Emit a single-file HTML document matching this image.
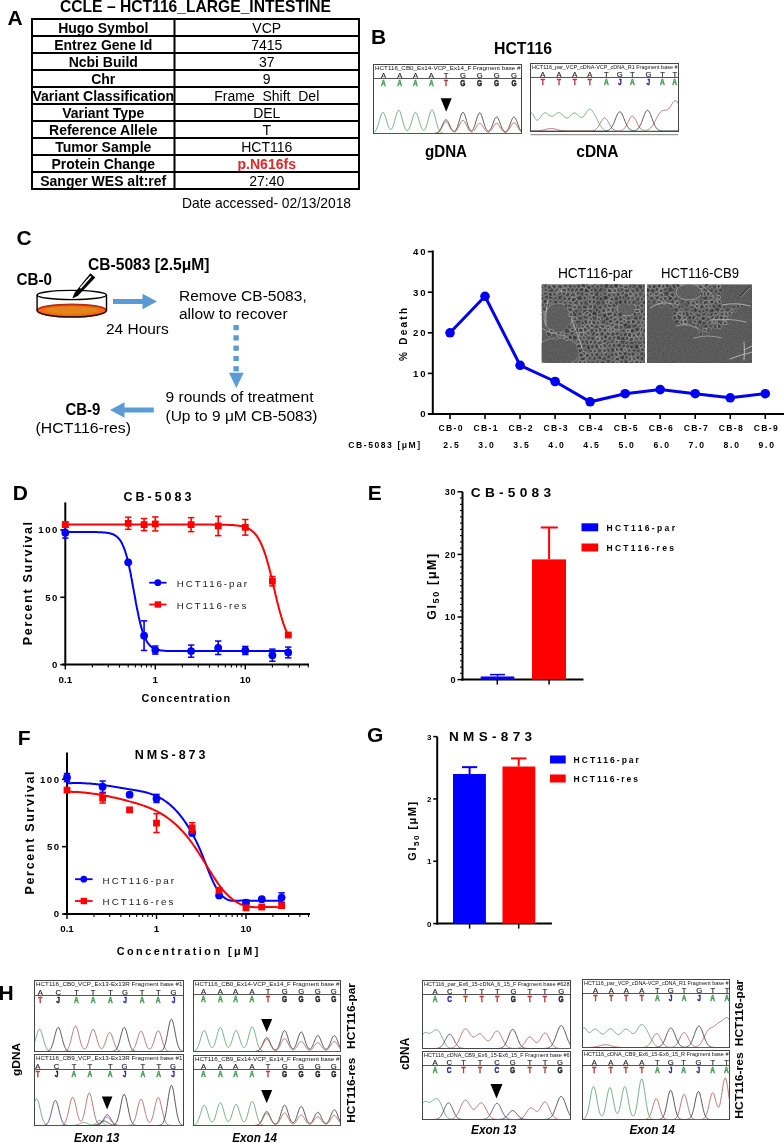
<!DOCTYPE html>
<html><head><meta charset="utf-8"><style>
html,body{margin:0;padding:0;background:#fff;width:784px;height:1143px;overflow:hidden}
svg{display:block;will-change:transform}
text{font-family:"Liberation Sans", sans-serif}
</style></head><body>
<svg width="784" height="1143" viewBox="0 0 784 1143" font-family='"Liberation Sans", sans-serif'>
<rect width="784" height="1143" fill="#fff"/>
<text x="7.50" y="25.30" font-size="21" font-weight="bold" >A</text>
<text x="60.00" y="11.60" font-size="16.5" font-weight="bold" textLength="271.00" lengthAdjust="spacingAndGlyphs" >CCLE – HCT116_LARGE_INTESTINE</text>
<text x="103.25" y="33.00" font-size="14" font-weight="bold" text-anchor="middle" >Hugo Symbol</text>
<text x="266.75" y="33.00" font-size="14" text-anchor="middle" >VCP</text>
<text x="103.25" y="50.00" font-size="14" font-weight="bold" text-anchor="middle" >Entrez Gene Id</text>
<text x="266.75" y="50.00" font-size="14" text-anchor="middle" >7415</text>
<text x="103.25" y="67.00" font-size="14" font-weight="bold" text-anchor="middle" >Ncbi Build</text>
<text x="266.75" y="67.00" font-size="14" text-anchor="middle" >37</text>
<text x="103.25" y="84.00" font-size="14" font-weight="bold" text-anchor="middle" >Chr</text>
<text x="266.75" y="84.00" font-size="14" text-anchor="middle" >9</text>
<text x="103.25" y="101.00" font-size="14" font-weight="bold" text-anchor="middle" >Variant Classification</text>
<text x="266.75" y="101.00" font-size="14" text-anchor="middle" >Frame_Shift_Del</text>
<text x="103.25" y="118.00" font-size="14" font-weight="bold" text-anchor="middle" >Variant Type</text>
<text x="266.75" y="118.00" font-size="14" text-anchor="middle" >DEL</text>
<text x="103.25" y="135.00" font-size="14" font-weight="bold" text-anchor="middle" >Reference Allele</text>
<text x="266.75" y="135.00" font-size="14" text-anchor="middle" >T</text>
<text x="103.25" y="152.00" font-size="14" font-weight="bold" text-anchor="middle" >Tumor Sample</text>
<text x="266.75" y="152.00" font-size="14" text-anchor="middle" >HCT116</text>
<text x="103.25" y="169.00" font-size="14" font-weight="bold" text-anchor="middle" >Protein Change</text>
<text x="266.75" y="169.00" font-size="14" font-weight="bold" fill="#e3262a" text-anchor="middle" >p.N616fs</text>
<text x="103.25" y="186.00" font-size="14" font-weight="bold" text-anchor="middle" >Sanger WES alt:ref</text>
<text x="266.75" y="186.00" font-size="14" text-anchor="middle" >27:40</text>
<line x1="32.00" y1="36.00" x2="359.00" y2="36.00" stroke="#000" stroke-width="2" />
<line x1="32.00" y1="53.00" x2="359.00" y2="53.00" stroke="#000" stroke-width="2" />
<line x1="32.00" y1="70.00" x2="359.00" y2="70.00" stroke="#000" stroke-width="2" />
<line x1="32.00" y1="87.00" x2="359.00" y2="87.00" stroke="#000" stroke-width="2" />
<line x1="32.00" y1="104.00" x2="359.00" y2="104.00" stroke="#000" stroke-width="2" />
<line x1="32.00" y1="121.00" x2="359.00" y2="121.00" stroke="#000" stroke-width="2" />
<line x1="32.00" y1="138.00" x2="359.00" y2="138.00" stroke="#000" stroke-width="2" />
<line x1="32.00" y1="155.00" x2="359.00" y2="155.00" stroke="#000" stroke-width="2" />
<line x1="32.00" y1="172.00" x2="359.00" y2="172.00" stroke="#000" stroke-width="2" />
<rect x="32.00" y="19.00" width="327.00" height="170.00" fill="none" stroke="#000" stroke-width="2" />
<line x1="174.50" y1="19.00" x2="174.50" y2="189.00" stroke="#000" stroke-width="2" />
<text x="182.00" y="207.80" font-size="14.3" textLength="169.00" lengthAdjust="spacingAndGlyphs" >Date accessed- 02/13/2018</text>
<text x="371.10" y="43.80" font-size="21" font-weight="bold" >B</text>
<text x="494.00" y="54.00" font-size="16" font-weight="bold" textLength="58.00" lengthAdjust="spacingAndGlyphs" >HCT116</text>
<g>
<rect x="373.50" y="64.50" width="148.00" height="69.00" fill="#fff" stroke="#444" stroke-width="1" />
<clipPath id="c38"><rect x="373.5" y="64.5" width="148.0" height="69.0"/></clipPath>
<g clip-path="url(#c38)">
<text x="375.00" y="70.30" font-size="5.8" fill="#111" textLength="145.50" lengthAdjust="spacingAndGlyphs" >HCT116_CB0_Ex14-VCP_Ex14_F Fragment base #</text>
<text x="383.50" y="77.50" font-size="7.6" fill="#222" text-anchor="middle" stroke="#222" stroke-width="0.15">A</text>
<text x="399.70" y="77.50" font-size="7.6" fill="#222" text-anchor="middle" stroke="#222" stroke-width="0.15">A</text>
<text x="415.50" y="77.50" font-size="7.6" fill="#222" text-anchor="middle" stroke="#222" stroke-width="0.15">A</text>
<text x="431.30" y="77.50" font-size="7.6" fill="#222" text-anchor="middle" stroke="#222" stroke-width="0.15">A</text>
<text x="446.00" y="77.50" font-size="7.6" fill="#222" text-anchor="middle" stroke="#222" stroke-width="0.15">T</text>
<text x="462.90" y="77.50" font-size="7.6" fill="#222" text-anchor="middle" stroke="#222" stroke-width="0.15">G</text>
<text x="479.70" y="77.50" font-size="7.6" fill="#222" text-anchor="middle" stroke="#222" stroke-width="0.15">G</text>
<text x="496.60" y="77.50" font-size="7.6" fill="#222" text-anchor="middle" stroke="#222" stroke-width="0.15">G</text>
<text x="514.00" y="77.50" font-size="7.6" fill="#222" text-anchor="middle" stroke="#222" stroke-width="0.15">G</text>
<line x1="373.50" y1="78.50" x2="521.50" y2="78.50" stroke="#555" stroke-width="1" />
<text x="383.50" y="85.80" font-size="9.2" font-weight="bold" fill="#3f9a4f" text-anchor="middle" font-family="Liberation Mono, monospace" stroke="#3f9a4f" stroke-width="0.45" transform="translate(383.50 85.80) scale(0.72 1) translate(-383.50 -85.80)">A</text>
<text x="399.70" y="85.80" font-size="9.2" font-weight="bold" fill="#3f9a4f" text-anchor="middle" font-family="Liberation Mono, monospace" stroke="#3f9a4f" stroke-width="0.45" transform="translate(399.70 85.80) scale(0.72 1) translate(-399.70 -85.80)">A</text>
<text x="415.50" y="85.80" font-size="9.2" font-weight="bold" fill="#3f9a4f" text-anchor="middle" font-family="Liberation Mono, monospace" stroke="#3f9a4f" stroke-width="0.45" transform="translate(415.50 85.80) scale(0.72 1) translate(-415.50 -85.80)">A</text>
<text x="431.30" y="85.80" font-size="9.2" font-weight="bold" fill="#3f9a4f" text-anchor="middle" font-family="Liberation Mono, monospace" stroke="#3f9a4f" stroke-width="0.45" transform="translate(431.30 85.80) scale(0.72 1) translate(-431.30 -85.80)">A</text>
<text x="446.00" y="85.80" font-size="9.2" font-weight="bold" fill="#b83a3a" text-anchor="middle" font-family="Liberation Mono, monospace" stroke="#b83a3a" stroke-width="0.45" transform="translate(446.00 85.80) scale(0.72 1) translate(-446.00 -85.80)">T</text>
<text x="462.90" y="85.80" font-size="9.2" font-weight="bold" fill="#222222" text-anchor="middle" font-family="Liberation Mono, monospace" stroke="#222222" stroke-width="0.45" transform="translate(462.90 85.80) scale(0.72 1) translate(-462.90 -85.80)">G</text>
<text x="479.70" y="85.80" font-size="9.2" font-weight="bold" fill="#222222" text-anchor="middle" font-family="Liberation Mono, monospace" stroke="#222222" stroke-width="0.45" transform="translate(479.70 85.80) scale(0.72 1) translate(-479.70 -85.80)">G</text>
<text x="496.60" y="85.80" font-size="9.2" font-weight="bold" fill="#222222" text-anchor="middle" font-family="Liberation Mono, monospace" stroke="#222222" stroke-width="0.45" transform="translate(496.60 85.80) scale(0.72 1) translate(-496.60 -85.80)">G</text>
<text x="514.00" y="85.80" font-size="9.2" font-weight="bold" fill="#222222" text-anchor="middle" font-family="Liberation Mono, monospace" stroke="#222222" stroke-width="0.45" transform="translate(514.00 85.80) scale(0.72 1) translate(-514.00 -85.80)">G</text>
<polyline points="373.5,132.8 374.0,132.5 374.5,132.1 375.0,131.6 375.5,130.9 376.0,130.1 376.5,129.1 377.0,128.0 377.5,126.6 378.0,125.1 378.5,123.5 379.0,121.7 379.5,119.9 380.0,118.2 380.5,116.5 381.0,115.1 381.5,113.8 382.0,113.0 382.5,112.4 383.0,112.3 383.5,112.6 384.0,113.3 384.5,114.3 385.0,115.6 385.5,117.1 386.0,118.8 386.5,120.6 387.0,122.3 387.5,123.9 388.0,125.4 388.5,126.8 389.0,127.8 389.5,128.7 390.0,129.2 390.5,129.5 391.0,129.4 391.5,129.1 392.0,128.5 392.5,127.6 393.0,126.4 393.5,125.0 394.0,123.4 394.5,121.6 395.0,119.7 395.5,117.8 396.0,115.9 396.5,114.2 397.0,112.6 397.5,111.5 398.0,110.6 398.5,110.2 399.0,110.3 399.5,110.8 400.0,111.7 400.5,112.9 401.0,114.5 401.5,116.3 402.0,118.2 402.5,120.1 403.0,122.0 403.5,123.8 404.0,125.5 404.5,126.9 405.0,128.2 405.5,129.1 406.0,129.9 406.5,130.3 407.0,130.6 407.5,130.5 408.0,130.3 408.5,129.7 409.0,129.0 409.5,128.0 410.0,126.7 410.5,125.3 411.0,123.7 411.5,122.0 412.0,120.3 412.5,118.5 413.0,116.8 413.5,115.3 414.0,114.1 414.5,113.1 415.0,112.5 415.5,112.3 416.0,112.5 416.5,113.1 417.0,114.1 417.5,115.3 418.0,116.8 418.5,118.5 419.0,120.2 419.5,122.0 420.0,123.7 420.5,125.3 421.0,126.7 421.5,127.9 422.0,128.8 422.5,129.6 423.0,130.0 423.5,130.2 424.0,130.2 424.5,129.9 425.0,129.3 425.5,128.4 426.0,127.3 426.5,125.9 427.0,124.3 427.5,122.5 428.0,120.6 428.5,118.6 429.0,116.7 429.5,114.8 430.0,113.1 430.5,111.7 431.0,110.6 431.5,109.9 432.0,109.7 432.5,109.9 433.0,110.6 433.5,111.7 434.0,113.1 434.5,114.8 435.0,116.7 435.5,118.7 436.0,120.7 436.5,122.6 437.0,124.4 437.5,126.1 438.0,127.6 438.5,128.8 439.0,129.9 439.5,130.8 440.0,131.5 440.5,132.0 441.0,132.5 441.5,132.8 442.0,133.0 442.5,133.2 443.0,133.3 443.5,133.4 444.0,133.4 444.5,133.4 445.0,133.5 445.5,133.5 446.0,133.5 446.5,133.5 447.0,133.5 447.5,133.5 448.0,133.5 448.5,133.5 449.0,133.5 449.5,133.5 450.0,133.5 450.5,133.5 451.0,133.5 451.5,133.5 452.0,133.5 452.5,133.5 453.0,133.5 453.5,133.5 454.0,133.5 454.5,133.5 455.0,133.5 455.5,133.5 456.0,133.5 456.5,133.5 457.0,133.5 457.5,133.5 458.0,133.5 458.5,133.5 459.0,133.5 459.5,133.5 460.0,133.5 460.5,133.5 461.0,133.5 461.5,133.5 462.0,133.5 462.5,133.5 463.0,133.5 463.5,133.5 464.0,133.5 464.5,133.5 465.0,133.5 465.5,133.5 466.0,133.5 466.5,133.5 467.0,133.5 467.5,133.5 468.0,133.5 468.5,133.5 469.0,133.5 469.5,133.5 470.0,133.5 470.5,133.5 471.0,133.5 471.5,133.5 472.0,133.5 472.5,133.5 473.0,133.5 473.5,133.5 474.0,133.5 474.5,133.5 475.0,133.5 475.5,133.5 476.0,133.5 476.5,133.5 477.0,133.5 477.5,133.5 478.0,133.5 478.5,133.5 479.0,133.5 479.5,133.5 480.0,133.5 480.5,133.5 481.0,133.5 481.5,133.5 482.0,133.5 482.5,133.5 483.0,133.5 483.5,133.5 484.0,133.5 484.5,133.5 485.0,133.5 485.5,133.5 486.0,133.5 486.5,133.5 487.0,133.5 487.5,133.5 488.0,133.5 488.5,133.5 489.0,133.5 489.5,133.5 490.0,133.5 490.5,133.5 491.0,133.5 491.5,133.5 492.0,133.5 492.5,133.5 493.0,133.5 493.5,133.5 494.0,133.5 494.5,133.5 495.0,133.5 495.5,133.5 496.0,133.5 496.5,133.5 497.0,133.5 497.5,133.5 498.0,133.5 498.5,133.5 499.0,133.5 499.5,133.5 500.0,133.5 500.5,133.5 501.0,133.5 501.5,133.5 502.0,133.5 502.5,133.5 503.0,133.5 503.5,133.5 504.0,133.5 504.5,133.5 505.0,133.5 505.5,133.5 506.0,133.5 506.5,133.5 507.0,133.5 507.5,133.5 508.0,133.5 508.5,133.5 509.0,133.5 509.5,133.5 510.0,133.5 510.5,133.5 511.0,133.5 511.5,133.5 512.0,133.5 512.5,133.5 513.0,133.5 513.5,133.5 514.0,133.5 514.5,133.5 515.0,133.5 515.5,133.5 516.0,133.5 516.5,133.5 517.0,133.5 517.5,133.5 518.0,133.5 518.5,133.5 519.0,133.5 519.5,133.5 520.0,133.5 520.5,133.5 521.0,133.5 521.5,133.5" fill="none" stroke="#62a070" stroke-width="0.85"/>
<polyline points="373.5,133.5 374.0,133.5 374.5,133.5 375.0,133.5 375.5,133.5 376.0,133.5 376.5,133.5 377.0,133.5 377.5,133.5 378.0,133.5 378.5,133.5 379.0,133.5 379.5,133.5 380.0,133.5 380.5,133.5 381.0,133.5 381.5,133.5 382.0,133.5 382.5,133.5 383.0,133.5 383.5,133.5 384.0,133.5 384.5,133.5 385.0,133.5 385.5,133.5 386.0,133.5 386.5,133.5 387.0,133.5 387.5,133.5 388.0,133.5 388.5,133.5 389.0,133.5 389.5,133.5 390.0,133.5 390.5,133.5 391.0,133.5 391.5,133.5 392.0,133.5 392.5,133.5 393.0,133.5 393.5,133.5 394.0,133.5 394.5,133.5 395.0,133.5 395.5,133.5 396.0,133.5 396.5,133.5 397.0,133.5 397.5,133.5 398.0,133.5 398.5,133.5 399.0,133.5 399.5,133.5 400.0,133.5 400.5,133.5 401.0,133.5 401.5,133.5 402.0,133.5 402.5,133.5 403.0,133.5 403.5,133.5 404.0,133.5 404.5,133.5 405.0,133.5 405.5,133.5 406.0,133.5 406.5,133.5 407.0,133.5 407.5,133.5 408.0,133.5 408.5,133.5 409.0,133.5 409.5,133.5 410.0,133.5 410.5,133.5 411.0,133.5 411.5,133.5 412.0,133.5 412.5,133.5 413.0,133.5 413.5,133.5 414.0,133.5 414.5,133.5 415.0,133.5 415.5,133.5 416.0,133.5 416.5,133.5 417.0,133.5 417.5,133.5 418.0,133.5 418.5,133.5 419.0,133.5 419.5,133.5 420.0,133.5 420.5,133.5 421.0,133.5 421.5,133.5 422.0,133.5 422.5,133.5 423.0,133.5 423.5,133.5 424.0,133.5 424.5,133.5 425.0,133.5 425.5,133.5 426.0,133.5 426.5,133.5 427.0,133.5 427.5,133.5 428.0,133.5 428.5,133.5 429.0,133.5 429.5,133.5 430.0,133.5 430.5,133.5 431.0,133.5 431.5,133.5 432.0,133.5 432.5,133.5 433.0,133.5 433.5,133.5 434.0,133.4 434.5,133.4 435.0,133.4 435.5,133.3 436.0,133.2 436.5,133.1 437.0,132.9 437.5,132.7 438.0,132.3 438.5,131.9 439.0,131.4 439.5,130.8 440.0,130.1 440.5,129.2 441.0,128.3 441.5,127.2 442.0,126.1 442.5,125.0 443.0,123.8 443.5,122.7 444.0,121.8 444.5,120.9 445.0,120.3 445.5,119.9 446.0,119.8 446.5,119.9 447.0,120.3 447.5,120.9 448.0,121.8 448.5,122.7 449.0,123.8 449.5,124.9 450.0,126.1 450.5,127.2 451.0,128.2 451.5,129.1 452.0,129.9 452.5,130.5 453.0,130.9 453.5,131.2 454.0,131.3 454.5,131.3 455.0,131.0 455.5,130.5 456.0,129.8 456.5,128.9 457.0,127.8 457.5,126.5 458.0,125.1 458.5,123.4 459.0,121.7 459.5,119.9 460.0,118.2 460.5,116.5 461.0,115.1 461.5,113.8 462.0,113.0 462.5,112.4 463.0,112.3 463.5,112.6 464.0,113.3 464.5,114.3 465.0,115.6 465.5,117.2 466.0,118.9 466.5,120.6 467.0,122.4 467.5,124.1 468.0,125.6 468.5,127.0 469.0,128.2 469.5,129.2 470.0,129.9 470.5,130.4 471.0,130.7 471.5,130.7 472.0,130.5 472.5,130.1 473.0,129.4 473.5,128.5 474.0,127.4 474.5,126.1 475.0,124.6 475.5,123.0 476.0,121.3 476.5,119.6 477.0,117.9 477.5,116.4 478.0,115.1 478.5,114.0 479.0,113.3 479.5,112.9 480.0,113.0 480.5,113.4 481.0,114.2 481.5,115.3 482.0,116.7 482.5,118.3 483.0,120.0 483.5,121.7 484.0,123.4 484.5,125.0 485.0,126.4 485.5,127.7 486.0,128.8 486.5,129.7 487.0,130.4 487.5,130.9 488.0,131.1 488.5,131.1 489.0,131.0 489.5,130.6 490.0,130.1 490.5,129.3 491.0,128.4 491.5,127.4 492.0,126.1 492.5,124.8 493.0,123.5 493.5,122.1 494.0,120.8 494.5,119.6 495.0,118.5 495.5,117.8 496.0,117.2 496.5,117.0 497.0,117.1 497.5,117.5 498.0,118.2 498.5,119.1 499.0,120.3 499.5,121.6 500.0,122.9 500.5,124.3 501.0,125.7 501.5,126.9 502.0,128.1 502.5,129.1 503.0,129.9 503.5,130.6 504.0,131.2 504.5,131.5 505.0,131.7 505.5,131.7 506.0,131.6 506.5,131.2 507.0,130.8 507.5,130.1 508.0,129.3 508.5,128.3 509.0,127.2 509.5,125.9 510.0,124.6 510.5,123.2 511.0,121.8 511.5,120.5 512.0,119.4 512.5,118.4 513.0,117.6 513.5,117.2 514.0,117.0 514.5,117.2 515.0,117.6 515.5,118.4 516.0,119.4 516.5,120.5 517.0,121.8 517.5,123.2 518.0,124.6 518.5,125.9 519.0,127.2 519.5,128.4 520.0,129.4 520.5,130.3 521.0,131.0 521.5,131.6" fill="none" stroke="#3a3a3a" stroke-width="0.85"/>
<polyline points="373.5,133.5 374.0,133.5 374.5,133.5 375.0,133.5 375.5,133.5 376.0,133.5 376.5,133.5 377.0,133.5 377.5,133.5 378.0,133.5 378.5,133.5 379.0,133.5 379.5,133.5 380.0,133.5 380.5,133.5 381.0,133.5 381.5,133.5 382.0,133.5 382.5,133.5 383.0,133.5 383.5,133.5 384.0,133.5 384.5,133.5 385.0,133.5 385.5,133.5 386.0,133.5 386.5,133.5 387.0,133.5 387.5,133.5 388.0,133.5 388.5,133.5 389.0,133.5 389.5,133.5 390.0,133.5 390.5,133.5 391.0,133.5 391.5,133.5 392.0,133.5 392.5,133.5 393.0,133.5 393.5,133.5 394.0,133.5 394.5,133.5 395.0,133.5 395.5,133.5 396.0,133.5 396.5,133.5 397.0,133.5 397.5,133.5 398.0,133.5 398.5,133.5 399.0,133.5 399.5,133.5 400.0,133.5 400.5,133.5 401.0,133.5 401.5,133.5 402.0,133.5 402.5,133.5 403.0,133.5 403.5,133.5 404.0,133.5 404.5,133.5 405.0,133.5 405.5,133.5 406.0,133.5 406.5,133.5 407.0,133.5 407.5,133.5 408.0,133.5 408.5,133.5 409.0,133.5 409.5,133.5 410.0,133.5 410.5,133.5 411.0,133.5 411.5,133.5 412.0,133.5 412.5,133.5 413.0,133.5 413.5,133.5 414.0,133.5 414.5,133.5 415.0,133.5 415.5,133.5 416.0,133.5 416.5,133.5 417.0,133.5 417.5,133.5 418.0,133.5 418.5,133.5 419.0,133.5 419.5,133.5 420.0,133.5 420.5,133.5 421.0,133.5 421.5,133.5 422.0,133.5 422.5,133.5 423.0,133.5 423.5,133.5 424.0,133.5 424.5,133.5 425.0,133.5 425.5,133.5 426.0,133.5 426.5,133.5 427.0,133.5 427.5,133.5 428.0,133.5 428.5,133.5 429.0,133.5 429.5,133.5 430.0,133.5 430.5,133.5 431.0,133.5 431.5,133.5 432.0,133.5 432.5,133.5 433.0,133.5 433.5,133.5 434.0,133.5 434.5,133.4 435.0,133.4 435.5,133.3 436.0,133.3 436.5,133.1 437.0,133.0 437.5,132.8 438.0,132.5 438.5,132.2 439.0,131.8 439.5,131.2 440.0,130.6 440.5,129.9 441.0,129.1 441.5,128.2 442.0,127.3 442.5,126.3 443.0,125.4 443.5,124.5 444.0,123.6 444.5,123.0 445.0,122.4 445.5,122.1 446.0,122.0 446.5,122.1 447.0,122.4 447.5,123.0 448.0,123.6 448.5,124.5 449.0,125.4 449.5,126.3 450.0,127.3 450.5,128.2 451.0,129.1 451.5,129.8 452.0,130.5 452.5,131.0 453.0,131.5 453.5,131.8 454.0,131.9 454.5,131.9 455.0,131.8 455.5,131.6 456.0,131.2 456.5,130.6 457.0,129.9 457.5,129.1 458.0,128.2 458.5,127.2 459.0,126.1 459.5,125.0 460.0,124.0 460.5,122.9 461.0,122.0 461.5,121.3 462.0,120.7 462.5,120.4 463.0,120.3 463.5,120.5 464.0,120.9 464.5,121.5 465.0,122.4 465.5,123.3 466.0,124.4 466.5,125.5 467.0,126.6 467.5,127.6 468.0,128.6 468.5,129.5 469.0,130.2 469.5,130.9 470.0,131.3 470.5,131.7 471.0,131.9 471.5,132.0 472.0,131.9 472.5,131.8 473.0,131.5 473.5,131.0 474.0,130.5 474.5,129.9 475.0,129.1 475.5,128.4 476.0,127.5 476.5,126.7 477.0,125.9 477.5,125.1 478.0,124.5 478.5,123.9 479.0,123.6 479.5,123.4 480.0,123.4 480.5,123.6 481.0,124.0 481.5,124.6 482.0,125.3 482.5,126.0 483.0,126.9 483.5,127.7 484.0,128.5 484.5,129.3 485.0,130.0 485.5,130.7 486.0,131.2 486.5,131.6 487.0,131.9 487.5,132.1 488.0,132.2 488.5,132.2 489.0,132.1 489.5,131.8 490.0,131.5 490.5,131.0 491.0,130.4 491.5,129.8 492.0,129.0 492.5,128.2 493.0,127.4 493.5,126.5 494.0,125.7 494.5,125.0 495.0,124.3 495.5,123.9 496.0,123.5 496.5,123.4 497.0,123.5 497.5,123.7 498.0,124.1 498.5,124.7 499.0,125.4 499.5,126.2 500.0,127.0 500.5,127.9 501.0,128.7 501.5,129.5 502.0,130.2 502.5,130.8 503.0,131.3 503.5,131.7 504.0,132.1 504.5,132.3 505.0,132.4 505.5,132.4 506.0,132.3 506.5,132.0 507.0,131.7 507.5,131.3 508.0,130.8 508.5,130.1 509.0,129.4 509.5,128.6 510.0,127.7 510.5,126.8 511.0,125.9 511.5,125.1 512.0,124.3 512.5,123.7 513.0,123.2 513.5,122.9 514.0,122.8 514.5,122.9 515.0,123.2 515.5,123.7 516.0,124.3 516.5,125.1 517.0,125.9 517.5,126.8 518.0,127.7 518.5,128.6 519.0,129.4 519.5,130.2 520.0,130.8 520.5,131.4 521.0,131.9 521.5,132.3" fill="none" stroke="#b06060" stroke-width="0.85"/>
<polygon points="440.7,98.2 451.7,98.2 446.2,111.8" fill="#000"/>
</g></g>
<g>
<rect x="530.50" y="63.50" width="148.00" height="68.00" fill="#fff" stroke="#444" stroke-width="1" />
<clipPath id="c67"><rect x="530.5" y="63.5" width="148.0" height="68.0"/></clipPath>
<g clip-path="url(#c67)">
<text x="532.00" y="69.30" font-size="5.8" fill="#111" textLength="145.50" lengthAdjust="spacingAndGlyphs" >HCT116_par_VCP_cDNA-VCP_cDNA_R1 Fragment base #</text>
<text x="542.80" y="76.50" font-size="7.6" fill="#222" text-anchor="middle" stroke="#222" stroke-width="0.15">A</text>
<text x="559.00" y="76.50" font-size="7.6" fill="#222" text-anchor="middle" stroke="#222" stroke-width="0.15">A</text>
<text x="574.70" y="76.50" font-size="7.6" fill="#222" text-anchor="middle" stroke="#222" stroke-width="0.15">A</text>
<text x="589.80" y="76.50" font-size="7.6" fill="#222" text-anchor="middle" stroke="#222" stroke-width="0.15">A</text>
<text x="606.30" y="76.50" font-size="7.6" fill="#222" text-anchor="middle" stroke="#222" stroke-width="0.15">T</text>
<text x="619.80" y="76.50" font-size="7.6" fill="#222" text-anchor="middle" stroke="#222" stroke-width="0.15">G</text>
<text x="632.40" y="76.50" font-size="7.6" fill="#222" text-anchor="middle" stroke="#222" stroke-width="0.15">T</text>
<text x="648.40" y="76.50" font-size="7.6" fill="#222" text-anchor="middle" stroke="#222" stroke-width="0.15">G</text>
<text x="662.50" y="76.50" font-size="7.6" fill="#222" text-anchor="middle" stroke="#222" stroke-width="0.15">T</text>
<text x="674.70" y="76.50" font-size="7.6" fill="#222" text-anchor="middle" stroke="#222" stroke-width="0.15">T</text>
<line x1="530.50" y1="77.50" x2="678.50" y2="77.50" stroke="#555" stroke-width="1" />
<text x="542.80" y="84.80" font-size="9.2" font-weight="bold" fill="#b83a3a" text-anchor="middle" font-family="Liberation Mono, monospace" stroke="#b83a3a" stroke-width="0.45" transform="translate(542.80 84.80) scale(0.72 1) translate(-542.80 -84.80)">T</text>
<text x="559.00" y="84.80" font-size="9.2" font-weight="bold" fill="#b83a3a" text-anchor="middle" font-family="Liberation Mono, monospace" stroke="#b83a3a" stroke-width="0.45" transform="translate(559.00 84.80) scale(0.72 1) translate(-559.00 -84.80)">T</text>
<text x="574.70" y="84.80" font-size="9.2" font-weight="bold" fill="#b83a3a" text-anchor="middle" font-family="Liberation Mono, monospace" stroke="#b83a3a" stroke-width="0.45" transform="translate(574.70 84.80) scale(0.72 1) translate(-574.70 -84.80)">T</text>
<text x="589.80" y="84.80" font-size="9.2" font-weight="bold" fill="#b83a3a" text-anchor="middle" font-family="Liberation Mono, monospace" stroke="#b83a3a" stroke-width="0.45" transform="translate(589.80 84.80) scale(0.72 1) translate(-589.80 -84.80)">T</text>
<text x="606.30" y="84.80" font-size="9.2" font-weight="bold" fill="#3f9a4f" text-anchor="middle" font-family="Liberation Mono, monospace" stroke="#3f9a4f" stroke-width="0.45" transform="translate(606.30 84.80) scale(0.72 1) translate(-606.30 -84.80)">A</text>
<text x="619.80" y="84.80" font-size="9.2" font-weight="bold" fill="#2b2ba0" text-anchor="middle" font-family="Liberation Mono, monospace" stroke="#2b2ba0" stroke-width="0.45" transform="translate(619.80 84.80) scale(0.72 1) translate(-619.80 -84.80)">J</text>
<text x="632.40" y="84.80" font-size="9.2" font-weight="bold" fill="#3f9a4f" text-anchor="middle" font-family="Liberation Mono, monospace" stroke="#3f9a4f" stroke-width="0.45" transform="translate(632.40 84.80) scale(0.72 1) translate(-632.40 -84.80)">A</text>
<text x="648.40" y="84.80" font-size="9.2" font-weight="bold" fill="#2b2ba0" text-anchor="middle" font-family="Liberation Mono, monospace" stroke="#2b2ba0" stroke-width="0.45" transform="translate(648.40 84.80) scale(0.72 1) translate(-648.40 -84.80)">J</text>
<text x="662.50" y="84.80" font-size="9.2" font-weight="bold" fill="#3f9a4f" text-anchor="middle" font-family="Liberation Mono, monospace" stroke="#3f9a4f" stroke-width="0.45" transform="translate(662.50 84.80) scale(0.72 1) translate(-662.50 -84.80)">A</text>
<text x="674.70" y="84.80" font-size="9.2" font-weight="bold" fill="#3f9a4f" text-anchor="middle" font-family="Liberation Mono, monospace" stroke="#3f9a4f" stroke-width="0.45" transform="translate(674.70 84.80) scale(0.72 1) translate(-674.70 -84.80)">A</text>
<polyline points="530.5,113.5 531.0,113.1 531.5,113.1 532.0,113.4 532.5,113.9 533.0,114.6 533.5,115.5 534.0,116.4 534.5,117.3 535.0,118.2 535.5,119.0 536.0,119.6 536.5,120.0 537.0,120.2 537.5,120.2 538.0,120.0 538.5,119.6 539.0,119.1 539.5,118.5 540.0,117.8 540.5,117.1 541.0,116.3 541.5,115.6 542.0,114.9 542.5,114.3 543.0,113.8 543.5,113.4 544.0,113.1 544.5,112.9 545.0,112.9 545.5,112.9 546.0,113.1 546.5,113.3 547.0,113.6 547.5,114.0 548.0,114.3 548.5,114.7 549.0,115.1 549.5,115.5 550.0,115.8 550.5,116.0 551.0,116.2 551.5,116.3 552.0,116.3 552.5,116.2 553.0,116.0 553.5,115.8 554.0,115.5 554.5,115.1 555.0,114.7 555.5,114.3 556.0,113.9 556.5,113.5 557.0,113.2 557.5,112.9 558.0,112.7 558.5,112.6 559.0,112.6 559.5,112.7 560.0,112.9 560.5,113.2 561.0,113.6 561.5,114.0 562.0,114.5 562.5,115.0 563.0,115.5 563.5,116.1 564.0,116.6 564.5,117.0 565.0,117.4 565.5,117.7 566.0,117.9 566.5,118.0 567.0,118.0 567.5,117.9 568.0,117.7 568.5,117.4 569.0,117.0 569.5,116.6 570.0,116.1 570.5,115.6 571.0,115.1 571.5,114.6 572.0,114.1 572.5,113.7 573.0,113.4 573.5,113.1 574.0,113.0 574.5,112.9 575.0,113.0 575.5,113.2 576.0,113.5 576.5,113.8 577.0,114.2 577.5,114.7 578.0,115.2 578.5,115.7 579.0,116.2 579.5,116.6 580.0,117.0 580.5,117.3 581.0,117.5 581.5,117.5 582.0,117.4 582.5,117.2 583.0,116.9 583.5,116.4 584.0,115.8 584.5,115.2 585.0,114.4 585.5,113.7 586.0,112.9 586.5,112.1 587.0,111.4 587.5,110.7 588.0,110.1 588.5,109.7 589.0,109.4 589.5,109.2 590.0,109.2 590.5,109.3 591.0,109.6 591.5,110.0 592.0,110.5 592.5,111.1 593.0,111.9 593.5,112.7 594.0,113.5 594.5,114.4 595.0,115.4 595.5,116.3 596.0,117.3 596.5,118.3 597.0,119.3 597.5,120.3 598.0,121.3 598.5,122.3 599.0,123.2 599.5,124.1 600.0,125.0 600.5,125.8 601.0,126.5 601.5,127.2 602.0,127.8 602.5,128.4 603.0,128.8 603.5,129.3 604.0,129.6 604.5,129.9 605.0,130.2 605.5,130.4 606.0,130.5 606.5,130.6 607.0,130.7 607.5,130.8 608.0,130.9 608.5,130.9 609.0,130.9 609.5,131.0 610.0,131.0 610.5,131.0 611.0,131.0 611.5,131.0 612.0,131.0 612.5,131.0 613.0,131.0 613.5,131.0 614.0,131.0 614.5,131.0 615.0,131.0 615.5,131.0 616.0,131.0 616.5,131.0 617.0,131.0 617.5,131.0 618.0,131.0 618.5,131.0 619.0,131.0 619.5,131.0 620.0,131.0 620.5,131.0 621.0,131.0 621.5,131.0 622.0,131.0 622.5,131.0 623.0,131.0 623.5,131.0 624.0,131.0 624.5,131.0 625.0,131.0 625.5,131.0 626.0,131.0 626.5,131.0 627.0,131.0 627.5,131.0 628.0,131.0 628.5,131.0 629.0,131.0 629.5,131.0 630.0,131.0 630.5,131.0 631.0,131.0 631.5,131.0 632.0,131.0 632.5,131.0 633.0,131.0 633.5,131.0 634.0,131.0 634.5,131.0 635.0,131.0 635.5,131.0 636.0,131.0 636.5,131.0 637.0,131.0 637.5,131.0 638.0,131.0 638.5,131.0 639.0,131.0 639.5,131.0 640.0,131.0 640.5,131.0 641.0,131.0 641.5,131.0 642.0,131.0 642.5,131.0 643.0,131.0 643.5,131.0 644.0,131.0 644.5,131.0 645.0,131.0 645.5,131.0 646.0,131.0 646.5,131.0 647.0,131.0 647.5,131.0 648.0,131.0 648.5,131.0 649.0,131.0 649.5,131.0 650.0,131.0 650.5,131.0 651.0,131.0 651.5,131.0 652.0,131.0 652.5,131.0 653.0,131.0 653.5,131.0 654.0,131.0 654.5,131.0 655.0,131.0 655.5,131.0 656.0,131.0 656.5,131.0 657.0,131.0 657.5,131.0 658.0,131.0 658.5,131.0 659.0,131.0 659.5,131.0 660.0,131.0 660.5,131.0 661.0,131.0 661.5,131.0 662.0,131.0 662.5,131.0 663.0,131.0 663.5,131.0 664.0,131.0 664.5,131.0 665.0,131.0 665.5,131.0 666.0,131.0 666.5,131.0 667.0,131.0 667.5,131.0 668.0,131.0 668.5,131.0 669.0,131.0 669.5,131.0 670.0,131.0 670.5,131.0 671.0,131.0 671.5,131.0 672.0,131.0 672.5,131.0 673.0,131.0 673.5,131.0 674.0,131.0 674.5,131.0 675.0,131.0 675.5,131.0 676.0,131.0 676.5,131.0 677.0,131.0 677.5,131.0 678.0,131.0 678.5,131.0" fill="none" stroke="#62a070" stroke-width="0.85"/>
<polyline points="530.5,131.0 531.0,131.0 531.5,131.0 532.0,131.0 532.5,131.0 533.0,131.0 533.5,131.0 534.0,131.0 534.5,130.9 535.0,130.9 535.5,130.9 536.0,130.9 536.5,130.9 537.0,130.8 537.5,130.8 538.0,130.8 538.5,130.7 539.0,130.7 539.5,130.6 540.0,130.5 540.5,130.5 541.0,130.4 541.5,130.3 542.0,130.2 542.5,130.1 543.0,130.0 543.5,129.9 544.0,129.7 544.5,129.6 545.0,129.5 545.5,129.4 546.0,129.2 546.5,129.1 547.0,129.0 547.5,128.9 548.0,128.8 548.5,128.7 549.0,128.6 549.5,128.6 550.0,128.5 550.5,128.5 551.0,128.5 551.5,128.5 552.0,128.5 552.5,128.6 553.0,128.6 553.5,128.7 554.0,128.8 554.5,128.9 555.0,129.0 555.5,129.1 556.0,129.2 556.5,129.4 557.0,129.5 557.5,129.6 558.0,129.7 558.5,129.9 559.0,130.0 559.5,130.1 560.0,130.2 560.5,130.3 561.0,130.4 561.5,130.5 562.0,130.5 562.5,130.6 563.0,130.7 563.5,130.7 564.0,130.8 564.5,130.8 565.0,130.8 565.5,130.9 566.0,130.9 566.5,130.9 567.0,130.9 567.5,130.9 568.0,131.0 568.5,131.0 569.0,131.0 569.5,131.0 570.0,131.0 570.5,131.0 571.0,131.0 571.5,131.0 572.0,131.0 572.5,131.0 573.0,131.0 573.5,131.0 574.0,131.0 574.5,131.0 575.0,131.0 575.5,131.0 576.0,131.0 576.5,131.0 577.0,131.0 577.5,131.0 578.0,131.0 578.5,131.0 579.0,131.0 579.5,131.0 580.0,131.0 580.5,131.0 581.0,131.0 581.5,131.0 582.0,131.0 582.5,131.0 583.0,131.0 583.5,131.0 584.0,131.0 584.5,131.0 585.0,131.0 585.5,131.0 586.0,131.0 586.5,131.0 587.0,131.0 587.5,131.0 588.0,131.0 588.5,131.0 589.0,131.0 589.5,131.0 590.0,131.0 590.5,130.9 591.0,130.9 591.5,130.9 592.0,130.8 592.5,130.8 593.0,130.7 593.5,130.5 594.0,130.4 594.5,130.2 595.0,129.9 595.5,129.6 596.0,129.2 596.5,128.8 597.0,128.3 597.5,127.7 598.0,127.0 598.5,126.2 599.0,125.4 599.5,124.6 600.0,123.7 600.5,122.7 601.0,121.8 601.5,121.0 602.0,120.2 602.5,119.5 603.0,118.9 603.5,118.4 604.0,118.1 604.5,118.0 605.0,118.1 605.5,118.3 606.0,118.7 606.5,119.2 607.0,119.9 607.5,120.6 608.0,121.5 608.5,122.4 609.0,123.3 609.5,124.2 610.0,125.1 610.5,125.9 611.0,126.7 611.5,127.4 612.0,128.0 612.5,128.6 613.0,129.1 613.5,129.5 614.0,129.8 614.5,130.1 615.0,130.3 615.5,130.5 616.0,130.6 616.5,130.7 617.0,130.8 617.5,130.8 618.0,130.8 618.5,130.9 619.0,130.8 619.5,130.8 620.0,130.7 620.5,130.7 621.0,130.6 621.5,130.4 622.0,130.2 622.5,130.0 623.0,129.6 623.5,129.3 624.0,128.8 624.5,128.3 625.0,127.6 625.5,126.9 626.0,126.1 626.5,125.2 627.0,124.3 627.5,123.3 628.0,122.2 628.5,121.2 629.0,120.2 629.5,119.2 630.0,118.3 630.5,117.6 631.0,117.0 631.5,116.5 632.0,116.3 632.5,116.2 633.0,116.3 633.5,116.7 634.0,117.2 634.5,117.9 635.0,118.7 635.5,119.6 636.0,120.6 636.5,121.6 637.0,122.6 637.5,123.7 638.0,124.7 638.5,125.6 639.0,126.4 639.5,127.2 640.0,127.9 640.5,128.5 641.0,129.0 641.5,129.4 642.0,129.7 642.5,130.0 643.0,130.2 643.5,130.3 644.0,130.4 644.5,130.4 645.0,130.5 645.5,130.4 646.0,130.4 646.5,130.3 647.0,130.1 647.5,129.9 648.0,129.7 648.5,129.5 649.0,129.2 649.5,128.8 650.0,128.4 650.5,128.0 651.0,127.5 651.5,126.9 652.0,126.3 652.5,125.6 653.0,124.8 653.5,124.0 654.0,123.2 654.5,122.3 655.0,121.4 655.5,120.4 656.0,119.4 656.5,118.5 657.0,117.5 657.5,116.6 658.0,115.6 658.5,114.8 659.0,114.0 659.5,113.3 660.0,112.6 660.5,112.0 661.0,111.6 661.5,111.2 662.0,110.9 662.5,110.6 663.0,110.5 663.5,110.4 664.0,110.3 664.5,110.3 665.0,110.3 665.5,110.3 666.0,110.2 666.5,110.1 667.0,110.0 667.5,109.7 668.0,109.4 668.5,109.0 669.0,108.5 669.5,107.9 670.0,107.2 670.5,106.4 671.0,105.6 671.5,104.8 672.0,104.0 672.5,103.2 673.0,102.5 673.5,101.8 674.0,101.3 674.5,100.9 675.0,100.7 675.5,100.6 676.0,100.8 676.5,101.1 677.0,101.6 677.5,102.4 678.0,103.3 678.5,104.4" fill="none" stroke="#b06060" stroke-width="0.85"/>
<polyline points="530.5,131.0 531.0,131.0 531.5,131.0 532.0,131.0 532.5,131.0 533.0,131.0 533.5,131.0 534.0,131.0 534.5,131.0 535.0,131.0 535.5,131.0 536.0,131.0 536.5,131.0 537.0,131.0 537.5,131.0 538.0,131.0 538.5,131.0 539.0,131.0 539.5,131.0 540.0,131.0 540.5,131.0 541.0,131.0 541.5,131.0 542.0,131.0 542.5,131.0 543.0,131.0 543.5,131.0 544.0,131.0 544.5,131.0 545.0,131.0 545.5,131.0 546.0,131.0 546.5,131.0 547.0,131.0 547.5,131.0 548.0,131.0 548.5,131.0 549.0,131.0 549.5,131.0 550.0,131.0 550.5,131.0 551.0,131.0 551.5,131.0 552.0,131.0 552.5,131.0 553.0,131.0 553.5,131.0 554.0,131.0 554.5,131.0 555.0,131.0 555.5,131.0 556.0,131.0 556.5,131.0 557.0,131.0 557.5,131.0 558.0,131.0 558.5,131.0 559.0,131.0 559.5,131.0 560.0,131.0 560.5,131.0 561.0,131.0 561.5,131.0 562.0,131.0 562.5,131.0 563.0,131.0 563.5,131.0 564.0,131.0 564.5,131.0 565.0,131.0 565.5,131.0 566.0,131.0 566.5,131.0 567.0,131.0 567.5,131.0 568.0,131.0 568.5,131.0 569.0,131.0 569.5,131.0 570.0,131.0 570.5,131.0 571.0,131.0 571.5,131.0 572.0,131.0 572.5,131.0 573.0,131.0 573.5,131.0 574.0,131.0 574.5,131.0 575.0,131.0 575.5,131.0 576.0,131.0 576.5,131.0 577.0,131.0 577.5,131.0 578.0,131.0 578.5,131.0 579.0,131.0 579.5,131.0 580.0,131.0 580.5,131.0 581.0,131.0 581.5,131.0 582.0,131.0 582.5,131.0 583.0,131.0 583.5,131.0 584.0,131.0 584.5,131.0 585.0,131.0 585.5,131.0 586.0,131.0 586.5,131.0 587.0,131.0 587.5,131.0 588.0,131.0 588.5,131.0 589.0,131.0 589.5,131.0 590.0,131.0 590.5,131.0 591.0,131.0 591.5,131.0 592.0,131.0 592.5,131.0 593.0,131.0 593.5,131.0 594.0,131.0 594.5,131.0 595.0,131.0 595.5,131.0 596.0,131.0 596.5,131.0 597.0,131.0 597.5,131.0 598.0,131.0 598.5,131.0 599.0,131.0 599.5,131.0 600.0,131.0 600.5,131.0 601.0,131.0 601.5,131.0 602.0,131.0 602.5,131.0 603.0,131.0 603.5,131.0 604.0,131.0 604.5,130.9 605.0,130.9 605.5,130.9 606.0,130.8 606.5,130.8 607.0,130.7 607.5,130.5 608.0,130.4 608.5,130.2 609.0,129.9 609.5,129.6 610.0,129.2 610.5,128.7 611.0,128.2 611.5,127.5 612.0,126.7 612.5,125.8 613.0,124.9 613.5,123.8 614.0,122.6 614.5,121.4 615.0,120.1 615.5,118.8 616.0,117.6 616.5,116.3 617.0,115.2 617.5,114.2 618.0,113.3 618.5,112.6 619.0,112.1 619.5,111.8 620.0,111.8 620.5,112.0 621.0,112.5 621.5,113.1 622.0,114.0 622.5,115.0 623.0,116.1 623.5,117.3 624.0,118.6 624.5,119.9 625.0,121.2 625.5,122.4 626.0,123.6 626.5,124.7 627.0,125.7 627.5,126.6 628.0,127.3 628.5,128.0 629.0,128.6 629.5,129.1 630.0,129.5 630.5,129.8 631.0,130.1 631.5,130.3 632.0,130.5 632.5,130.6 633.0,130.6 633.5,130.6 634.0,130.6 634.5,130.6 635.0,130.5 635.5,130.4 636.0,130.2 636.5,129.9 637.0,129.6 637.5,129.2 638.0,128.8 638.5,128.2 639.0,127.5 639.5,126.7 640.0,125.8 640.5,124.8 641.0,123.7 641.5,122.5 642.0,121.2 642.5,119.8 643.0,118.4 643.5,117.1 644.0,115.7 644.5,114.4 645.0,113.3 645.5,112.2 646.0,111.4 646.5,110.8 647.0,110.4 647.5,110.3 648.0,110.4 648.5,110.8 649.0,111.4 649.5,112.2 650.0,113.3 650.5,114.4 651.0,115.7 651.5,117.1 652.0,118.4 652.5,119.8 653.0,121.2 653.5,122.5 654.0,123.7 654.5,124.8 655.0,125.8 655.5,126.7 656.0,127.5 656.5,128.2 657.0,128.8 657.5,129.2 658.0,129.6 658.5,130.0 659.0,130.2 659.5,130.4 660.0,130.6 660.5,130.7 661.0,130.8 661.5,130.8 662.0,130.9 662.5,130.9 663.0,130.9 663.5,131.0 664.0,131.0 664.5,131.0 665.0,131.0 665.5,131.0 666.0,131.0 666.5,131.0 667.0,131.0 667.5,131.0 668.0,131.0 668.5,131.0 669.0,131.0 669.5,131.0 670.0,131.0 670.5,131.0 671.0,131.0 671.5,131.0 672.0,131.0 672.5,131.0 673.0,131.0 673.5,131.0 674.0,131.0 674.5,131.0 675.0,131.0 675.5,131.0 676.0,131.0 676.5,131.0 677.0,131.0 677.5,131.0 678.0,131.0 678.5,131.0" fill="none" stroke="#3a3a3a" stroke-width="0.85"/>
</g></g>
<line x1="530.50" y1="134.60" x2="678.00" y2="134.60" stroke="#999" stroke-width="1.2" />
<text x="425.00" y="157.00" font-size="16" font-weight="bold" textLength="42.00" lengthAdjust="spacingAndGlyphs" >gDNA</text>
<text x="576.30" y="157.00" font-size="16" font-weight="bold" textLength="42.20" lengthAdjust="spacingAndGlyphs" >cDNA</text>
<text x="16.50" y="245.30" font-size="21" font-weight="bold" >C</text>
<text x="16.50" y="285.30" font-size="16" font-weight="bold" textLength="35.50" lengthAdjust="spacingAndGlyphs" >CB-0</text>
<text x="88.00" y="270.00" font-size="16.5" font-weight="bold" textLength="121.50" lengthAdjust="spacingAndGlyphs" >CB-5083 [2.5μM]</text>
<ellipse cx="71.8" cy="310.6" rx="34.6" ry="6.3" fill="#f06a10" stroke="#b82a12" stroke-width="1.8"/>
<ellipse cx="71.8" cy="310.4" rx="27" ry="3.6" fill="#d89a20" opacity="0.55"/>
<path d="M37.1,295 L37.1,310.6 M106.5,295 L106.5,310.6" fill="none" stroke="#000" stroke-width="1.4"/>
<path d="M37.1,310.6 A34.7,6.3 0 0 0 106.5,310.6" fill="none" stroke="#111" stroke-width="1.2"/>
<ellipse cx="71.8" cy="295" rx="34.7" ry="4.6" fill="none" stroke="#000" stroke-width="1.4"/>
<g transform="translate(72.3,298.6) rotate(-48.6)"><path d="M0,0 L6,-2.2 L31,-3.3 L31,3.3 L6,2.4 Z" fill="#000"/><rect x="13" y="-1.6" width="16" height="1.6" fill="#fff"/></g>
<path d="M113,299.0 L142.5,299.0 L142.5,293.75 L157,301.5 L142.5,309.25 L142.5,304.0 L113,304.0 Z" fill="#5b9bd5"/>
<path d="M153.8,407.5 L124.5,407.5 L124.5,402.25 L110,410 L124.5,417.75 L124.5,412.5 L153.8,412.5 Z" fill="#5b9bd5"/>
<text x="106.00" y="334.00" font-size="15.5" textLength="62.70" lengthAdjust="spacingAndGlyphs" >24 Hours</text>
<text x="179.00" y="300.70" font-size="15.5" textLength="127.70" lengthAdjust="spacingAndGlyphs" >Remove CB-5083,</text>
<text x="179.00" y="319.00" font-size="15.5" >allow to recover</text>
<rect x="233.40" y="325.00" width="5.40" height="5.20" fill="#5b9bd5" />
<rect x="233.40" y="335.30" width="5.40" height="5.20" fill="#5b9bd5" />
<rect x="233.40" y="345.60" width="5.40" height="5.20" fill="#5b9bd5" />
<rect x="233.40" y="355.90" width="5.40" height="5.20" fill="#5b9bd5" />
<rect x="233.40" y="366.20" width="5.40" height="5.20" fill="#5b9bd5" />
<path d="M229,372.7 L243.7,372.7 L236.3,388 Z" fill="#5b9bd5"/>
<text x="165.50" y="402.00" font-size="15.5" textLength="148.00" lengthAdjust="spacingAndGlyphs" >9 rounds of treatment</text>
<text x="165.50" y="420.70" font-size="15.5" >(Up to 9 μM CB-5083)</text>
<text x="65.40" y="414.60" font-size="16" font-weight="bold" textLength="35.00" lengthAdjust="spacingAndGlyphs" >CB-9</text>
<text x="35.60" y="433.00" font-size="15.5" textLength="95.30" lengthAdjust="spacingAndGlyphs" >(HCT116-res)</text>
<line x1="432.80" y1="250.50" x2="432.80" y2="415.00" stroke="#000" stroke-width="2" />
<line x1="428.00" y1="414.00" x2="784.00" y2="414.00" stroke="#000" stroke-width="2" />
<line x1="427.80" y1="414.00" x2="432.80" y2="414.00" stroke="#000" stroke-width="1.6" />
<text x="425.50" y="417.40" font-size="9.6" font-weight="bold" text-anchor="end" >0</text>
<line x1="427.80" y1="373.40" x2="432.80" y2="373.40" stroke="#000" stroke-width="1.6" />
<text x="425.50" y="376.80" font-size="9.6" font-weight="bold" text-anchor="end" textLength="12.50" lengthAdjust="spacing" >10</text>
<line x1="427.80" y1="332.80" x2="432.80" y2="332.80" stroke="#000" stroke-width="1.6" />
<text x="425.50" y="336.20" font-size="9.6" font-weight="bold" text-anchor="end" textLength="12.50" lengthAdjust="spacing" >20</text>
<line x1="427.80" y1="292.20" x2="432.80" y2="292.20" stroke="#000" stroke-width="1.6" />
<text x="425.50" y="295.60" font-size="9.6" font-weight="bold" text-anchor="end" textLength="12.50" lengthAdjust="spacing" >30</text>
<line x1="427.80" y1="251.60" x2="432.80" y2="251.60" stroke="#000" stroke-width="1.6" />
<text x="425.50" y="255.00" font-size="9.6" font-weight="bold" text-anchor="end" textLength="12.50" lengthAdjust="spacing" >40</text>
<text x="406.50" y="334.50" font-size="10" font-weight="bold" text-anchor="middle" textLength="53.00" lengthAdjust="spacing" transform="rotate(-90 406.50 334.50)" >% Death</text>
<line x1="450.00" y1="414.00" x2="450.00" y2="419.00" stroke="#000" stroke-width="1.6" />
<text x="450.50" y="430.70" font-size="8.6" font-weight="bold" text-anchor="middle" textLength="24.00" lengthAdjust="spacing" >CB-0</text>
<text x="451.00" y="448.30" font-size="8.6" font-weight="bold" text-anchor="middle" textLength="15.50" lengthAdjust="spacing" >2.5</text>
<line x1="485.03" y1="414.00" x2="485.03" y2="419.00" stroke="#000" stroke-width="1.6" />
<text x="485.53" y="430.70" font-size="8.6" font-weight="bold" text-anchor="middle" textLength="24.00" lengthAdjust="spacing" >CB-1</text>
<text x="486.03" y="448.30" font-size="8.6" font-weight="bold" text-anchor="middle" textLength="15.50" lengthAdjust="spacing" >3.0</text>
<line x1="520.06" y1="414.00" x2="520.06" y2="419.00" stroke="#000" stroke-width="1.6" />
<text x="520.56" y="430.70" font-size="8.6" font-weight="bold" text-anchor="middle" textLength="24.00" lengthAdjust="spacing" >CB-2</text>
<text x="521.06" y="448.30" font-size="8.6" font-weight="bold" text-anchor="middle" textLength="15.50" lengthAdjust="spacing" >3.5</text>
<line x1="555.09" y1="414.00" x2="555.09" y2="419.00" stroke="#000" stroke-width="1.6" />
<text x="555.59" y="430.70" font-size="8.6" font-weight="bold" text-anchor="middle" textLength="24.00" lengthAdjust="spacing" >CB-3</text>
<text x="556.09" y="448.30" font-size="8.6" font-weight="bold" text-anchor="middle" textLength="15.50" lengthAdjust="spacing" >4.0</text>
<line x1="590.12" y1="414.00" x2="590.12" y2="419.00" stroke="#000" stroke-width="1.6" />
<text x="590.62" y="430.70" font-size="8.6" font-weight="bold" text-anchor="middle" textLength="24.00" lengthAdjust="spacing" >CB-4</text>
<text x="591.12" y="448.30" font-size="8.6" font-weight="bold" text-anchor="middle" textLength="15.50" lengthAdjust="spacing" >4.5</text>
<line x1="625.15" y1="414.00" x2="625.15" y2="419.00" stroke="#000" stroke-width="1.6" />
<text x="625.65" y="430.70" font-size="8.6" font-weight="bold" text-anchor="middle" textLength="24.00" lengthAdjust="spacing" >CB-5</text>
<text x="626.15" y="448.30" font-size="8.6" font-weight="bold" text-anchor="middle" textLength="15.50" lengthAdjust="spacing" >5.0</text>
<line x1="660.18" y1="414.00" x2="660.18" y2="419.00" stroke="#000" stroke-width="1.6" />
<text x="660.68" y="430.70" font-size="8.6" font-weight="bold" text-anchor="middle" textLength="24.00" lengthAdjust="spacing" >CB-6</text>
<text x="661.18" y="448.30" font-size="8.6" font-weight="bold" text-anchor="middle" textLength="15.50" lengthAdjust="spacing" >6.0</text>
<line x1="695.21" y1="414.00" x2="695.21" y2="419.00" stroke="#000" stroke-width="1.6" />
<text x="695.71" y="430.70" font-size="8.6" font-weight="bold" text-anchor="middle" textLength="24.00" lengthAdjust="spacing" >CB-7</text>
<text x="696.21" y="448.30" font-size="8.6" font-weight="bold" text-anchor="middle" textLength="15.50" lengthAdjust="spacing" >7.0</text>
<line x1="730.24" y1="414.00" x2="730.24" y2="419.00" stroke="#000" stroke-width="1.6" />
<text x="730.74" y="430.70" font-size="8.6" font-weight="bold" text-anchor="middle" textLength="24.00" lengthAdjust="spacing" >CB-8</text>
<text x="731.24" y="448.30" font-size="8.6" font-weight="bold" text-anchor="middle" textLength="15.50" lengthAdjust="spacing" >8.0</text>
<line x1="765.27" y1="414.00" x2="765.27" y2="419.00" stroke="#000" stroke-width="1.6" />
<text x="765.77" y="430.70" font-size="8.6" font-weight="bold" text-anchor="middle" textLength="24.00" lengthAdjust="spacing" >CB-9</text>
<text x="766.27" y="448.30" font-size="8.6" font-weight="bold" text-anchor="middle" textLength="15.50" lengthAdjust="spacing" >9.0</text>
<text x="348.20" y="448.30" font-size="8.6" font-weight="bold" textLength="72.00" lengthAdjust="spacing" >CB-5083 [μM]</text>
<polyline points="450.0,332.8 485.0,296.3 520.1,365.3 555.1,381.5 590.1,401.8 625.1,393.7 660.2,389.6 695.2,393.7 730.2,397.8 765.3,393.7" fill="none" stroke="#0000f0" stroke-width="3"/>
<circle cx="450.0" cy="332.8" r="4.8" fill="#0000f0"/>
<circle cx="485.0" cy="296.3" r="4.8" fill="#0000f0"/>
<circle cx="520.1" cy="365.3" r="4.8" fill="#0000f0"/>
<circle cx="555.1" cy="381.5" r="4.8" fill="#0000f0"/>
<circle cx="590.1" cy="401.8" r="4.8" fill="#0000f0"/>
<circle cx="625.1" cy="393.7" r="4.8" fill="#0000f0"/>
<circle cx="660.2" cy="389.6" r="4.8" fill="#0000f0"/>
<circle cx="695.2" cy="393.7" r="4.8" fill="#0000f0"/>
<circle cx="730.2" cy="397.8" r="4.8" fill="#0000f0"/>
<circle cx="765.3" cy="393.7" r="4.8" fill="#0000f0"/>
<text x="557.90" y="277.90" font-size="15" textLength="74.80" lengthAdjust="spacingAndGlyphs" >HCT116-par</text>
<text x="661.00" y="277.90" font-size="15" textLength="78.00" lengthAdjust="spacingAndGlyphs" >HCT116-CB9</text>
<filter id="soft" x="-5%" y="-5%" width="110%" height="110%"><feGaussianBlur stdDeviation="0.6"/></filter>
<filter id="grain" x="0" y="0" width="100%" height="100%"><feTurbulence type="fractalNoise" baseFrequency="0.8" numOctaves="2" seed="3"/><feColorMatrix type="matrix" values="0.45 0 0 0 0.0  0.45 0 0 0 0.0  0.45 0 0 0 0.0  0 0 0 0 0.3"/></filter>
<clipPath id="m11"><rect x="541.7" y="284.3" width="103.29999999999995" height="78.69999999999999"/></clipPath>
<g clip-path="url(#m11)">
<rect x="541.70" y="284.30" width="103.30" height="78.70" fill="#4e4e4e" />
<g filter="url(#soft)">
<ellipse cx="558" cy="318" rx="14" ry="15" fill="#505050" stroke="#b0b0b0" stroke-width="1" stroke-opacity="0.8"/>
<ellipse cx="558" cy="352" rx="22" ry="14" fill="#4c4c4c" stroke="#9a9a9a" stroke-width="1" stroke-opacity="0.8"/>
<ellipse cx="627" cy="309" rx="10" ry="7" fill="#525252" stroke="#b8b8b8" stroke-width="1" stroke-opacity="0.8"/>
<ellipse cx="575" cy="297" rx="2.8" ry="2.8" fill="#444" stroke="#e8e8e8" stroke-width="1" stroke-opacity="0.8"/>
<ellipse cx="564" cy="291" rx="2.5" ry="2.5" fill="#444" stroke="#e0e0e0" stroke-width="1" stroke-opacity="0.8"/>
<ellipse cx="586" cy="290" rx="2.2" ry="2.2" fill="#444" stroke="#dcdcdc" stroke-width="1" stroke-opacity="0.8"/>
<path d="M551.6,280.9 L551.1,279.9 L555.9,275.2 L555.5,279.2Z" fill="rgb(58,58,58)" stroke="rgb(169,169,169)" stroke-width="0.42"/><path d="M594.7,280.2 L591.8,273.6 L590.0,279.8 L591.8,281.7Z" fill="rgb(42,42,42)" stroke="rgb(177,177,177)" stroke-width="0.57"/><path d="M623.8,280.9 L621.3,280.9 L620.7,279.9 L622.0,276.6 L624.1,280.6Z" fill="rgb(49,49,49)" stroke="rgb(156,156,156)" stroke-width="0.55"/><path d="M540.4,283.4 L538.2,285.0 L534.2,281.6 L538.3,279.6 L540.4,282.1Z" fill="rgb(45,45,45)" stroke="rgb(157,157,157)" stroke-width="0.58"/><path d="M545.2,283.4 L545.4,280.8 L543.0,280.6 L541.5,282.1 L541.5,283.2 L542.7,283.8Z" fill="rgb(43,43,43)" stroke="rgb(121,121,121)" stroke-width="0.49"/><path d="M550.8,283.3 L550.6,281.6 L550.2,280.7 L548.6,279.5 L547.0,280.8 L546.8,283.4 L548.2,284.2 L550.5,283.7Z" fill="rgb(44,44,44)" stroke="rgb(169,169,169)" stroke-width="0.50"/><path d="M552.1,283.3 L551.9,281.5 L555.6,279.9 L556.1,281.1 L555.8,283.8Z" fill="rgb(34,34,34)" stroke="rgb(189,189,189)" stroke-width="0.58"/><path d="M560.8,280.8 L557.0,281.2 L556.7,284.0 L557.1,284.4 L560.7,283.6Z" fill="rgb(41,41,41)" stroke="rgb(131,131,131)" stroke-width="0.63"/><path d="M562.5,283.8 L561.8,283.3 L561.9,280.8 L562.3,279.6 L565.1,281.1 L564.6,283.2Z" fill="rgb(29,29,29)" stroke="rgb(212,212,212)" stroke-width="0.56"/><path d="M565.6,283.5 L566.2,281.0 L567.1,280.7 L569.6,281.1 L569.8,283.7 L568.2,284.8Z" fill="rgb(29,29,29)" stroke="rgb(205,205,205)" stroke-width="0.57"/><path d="M575.0,283.7 L572.4,284.4 L570.7,283.6 L570.4,281.1 L570.8,280.5 L573.9,280.0 L575.2,281.2Z" fill="rgb(51,51,51)" stroke="rgb(141,141,141)" stroke-width="0.51"/><path d="M580.2,283.7 L580.5,283.2 L580.1,281.1 L579.1,280.1 L576.4,281.3 L576.3,283.7 L576.3,283.8Z" fill="rgb(31,31,31)" stroke="rgb(148,148,148)" stroke-width="0.69"/><path d="M585.6,280.7 L584.6,279.5 L580.8,280.8 L581.3,283.3 L584.6,283.0Z" fill="rgb(53,53,53)" stroke="rgb(175,175,175)" stroke-width="0.64"/><path d="M587.5,281.1 L588.0,284.9 L586.4,285.9 L585.0,283.2 L585.9,281.1Z" fill="rgb(35,35,35)" stroke="rgb(127,127,127)" stroke-width="0.37"/><path d="M588.2,281.1 L589.6,280.6 L591.4,282.6 L591.2,284.0 L590.5,284.6 L588.6,284.8Z" fill="rgb(53,53,53)" stroke="rgb(203,203,203)" stroke-width="0.68"/><path d="M595.0,285.6 L592.2,284.0 L592.3,282.6 L595.3,281.1 L596.9,281.7 L597.3,283.6Z" fill="rgb(41,41,41)" stroke="rgb(183,183,183)" stroke-width="0.48"/><path d="M598.4,283.3 L598.0,281.6 L599.1,280.5 L601.3,279.9 L602.4,281.3 L601.0,283.2 L599.3,283.9Z" fill="rgb(53,53,53)" stroke="rgb(132,132,132)" stroke-width="0.61"/><path d="M604.1,284.6 L602.1,283.5 L603.4,281.7 L605.4,282.5Z" fill="rgb(38,38,38)" stroke="rgb(203,203,203)" stroke-width="0.59"/><path d="M606.6,282.3 L608.2,279.2 L611.2,281.5 L611.4,281.8 L611.4,283.4 L609.1,284.3Z" fill="rgb(44,44,44)" stroke="rgb(204,204,204)" stroke-width="0.63"/><path d="M612.0,281.7 L612.0,283.3 L613.1,284.0 L616.2,282.4 L615.7,279.1 L615.6,279.0Z" fill="rgb(35,35,35)" stroke="rgb(175,175,175)" stroke-width="0.51"/><path d="M620.3,281.3 L619.7,280.4 L616.7,279.6 L617.1,282.3 L618.7,283.4 L619.2,283.0Z" fill="rgb(51,51,51)" stroke="rgb(123,123,123)" stroke-width="0.39"/><path d="M623.8,281.6 L621.3,281.6 L620.1,283.5 L623.7,284.8 L623.7,284.7Z" fill="rgb(62,62,62)" stroke="rgb(134,134,134)" stroke-width="0.62"/><path d="M624.7,281.6 L624.5,284.5 L627.5,284.4 L627.8,283.8 L626.3,281.0 L624.9,281.4Z" fill="rgb(60,60,60)" stroke="rgb(192,192,192)" stroke-width="0.39"/><path d="M626.9,280.5 L628.5,278.5 L631.1,280.2 L631.2,282.8 L628.7,283.6Z" fill="rgb(36,36,36)" stroke="rgb(204,204,204)" stroke-width="0.38"/><path d="M632.5,283.1 L636.4,283.7 L636.3,280.4 L636.0,279.8 L633.5,279.6 L632.0,280.2 L632.1,282.9Z" fill="rgb(46,46,46)" stroke="rgb(165,165,165)" stroke-width="0.62"/><path d="M637.6,280.8 L641.3,280.4 L642.1,281.9 L641.6,283.1 L640.9,283.8 L637.9,284.2 L637.7,283.8Z" fill="rgb(54,54,54)" stroke="rgb(179,179,179)" stroke-width="0.37"/><path d="M645.9,285.0 L642.9,283.3 L643.5,282.1 L646.4,281.4 L647.1,284.2Z" fill="rgb(56,56,56)" stroke="rgb(141,141,141)" stroke-width="0.55"/><path d="M538.8,287.9 L542.8,288.8 L543.3,287.9 L542.1,284.9 L540.7,284.2 L538.7,285.8 L538.1,287.4Z" fill="rgb(34,34,34)" stroke="rgb(184,184,184)" stroke-width="0.40"/><path d="M546.0,284.0 L542.7,284.5 L544.1,288.0 L546.7,287.9 L547.7,285.1Z" fill="rgb(61,61,61)" stroke="rgb(142,142,142)" stroke-width="0.49"/><path d="M550.7,284.7 L548.1,285.3 L547.2,287.9 L548.5,289.9 L551.1,287.4Z" fill="rgb(35,35,35)" stroke="rgb(172,172,172)" stroke-width="0.64"/><path d="M552.1,284.3 L555.7,284.8 L556.0,285.1 L556.1,287.1 L554.4,289.2 L552.1,287.1 L551.8,284.7Z" fill="rgb(35,35,35)" stroke="rgb(214,214,214)" stroke-width="0.61"/><path d="M562.3,287.6 L561.8,285.1 L561.1,284.4 L557.5,285.2 L557.5,287.3 L560.4,288.8 L561.2,289.0Z" fill="rgb(46,46,46)" stroke="rgb(187,187,187)" stroke-width="0.57"/><path d="M566.3,287.9 L563.4,287.5 L562.9,284.9 L565.3,284.2 L567.7,285.4 L567.3,286.6Z" fill="rgb(59,59,59)" stroke="rgb(158,158,158)" stroke-width="0.67"/><path d="M570.6,288.3 L572.0,286.8 L572.0,285.2 L570.2,284.4 L568.6,285.4 L568.3,286.7Z" fill="rgb(30,30,30)" stroke="rgb(169,169,169)" stroke-width="0.50"/><path d="M574.3,288.6 L573.0,286.7 L573.0,285.3 L575.3,284.7 L575.4,284.7 L576.0,286.8Z" fill="rgb(44,44,44)" stroke="rgb(188,188,188)" stroke-width="0.39"/><path d="M579.2,288.4 L581.0,287.1 L580.5,284.3 L576.0,284.4 L576.8,287.0Z" fill="rgb(49,49,49)" stroke="rgb(182,182,182)" stroke-width="0.42"/><path d="M580.9,284.2 L581.3,283.6 L584.6,283.4 L586.1,286.3 L585.6,287.5 L584.4,288.1 L581.4,287.1Z" fill="rgb(36,36,36)" stroke="rgb(192,192,192)" stroke-width="0.69"/><path d="M589.2,290.0 L590.8,287.9 L590.5,285.2 L588.3,285.4 L586.5,286.4 L586.1,287.6Z" fill="rgb(34,34,34)" stroke="rgb(170,170,170)" stroke-width="0.57"/><path d="M594.5,286.4 L593.2,287.9 L591.5,287.6 L591.2,285.3 L591.8,284.7 L594.5,286.2Z" fill="rgb(44,44,44)" stroke="rgb(148,148,148)" stroke-width="0.48"/><path d="M595.5,286.4 L597.9,289.8 L599.6,286.8 L598.8,285.0 L597.8,284.3 L595.5,286.2Z" fill="rgb(58,58,58)" stroke="rgb(169,169,169)" stroke-width="0.48"/><path d="M603.4,287.2 L600.5,286.6 L599.6,284.8 L601.5,284.0 L603.7,285.3Z" fill="rgb(56,56,56)" stroke="rgb(134,134,134)" stroke-width="0.37"/><path d="M606.9,288.5 L604.1,287.5 L604.1,287.5 L604.4,285.3 L606.0,282.7 L606.1,282.7 L608.6,284.7 L608.0,287.8Z" fill="rgb(31,31,31)" stroke="rgb(140,140,140)" stroke-width="0.53"/><path d="M608.8,287.8 L609.4,284.9 L611.6,284.1 L612.7,284.7 L613.8,287.7 L612.2,288.9Z" fill="rgb(53,53,53)" stroke="rgb(148,148,148)" stroke-width="0.59"/><path d="M616.5,288.0 L618.0,287.2 L618.3,284.3 L616.5,283.0 L613.4,284.6 L614.6,287.7Z" fill="rgb(30,30,30)" stroke="rgb(160,160,160)" stroke-width="0.48"/><path d="M619.9,287.9 L623.0,287.9 L623.7,285.2 L619.6,283.8 L618.8,284.3 L618.6,287.3Z" fill="rgb(61,61,61)" stroke="rgb(215,215,215)" stroke-width="0.53"/><path d="M624.2,285.4 L624.2,285.4 L623.5,287.9 L624.1,288.6 L628.3,288.1 L627.7,285.3Z" fill="rgb(51,51,51)" stroke="rgb(172,172,172)" stroke-width="0.56"/><path d="M628.6,285.4 L629.1,287.7 L630.1,288.5 L631.2,288.1 L631.6,284.3 L631.2,284.0 L629.0,284.7Z" fill="rgb(50,50,50)" stroke="rgb(151,151,151)" stroke-width="0.48"/><path d="M632.6,284.0 L636.6,284.5 L636.9,284.9 L636.8,285.6 L634.4,288.4 L632.1,288.3Z" fill="rgb(51,51,51)" stroke="rgb(158,158,158)" stroke-width="0.42"/><path d="M639.9,289.6 L642.6,288.0 L641.0,284.5 L637.6,284.9 L637.5,285.6Z" fill="rgb(31,31,31)" stroke="rgb(160,160,160)" stroke-width="0.41"/><path d="M645.5,285.8 L644.7,288.0 L644.5,288.0 L643.3,287.7 L641.9,284.8 L642.6,284.2Z" fill="rgb(50,50,50)" stroke="rgb(126,126,126)" stroke-width="0.65"/><path d="M646.8,286.1 L645.9,288.3 L648.6,289.5 L653.5,287.4 L648.0,285.3Z" fill="rgb(45,45,45)" stroke="rgb(174,174,174)" stroke-width="0.58"/><path d="M538.3,288.7 L540.3,292.4 L538.9,293.0 L534.1,290.5 L537.6,288.2Z" fill="rgb(33,33,33)" stroke="rgb(156,156,156)" stroke-width="0.55"/><path d="M539.3,289.0 L542.8,289.8 L542.9,291.5 L542.2,292.5 L541.2,292.4Z" fill="rgb(53,53,53)" stroke="rgb(148,148,148)" stroke-width="0.64"/><path d="M547.8,291.1 L543.9,291.3 L543.8,289.4 L544.4,288.6 L546.6,288.5 L547.7,290.4Z" fill="rgb(48,48,48)" stroke="rgb(139,139,139)" stroke-width="0.64"/><path d="M551.5,287.9 L548.7,290.5 L548.8,291.4 L549.2,292.1 L552.2,292.3 L554.1,291.4 L554.1,290.4Z" fill="rgb(46,46,46)" stroke="rgb(127,127,127)" stroke-width="0.70"/><path d="M556.7,288.0 L559.7,289.5 L555.8,292.1 L554.9,291.3 L554.9,290.3Z" fill="rgb(53,53,53)" stroke="rgb(199,199,199)" stroke-width="0.38"/><path d="M561.0,291.1 L560.9,290.1 L560.1,289.9 L556.6,292.2 L557.4,293.2Z" fill="rgb(49,49,49)" stroke="rgb(201,201,201)" stroke-width="0.60"/><path d="M567.0,291.5 L566.3,292.0 L562.4,291.3 L562.1,290.9 L561.9,289.7 L563.0,288.2 L566.1,288.7Z" fill="rgb(41,41,41)" stroke="rgb(194,194,194)" stroke-width="0.54"/><path d="M570.2,292.4 L567.8,291.6 L566.8,288.6 L567.9,287.2 L570.4,288.9 L570.4,292.3Z" fill="rgb(58,58,58)" stroke="rgb(173,173,173)" stroke-width="0.47"/><path d="M570.9,292.1 L573.8,291.7 L574.0,289.7 L572.4,287.4 L570.9,289.0Z" fill="rgb(32,32,32)" stroke="rgb(142,142,142)" stroke-width="0.62"/><path d="M575.2,292.0 L578.4,290.4 L578.7,289.0 L576.6,287.7 L574.7,289.7 L574.5,291.6Z" fill="rgb(36,36,36)" stroke="rgb(168,168,168)" stroke-width="0.61"/><path d="M579.6,288.8 L581.3,287.6 L584.0,288.6 L583.4,291.8 L580.3,291.5 L579.3,290.4Z" fill="rgb(35,35,35)" stroke="rgb(176,176,176)" stroke-width="0.46"/><path d="M588.6,292.4 L584.4,292.5 L584.1,292.0 L584.8,288.7 L585.9,288.1 L588.9,290.3 L589.2,291.3Z" fill="rgb(32,32,32)" stroke="rgb(134,134,134)" stroke-width="0.68"/><path d="M590.0,291.1 L589.7,290.2 L591.1,288.4 L592.9,288.8 L593.4,291.4Z" fill="rgb(35,35,35)" stroke="rgb(209,209,209)" stroke-width="0.39"/><path d="M595.0,292.0 L597.4,291.3 L597.4,290.6 L595.1,287.3 L593.9,288.8 L594.3,291.5Z" fill="rgb(35,35,35)" stroke="rgb(147,147,147)" stroke-width="0.38"/><path d="M601.4,291.9 L603.1,288.2 L603.1,288.2 L600.3,287.5 L598.6,290.5 L598.5,291.2 L599.4,291.8Z" fill="rgb(36,36,36)" stroke="rgb(135,135,135)" stroke-width="0.40"/><path d="M606.3,291.5 L602.3,292.2 L602.2,292.1 L604.0,288.4 L606.4,289.3Z" fill="rgb(54,54,54)" stroke="rgb(124,124,124)" stroke-width="0.66"/><path d="M607.5,292.3 L611.5,293.0 L611.8,292.4 L612.1,289.6 L608.3,288.4 L607.3,289.1 L607.2,291.7Z" fill="rgb(40,40,40)" stroke="rgb(206,206,206)" stroke-width="0.60"/><path d="M612.8,289.7 L614.4,288.5 L616.2,288.8 L616.6,292.0 L616.0,292.6 L612.6,292.2Z" fill="rgb(55,55,55)" stroke="rgb(208,208,208)" stroke-width="0.63"/><path d="M619.8,292.5 L617.3,292.0 L616.9,288.8 L618.4,288.0 L619.7,288.5 L620.1,292.1Z" fill="rgb(58,58,58)" stroke="rgb(133,133,133)" stroke-width="0.54"/><path d="M623.8,290.8 L623.7,289.0 L623.1,288.2 L620.1,288.3 L620.6,292.2Z" fill="rgb(48,48,48)" stroke="rgb(145,145,145)" stroke-width="0.36"/><path d="M624.3,290.9 L624.3,289.1 L628.5,288.6 L629.7,289.6 L629.5,291.1 L628.1,292.8 L625.5,292.7Z" fill="rgb(50,50,50)" stroke="rgb(168,168,168)" stroke-width="0.56"/><path d="M630.5,289.7 L630.3,291.1 L633.4,293.3 L635.4,292.0 L634.0,289.2 L631.7,289.2Z" fill="rgb(52,52,52)" stroke="rgb(177,177,177)" stroke-width="0.55"/><path d="M637.8,292.4 L639.5,291.0 L639.7,290.1 L637.2,286.0 L634.7,289.0 L636.2,292.0Z" fill="rgb(50,50,50)" stroke="rgb(194,194,194)" stroke-width="0.40"/><path d="M640.1,291.0 L643.5,292.8 L644.5,288.9 L643.0,288.5 L640.3,290.1Z" fill="rgb(53,53,53)" stroke="rgb(161,161,161)" stroke-width="0.38"/><path d="M648.0,290.4 L647.0,293.1 L644.1,292.9 L644.1,292.9 L645.0,289.1 L645.1,289.1Z" fill="rgb(44,44,44)" stroke="rgb(164,164,164)" stroke-width="0.61"/><path d="M541.0,293.2 L542.1,293.4 L543.1,295.7 L539.6,297.3 L538.6,296.4 L539.4,293.9Z" fill="rgb(44,44,44)" stroke="rgb(128,128,128)" stroke-width="0.63"/><path d="M547.7,292.0 L543.9,292.2 L543.2,293.2 L544.0,295.3 L544.2,295.4 L547.4,294.4 L548.0,292.6Z" fill="rgb(43,43,43)" stroke="rgb(211,211,211)" stroke-width="0.42"/><path d="M552.1,292.7 L549.0,292.5 L548.2,294.6 L548.7,295.5 L551.9,296.6Z" fill="rgb(32,32,32)" stroke="rgb(191,191,191)" stroke-width="0.41"/><path d="M556.5,294.9 L553.0,296.9 L552.6,296.3 L552.7,292.9 L554.5,292.1 L555.4,292.9 L556.2,294.0Z" fill="rgb(61,61,61)" stroke="rgb(178,178,178)" stroke-width="0.49"/><path d="M557.9,294.9 L561.4,294.9 L561.3,292.1 L561.1,291.7 L557.4,293.8 L557.7,294.7Z" fill="rgb(39,39,39)" stroke="rgb(199,199,199)" stroke-width="0.39"/><path d="M562.4,292.1 L566.0,292.8 L564.5,295.6 L563.0,295.6 L562.5,295.1Z" fill="rgb(37,37,37)" stroke="rgb(124,124,124)" stroke-width="0.70"/><path d="M569.8,293.0 L569.6,295.4 L567.2,297.0 L565.4,295.6 L566.9,292.8 L567.7,292.3Z" fill="rgb(38,38,38)" stroke="rgb(190,190,190)" stroke-width="0.52"/><path d="M570.9,293.0 L570.7,295.5 L571.8,296.7 L575.8,296.8 L576.0,296.1 L574.6,292.9 L573.9,292.5 L571.1,292.9Z" fill="rgb(56,56,56)" stroke="rgb(165,165,165)" stroke-width="0.63"/><path d="M575.8,292.7 L577.1,295.6 L579.0,294.9 L579.6,292.2 L578.7,291.3Z" fill="rgb(37,37,37)" stroke="rgb(147,147,147)" stroke-width="0.70"/><path d="M583.8,292.9 L583.6,294.7 L582.3,295.9 L579.7,295.3 L580.4,292.0 L583.6,292.4Z" fill="rgb(50,50,50)" stroke="rgb(135,135,135)" stroke-width="0.41"/><path d="M588.3,293.2 L584.7,293.2 L584.5,294.7 L587.1,296.3 L588.5,294.7Z" fill="rgb(38,38,38)" stroke="rgb(167,167,167)" stroke-width="0.59"/><path d="M589.5,292.9 L589.7,294.5 L591.9,295.5 L593.6,294.6 L594.2,292.7 L593.5,292.2 L590.1,291.8Z" fill="rgb(46,46,46)" stroke="rgb(197,197,197)" stroke-width="0.65"/><path d="M595.1,292.7 L597.8,292.0 L598.7,292.7 L598.6,295.9 L595.9,296.9 L594.5,294.8Z" fill="rgb(44,44,44)" stroke="rgb(134,134,134)" stroke-width="0.44"/><path d="M599.5,295.8 L599.6,293.1 L601.4,293.2 L601.5,293.3 L602.7,295.4 L602.3,296.4 L599.7,296.1Z" fill="rgb(62,62,62)" stroke="rgb(152,152,152)" stroke-width="0.58"/><path d="M606.8,292.7 L606.3,294.8 L603.9,295.2 L602.5,292.9 L606.5,292.2Z" fill="rgb(36,36,36)" stroke="rgb(153,153,153)" stroke-width="0.52"/><path d="M607.8,293.1 L607.3,295.2 L609.2,297.8 L611.2,296.2 L611.1,293.7Z" fill="rgb(46,46,46)" stroke="rgb(155,155,155)" stroke-width="0.68"/><path d="M612.5,293.2 L615.6,293.6 L615.5,295.9 L613.8,296.4 L612.3,296.1 L612.2,293.6Z" fill="rgb(52,52,52)" stroke="rgb(140,140,140)" stroke-width="0.64"/><path d="M620.2,294.8 L618.0,296.8 L616.6,296.0 L616.6,293.4 L617.2,292.7 L619.7,293.3Z" fill="rgb(36,36,36)" stroke="rgb(198,198,198)" stroke-width="0.38"/><path d="M623.7,291.3 L620.6,292.7 L620.4,293.1 L620.9,294.7 L621.5,295.0 L623.7,294.8 L624.9,293.1Z" fill="rgb(38,38,38)" stroke="rgb(188,188,188)" stroke-width="0.61"/><path d="M625.4,293.4 L627.9,293.5 L628.6,295.8 L625.7,298.3 L625.7,298.3 L624.3,295.1Z" fill="rgb(44,44,44)" stroke="rgb(159,159,159)" stroke-width="0.37"/><path d="M629.7,296.0 L632.9,295.4 L633.3,294.0 L629.9,291.5 L628.4,293.2 L629.1,295.7Z" fill="rgb(51,51,51)" stroke="rgb(203,203,203)" stroke-width="0.63"/><path d="M637.4,293.3 L638.0,295.9 L635.5,298.2 L633.8,295.4 L634.1,294.2 L636.0,292.9Z" fill="rgb(56,56,56)" stroke="rgb(207,207,207)" stroke-width="0.48"/><path d="M638.3,293.0 L639.1,296.0 L640.3,296.3 L642.3,296.5 L643.4,293.5 L643.4,293.4 L639.9,291.5Z" fill="rgb(60,60,60)" stroke="rgb(154,154,154)" stroke-width="0.55"/><path d="M646.9,294.0 L644.1,293.8 L643.1,296.6 L644.0,297.8 L647.6,295.3Z" fill="rgb(42,42,42)" stroke="rgb(129,129,129)" stroke-width="0.68"/><path d="M538.7,298.0 L538.7,299.4 L536.9,300.9 L531.6,297.0 L537.8,297.2Z" fill="rgb(32,32,32)" stroke="rgb(158,158,158)" stroke-width="0.67"/><path d="M540.2,297.9 L540.3,299.3 L542.6,300.5 L544.0,298.7 L543.4,296.6 L543.2,296.5Z" fill="rgb(35,35,35)" stroke="rgb(144,144,144)" stroke-width="0.70"/><path d="M548.1,296.1 L547.7,295.3 L544.5,296.3 L545.1,298.5 L547.5,299.2 L548.0,298.8Z" fill="rgb(37,37,37)" stroke="rgb(127,127,127)" stroke-width="0.68"/><path d="M551.9,297.0 L548.9,296.0 L548.7,299.0 L552.2,299.0 L552.3,297.6Z" fill="rgb(37,37,37)" stroke="rgb(123,123,123)" stroke-width="0.49"/><path d="M556.7,296.1 L557.1,299.5 L553.9,300.1 L553.2,298.9 L553.3,297.7 L556.5,295.9Z" fill="rgb(61,61,61)" stroke="rgb(189,189,189)" stroke-width="0.38"/><path d="M557.8,295.8 L558.3,299.6 L558.5,299.7 L561.4,299.1 L562.2,296.4 L561.7,295.8Z" fill="rgb(39,39,39)" stroke="rgb(131,131,131)" stroke-width="0.53"/><path d="M564.7,296.6 L563.1,296.6 L562.3,299.2 L563.9,300.8 L566.5,300.3 L566.4,297.9Z" fill="rgb(59,59,59)" stroke="rgb(145,145,145)" stroke-width="0.66"/><path d="M567.6,298.1 L567.6,300.2 L567.9,300.5 L570.5,300.4 L570.8,297.7 L569.8,296.6Z" fill="rgb(36,36,36)" stroke="rgb(182,182,182)" stroke-width="0.42"/><path d="M571.5,300.8 L571.8,297.6 L576.1,297.7 L576.3,299.4 L573.1,302.0Z" fill="rgb(29,29,29)" stroke="rgb(191,191,191)" stroke-width="0.68"/><path d="M577.0,299.2 L578.9,300.6 L582.2,300.0 L582.0,296.3 L579.4,295.7 L576.9,296.7 L576.7,297.4Z" fill="rgb(33,33,33)" stroke="rgb(137,137,137)" stroke-width="0.66"/><path d="M586.8,299.0 L586.7,297.3 L584.0,295.7 L583.0,296.6 L583.2,299.8 L583.7,300.1 L586.4,299.5Z" fill="rgb(42,42,42)" stroke="rgb(209,209,209)" stroke-width="0.45"/><path d="M588.0,298.7 L587.9,297.1 L589.2,295.5 L591.3,296.4 L591.1,298.7Z" fill="rgb(62,62,62)" stroke="rgb(139,139,139)" stroke-width="0.65"/><path d="M591.8,299.0 L592.1,296.2 L594.0,295.2 L595.6,297.4 L595.4,299.2 L591.9,299.1Z" fill="rgb(29,29,29)" stroke="rgb(197,197,197)" stroke-width="0.52"/><path d="M598.6,296.6 L596.1,297.5 L595.9,299.2 L596.6,300.2 L599.0,299.9 L598.9,297.0Z" fill="rgb(48,48,48)" stroke="rgb(141,141,141)" stroke-width="0.38"/><path d="M599.6,297.1 L602.6,297.4 L602.8,299.6 L601.0,300.7 L599.6,300.0Z" fill="rgb(30,30,30)" stroke="rgb(133,133,133)" stroke-width="0.39"/><path d="M608.7,298.9 L608.8,298.6 L606.5,295.5 L603.7,295.9 L603.2,297.1 L603.5,299.5 L605.1,300.1Z" fill="rgb(29,29,29)" stroke="rgb(173,173,173)" stroke-width="0.36"/><path d="M609.4,299.1 L609.5,298.8 L611.8,296.9 L613.6,297.3 L614.5,301.1 L613.6,302.1 L613.1,302.1 L609.9,300.3Z" fill="rgb(61,61,61)" stroke="rgb(194,194,194)" stroke-width="0.62"/><path d="M618.4,299.6 L617.7,300.3 L615.1,300.9 L614.3,297.3 L616.3,296.7 L617.8,297.6Z" fill="rgb(33,33,33)" stroke="rgb(120,120,120)" stroke-width="0.48"/><path d="M620.7,295.2 L618.2,297.4 L618.9,299.5 L622.3,300.2 L621.3,295.4Z" fill="rgb(41,41,41)" stroke="rgb(170,170,170)" stroke-width="0.64"/><path d="M621.8,295.8 L622.7,299.9 L622.7,299.9 L625.1,298.6 L623.8,295.6Z" fill="rgb(49,49,49)" stroke="rgb(148,148,148)" stroke-width="0.47"/><path d="M626.4,298.6 L628.8,296.5 L629.3,296.8 L630.2,299.5 L627.7,299.8Z" fill="rgb(43,43,43)" stroke="rgb(153,153,153)" stroke-width="0.37"/><path d="M634.7,299.5 L634.8,299.1 L633.1,296.2 L630.3,296.7 L631.4,299.7 L632.2,300.1Z" fill="rgb(49,49,49)" stroke="rgb(186,186,186)" stroke-width="0.59"/><path d="M636.4,300.6 L635.8,299.6 L635.8,299.3 L638.5,296.8 L639.7,297.1 L639.3,301.2Z" fill="rgb(43,43,43)" stroke="rgb(173,173,173)" stroke-width="0.41"/><path d="M641.9,301.6 L640.4,301.0 L640.7,297.3 L642.3,297.5 L643.3,298.7 L643.4,299.3Z" fill="rgb(44,44,44)" stroke="rgb(177,177,177)" stroke-width="0.52"/><path d="M646.2,300.0 L644.3,299.2 L644.1,298.5 L648.2,295.6 L648.9,296.1 L648.6,299.9Z" fill="rgb(49,49,49)" stroke="rgb(143,143,143)" stroke-width="0.43"/><path d="M542.3,301.6 L539.5,300.1 L537.4,301.9 L537.6,303.9 L538.8,304.7 L542.4,302.5Z" fill="rgb(44,44,44)" stroke="rgb(196,196,196)" stroke-width="0.53"/><path d="M544.5,303.4 L543.4,302.3 L543.3,301.5 L544.7,299.5 L547.0,300.2 L547.3,302.4Z" fill="rgb(29,29,29)" stroke="rgb(143,143,143)" stroke-width="0.46"/><path d="M550.0,303.2 L548.7,302.3 L548.4,300.2 L548.9,299.8 L551.9,299.8 L552.6,301.0 L552.1,302.5Z" fill="rgb(60,60,60)" stroke="rgb(162,162,162)" stroke-width="0.61"/><path d="M557.6,300.7 L558.1,303.7 L554.3,303.8 L553.5,302.8 L554.0,301.2 L557.4,300.5Z" fill="rgb(30,30,30)" stroke="rgb(151,151,151)" stroke-width="0.54"/><path d="M558.9,300.8 L559.4,303.6 L559.6,303.8 L562.3,303.1 L562.9,301.6 L561.4,300.2Z" fill="rgb(60,60,60)" stroke="rgb(151,151,151)" stroke-width="0.50"/><path d="M566.6,301.3 L564.2,301.7 L563.6,303.2 L564.3,304.4 L566.9,303.1 L566.8,301.5Z" fill="rgb(36,36,36)" stroke="rgb(167,167,167)" stroke-width="0.58"/><path d="M572.4,304.2 L572.3,302.6 L570.9,301.6 L568.3,301.6 L568.3,303.3 L568.5,303.8 L572.1,304.5Z" fill="rgb(32,32,32)" stroke="rgb(169,169,169)" stroke-width="0.70"/><path d="M573.8,304.3 L573.7,302.6 L576.7,300.1 L578.4,301.3 L578.3,304.5 L577.3,305.1Z" fill="rgb(42,42,42)" stroke="rgb(163,163,163)" stroke-width="0.70"/><path d="M579.5,304.4 L582.0,305.4 L583.1,304.4 L582.9,301.3 L582.3,301.0 L579.6,301.4Z" fill="rgb(46,46,46)" stroke="rgb(191,191,191)" stroke-width="0.56"/><path d="M586.8,300.4 L583.7,301.0 L584.0,304.7 L587.7,305.4 L588.6,304.3Z" fill="rgb(58,58,58)" stroke="rgb(121,121,121)" stroke-width="0.37"/><path d="M588.1,299.8 L591.1,299.7 L591.2,299.8 L591.3,303.3 L589.2,303.5 L587.8,300.3Z" fill="rgb(32,32,32)" stroke="rgb(174,174,174)" stroke-width="0.67"/><path d="M592.3,300.0 L595.1,300.0 L595.8,301.0 L594.9,303.5 L593.1,303.9 L592.5,303.6Z" fill="rgb(41,41,41)" stroke="rgb(140,140,140)" stroke-width="0.66"/><path d="M597.5,305.4 L595.5,303.9 L596.6,300.8 L599.2,300.4 L600.8,301.2 L600.7,304.5Z" fill="rgb(48,48,48)" stroke="rgb(163,163,163)" stroke-width="0.40"/><path d="M602.5,304.8 L604.7,303.1 L604.5,300.9 L603.2,300.5 L601.5,301.4 L601.5,304.1Z" fill="rgb(48,48,48)" stroke="rgb(125,125,125)" stroke-width="0.42"/><path d="M608.6,299.8 L605.7,300.8 L605.9,303.0 L607.6,303.9 L608.3,303.3 L609.1,300.8Z" fill="rgb(43,43,43)" stroke="rgb(212,212,212)" stroke-width="0.66"/><path d="M609.9,300.8 L612.9,302.5 L611.7,305.0 L608.9,303.6Z" fill="rgb(51,51,51)" stroke="rgb(167,167,167)" stroke-width="0.60"/><path d="M617.8,300.8 L615.0,301.5 L614.0,302.4 L616.3,305.3 L618.2,304.0Z" fill="rgb(37,37,37)" stroke="rgb(129,129,129)" stroke-width="0.69"/><path d="M619.0,300.0 L618.3,300.8 L618.7,303.8 L620.6,304.4 L622.5,302.9 L622.3,300.7 L622.3,300.6Z" fill="rgb(31,31,31)" stroke="rgb(135,135,135)" stroke-width="0.46"/><path d="M623.3,300.8 L625.5,299.5 L625.5,299.5 L626.9,300.7 L626.9,303.8 L625.6,304.3 L623.5,302.7Z" fill="rgb(35,35,35)" stroke="rgb(155,155,155)" stroke-width="0.53"/><path d="M627.8,300.8 L630.7,300.5 L631.6,301.0 L630.3,304.6 L630.1,304.9 L627.9,304.2Z" fill="rgb(56,56,56)" stroke="rgb(187,187,187)" stroke-width="0.44"/><path d="M635.5,301.3 L634.9,300.4 L632.6,301.0 L631.4,304.2 L635.5,303.5Z" fill="rgb(42,42,42)" stroke="rgb(122,122,122)" stroke-width="0.38"/><path d="M636.9,304.5 L636.7,303.8 L636.7,301.5 L639.5,302.0 L641.1,302.6 L641.1,302.7 L639.1,305.0Z" fill="rgb(60,60,60)" stroke="rgb(143,143,143)" stroke-width="0.41"/><path d="M642.3,302.5 L642.3,302.5 L644.0,300.0 L645.6,300.7 L645.8,304.0 L644.1,304.8Z" fill="rgb(34,34,34)" stroke="rgb(157,157,157)" stroke-width="0.52"/><path d="M646.6,304.3 L646.4,300.5 L648.9,300.4 L655.1,305.4Z" fill="rgb(57,57,57)" stroke="rgb(164,164,164)" stroke-width="0.56"/><path d="M544.0,304.2 L542.8,302.9 L539.0,305.2 L540.2,308.0 L540.6,308.0 L544.2,306.3Z" fill="rgb(57,57,57)" stroke="rgb(124,124,124)" stroke-width="0.42"/><path d="M548.7,307.4 L546.8,308.1 L544.7,306.3 L544.6,304.1 L547.9,302.9 L549.5,304.1Z" fill="rgb(29,29,29)" stroke="rgb(176,176,176)" stroke-width="0.62"/><path d="M567.3,303.9 L567.5,304.5 L567.1,307.2 L566.7,307.6 L564.8,307.5 L564.4,305.4Z" fill="rgb(31,31,31)" stroke="rgb(156,156,156)" stroke-width="0.41"/><path d="M572.1,305.3 L568.4,304.5 L568.1,307.1 L571.6,306.7Z" fill="rgb(41,41,41)" stroke="rgb(122,122,122)" stroke-width="0.36"/><path d="M573.4,305.1 L576.9,305.9 L576.8,308.4 L573.5,309.5 L572.7,307.0 L573.2,305.5Z" fill="rgb(59,59,59)" stroke="rgb(198,198,198)" stroke-width="0.58"/><path d="M577.9,306.0 L578.9,305.3 L581.6,306.4 L581.7,307.7 L578.3,308.9 L577.8,308.5Z" fill="rgb(39,39,39)" stroke="rgb(163,163,163)" stroke-width="0.36"/><path d="M582.8,307.7 L582.8,306.5 L583.9,305.5 L587.2,306.1 L587.1,308.5 L587.1,308.6 L583.3,308.8Z" fill="rgb(30,30,30)" stroke="rgb(163,163,163)" stroke-width="0.44"/><path d="M589.2,304.8 L588.3,305.8 L588.2,308.4 L592.5,308.7 L592.4,304.8 L591.7,304.5Z" fill="rgb(51,51,51)" stroke="rgb(208,208,208)" stroke-width="0.52"/><path d="M597.0,307.7 L597.0,305.9 L595.2,304.6 L593.1,305.0 L593.2,308.9 L593.9,310.0 L594.5,310.0Z" fill="rgb(48,48,48)" stroke="rgb(141,141,141)" stroke-width="0.47"/><path d="M602.7,307.3 L602.1,305.9 L600.9,304.9 L597.7,305.8 L597.7,307.6 L599.3,309.2 L600.7,309.5Z" fill="rgb(54,54,54)" stroke="rgb(174,174,174)" stroke-width="0.54"/><path d="M605.9,308.2 L607.1,307.2 L607.2,305.0 L605.3,303.9 L602.9,305.8 L603.5,307.1Z" fill="rgb(49,49,49)" stroke="rgb(182,182,182)" stroke-width="0.43"/><path d="M607.7,307.3 L607.9,304.8 L608.7,304.0 L611.6,305.4 L611.7,306.9 L610.8,307.6Z" fill="rgb(38,38,38)" stroke="rgb(179,179,179)" stroke-width="0.53"/><path d="M612.1,306.9 L615.1,307.7 L615.8,307.1 L616.1,305.5 L613.8,302.7 L613.3,302.7 L612.0,305.4Z" fill="rgb(46,46,46)" stroke="rgb(141,141,141)" stroke-width="0.68"/><path d="M635.6,309.0 L639.5,308.9 L640.1,308.3 L639.0,306.0 L636.8,305.5Z" fill="rgb(53,53,53)" stroke="rgb(140,140,140)" stroke-width="0.60"/><path d="M639.9,305.7 L641.9,303.4 L643.7,305.6 L643.4,307.4 L643.0,307.7 L641.0,308.1Z" fill="rgb(34,34,34)" stroke="rgb(201,201,201)" stroke-width="0.59"/><path d="M540.8,312.4 L539.3,310.9 L540.1,309.0 L540.2,308.8 L540.6,308.8 L543.5,311.5 L543.3,311.8Z" fill="rgb(35,35,35)" stroke="rgb(183,183,183)" stroke-width="0.61"/><path d="M544.5,306.8 L541.0,308.4 L544.2,311.5 L546.0,310.4 L546.5,308.4Z" fill="rgb(52,52,52)" stroke="rgb(207,207,207)" stroke-width="0.35"/><path d="M571.8,307.6 L567.9,308.0 L567.5,308.5 L568.9,312.1 L569.0,312.2 L572.0,311.2 L572.5,310.7 L572.7,310.2Z" fill="rgb(45,45,45)" stroke="rgb(183,183,183)" stroke-width="0.55"/><path d="M573.7,310.3 L573.6,310.9 L576.5,313.2 L578.3,311.1 L577.7,309.5 L577.2,309.1Z" fill="rgb(57,57,57)" stroke="rgb(127,127,127)" stroke-width="0.38"/><path d="M578.5,309.4 L582.0,308.2 L582.5,309.4 L582.0,311.7 L579.2,310.9Z" fill="rgb(58,58,58)" stroke="rgb(127,127,127)" stroke-width="0.57"/><path d="M582.4,312.0 L583.1,313.8 L587.6,310.7 L587.5,309.1 L583.0,309.4Z" fill="rgb(45,45,45)" stroke="rgb(188,188,188)" stroke-width="0.50"/><path d="M588.4,309.3 L588.4,309.4 L588.5,310.6 L589.5,312.0 L591.1,312.4 L592.7,310.5 L592.1,309.6Z" fill="rgb(31,31,31)" stroke="rgb(150,150,150)" stroke-width="0.55"/><path d="M598.8,309.6 L596.9,312.1 L595.0,310.4 L597.3,308.2Z" fill="rgb(30,30,30)" stroke="rgb(152,152,152)" stroke-width="0.42"/><path d="M601.1,312.5 L597.8,313.6 L597.3,312.5 L599.2,309.8 L600.5,310.1Z" fill="rgb(34,34,34)" stroke="rgb(174,174,174)" stroke-width="0.47"/><path d="M605.7,311.8 L605.4,309.4 L603.2,308.3 L601.7,310.1 L602.1,312.2 L603.0,312.6 L605.6,312.0Z" fill="rgb(32,32,32)" stroke="rgb(182,182,182)" stroke-width="0.65"/><path d="M607.0,311.5 L610.5,311.4 L610.2,308.2 L607.8,308.0 L606.7,309.0Z" fill="rgb(48,48,48)" stroke="rgb(205,205,205)" stroke-width="0.53"/><path d="M611.3,308.2 L612.1,307.7 L614.6,308.4 L614.5,311.6 L612.9,312.3 L611.6,311.6Z" fill="rgb(40,40,40)" stroke="rgb(202,202,202)" stroke-width="0.43"/><path d="M635.0,309.6 L635.0,309.6 L634.8,311.4 L636.1,312.6 L639.8,312.0 L639.6,309.4Z" fill="rgb(47,47,47)" stroke="rgb(205,205,205)" stroke-width="0.67"/><path d="M640.8,309.0 L643.1,308.6 L644.0,311.7 L642.0,314.1 L641.6,313.9 L640.5,312.0 L640.2,309.6Z" fill="rgb(45,45,45)" stroke="rgb(158,158,158)" stroke-width="0.63"/><path d="M539.9,315.7 L539.5,315.7 L536.0,313.6 L538.8,311.8 L540.2,313.2Z" fill="rgb(58,58,58)" stroke="rgb(158,158,158)" stroke-width="0.60"/><path d="M540.8,315.8 L541.1,313.4 L543.4,312.9 L543.6,314.6 L541.3,316.2Z" fill="rgb(29,29,29)" stroke="rgb(185,185,185)" stroke-width="0.58"/><path d="M569.2,313.1 L569.0,316.1 L572.4,316.8 L572.8,316.6 L572.2,312.1Z" fill="rgb(53,53,53)" stroke="rgb(202,202,202)" stroke-width="0.65"/><path d="M573.2,311.2 L576.4,313.8 L577.0,316.0 L576.7,316.5 L573.3,316.8 L572.6,311.7Z" fill="rgb(38,38,38)" stroke="rgb(134,134,134)" stroke-width="0.44"/><path d="M579.2,311.8 L577.5,313.8 L578.0,315.7 L582.1,315.0 L582.4,314.5 L582.4,314.0 L581.8,312.5Z" fill="rgb(52,52,52)" stroke="rgb(159,159,159)" stroke-width="0.44"/><path d="M587.5,311.1 L583.5,313.9 L583.5,314.5 L586.8,315.1 L588.7,312.7Z" fill="rgb(44,44,44)" stroke="rgb(210,210,210)" stroke-width="0.57"/><path d="M591.2,313.7 L589.5,313.3 L587.8,315.4 L589.1,317.1 L591.5,315.9 L591.7,315.7Z" fill="rgb(31,31,31)" stroke="rgb(175,175,175)" stroke-width="0.65"/><path d="M596.6,312.7 L597.2,313.9 L596.7,315.7 L592.6,315.5 L592.0,313.2 L593.8,310.8 L594.5,310.9Z" fill="rgb(28,28,28)" stroke="rgb(192,192,192)" stroke-width="0.44"/><path d="M601.1,313.1 L597.9,314.2 L597.5,315.9 L597.7,316.2 L599.5,316.5 L601.7,316.2 L602.1,313.6Z" fill="rgb(59,59,59)" stroke="rgb(148,148,148)" stroke-width="0.48"/><path d="M605.9,313.2 L606.6,316.0 L604.4,318.4 L604.3,318.4 L602.7,316.3 L603.0,313.9Z" fill="rgb(29,29,29)" stroke="rgb(140,140,140)" stroke-width="0.52"/><path d="M606.7,312.4 L611.1,312.2 L612.6,313.1 L612.2,315.1 L608.3,316.2 L607.3,315.8 L606.6,312.5Z" fill="rgb(42,42,42)" stroke="rgb(203,203,203)" stroke-width="0.57"/><path d="M616.7,313.5 L614.9,312.8 L613.4,313.5 L613.1,315.1 L613.7,316.6 L617.2,316.8Z" fill="rgb(37,37,37)" stroke="rgb(186,186,186)" stroke-width="0.50"/><path d="M618.0,313.4 L620.9,311.9 L622.4,313.2 L622.2,315.5 L621.6,316.6 L618.6,317.1 L618.5,317.1Z" fill="rgb(39,39,39)" stroke="rgb(123,123,123)" stroke-width="0.58"/><path d="M635.8,313.0 L636.9,315.0 L633.1,317.1 L633.5,312.9 L634.6,311.9Z" fill="rgb(34,34,34)" stroke="rgb(162,162,162)" stroke-width="0.46"/><path d="M636.8,313.2 L637.7,314.9 L638.2,315.2 L640.8,314.3 L639.8,312.7Z" fill="rgb(29,29,29)" stroke="rgb(157,157,157)" stroke-width="0.54"/><path d="M646.0,312.5 L645.6,316.7 L643.3,316.0 L642.4,314.5 L644.4,312.3Z" fill="rgb(47,47,47)" stroke="rgb(179,179,179)" stroke-width="0.62"/><path d="M653.3,311.0 L654.3,311.0 L647.1,316.5 L646.7,316.3 L647.1,312.4Z" fill="rgb(45,45,45)" stroke="rgb(147,147,147)" stroke-width="0.53"/><path d="M536.0,320.1 L539.7,316.7 L540.2,316.7 L540.8,317.1 L541.3,318.7 L539.9,320.9Z" fill="rgb(30,30,30)" stroke="rgb(132,132,132)" stroke-width="0.65"/><path d="M573.4,317.3 L576.5,317.1 L576.8,319.3 L575.3,321.2 L572.9,320.4 L573.1,317.6Z" fill="rgb(58,58,58)" stroke="rgb(215,215,215)" stroke-width="0.53"/><path d="M582.0,316.0 L582.5,319.3 L582.4,319.5 L580.6,320.6 L578.0,319.1 L577.6,317.1 L577.9,316.7Z" fill="rgb(51,51,51)" stroke="rgb(150,150,150)" stroke-width="0.50"/><path d="M583.6,315.3 L586.7,315.9 L588.1,317.7 L587.7,318.9 L587.5,319.2 L583.8,319.1 L583.3,315.8Z" fill="rgb(49,49,49)" stroke="rgb(126,126,126)" stroke-width="0.69"/><path d="M592.6,320.1 L591.8,316.9 L589.2,318.1 L588.9,319.3 L591.9,320.7Z" fill="rgb(62,62,62)" stroke="rgb(173,173,173)" stroke-width="0.43"/><path d="M596.8,316.2 L597.0,316.7 L596.8,319.7 L595.6,320.5 L593.3,320.2 L592.3,316.4 L592.6,316.1Z" fill="rgb(58,58,58)" stroke="rgb(130,130,130)" stroke-width="0.39"/><path d="M597.4,319.7 L600.3,321.5 L601.2,320.6 L599.5,317.3 L597.6,317.1Z" fill="rgb(54,54,54)" stroke="rgb(200,200,200)" stroke-width="0.54"/><path d="M599.9,317.1 L601.7,320.5 L603.9,318.9 L602.1,316.7Z" fill="rgb(60,60,60)" stroke="rgb(152,152,152)" stroke-width="0.56"/><path d="M607.9,320.7 L609.2,319.1 L608.0,316.9 L607.2,316.6 L604.9,319.0 L606.3,320.4Z" fill="rgb(28,28,28)" stroke="rgb(187,187,187)" stroke-width="0.38"/><path d="M612.1,315.8 L609.0,316.7 L610.1,318.8 L612.1,318.9 L612.7,317.4Z" fill="rgb(31,31,31)" stroke="rgb(198,198,198)" stroke-width="0.40"/><path d="M617.6,317.9 L617.6,317.9 L617.6,318.7 L614.1,321.9 L613.8,321.7 L612.9,319.4 L613.6,317.7Z" fill="rgb(45,45,45)" stroke="rgb(212,212,212)" stroke-width="0.55"/><path d="M621.8,317.2 L623.0,319.1 L622.0,320.7 L619.6,321.5 L618.3,318.6 L618.4,317.8Z" fill="rgb(45,45,45)" stroke="rgb(202,202,202)" stroke-width="0.36"/><path d="M622.6,317.2 L623.5,318.7 L625.3,319.1 L626.4,317.1 L623.1,316.3Z" fill="rgb(31,31,31)" stroke="rgb(175,175,175)" stroke-width="0.69"/><path d="M626.2,320.1 L625.9,319.6 L627.4,317.0 L628.4,316.3 L631.8,318.6 L631.1,320.0Z" fill="rgb(40,40,40)" stroke="rgb(152,152,152)" stroke-width="0.66"/><path d="M633.6,317.7 L633.3,318.4 L636.6,319.9 L637.3,319.5 L637.4,316.4 L636.9,316.0Z" fill="rgb(32,32,32)" stroke="rgb(120,120,120)" stroke-width="0.44"/><path d="M641.5,314.8 L638.4,315.9 L638.3,319.7 L640.3,319.8 L640.8,319.5 L642.7,316.5 L641.8,315.0Z" fill="rgb(56,56,56)" stroke="rgb(136,136,136)" stroke-width="0.70"/><path d="M644.8,321.0 L641.6,319.6 L643.4,316.8 L645.6,317.5 L646.0,317.7 L646.5,319.4Z" fill="rgb(43,43,43)" stroke="rgb(171,171,171)" stroke-width="0.64"/><path d="M572.3,324.3 L572.7,324.6 L575.1,323.0 L574.9,322.0 L572.7,321.2 L572.5,321.4Z" fill="rgb(54,54,54)" stroke="rgb(125,125,125)" stroke-width="0.38"/><path d="M579.9,322.9 L580.2,321.5 L577.4,319.9 L575.8,321.8 L576.0,323.0 L577.3,324.2Z" fill="rgb(43,43,43)" stroke="rgb(127,127,127)" stroke-width="0.55"/><path d="M581.8,324.3 L584.6,324.9 L585.0,324.5 L583.0,320.5 L581.1,321.7 L580.9,323.0Z" fill="rgb(52,52,52)" stroke="rgb(129,129,129)" stroke-width="0.61"/><path d="M583.6,319.9 L583.4,320.1 L585.6,324.5 L587.6,323.9 L587.6,320.0Z" fill="rgb(34,34,34)" stroke="rgb(146,146,146)" stroke-width="0.68"/><path d="M591.9,321.3 L591.4,323.0 L589.1,324.5 L588.1,324.0 L588.1,320.0 L588.4,319.7Z" fill="rgb(59,59,59)" stroke="rgb(195,195,195)" stroke-width="0.66"/><path d="M593.2,320.7 L595.5,320.9 L595.3,324.8 L594.9,325.0 L591.9,323.1 L592.3,321.4Z" fill="rgb(35,35,35)" stroke="rgb(162,162,162)" stroke-width="0.46"/><path d="M597.3,320.6 L600.0,322.3 L600.1,323.4 L599.1,324.9 L596.1,324.4 L596.3,321.3Z" fill="rgb(60,60,60)" stroke="rgb(193,193,193)" stroke-width="0.49"/><path d="M604.6,324.3 L601.3,323.2 L601.2,322.0 L602.0,321.1 L604.0,319.6 L604.1,319.6 L605.4,321.0Z" fill="rgb(40,40,40)" stroke="rgb(152,152,152)" stroke-width="0.36"/><path d="M608.7,324.7 L606.1,325.2 L605.6,324.6 L606.4,321.6 L607.8,321.9 L609.1,323.8Z" fill="rgb(45,45,45)" stroke="rgb(177,177,177)" stroke-width="0.42"/><path d="M609.9,323.5 L613.0,322.0 L612.1,319.7 L609.9,319.5 L608.4,321.2Z" fill="rgb(41,41,41)" stroke="rgb(177,177,177)" stroke-width="0.50"/><path d="M617.9,319.6 L614.8,322.5 L615.9,323.9 L618.4,324.2 L618.5,324.2 L619.0,322.0Z" fill="rgb(29,29,29)" stroke="rgb(172,172,172)" stroke-width="0.66"/><path d="M622.5,324.7 L619.2,324.4 L619.8,322.0 L622.0,321.3 L623.4,323.5Z" fill="rgb(33,33,33)" stroke="rgb(178,178,178)" stroke-width="0.61"/><path d="M625.8,322.4 L623.9,323.1 L622.5,320.9 L623.4,319.4 L625.5,319.9 L625.7,320.4Z" fill="rgb(57,57,57)" stroke="rgb(204,204,204)" stroke-width="0.48"/><path d="M626.3,322.6 L628.6,324.2 L630.1,324.3 L631.0,320.3 L626.2,320.5Z" fill="rgb(53,53,53)" stroke="rgb(205,205,205)" stroke-width="0.38"/><path d="M631.0,323.8 L631.5,324.3 L635.7,322.9 L636.0,320.9 L632.5,319.3 L632.4,319.3 L631.7,320.5Z" fill="rgb(42,42,42)" stroke="rgb(212,212,212)" stroke-width="0.56"/><path d="M637.6,324.5 L641.2,324.0 L639.9,320.6 L638.0,320.5 L637.2,321.0 L636.9,323.1Z" fill="rgb(57,57,57)" stroke="rgb(175,175,175)" stroke-width="0.42"/><path d="M642.4,324.1 L641.9,323.9 L640.7,320.7 L641.2,320.4 L644.2,321.7 L644.0,322.8Z" fill="rgb(33,33,33)" stroke="rgb(189,189,189)" stroke-width="0.56"/><path d="M650.3,322.0 L646.9,320.0 L645.1,321.6 L644.8,322.8 L646.6,324.2Z" fill="rgb(53,53,53)" stroke="rgb(122,122,122)" stroke-width="0.64"/><path d="M569.5,328.9 L567.4,327.5 L567.9,324.5 L567.9,324.5 L571.4,325.1 L571.9,325.4 L572.2,327.1Z" fill="rgb(55,55,55)" stroke="rgb(153,153,153)" stroke-width="0.38"/><path d="M576.8,327.6 L576.8,325.0 L575.5,323.8 L573.1,325.4 L573.4,327.1 L575.5,328.0Z" fill="rgb(53,53,53)" stroke="rgb(158,158,158)" stroke-width="0.70"/><path d="M578.3,327.9 L579.9,327.4 L580.9,325.0 L580.1,323.8 L577.7,325.0 L577.7,327.6Z" fill="rgb(55,55,55)" stroke="rgb(127,127,127)" stroke-width="0.52"/><path d="M581.9,325.2 L584.5,325.8 L584.4,326.5 L583.1,328.2 L581.0,327.5Z" fill="rgb(41,41,41)" stroke="rgb(203,203,203)" stroke-width="0.49"/><path d="M588.9,329.8 L590.2,328.0 L588.8,325.2 L587.8,324.7 L586.0,325.2 L585.6,325.7 L585.4,326.5 L588.3,329.9Z" fill="rgb(49,49,49)" stroke="rgb(215,215,215)" stroke-width="0.48"/><path d="M593.3,327.6 L594.4,325.4 L591.7,323.7 L589.7,325.0 L591.0,327.8Z" fill="rgb(44,44,44)" stroke="rgb(210,210,210)" stroke-width="0.59"/><path d="M594.2,327.8 L595.3,325.6 L595.7,325.4 L598.8,325.8 L598.9,326.2 L597.6,328.2 L594.7,328.4Z" fill="rgb(38,38,38)" stroke="rgb(123,123,123)" stroke-width="0.40"/><path d="M605.2,325.9 L604.9,327.2 L602.4,329.0 L599.9,326.1 L599.9,325.7 L601.0,324.0 L604.7,325.2Z" fill="rgb(48,48,48)" stroke="rgb(213,213,213)" stroke-width="0.53"/><path d="M609.0,325.7 L610.1,327.6 L610.0,327.7 L607.7,329.1 L606.2,327.3 L606.4,326.3Z" fill="rgb(49,49,49)" stroke="rgb(187,187,187)" stroke-width="0.68"/><path d="M610.0,325.0 L611.2,327.1 L613.3,326.9 L614.7,324.4 L613.5,323.0 L613.2,322.8 L610.3,324.1Z" fill="rgb(59,59,59)" stroke="rgb(204,204,204)" stroke-width="0.52"/><path d="M613.9,327.5 L615.4,324.6 L618.5,324.9 L618.7,329.5 L615.0,329.1Z" fill="rgb(54,54,54)" stroke="rgb(206,206,206)" stroke-width="0.40"/><path d="M623.9,328.1 L619.7,330.0 L619.2,329.3 L619.1,325.1 L619.1,325.1 L622.4,325.4Z" fill="rgb(57,57,57)" stroke="rgb(179,179,179)" stroke-width="0.54"/><path d="M626.0,322.8 L623.9,323.7 L622.9,325.1 L624.6,328.1 L624.7,328.1 L628.3,324.5Z" fill="rgb(29,29,29)" stroke="rgb(157,157,157)" stroke-width="0.47"/><path d="M628.6,324.7 L625.3,328.2 L625.7,328.7 L631.1,328.0 L631.3,327.7 L630.7,325.4 L630.2,324.8Z" fill="rgb(32,32,32)" stroke="rgb(121,121,121)" stroke-width="0.46"/><path d="M634.1,328.4 L632.1,327.5 L631.5,325.3 L636.3,323.7 L637.1,325.1 L637.0,326.5Z" fill="rgb(51,51,51)" stroke="rgb(147,147,147)" stroke-width="0.48"/><path d="M642.1,326.2 L641.8,325.0 L641.4,324.7 L638.1,325.2 L638.1,326.4 L639.8,328.0Z" fill="rgb(50,50,50)" stroke="rgb(194,194,194)" stroke-width="0.54"/><path d="M644.2,326.8 L643.2,326.1 L643.0,325.0 L644.5,323.7 L645.9,324.8 L645.7,327.0Z" fill="rgb(51,51,51)" stroke="rgb(170,170,170)" stroke-width="0.58"/><path d="M552.7,329.2 L553.3,331.8 L551.9,333.4 L549.2,331.1 L550.2,329.8 L552.4,329.1Z" fill="rgb(47,47,47)" stroke="rgb(200,200,200)" stroke-width="0.66"/><path d="M569.6,331.4 L569.2,329.8 L566.8,328.1 L564.9,328.9 L564.3,333.0 L569.3,332.9Z" fill="rgb(43,43,43)" stroke="rgb(146,146,146)" stroke-width="0.41"/><path d="M570.5,331.0 L570.2,329.7 L572.8,328.0 L574.7,328.8 L573.8,331.1Z" fill="rgb(33,33,33)" stroke="rgb(201,201,201)" stroke-width="0.63"/><path d="M575.0,332.2 L579.0,332.7 L579.0,332.7 L577.9,328.8 L577.2,328.4 L575.7,328.8 L574.7,331.5Z" fill="rgb(44,44,44)" stroke="rgb(122,122,122)" stroke-width="0.52"/><path d="M578.4,328.7 L580.3,328.2 L582.8,329.1 L583.4,331.7 L579.6,332.5Z" fill="rgb(29,29,29)" stroke="rgb(205,205,205)" stroke-width="0.64"/><path d="M588.0,330.5 L584.9,326.9 L583.3,329.1 L584.0,331.9 L584.3,332.0 L584.8,332.1Z" fill="rgb(41,41,41)" stroke="rgb(199,199,199)" stroke-width="0.60"/><path d="M594.5,331.0 L593.9,329.0 L593.4,328.4 L590.9,328.5 L589.6,330.4 L591.2,333.2Z" fill="rgb(49,49,49)" stroke="rgb(147,147,147)" stroke-width="0.65"/><path d="M596.3,332.0 L598.3,332.1 L597.7,328.8 L594.5,329.1 L595.1,331.1Z" fill="rgb(29,29,29)" stroke="rgb(176,176,176)" stroke-width="0.67"/><path d="M598.8,332.1 L598.2,328.7 L599.6,326.6 L602.1,329.5 L601.9,331.2 L599.5,332.4Z" fill="rgb(46,46,46)" stroke="rgb(197,197,197)" stroke-width="0.53"/><path d="M605.2,328.0 L602.9,329.7 L602.7,331.1 L605.0,332.6 L606.9,331.1 L606.9,330.0Z" fill="rgb(42,42,42)" stroke="rgb(197,197,197)" stroke-width="0.57"/><path d="M610.5,328.6 L608.1,330.2 L608.0,331.2 L610.7,332.5 L611.0,332.2Z" fill="rgb(49,49,49)" stroke="rgb(176,176,176)" stroke-width="0.66"/><path d="M611.3,328.3 L611.7,331.9 L613.3,331.6 L614.2,329.4 L613.4,328.1 L611.3,328.2Z" fill="rgb(39,39,39)" stroke="rgb(195,195,195)" stroke-width="0.59"/><path d="M614.4,332.0 L615.3,332.6 L618.9,330.8 L618.9,330.7 L618.4,330.1 L615.4,329.7Z" fill="rgb(50,50,50)" stroke="rgb(197,197,197)" stroke-width="0.60"/><path d="M625.4,331.5 L623.2,332.6 L620.6,331.2 L620.4,330.6 L620.4,330.5 L624.1,328.9 L624.2,328.9 L624.6,329.4Z" fill="rgb(48,48,48)" stroke="rgb(148,148,148)" stroke-width="0.52"/><path d="M626.8,331.6 L627.8,332.2 L629.1,331.8 L630.4,328.9 L626.0,329.5Z" fill="rgb(59,59,59)" stroke="rgb(211,211,211)" stroke-width="0.58"/><path d="M635.3,332.0 L635.2,332.2 L631.9,333.4 L629.9,332.0 L631.5,328.4 L631.8,328.1 L633.9,329.0Z" fill="rgb(32,32,32)" stroke="rgb(207,207,207)" stroke-width="0.54"/><path d="M639.2,328.8 L637.4,327.1 L634.6,328.9 L635.9,331.7 L639.4,331.1Z" fill="rgb(34,34,34)" stroke="rgb(161,161,161)" stroke-width="0.37"/><path d="M643.6,327.9 L642.4,327.1 L640.0,328.9 L640.2,331.1 L641.4,332.1 L641.8,332.0Z" fill="rgb(59,59,59)" stroke="rgb(196,196,196)" stroke-width="0.54"/><path d="M644.4,327.9 L642.5,332.1 L644.5,332.2 L646.4,331.5 L647.0,329.1 L646.0,328.2Z" fill="rgb(34,34,34)" stroke="rgb(173,173,173)" stroke-width="0.36"/><path d="M551.0,335.9 L551.5,334.3 L548.4,331.7 L546.1,332.6 L547.3,335.8 L549.5,336.6Z" fill="rgb(39,39,39)" stroke="rgb(190,190,190)" stroke-width="0.45"/><path d="M554.2,337.6 L556.5,335.2 L555.6,333.1 L554.0,332.6 L552.3,334.4 L551.8,336.0Z" fill="rgb(48,48,48)" stroke="rgb(126,126,126)" stroke-width="0.51"/><path d="M558.7,335.7 L560.2,333.3 L559.0,331.8 L556.5,333.1 L557.2,335.0 L558.7,335.7Z" fill="rgb(29,29,29)" stroke="rgb(165,165,165)" stroke-width="0.44"/><path d="M563.2,337.2 L563.0,337.3 L559.9,336.1 L561.2,333.9 L563.2,334.4 L563.5,336.7Z" fill="rgb(46,46,46)" stroke="rgb(158,158,158)" stroke-width="0.44"/><path d="M568.6,333.6 L564.7,333.7 L564.4,334.0 L564.7,336.3 L567.2,336.2 L568.8,334.4Z" fill="rgb(47,47,47)" stroke="rgb(173,173,173)" stroke-width="0.56"/><path d="M573.6,334.5 L574.0,332.7 L573.8,332.0 L570.4,331.9 L570.1,333.2 L570.3,334.1 L572.1,335.2Z" fill="rgb(35,35,35)" stroke="rgb(140,140,140)" stroke-width="0.65"/><path d="M574.7,334.8 L575.1,332.8 L578.8,333.3 L578.4,335.4 L577.6,336.1Z" fill="rgb(60,60,60)" stroke="rgb(144,144,144)" stroke-width="0.46"/><path d="M579.5,333.1 L579.1,335.5 L581.6,336.7 L583.3,335.4 L583.9,332.4 L583.6,332.2 L579.6,333.1Z" fill="rgb(56,56,56)" stroke="rgb(208,208,208)" stroke-width="0.60"/><path d="M585.9,337.1 L584.0,335.4 L584.4,332.9 L584.9,332.9 L587.1,335.6Z" fill="rgb(52,52,52)" stroke="rgb(166,166,166)" stroke-width="0.53"/><path d="M590.5,335.0 L587.9,335.4 L585.5,332.4 L588.5,331.0 L589.1,331.0 L590.5,333.6Z" fill="rgb(61,61,61)" stroke="rgb(193,193,193)" stroke-width="0.54"/><path d="M595.9,332.5 L593.9,336.3 L591.4,335.5 L591.3,335.3 L591.2,333.8 L594.7,331.6Z" fill="rgb(42,42,42)" stroke="rgb(156,156,156)" stroke-width="0.36"/><path d="M596.5,332.8 L598.3,332.9 L598.9,333.2 L598.9,335.6 L595.5,336.9 L594.8,336.1Z" fill="rgb(30,30,30)" stroke="rgb(202,202,202)" stroke-width="0.63"/><path d="M599.8,333.0 L602.1,331.8 L604.5,333.4 L604.6,334.0 L603.1,335.8 L600.2,336.0 L599.8,335.6Z" fill="rgb(46,46,46)" stroke="rgb(186,186,186)" stroke-width="0.42"/><path d="M605.4,334.0 L605.3,333.3 L607.4,331.5 L610.7,333.1 L610.2,335.3 L607.7,336.2Z" fill="rgb(57,57,57)" stroke="rgb(208,208,208)" stroke-width="0.48"/><path d="M613.5,332.5 L614.5,333.2 L615.6,335.3 L611.8,336.3 L610.7,335.3 L611.2,333.1 L611.6,332.8Z" fill="rgb(33,33,33)" stroke="rgb(170,170,170)" stroke-width="0.53"/><path d="M619.1,331.4 L619.2,332.0 L618.5,334.6 L616.5,335.2 L616.3,335.0 L615.4,333.2Z" fill="rgb(40,40,40)" stroke="rgb(129,129,129)" stroke-width="0.39"/><path d="M622.8,336.3 L623.0,333.6 L620.0,332.0 L619.3,335.0 L621.1,337.0Z" fill="rgb(49,49,49)" stroke="rgb(189,189,189)" stroke-width="0.50"/><path d="M626.1,332.3 L623.7,333.6 L623.6,336.2 L624.7,336.6 L627.0,335.4 L627.3,333.1Z" fill="rgb(30,30,30)" stroke="rgb(157,157,157)" stroke-width="0.53"/><path d="M631.7,336.8 L629.5,337.6 L627.5,335.5 L627.8,332.9 L629.6,332.4 L631.6,333.8Z" fill="rgb(32,32,32)" stroke="rgb(188,188,188)" stroke-width="0.70"/><path d="M635.4,336.1 L635.0,333.3 L632.4,334.3 L632.5,336.5 L633.7,337.1Z" fill="rgb(37,37,37)" stroke="rgb(169,169,169)" stroke-width="0.60"/><path d="M639.6,331.8 L636.0,332.4 L635.9,332.6 L636.4,336.1 L638.1,336.7 L640.5,335.0 L641.0,332.9Z" fill="rgb(56,56,56)" stroke="rgb(191,191,191)" stroke-width="0.70"/><path d="M641.9,332.8 L641.5,332.9 L641.1,335.1 L642.9,337.5 L645.1,336.0 L644.2,333.0Z" fill="rgb(62,62,62)" stroke="rgb(195,195,195)" stroke-width="0.37"/><path d="M646.9,332.3 L648.9,334.2 L649.2,337.2 L649.0,337.3 L645.6,336.0 L644.8,333.1Z" fill="rgb(32,32,32)" stroke="rgb(179,179,179)" stroke-width="0.61"/><path d="M554.7,338.1 L556.8,336.0 L558.2,336.7 L557.5,339.2 L555.6,339.9 L555.5,339.8Z" fill="rgb(59,59,59)" stroke="rgb(147,147,147)" stroke-width="0.68"/><path d="M568.3,339.0 L566.8,341.0 L563.9,337.8 L564.3,337.2 L567.4,337.1Z" fill="rgb(49,49,49)" stroke="rgb(193,193,193)" stroke-width="0.67"/><path d="M571.9,336.1 L569.9,334.9 L568.1,337.0 L569.0,338.9 L572.2,339.6 L572.2,339.6Z" fill="rgb(28,28,28)" stroke="rgb(148,148,148)" stroke-width="0.60"/><path d="M574.2,335.1 L577.5,336.6 L576.7,339.4 L575.7,340.2 L572.8,339.7 L572.4,336.0Z" fill="rgb(32,32,32)" stroke="rgb(151,151,151)" stroke-width="0.62"/><path d="M577.6,339.3 L580.8,340.2 L581.9,339.3 L581.2,337.3 L579.0,336.2 L578.2,336.9Z" fill="rgb(61,61,61)" stroke="rgb(132,132,132)" stroke-width="0.69"/><path d="M585.5,337.9 L583.7,336.3 L582.3,337.3 L582.9,339.2 L584.6,339.4 L585.4,338.9Z" fill="rgb(40,40,40)" stroke="rgb(212,212,212)" stroke-width="0.43"/><path d="M590.4,336.1 L587.9,336.4 L586.7,337.8 L586.6,338.8 L588.8,340.0 L589.7,339.2 L590.5,336.2Z" fill="rgb(50,50,50)" stroke="rgb(124,124,124)" stroke-width="0.60"/><path d="M591.4,336.0 L590.5,339.5 L593.3,340.4 L594.9,339.2 L594.7,337.7 L593.9,336.9Z" fill="rgb(40,40,40)" stroke="rgb(201,201,201)" stroke-width="0.36"/><path d="M597.5,340.7 L600.0,340.0 L599.3,336.9 L599.0,336.6 L595.8,337.8 L595.9,339.1Z" fill="rgb(58,58,58)" stroke="rgb(202,202,202)" stroke-width="0.69"/><path d="M601.0,340.2 L600.3,336.9 L603.0,336.7 L603.6,339.3 L602.1,340.7Z" fill="rgb(44,44,44)" stroke="rgb(214,214,214)" stroke-width="0.41"/><path d="M603.6,336.3 L605.2,334.5 L607.4,336.6 L606.8,338.6 L604.3,339.1Z" fill="rgb(28,28,28)" stroke="rgb(207,207,207)" stroke-width="0.37"/><path d="M609.7,340.7 L611.9,338.6 L611.3,336.8 L610.4,335.9 L608.0,336.8 L607.5,338.8 L608.3,339.9Z" fill="rgb(52,52,52)" stroke="rgb(204,204,204)" stroke-width="0.44"/><path d="M612.6,338.5 L612.1,336.7 L615.7,335.8 L616.0,336.0 L615.6,339.1 L614.9,339.4Z" fill="rgb(39,39,39)" stroke="rgb(173,173,173)" stroke-width="0.52"/><path d="M620.1,340.0 L620.8,337.5 L618.9,335.3 L616.4,335.9 L616.0,339.3 L619.8,340.5Z" fill="rgb(43,43,43)" stroke="rgb(195,195,195)" stroke-width="0.45"/><path d="M620.5,340.0 L621.2,337.6 L623.2,336.8 L624.4,337.1 L625.6,340.5Z" fill="rgb(33,33,33)" stroke="rgb(128,128,128)" stroke-width="0.44"/><path d="M626.1,340.4 L624.9,337.3 L627.3,336.1 L629.1,338.0 L628.2,340.8 L626.1,340.5Z" fill="rgb(52,52,52)" stroke="rgb(157,157,157)" stroke-width="0.68"/><path d="M633.3,338.1 L631.8,337.4 L629.7,338.1 L628.8,340.9 L629.3,341.5 L632.9,340.8 L633.5,339.8Z" fill="rgb(35,35,35)" stroke="rgb(201,201,201)" stroke-width="0.58"/><path d="M637.7,340.9 L634.3,339.7 L634.1,338.0 L636.1,336.8 L637.8,337.4 L638.4,340.3Z" fill="rgb(52,52,52)" stroke="rgb(211,211,211)" stroke-width="0.46"/><path d="M642.4,338.1 L642.6,340.0 L642.3,340.5 L639.5,340.0 L639.0,337.6 L641.0,336.2Z" fill="rgb(54,54,54)" stroke="rgb(182,182,182)" stroke-width="0.56"/><path d="M645.4,336.8 L648.2,337.9 L646.5,339.4 L643.9,339.9 L643.6,338.0Z" fill="rgb(44,44,44)" stroke="rgb(126,126,126)" stroke-width="0.39"/><path d="M576.4,340.8 L577.0,343.8 L580.6,343.3 L580.5,341.0 L577.2,340.1Z" fill="rgb(51,51,51)" stroke="rgb(191,191,191)" stroke-width="0.47"/><path d="M581.6,343.2 L582.1,343.7 L584.3,343.1 L584.2,340.4 L582.5,340.2 L581.5,341.1Z" fill="rgb(39,39,39)" stroke="rgb(146,146,146)" stroke-width="0.53"/><path d="M588.5,341.0 L588.7,343.7 L587.1,344.3 L585.2,343.2 L585.2,340.2 L586.0,339.7Z" fill="rgb(43,43,43)" stroke="rgb(177,177,177)" stroke-width="0.42"/><path d="M590.1,340.1 L592.9,341.0 L592.1,343.7 L589.8,344.1 L589.4,343.9 L589.1,341.0Z" fill="rgb(32,32,32)" stroke="rgb(189,189,189)" stroke-width="0.65"/><path d="M593.1,343.5 L593.7,341.2 L595.1,340.2 L596.7,341.7 L596.3,343.1 L594.5,344.2Z" fill="rgb(40,40,40)" stroke="rgb(169,169,169)" stroke-width="0.51"/><path d="M598.7,345.1 L597.2,343.3 L597.7,341.6 L600.7,340.8 L601.9,341.4 L602.3,342.7 L602.1,343.6Z" fill="rgb(52,52,52)" stroke="rgb(215,215,215)" stroke-width="0.41"/><path d="M605.5,343.0 L603.1,342.4 L602.7,341.2 L604.3,339.9 L606.6,339.4 L607.4,340.4Z" fill="rgb(31,31,31)" stroke="rgb(164,164,164)" stroke-width="0.64"/><path d="M607.5,344.6 L609.8,342.7 L609.4,341.6 L608.1,340.9 L606.3,343.3Z" fill="rgb(38,38,38)" stroke="rgb(198,198,198)" stroke-width="0.36"/><path d="M610.5,341.3 L612.3,339.5 L614.2,340.3 L613.6,342.4 L611.9,342.9 L610.9,342.3Z" fill="rgb(52,52,52)" stroke="rgb(138,138,138)" stroke-width="0.38"/><path d="M619.1,342.0 L619.0,340.9 L616.1,340.0 L615.5,340.3 L615.0,342.4 L616.5,343.7Z" fill="rgb(49,49,49)" stroke="rgb(197,197,197)" stroke-width="0.70"/><path d="M621.9,344.2 L623.4,343.9 L625.6,340.9 L625.5,340.8 L620.5,340.4 L620.2,340.8 L620.3,342.1Z" fill="rgb(35,35,35)" stroke="rgb(149,149,149)" stroke-width="0.45"/><path d="M628.5,343.3 L626.0,344.6 L624.4,343.8 L626.2,341.3 L628.0,341.5 L628.4,342.1Z" fill="rgb(35,35,35)" stroke="rgb(175,175,175)" stroke-width="0.42"/><path d="M634.1,344.5 L634.0,344.7 L629.8,344.0 L629.5,343.5 L629.4,342.1 L632.9,341.4Z" fill="rgb(38,38,38)" stroke="rgb(129,129,129)" stroke-width="0.41"/><path d="M637.5,341.4 L636.7,343.5 L634.7,344.2 L633.6,341.2 L634.2,340.2Z" fill="rgb(52,52,52)" stroke="rgb(172,172,172)" stroke-width="0.40"/><path d="M638.2,341.5 L637.5,343.6 L638.8,344.8 L642.5,343.1 L642.2,341.4 L638.9,340.9Z" fill="rgb(60,60,60)" stroke="rgb(132,132,132)" stroke-width="0.49"/><path d="M644.0,344.0 L646.3,344.8 L647.6,343.9 L646.5,340.3 L643.6,340.9 L643.2,341.5 L643.4,343.1Z" fill="rgb(30,30,30)" stroke="rgb(198,198,198)" stroke-width="0.36"/><path d="M576.9,344.6 L576.6,345.4 L576.8,347.3 L577.5,348.0 L581.6,347.6 L581.5,344.5 L580.9,344.0Z" fill="rgb(28,28,28)" stroke="rgb(174,174,174)" stroke-width="0.66"/><path d="M584.7,343.9 L586.7,345.1 L585.4,347.6 L583.2,348.3 L582.4,347.6 L582.2,344.6Z" fill="rgb(53,53,53)" stroke="rgb(157,157,157)" stroke-width="0.54"/><path d="M588.7,350.2 L585.9,347.8 L587.3,345.0 L589.1,344.4 L589.6,344.6 L590.6,348.8Z" fill="rgb(36,36,36)" stroke="rgb(140,140,140)" stroke-width="0.48"/><path d="M592.6,348.9 L594.5,348.2 L594.0,345.2 L592.4,344.4 L590.1,344.7 L591.0,348.7Z" fill="rgb(51,51,51)" stroke="rgb(210,210,210)" stroke-width="0.39"/><path d="M598.3,345.6 L596.8,343.9 L594.7,345.2 L595.1,348.1 L596.7,348.9 L598.4,347.9Z" fill="rgb(44,44,44)" stroke="rgb(156,156,156)" stroke-width="0.45"/><path d="M599.2,345.8 L602.0,344.5 L602.4,348.2 L602.2,348.3 L599.3,347.9Z" fill="rgb(34,34,34)" stroke="rgb(209,209,209)" stroke-width="0.61"/><path d="M606.8,345.4 L606.8,347.0 L605.8,347.8 L603.2,348.1 L602.7,344.0 L603.0,343.2 L605.5,343.9Z" fill="rgb(53,53,53)" stroke="rgb(163,163,163)" stroke-width="0.62"/><path d="M607.9,345.5 L607.9,346.9 L609.8,347.5 L611.3,346.7 L611.2,344.1 L610.2,343.5Z" fill="rgb(35,35,35)" stroke="rgb(214,214,214)" stroke-width="0.50"/><path d="M612.1,343.9 L614.2,343.2 L616.0,344.7 L615.9,346.8 L614.8,347.8 L612.2,346.8Z" fill="rgb(45,45,45)" stroke="rgb(149,149,149)" stroke-width="0.64"/><path d="M621.4,344.7 L621.1,346.3 L619.3,347.4 L616.7,346.7 L616.8,344.7 L619.8,342.7Z" fill="rgb(37,37,37)" stroke="rgb(153,153,153)" stroke-width="0.49"/><path d="M622.2,344.8 L623.5,344.5 L625.3,345.4 L625.6,347.2 L623.2,347.9 L621.8,346.4Z" fill="rgb(36,36,36)" stroke="rgb(203,203,203)" stroke-width="0.37"/><path d="M627.7,348.2 L626.3,347.2 L626.0,345.4 L628.9,343.9 L629.2,344.4 L629.2,347.7Z" fill="rgb(45,45,45)" stroke="rgb(146,146,146)" stroke-width="0.46"/><path d="M629.8,347.8 L629.8,344.5 L634.0,345.3 L633.7,347.8 L631.5,348.8Z" fill="rgb(40,40,40)" stroke="rgb(154,154,154)" stroke-width="0.51"/><path d="M634.8,344.9 L634.7,345.1 L634.4,347.9 L636.0,348.9 L639.1,348.4 L639.1,348.3 L638.4,345.5 L637.0,344.2Z" fill="rgb(29,29,29)" stroke="rgb(153,153,153)" stroke-width="0.42"/><path d="M643.3,344.6 L642.2,347.1 L639.8,348.0 L639.2,345.4 L642.7,343.7Z" fill="rgb(40,40,40)" stroke="rgb(189,189,189)" stroke-width="0.65"/><path d="M644.1,345.1 L646.2,345.8 L646.6,348.3 L645.7,349.9 L643.1,347.3Z" fill="rgb(49,49,49)" stroke="rgb(213,213,213)" stroke-width="0.35"/><path d="M581.4,352.1 L579.4,352.7 L578.3,351.7 L578.2,349.0 L581.5,348.7 L582.2,349.3 L582.1,350.9Z" fill="rgb(28,28,28)" stroke="rgb(200,200,200)" stroke-width="0.46"/><path d="M586.8,352.1 L587.8,351.8 L588.1,350.5 L585.7,348.5 L583.7,349.2 L583.6,350.9Z" fill="rgb(60,60,60)" stroke="rgb(201,201,201)" stroke-width="0.36"/><path d="M589.7,353.0 L592.4,352.1 L592.2,349.7 L590.7,349.4 L589.1,350.6 L588.8,352.0Z" fill="rgb(42,42,42)" stroke="rgb(181,181,181)" stroke-width="0.41"/><path d="M593.2,352.1 L594.7,353.3 L596.5,351.4 L596.3,349.6 L594.8,348.9 L593.0,349.6Z" fill="rgb(58,58,58)" stroke="rgb(206,206,206)" stroke-width="0.50"/><path d="M598.9,348.7 L597.3,349.6 L597.5,351.3 L599.4,352.7 L601.7,352.0 L601.9,349.2Z" fill="rgb(53,53,53)" stroke="rgb(150,150,150)" stroke-width="0.46"/><path d="M605.7,348.5 L603.0,348.8 L602.8,349.0 L602.6,352.1 L603.2,352.9 L606.8,352.0Z" fill="rgb(57,57,57)" stroke="rgb(188,188,188)" stroke-width="0.59"/><path d="M609.3,352.8 L609.2,352.8 L607.6,351.9 L606.6,348.9 L607.5,348.2 L609.5,348.9 L610.0,352.3Z" fill="rgb(40,40,40)" stroke="rgb(136,136,136)" stroke-width="0.57"/><path d="M611.1,352.1 L610.6,348.6 L612.1,347.8 L614.3,348.7 L614.3,351.1 L613.4,352.0Z" fill="rgb(30,30,30)" stroke="rgb(173,173,173)" stroke-width="0.49"/><path d="M618.9,350.7 L618.8,348.2 L616.5,347.7 L615.5,348.6 L615.5,351.0 L617.5,351.5Z" fill="rgb(40,40,40)" stroke="rgb(193,193,193)" stroke-width="0.59"/><path d="M622.8,351.7 L623.0,351.5 L622.8,348.6 L621.5,347.2 L619.9,348.2 L620.0,350.8Z" fill="rgb(31,31,31)" stroke="rgb(167,167,167)" stroke-width="0.38"/><path d="M626.1,350.7 L624.0,351.3 L623.7,348.6 L625.8,348.0 L627.0,348.9Z" fill="rgb(57,57,57)" stroke="rgb(206,206,206)" stroke-width="0.64"/><path d="M627.7,351.9 L630.6,352.5 L631.1,351.6 L631.1,349.4 L629.4,348.4 L627.9,348.9 L626.9,351.1Z" fill="rgb(57,57,57)" stroke="rgb(167,167,167)" stroke-width="0.68"/><path d="M632.2,349.5 L634.1,348.7 L635.3,349.5 L635.2,351.8 L635.0,352.0 L632.1,351.4Z" fill="rgb(29,29,29)" stroke="rgb(180,180,180)" stroke-width="0.43"/><path d="M636.4,351.9 L636.6,349.7 L639.0,349.3 L639.7,351.3 L639.3,352.2Z" fill="rgb(38,38,38)" stroke="rgb(128,128,128)" stroke-width="0.41"/><path d="M642.5,348.0 L645.3,350.7 L645.2,351.3 L645.2,351.3 L644.8,351.5 L641.0,351.2 L640.2,349.0 L640.2,348.9Z" fill="rgb(33,33,33)" stroke="rgb(197,197,197)" stroke-width="0.60"/><path d="M584.2,356.0 L584.2,356.3 L579.9,357.4 L579.0,355.1 L579.2,353.8 L581.8,353.0Z" fill="rgb(35,35,35)" stroke="rgb(167,167,167)" stroke-width="0.58"/><path d="M584.5,355.7 L582.1,352.7 L583.0,351.3 L586.6,352.7Z" fill="rgb(55,55,55)" stroke="rgb(190,190,190)" stroke-width="0.57"/><path d="M585.2,355.9 L585.2,356.1 L586.5,357.8 L589.3,355.8 L588.9,353.9 L588.1,352.9 L587.1,353.3Z" fill="rgb(31,31,31)" stroke="rgb(206,206,206)" stroke-width="0.54"/><path d="M594.0,355.8 L594.2,354.1 L592.7,352.9 L590.1,353.8 L590.5,355.7 L592.4,356.5Z" fill="rgb(56,56,56)" stroke="rgb(156,156,156)" stroke-width="0.57"/><path d="M597.0,356.9 L598.4,355.4 L598.9,353.5 L596.9,352.2 L595.1,354.1 L595.0,355.8Z" fill="rgb(28,28,28)" stroke="rgb(176,176,176)" stroke-width="0.52"/><path d="M602.3,356.3 L599.5,355.4 L600.0,353.6 L602.2,352.9 L602.8,353.6 L603.2,355.6Z" fill="rgb(60,60,60)" stroke="rgb(140,140,140)" stroke-width="0.53"/><path d="M604.4,355.5 L603.9,353.6 L606.9,352.9 L608.4,353.8 L606.3,356.4Z" fill="rgb(36,36,36)" stroke="rgb(166,166,166)" stroke-width="0.56"/><path d="M614.6,356.8 L613.5,352.9 L610.8,353.0 L610.0,353.7 L611.2,356.4Z" fill="rgb(46,46,46)" stroke="rgb(129,129,129)" stroke-width="0.51"/><path d="M615.2,356.7 L614.1,353.0 L615.1,352.1 L617.4,352.6 L618.4,356.0 L615.3,356.8Z" fill="rgb(45,45,45)" stroke="rgb(170,170,170)" stroke-width="0.69"/><path d="M622.7,354.6 L619.5,356.1 L619.2,356.0 L618.1,352.4 L619.6,351.5 L622.7,352.5Z" fill="rgb(53,53,53)" stroke="rgb(207,207,207)" stroke-width="0.52"/><path d="M623.5,354.4 L624.7,355.6 L626.7,355.2 L626.9,352.4 L626.1,351.7 L623.8,352.3 L623.6,352.5Z" fill="rgb(35,35,35)" stroke="rgb(125,125,125)" stroke-width="0.60"/><path d="M627.8,352.6 L627.5,355.5 L629.3,356.0 L630.8,355.8 L630.5,353.1Z" fill="rgb(37,37,37)" stroke="rgb(176,176,176)" stroke-width="0.40"/><path d="M631.2,353.2 L631.5,355.7 L631.9,356.0 L634.8,355.4 L634.8,355.4 L634.9,353.0 L631.7,352.3Z" fill="rgb(42,42,42)" stroke="rgb(138,138,138)" stroke-width="0.51"/><path d="M635.8,352.8 L635.7,355.2 L639.1,354.8 L639.2,352.9 L636.0,352.6Z" fill="rgb(51,51,51)" stroke="rgb(169,169,169)" stroke-width="0.66"/><path d="M640.2,353.0 L640.6,352.1 L644.3,352.4 L642.4,355.4 L640.6,355.4 L640.1,354.9Z" fill="rgb(28,28,28)" stroke="rgb(120,120,120)" stroke-width="0.66"/><path d="M644.4,356.9 L647.2,355.5 L645.7,352.2 L645.3,352.4 L643.2,355.6Z" fill="rgb(36,36,36)" stroke="rgb(140,140,140)" stroke-width="0.40"/><path d="M585.9,359.2 L585.9,358.7 L584.4,356.7 L580.1,357.8 L579.8,359.4 L582.6,361.0Z" fill="rgb(32,32,32)" stroke="rgb(192,192,192)" stroke-width="0.59"/><path d="M591.6,357.4 L589.8,356.7 L587.0,358.7 L586.9,359.1 L587.0,359.2 L590.2,360.4 L591.4,359.8Z" fill="rgb(56,56,56)" stroke="rgb(143,143,143)" stroke-width="0.56"/><path d="M596.5,358.1 L594.8,361.1 L592.9,359.7 L593.1,357.4 L594.6,356.7 L596.4,357.7Z" fill="rgb(31,31,31)" stroke="rgb(162,162,162)" stroke-width="0.60"/><path d="M600.8,359.5 L601.9,357.1 L599.0,356.1 L597.6,357.5 L597.7,358.0 L600.2,359.7Z" fill="rgb(32,32,32)" stroke="rgb(133,133,133)" stroke-width="0.54"/><path d="M601.3,359.8 L602.7,357.0 L603.8,356.2 L606.2,357.3 L606.6,358.7 L605.2,361.5Z" fill="rgb(49,49,49)" stroke="rgb(180,180,180)" stroke-width="0.49"/><path d="M607.1,358.5 L609.9,359.1 L610.9,356.7 L609.5,353.8 L609.4,353.8 L606.6,357.1Z" fill="rgb(41,41,41)" stroke="rgb(125,125,125)" stroke-width="0.67"/><path d="M614.5,357.6 L611.6,357.2 L610.8,359.2 L611.7,360.2 L614.2,359.7 L614.6,357.7Z" fill="rgb(59,59,59)" stroke="rgb(158,158,158)" stroke-width="0.46"/><path d="M615.7,357.7 L618.7,356.9 L618.9,357.0 L619.6,359.2 L618.5,361.2 L615.8,360.6 L615.2,359.8Z" fill="rgb(32,32,32)" stroke="rgb(173,173,173)" stroke-width="0.67"/><path d="M623.0,354.9 L624.4,356.3 L624.4,358.9 L623.6,359.8 L620.4,359.2 L619.6,356.6Z" fill="rgb(39,39,39)" stroke="rgb(161,161,161)" stroke-width="0.37"/><path d="M625.0,358.7 L625.0,356.4 L627.0,356.0 L628.8,356.6 L627.1,359.5Z" fill="rgb(30,30,30)" stroke="rgb(184,184,184)" stroke-width="0.43"/><path d="M627.6,359.8 L629.0,361.7 L631.8,360.2 L631.4,356.7 L631.0,356.3 L629.4,356.6Z" fill="rgb(60,60,60)" stroke="rgb(189,189,189)" stroke-width="0.65"/><path d="M636.1,359.5 L634.9,356.4 L632.2,357.0 L632.5,360.0 L634.0,360.9Z" fill="rgb(61,61,61)" stroke="rgb(160,160,160)" stroke-width="0.66"/><path d="M639.4,355.5 L639.9,356.1 L639.2,359.5 L637.0,359.3 L635.7,355.9 L635.7,355.8Z" fill="rgb(44,44,44)" stroke="rgb(151,151,151)" stroke-width="0.47"/><path d="M640.1,359.9 L642.9,360.8 L643.8,360.1 L643.8,357.7 L642.6,356.5 L640.6,356.5 L640.0,359.7Z" fill="rgb(42,42,42)" stroke="rgb(179,179,179)" stroke-width="0.37"/><path d="M644.7,360.1 L647.6,360.3 L648.8,357.0 L647.5,356.2 L644.7,357.6Z" fill="rgb(42,42,42)" stroke="rgb(141,141,141)" stroke-width="0.44"/><path d="M574.3,361.4 L573.6,363.8 L574.2,365.2 L578.0,364.7 L577.2,361.0 L576.0,360.9Z" fill="rgb(59,59,59)" stroke="rgb(166,166,166)" stroke-width="0.42"/><path d="M579.2,364.5 L579.0,364.4 L578.3,361.1 L579.6,360.3 L581.8,361.6 L581.7,362.9Z" fill="rgb(42,42,42)" stroke="rgb(197,197,197)" stroke-width="0.56"/><path d="M583.1,362.8 L583.2,361.5 L585.8,360.0 L585.9,360.1 L586.6,363.7 L584.6,364.5Z" fill="rgb(60,60,60)" stroke="rgb(196,196,196)" stroke-width="0.53"/><path d="M590.0,363.8 L587.7,364.4 L587.4,364.2 L586.5,359.6 L590.4,361.1Z" fill="rgb(55,55,55)" stroke="rgb(172,172,172)" stroke-width="0.43"/><path d="M594.6,362.2 L595.0,363.6 L595.0,363.6 L591.1,364.3 L590.3,363.9 L590.8,361.1 L592.3,360.4Z" fill="rgb(54,54,54)" stroke="rgb(166,166,166)" stroke-width="0.39"/><path d="M599.7,360.6 L597.4,359.0 L595.5,362.1 L595.8,363.2 L598.5,363.5 L598.9,363.1Z" fill="rgb(57,57,57)" stroke="rgb(165,165,165)" stroke-width="0.55"/><path d="M601.5,360.5 L604.6,361.8 L604.8,362.6 L604.2,363.8 L600.1,363.2 L600.9,360.7Z" fill="rgb(37,37,37)" stroke="rgb(156,156,156)" stroke-width="0.49"/><path d="M605.7,361.7 L607.1,359.1 L609.7,359.7 L610.8,360.9 L609.9,363.4 L605.9,362.5Z" fill="rgb(44,44,44)" stroke="rgb(169,169,169)" stroke-width="0.46"/><path d="M614.1,360.8 L614.7,361.4 L614.1,364.3 L611.2,364.1 L611.0,363.5 L611.7,361.3Z" fill="rgb(39,39,39)" stroke="rgb(158,158,158)" stroke-width="0.56"/><path d="M615.0,364.8 L615.7,361.5 L618.4,362.2 L619.2,363.7 L618.1,366.3 L615.3,365.1Z" fill="rgb(37,37,37)" stroke="rgb(201,201,201)" stroke-width="0.54"/><path d="M619.9,363.4 L622.6,363.3 L623.2,362.8 L623.4,360.3 L620.4,359.7 L619.2,361.9Z" fill="rgb(62,62,62)" stroke="rgb(152,152,152)" stroke-width="0.62"/><path d="M624.9,359.5 L624.2,360.2 L624.0,362.7 L627.7,363.6 L628.3,361.9 L627.0,360.3Z" fill="rgb(34,34,34)" stroke="rgb(128,128,128)" stroke-width="0.47"/><path d="M628.7,364.0 L629.3,362.3 L631.8,361.0 L633.5,361.9 L633.8,363.4 L631.7,365.4 L628.7,364.0Z" fill="rgb(40,40,40)" stroke="rgb(157,157,157)" stroke-width="0.68"/><path d="M638.1,364.4 L639.3,360.4 L639.2,360.3 L636.9,360.0 L634.4,361.7 L634.8,363.3 L637.0,364.9Z" fill="rgb(47,47,47)" stroke="rgb(213,213,213)" stroke-width="0.52"/><path d="M638.9,364.3 L640.0,360.9 L642.6,361.8 L642.6,363.1 L641.5,365.0Z" fill="rgb(48,48,48)" stroke="rgb(183,183,183)" stroke-width="0.42"/><path d="M643.9,363.0 L643.8,361.7 L644.7,361.0 L647.3,361.2 L648.8,363.3 L646.5,364.8Z" fill="rgb(32,32,32)" stroke="rgb(130,130,130)" stroke-width="0.63"/><path d="M568.6,363.9 L572.7,364.3 L573.3,365.8 L572.4,370.2 L568.2,364.5Z" fill="rgb(28,28,28)" stroke="rgb(150,150,150)" stroke-width="0.51"/><path d="M579.5,365.6 L582.3,363.7 L584.0,365.6 L582.0,372.0Z" fill="rgb(48,48,48)" stroke="rgb(160,160,160)" stroke-width="0.36"/><path d="M643.6,372.6 L646.1,365.9 L643.3,364.0 L642.0,366.0Z" fill="rgb(50,50,50)" stroke="rgb(153,153,153)" stroke-width="0.69"/>
<path d="M548,300 Q545,315 546,325" fill="none" stroke="#cfcfcf" stroke-width="0.9" stroke-linecap="round"/>
<path d="M572,320 Q578,335 582,348" fill="none" stroke="#c8c8c8" stroke-width="0.9" stroke-linecap="round"/>
<path d="M541,328 Q552,334 566,336" fill="none" stroke="#b8b8b8" stroke-width="0.8" stroke-linecap="round"/>
</g>
<rect x="541.70" y="284.30" width="103.30" height="78.70" fill="#000" filter="url(#grain)"/>
</g>
<clipPath id="m12"><rect x="646.7" y="284.3" width="105.29999999999995" height="78.69999999999999"/></clipPath>
<g clip-path="url(#m12)">
<rect x="646.70" y="284.30" width="105.30" height="78.70" fill="#4a4a4a" />
<g filter="url(#soft)">
<ellipse cx="689" cy="292" rx="13" ry="8" fill="#4f4f4f" stroke="#b8b8b8" stroke-width="1" stroke-opacity="0.8"/>
<path d="M647.4,287.5 L650.8,288.7 L651.9,288.2 L651.9,285.4 L649.9,284.5 L647.6,285.3Z" fill="rgb(55,55,55)" stroke="rgb(194,194,194)" stroke-width="0.50"/><path d="M652.3,285.4 L654.2,284.3 L656.3,286.0 L656.4,286.9 L654.5,288.6 L652.3,288.2Z" fill="rgb(28,28,28)" stroke="rgb(184,184,184)" stroke-width="0.55"/><path d="M657.3,286.7 L659.4,288.0 L660.4,287.6 L661.2,284.9 L659.0,283.9 L657.2,286.0Z" fill="rgb(30,30,30)" stroke="rgb(156,156,156)" stroke-width="0.66"/><path d="M664.1,283.7 L664.1,283.7 L662.2,284.6 L661.2,287.9 L662.3,288.5 L665.3,287.5Z" fill="rgb(53,53,53)" stroke="rgb(193,193,193)" stroke-width="0.68"/><path d="M669.4,285.9 L667.8,284.3 L665.0,284.0 L666.0,287.2 L667.6,288.2Z" fill="rgb(31,31,31)" stroke="rgb(208,208,208)" stroke-width="0.37"/><path d="M673.9,283.4 L671.4,285.7 L674.2,289.2 L676.4,287.5 L674.7,283.6 L674.0,283.4Z" fill="rgb(44,44,44)" stroke="rgb(204,204,204)" stroke-width="0.39"/><path d="M675.3,283.5 L675.5,283.4 L678.7,284.0 L680.0,285.5 L679.9,286.7 L678.4,287.7 L677.0,287.6Z" fill="rgb(34,34,34)" stroke="rgb(204,204,204)" stroke-width="0.39"/><path d="M698.1,287.2 L699.0,288.2 L702.8,288.8 L703.2,287.3 L702.6,285.6 L701.3,284.6 L698.7,285.9Z" fill="rgb(41,41,41)" stroke="rgb(181,181,181)" stroke-width="0.65"/><path d="M707.7,286.9 L704.1,287.0 L703.6,285.4 L706.6,283.4 L708.5,284.5 L708.7,284.9Z" fill="rgb(51,51,51)" stroke="rgb(166,166,166)" stroke-width="0.49"/><path d="M708.6,287.2 L709.4,285.3 L711.8,285.7 L711.8,288.0 L709.2,288.6Z" fill="rgb(59,59,59)" stroke="rgb(183,183,183)" stroke-width="0.40"/><path d="M712.8,285.7 L713.6,285.2 L715.8,286.1 L716.1,288.1 L713.9,289.2 L712.8,288.1Z" fill="rgb(52,52,52)" stroke="rgb(155,155,155)" stroke-width="0.37"/><path d="M718.3,288.4 L717.3,287.9 L717.0,286.1 L718.6,284.6 L720.8,285.6 L720.7,287.2Z" fill="rgb(33,33,33)" stroke="rgb(211,211,211)" stroke-width="0.70"/><path d="M647.3,288.0 L646.3,289.1 L645.8,291.6 L647.9,292.2 L650.3,291.3 L650.3,289.2Z" fill="rgb(33,33,33)" stroke="rgb(145,145,145)" stroke-width="0.41"/><path d="M652.2,288.7 L654.2,289.1 L654.6,291.5 L653.4,293.3 L651.2,291.4 L651.2,289.2Z" fill="rgb(28,28,28)" stroke="rgb(157,157,157)" stroke-width="0.42"/><path d="M655.1,289.0 L655.4,291.2 L658.3,291.2 L659.0,288.8 L656.7,287.5Z" fill="rgb(29,29,29)" stroke="rgb(159,159,159)" stroke-width="0.68"/><path d="M662.9,292.3 L663.2,291.6 L662.1,289.1 L661.0,288.5 L659.7,288.9 L659.0,291.6 L659.7,292.9Z" fill="rgb(45,45,45)" stroke="rgb(208,208,208)" stroke-width="0.64"/><path d="M667.2,290.3 L664.1,291.1 L663.1,289.1 L665.6,288.2 L667.1,289.1Z" fill="rgb(41,41,41)" stroke="rgb(121,121,121)" stroke-width="0.56"/><path d="M670.8,286.4 L670.2,286.5 L668.2,289.0 L668.4,290.5 L669.7,292.3 L673.1,291.6 L673.7,290.0Z" fill="rgb(45,45,45)" stroke="rgb(131,131,131)" stroke-width="0.37"/><path d="M707.7,287.5 L703.8,287.6 L703.4,289.2 L703.5,290.8 L703.6,290.9 L705.9,291.7 L708.1,291.0 L708.5,289.2Z" fill="rgb(49,49,49)" stroke="rgb(133,133,133)" stroke-width="0.36"/><path d="M709.4,289.4 L709.1,291.1 L710.4,292.2 L712.9,291.5 L713.2,290.1 L712.1,288.9Z" fill="rgb(38,38,38)" stroke="rgb(126,126,126)" stroke-width="0.40"/><path d="M717.9,291.4 L716.3,293.7 L715.7,293.6 L714.2,291.7 L714.4,290.3 L716.6,289.3 L717.5,289.8Z" fill="rgb(43,43,43)" stroke="rgb(204,204,204)" stroke-width="0.36"/><path d="M721.8,292.2 L718.8,291.3 L718.4,289.3 L721.4,287.7 L722.5,288.8 L722.6,292.0Z" fill="rgb(38,38,38)" stroke="rgb(161,161,161)" stroke-width="0.48"/><path d="M648.3,296.7 L645.3,295.8 L645.0,295.4 L645.1,293.1 L645.6,292.6 L647.6,293.2 L649.2,296.0Z" fill="rgb(46,46,46)" stroke="rgb(149,149,149)" stroke-width="0.42"/><path d="M650.4,295.8 L648.8,293.1 L650.9,292.3 L652.8,294.0 L652.8,295.4Z" fill="rgb(58,58,58)" stroke="rgb(195,195,195)" stroke-width="0.62"/><path d="M658.3,294.7 L658.6,293.4 L658.0,292.3 L655.3,292.4 L654.2,294.0 L654.2,295.4 L654.5,295.6Z" fill="rgb(40,40,40)" stroke="rgb(184,184,184)" stroke-width="0.69"/><path d="M660.6,296.4 L662.4,296.7 L663.8,295.7 L662.9,293.0 L659.9,293.5 L659.6,295.0Z" fill="rgb(51,51,51)" stroke="rgb(192,192,192)" stroke-width="0.52"/><path d="M667.5,291.5 L664.3,292.3 L664.1,292.8 L664.9,295.2 L667.4,295.5 L668.1,294.7 L668.7,293.1Z" fill="rgb(35,35,35)" stroke="rgb(135,135,135)" stroke-width="0.38"/><path d="M673.4,292.4 L674.1,293.1 L675.1,296.1 L673.5,297.5 L669.4,295.0 L670.1,293.1Z" fill="rgb(38,38,38)" stroke="rgb(201,201,201)" stroke-width="0.67"/><path d="M699.2,293.5 L702.0,296.6 L702.6,295.9 L702.8,291.9 L702.7,291.8 L699.4,293.2Z" fill="rgb(44,44,44)" stroke="rgb(196,196,196)" stroke-width="0.37"/><path d="M705.7,292.3 L706.1,295.5 L703.4,296.3 L703.6,291.6Z" fill="rgb(39,39,39)" stroke="rgb(190,190,190)" stroke-width="0.54"/><path d="M706.3,292.3 L708.4,291.7 L709.8,292.9 L709.6,295.1 L708.4,296.4 L706.8,295.5Z" fill="rgb(41,41,41)" stroke="rgb(196,196,196)" stroke-width="0.56"/><path d="M710.8,293.1 L710.6,295.0 L713.2,295.7 L714.8,294.4 L713.2,292.5Z" fill="rgb(44,44,44)" stroke="rgb(129,129,129)" stroke-width="0.64"/><path d="M721.1,292.8 L719.9,295.0 L717.3,294.7 L716.9,294.4 L718.6,292.0Z" fill="rgb(38,38,38)" stroke="rgb(128,128,128)" stroke-width="0.63"/><path d="M654.1,298.5 L651.6,301.0 L649.0,298.7 L649.1,297.5 L650.3,296.6 L653.3,296.1 L653.6,296.4Z" fill="rgb(48,48,48)" stroke="rgb(177,177,177)" stroke-width="0.62"/><path d="M658.1,299.3 L659.4,297.0 L658.6,295.8 L654.8,296.7 L655.2,298.3 L656.8,299.7Z" fill="rgb(35,35,35)" stroke="rgb(172,172,172)" stroke-width="0.62"/><path d="M658.8,299.8 L661.8,301.4 L663.0,300.6 L662.5,297.3 L660.5,297.0Z" fill="rgb(59,59,59)" stroke="rgb(170,170,170)" stroke-width="0.58"/><path d="M664.6,296.6 L667.0,296.9 L667.2,299.5 L665.5,300.5 L663.8,300.1 L663.4,297.5Z" fill="rgb(48,48,48)" stroke="rgb(212,212,212)" stroke-width="0.47"/><path d="M669.0,295.5 L673.2,298.1 L673.2,298.4 L670.0,300.8 L668.3,299.7 L668.1,296.5Z" fill="rgb(30,30,30)" stroke="rgb(162,162,162)" stroke-width="0.60"/><path d="M675.6,296.9 L677.2,297.3 L678.2,300.0 L675.3,300.9 L674.1,298.4 L674.1,298.2Z" fill="rgb(34,34,34)" stroke="rgb(168,168,168)" stroke-width="0.53"/><path d="M706.1,296.4 L707.6,297.2 L707.9,299.7 L703.8,299.8 L702.8,298.1 L702.9,297.8 L703.6,297.1Z" fill="rgb(35,35,35)" stroke="rgb(153,153,153)" stroke-width="0.35"/><path d="M708.9,297.2 L709.2,299.8 L709.3,299.8 L712.4,299.3 L712.8,296.7 L710.0,296.0Z" fill="rgb(53,53,53)" stroke="rgb(195,195,195)" stroke-width="0.40"/><path d="M716.5,295.6 L717.2,299.1 L716.5,299.8 L714.8,300.0 L713.6,299.2 L713.9,296.6 L715.6,295.1 L716.2,295.2Z" fill="rgb(39,39,39)" stroke="rgb(162,162,162)" stroke-width="0.44"/><path d="M720.0,299.1 L717.9,299.1 L717.2,295.5 L720.0,295.7 L720.6,296.6Z" fill="rgb(60,60,60)" stroke="rgb(188,188,188)" stroke-width="0.66"/><path d="M648.9,299.6 L647.5,301.4 L649.1,303.9 L649.6,304.0 L650.6,303.7 L651.1,301.6Z" fill="rgb(32,32,32)" stroke="rgb(162,162,162)" stroke-width="0.64"/><path d="M656.0,300.9 L655.9,302.7 L654.2,304.6 L651.7,303.6 L652.2,301.5 L654.3,299.4Z" fill="rgb(46,46,46)" stroke="rgb(139,139,139)" stroke-width="0.59"/><path d="M658.6,300.1 L661.6,301.8 L661.4,302.9 L659.9,304.5 L656.7,302.8 L656.8,300.6Z" fill="rgb(62,62,62)" stroke="rgb(203,203,203)" stroke-width="0.53"/><path d="M662.3,302.0 L663.3,301.3 L665.1,301.7 L665.2,304.4 L664.1,304.7 L662.1,302.9Z" fill="rgb(32,32,32)" stroke="rgb(212,212,212)" stroke-width="0.47"/><path d="M666.3,304.5 L666.2,301.8 L668.0,300.7 L669.4,301.7 L670.2,303.5 L668.0,305.7Z" fill="rgb(62,62,62)" stroke="rgb(121,121,121)" stroke-width="0.40"/><path d="M674.6,301.7 L673.4,299.3 L670.6,301.4 L671.4,303.3 L672.8,303.7 L674.0,303.1Z" fill="rgb(45,45,45)" stroke="rgb(177,177,177)" stroke-width="0.36"/><path d="M675.4,301.7 L678.6,300.6 L678.8,300.8 L679.3,304.1 L678.1,304.7 L674.8,303.3Z" fill="rgb(50,50,50)" stroke="rgb(210,210,210)" stroke-width="0.60"/><path d="M684.6,301.1 L684.6,301.8 L683.8,302.9 L680.5,304.2 L679.9,304.0 L679.5,300.7 L683.3,299.7Z" fill="rgb(61,61,61)" stroke="rgb(128,128,128)" stroke-width="0.42"/><path d="M688.3,300.0 L690.6,301.5 L690.0,304.7 L689.2,305.5 L685.5,301.9 L685.5,301.2Z" fill="rgb(49,49,49)" stroke="rgb(184,184,184)" stroke-width="0.44"/><path d="M690.7,304.9 L694.2,305.2 L695.5,303.8 L694.5,301.5 L693.0,300.7 L691.4,301.5Z" fill="rgb(51,51,51)" stroke="rgb(197,197,197)" stroke-width="0.66"/><path d="M698.9,303.7 L698.0,299.8 L697.8,299.8 L695.1,301.3 L696.0,303.5Z" fill="rgb(40,40,40)" stroke="rgb(201,201,201)" stroke-width="0.41"/><path d="M699.7,303.5 L699.0,300.1 L701.8,299.1 L702.7,300.7 L701.9,303.4 L700.3,303.8Z" fill="rgb(53,53,53)" stroke="rgb(129,129,129)" stroke-width="0.69"/><path d="M708.6,303.0 L708.5,300.7 L708.4,300.6 L703.9,300.7 L703.0,303.7 L704.6,304.9 L708.1,303.6Z" fill="rgb(46,46,46)" stroke="rgb(208,208,208)" stroke-width="0.57"/><path d="M712.0,304.0 L709.7,302.9 L709.6,300.7 L712.8,300.2 L714.0,301.0 L713.3,303.5Z" fill="rgb(31,31,31)" stroke="rgb(213,213,213)" stroke-width="0.52"/><path d="M714.3,303.7 L714.9,301.2 L716.6,301.0 L717.5,303.6 L716.2,305.3Z" fill="rgb(54,54,54)" stroke="rgb(160,160,160)" stroke-width="0.41"/><path d="M721.3,300.9 L721.1,303.4 L718.4,303.1 L717.5,300.7 L718.1,300.1 L719.9,300.1Z" fill="rgb(34,34,34)" stroke="rgb(215,215,215)" stroke-width="0.47"/><path d="M661.5,303.3 L663.9,305.4 L661.0,308.6 L660.3,307.8 L660.1,304.9Z" fill="rgb(60,60,60)" stroke="rgb(145,145,145)" stroke-width="0.40"/><path d="M672.6,308.3 L673.0,307.5 L672.2,304.9 L670.9,304.6 L668.8,306.7 L668.8,307.7 L668.8,307.8Z" fill="rgb(50,50,50)" stroke="rgb(167,167,167)" stroke-width="0.36"/><path d="M674.6,303.9 L673.4,304.5 L674.2,307.2 L676.8,306.8 L677.5,305.2Z" fill="rgb(53,53,53)" stroke="rgb(191,191,191)" stroke-width="0.55"/><path d="M681.6,307.9 L680.0,305.1 L679.5,304.9 L678.5,305.4 L677.8,307.1 L678.8,309.0Z" fill="rgb(46,46,46)" stroke="rgb(167,167,167)" stroke-width="0.39"/><path d="M682.8,308.1 L682.4,307.9 L680.8,305.0 L683.7,303.8 L684.1,307.1Z" fill="rgb(57,57,57)" stroke="rgb(128,128,128)" stroke-width="0.45"/><path d="M685.1,302.2 L684.3,303.3 L684.7,307.1 L688.6,307.0 L689.0,305.9Z" fill="rgb(60,60,60)" stroke="rgb(134,134,134)" stroke-width="0.37"/><path d="M690.5,305.5 L693.9,305.8 L694.4,307.4 L692.2,309.0 L689.8,308.6 L689.4,307.2 L689.7,306.2Z" fill="rgb(58,58,58)" stroke="rgb(173,173,173)" stroke-width="0.43"/><path d="M698.7,304.7 L696.2,304.5 L695.2,305.7 L695.6,307.1 L697.7,308.7 L698.5,308.1 L699.3,305.1Z" fill="rgb(48,48,48)" stroke="rgb(210,210,210)" stroke-width="0.68"/><path d="M700.4,305.0 L702.3,304.5 L703.9,305.7 L704.3,307.4 L703.5,309.0 L702.0,309.3 L699.4,308.5Z" fill="rgb(42,42,42)" stroke="rgb(197,197,197)" stroke-width="0.47"/><path d="M708.5,308.2 L705.2,307.2 L704.8,305.7 L708.0,304.5Z" fill="rgb(44,44,44)" stroke="rgb(186,186,186)" stroke-width="0.43"/><path d="M711.5,305.0 L709.2,303.9 L708.9,304.4 L709.3,308.3 L709.5,308.5 L711.6,307.8Z" fill="rgb(58,58,58)" stroke="rgb(177,177,177)" stroke-width="0.58"/><path d="M716.0,306.7 L715.9,306.0 L713.8,304.3 L712.3,304.8 L712.4,308.0 L714.3,308.6Z" fill="rgb(42,42,42)" stroke="rgb(133,133,133)" stroke-width="0.60"/><path d="M720.2,308.1 L721.1,307.5 L721.3,304.9 L721.2,304.7 L718.4,304.3 L717.0,306.0 L717.1,306.6Z" fill="rgb(30,30,30)" stroke="rgb(152,152,152)" stroke-width="0.38"/><path d="M725.6,305.0 L726.2,307.4 L724.5,308.8 L722.2,307.7 L722.5,305.1Z" fill="rgb(49,49,49)" stroke="rgb(172,172,172)" stroke-width="0.45"/><path d="M732.0,307.6 L732.1,306.9 L733.0,305.8 L735.5,305.3 L735.9,308.5 L732.6,308.0Z" fill="rgb(36,36,36)" stroke="rgb(142,142,142)" stroke-width="0.47"/><path d="M736.6,305.1 L737.5,304.3 L739.5,304.6 L739.5,307.8 L737.4,308.7 L737.1,308.5Z" fill="rgb(40,40,40)" stroke="rgb(140,140,140)" stroke-width="0.66"/><path d="M741.2,308.1 L740.4,307.6 L740.5,304.5 L741.4,303.9 L743.7,304.7 L743.5,306.9Z" fill="rgb(52,52,52)" stroke="rgb(120,120,120)" stroke-width="0.39"/><path d="M676.9,312.2 L674.2,310.4 L673.9,309.2 L674.3,308.2 L677.0,307.8 L678.1,309.8 L677.3,311.7Z" fill="rgb(32,32,32)" stroke="rgb(144,144,144)" stroke-width="0.47"/><path d="M682.5,311.5 L683.1,310.9 L682.5,309.0 L682.1,308.8 L679.2,309.9 L678.5,311.8Z" fill="rgb(50,50,50)" stroke="rgb(187,187,187)" stroke-width="0.47"/><path d="M688.1,310.8 L685.7,311.5 L684.3,310.8 L683.7,308.8 L685.0,307.9 L688.4,307.8 L688.8,309.1 L688.4,310.4Z" fill="rgb(61,61,61)" stroke="rgb(125,125,125)" stroke-width="0.45"/><path d="M689.8,310.8 L690.1,309.5 L692.4,309.8 L694.9,312.6 L694.3,313.5Z" fill="rgb(57,57,57)" stroke="rgb(122,122,122)" stroke-width="0.60"/><path d="M697.6,309.7 L696.8,312.0 L695.7,312.7 L692.7,309.5 L695.1,307.7Z" fill="rgb(28,28,28)" stroke="rgb(173,173,173)" stroke-width="0.45"/><path d="M699.1,309.4 L701.4,310.2 L701.3,312.8 L700.8,313.5 L697.7,312.0 L698.3,310.0Z" fill="rgb(39,39,39)" stroke="rgb(167,167,167)" stroke-width="0.45"/><path d="M703.7,309.5 L705.1,311.7 L701.9,313.1 L702.1,309.9Z" fill="rgb(34,34,34)" stroke="rgb(186,186,186)" stroke-width="0.39"/><path d="M708.7,309.4 L708.3,311.2 L706.7,312.0 L705.7,311.4 L704.5,309.5 L705.2,308.1 L708.5,309.2Z" fill="rgb(54,54,54)" stroke="rgb(158,158,158)" stroke-width="0.39"/><path d="M714.3,310.8 L712.6,312.9 L710.3,312.2 L709.4,311.4 L709.8,309.5 L712.0,308.7 L713.8,309.3Z" fill="rgb(31,31,31)" stroke="rgb(180,180,180)" stroke-width="0.39"/><path d="M718.6,312.3 L715.1,310.6 L714.6,309.0 L716.4,307.1 L720.0,308.8Z" fill="rgb(35,35,35)" stroke="rgb(153,153,153)" stroke-width="0.45"/><path d="M719.7,312.2 L719.7,312.2 L724.2,311.7 L724.3,311.3 L723.9,309.7 L721.7,308.7 L720.8,309.2Z" fill="rgb(34,34,34)" stroke="rgb(186,186,186)" stroke-width="0.68"/><path d="M726.9,307.9 L725.0,309.5 L725.4,311.3 L727.7,311.8 L729.8,310.7 L730.5,308.4Z" fill="rgb(49,49,49)" stroke="rgb(131,131,131)" stroke-width="0.40"/><path d="M731.5,308.6 L731.2,308.8 L730.6,310.7 L732.0,313.4 L733.4,311.7 L732.1,308.9Z" fill="rgb(54,54,54)" stroke="rgb(171,171,171)" stroke-width="0.68"/><path d="M733.0,308.8 L734.4,311.8 L736.5,311.6 L736.9,311.0 L736.9,309.6 L736.6,309.4Z" fill="rgb(58,58,58)" stroke="rgb(125,125,125)" stroke-width="0.54"/><path d="M673.1,315.8 L673.0,315.8 L672.8,312.1 L673.9,311.3 L676.5,313.1 L676.6,313.8 L675.9,314.8Z" fill="rgb(46,46,46)" stroke="rgb(152,152,152)" stroke-width="0.51"/><path d="M681.2,315.5 L677.5,313.7 L677.5,312.9 L677.9,312.3 L682.3,312.0Z" fill="rgb(52,52,52)" stroke="rgb(204,204,204)" stroke-width="0.60"/><path d="M682.1,315.8 L681.8,315.4 L682.9,312.2 L683.6,311.6 L685.1,312.4 L684.9,315.0Z" fill="rgb(30,30,30)" stroke="rgb(208,208,208)" stroke-width="0.45"/><path d="M687.6,316.6 L685.4,315.1 L685.7,312.3 L688.4,311.5 L689.2,315.3Z" fill="rgb(38,38,38)" stroke="rgb(148,148,148)" stroke-width="0.44"/><path d="M689.8,315.2 L689.0,311.6 L689.4,311.2 L694.4,314.1 L694.3,314.3 L691.8,315.5Z" fill="rgb(46,46,46)" stroke="rgb(177,177,177)" stroke-width="0.65"/><path d="M699.7,318.3 L701.2,315.7 L700.6,314.4 L697.1,312.5 L696.0,313.2 L695.3,314.3 L695.2,314.5 L695.9,315.8Z" fill="rgb(56,56,56)" stroke="rgb(203,203,203)" stroke-width="0.42"/><path d="M705.1,315.5 L705.8,313.0 L704.9,312.4 L702.3,313.5 L701.8,314.2 L702.3,315.3Z" fill="rgb(40,40,40)" stroke="rgb(138,138,138)" stroke-width="0.40"/><path d="M708.6,312.5 L707.0,313.3 L706.3,315.7 L706.9,316.5 L709.0,316.6 L709.0,316.6 L709.4,313.3Z" fill="rgb(53,53,53)" stroke="rgb(160,160,160)" stroke-width="0.65"/><path d="M713.2,315.0 L709.6,317.0 L710.1,312.8 L712.6,313.5Z" fill="rgb(29,29,29)" stroke="rgb(161,161,161)" stroke-width="0.36"/><path d="M718.1,312.9 L718.1,312.9 L718.1,314.2 L715.0,315.5 L714.1,314.7 L713.6,313.5 L715.2,311.6Z" fill="rgb(49,49,49)" stroke="rgb(193,193,193)" stroke-width="0.55"/><path d="M719.6,313.1 L724.0,312.6 L723.5,315.5 L723.2,315.7 L720.0,314.9 L719.7,314.4Z" fill="rgb(40,40,40)" stroke="rgb(147,147,147)" stroke-width="0.63"/><path d="M727.3,316.2 L724.5,315.7 L725.1,312.3 L725.3,311.9 L727.5,312.4 L728.2,315.8Z" fill="rgb(55,55,55)" stroke="rgb(193,193,193)" stroke-width="0.58"/><path d="M728.7,315.7 L728.1,312.4 L730.1,311.3 L731.8,314.6 L731.8,315.8Z" fill="rgb(57,57,57)" stroke="rgb(172,172,172)" stroke-width="0.46"/><path d="M677.2,319.1 L676.1,315.4 L672.9,316.7 L673.3,319.6 L674.0,320.3Z" fill="rgb(39,39,39)" stroke="rgb(167,167,167)" stroke-width="0.59"/><path d="M677.7,319.0 L676.6,315.2 L677.4,314.1 L681.3,315.9 L681.6,316.4 L681.6,318.8 L679.4,320.2Z" fill="rgb(43,43,43)" stroke="rgb(205,205,205)" stroke-width="0.56"/><path d="M686.6,319.2 L686.7,319.2 L686.9,317.2 L685.1,315.9 L682.6,316.7 L682.6,318.8 L683.1,319.0Z" fill="rgb(56,56,56)" stroke="rgb(158,158,158)" stroke-width="0.65"/><path d="M687.6,319.2 L691.6,319.5 L691.5,316.1 L689.5,315.8 L687.9,317.0Z" fill="rgb(33,33,33)" stroke="rgb(147,147,147)" stroke-width="0.38"/><path d="M692.3,316.3 L694.6,315.2 L695.1,316.4 L694.5,318.8 L692.8,319.7 L692.3,319.2Z" fill="rgb(30,30,30)" stroke="rgb(145,145,145)" stroke-width="0.46"/><path d="M697.6,320.5 L699.4,319.1 L699.4,318.8 L696.2,316.8 L695.6,319.1Z" fill="rgb(49,49,49)" stroke="rgb(180,180,180)" stroke-width="0.57"/><path d="M700.8,319.0 L702.4,320.4 L704.8,320.4 L705.6,317.4 L705.1,316.6 L702.0,316.4 L700.8,318.7Z" fill="rgb(29,29,29)" stroke="rgb(214,214,214)" stroke-width="0.48"/><path d="M710.4,320.1 L710.5,319.7 L709.2,317.7 L706.7,317.5 L705.8,320.7 L707.0,322.2Z" fill="rgb(62,62,62)" stroke="rgb(151,151,151)" stroke-width="0.44"/><path d="M713.2,315.3 L709.6,317.3 L709.6,317.3 L711.0,319.5 L714.2,318.4 L714.4,316.3Z" fill="rgb(50,50,50)" stroke="rgb(200,200,200)" stroke-width="0.51"/><path d="M714.8,316.3 L714.7,318.4 L717.2,321.2 L718.6,319.8 L719.2,315.3 L718.8,314.8Z" fill="rgb(55,55,55)" stroke="rgb(169,169,169)" stroke-width="0.46"/><path d="M723.5,316.4 L723.0,320.0 L719.1,319.8 L719.7,315.4Z" fill="rgb(38,38,38)" stroke="rgb(172,172,172)" stroke-width="0.63"/><path d="M726.4,320.9 L727.2,319.9 L727.1,316.9 L724.3,316.3 L723.9,316.5 L723.5,320.0 L723.5,320.1Z" fill="rgb(46,46,46)" stroke="rgb(196,196,196)" stroke-width="0.58"/><path d="M677.3,319.8 L674.5,320.8 L675.0,323.1 L676.9,324.0 L678.5,322.6 L678.9,320.8Z" fill="rgb(38,38,38)" stroke="rgb(140,140,140)" stroke-width="0.36"/><path d="M682.4,320.0 L681.8,319.7 L680.0,320.8 L679.6,322.6 L682.7,324.4 L683.6,323.8Z" fill="rgb(49,49,49)" stroke="rgb(199,199,199)" stroke-width="0.64"/><path d="M687.0,320.0 L687.2,323.5 L687.1,323.6 L684.4,324.0 L683.1,319.9Z" fill="rgb(31,31,31)" stroke="rgb(213,213,213)" stroke-width="0.69"/><path d="M687.6,319.8 L687.6,319.8 L691.7,320.0 L692.2,320.6 L692.4,322.8 L690.7,324.3 L687.8,323.6Z" fill="rgb(61,61,61)" stroke="rgb(134,134,134)" stroke-width="0.43"/><path d="M695.9,323.1 L693.3,322.6 L693.2,320.8 L694.9,319.8 L696.9,321.3 L696.4,322.8Z" fill="rgb(40,40,40)" stroke="rgb(177,177,177)" stroke-width="0.59"/><path d="M697.1,323.1 L697.8,321.3 L700.1,319.4 L702.0,321.1 L701.0,324.8 L700.6,324.8Z" fill="rgb(37,37,37)" stroke="rgb(147,147,147)" stroke-width="0.44"/><path d="M701.4,324.8 L702.4,321.2 L705.2,321.2 L706.6,322.8 L706.7,324.0 L702.6,326.0Z" fill="rgb(50,50,50)" stroke="rgb(162,162,162)" stroke-width="0.39"/><path d="M707.2,323.9 L707.0,322.8 L710.6,320.5 L712.2,323.4 L707.5,324.3Z" fill="rgb(40,40,40)" stroke="rgb(161,161,161)" stroke-width="0.66"/><path d="M713.1,322.8 L713.8,323.3 L716.2,322.2 L716.2,322.2 L716.3,321.6 L714.3,319.4 L711.9,320.2 L711.8,320.6Z" fill="rgb(55,55,55)" stroke="rgb(215,215,215)" stroke-width="0.64"/><path d="M723.0,320.4 L723.0,320.4 L718.9,320.3 L717.4,321.6 L717.3,322.4 L721.6,325.1 L722.2,324.7Z" fill="rgb(48,48,48)" stroke="rgb(208,208,208)" stroke-width="0.35"/><path d="M727.2,324.4 L726.4,321.7 L723.8,321.0 L723.1,324.5 L727.1,324.5Z" fill="rgb(49,49,49)" stroke="rgb(200,200,200)" stroke-width="0.56"/><path d="M728.1,324.0 L730.2,323.4 L731.5,320.6 L727.9,320.7 L727.3,321.5Z" fill="rgb(56,56,56)" stroke="rgb(130,130,130)" stroke-width="0.39"/><path d="M695.6,324.1 L692.9,323.6 L691.4,324.9 L691.9,326.6 L693.0,327.8 L695.6,327.3Z" fill="rgb(45,45,45)" stroke="rgb(174,174,174)" stroke-width="0.40"/><path d="M696.3,323.8 L696.3,327.5 L697.1,328.0 L700.3,325.1 L696.9,323.4Z" fill="rgb(41,41,41)" stroke="rgb(156,156,156)" stroke-width="0.62"/><path d="M703.1,328.2 L707.3,327.8 L708.0,327.2 L707.1,324.7 L706.8,324.4 L703.0,326.3Z" fill="rgb(41,41,41)" stroke="rgb(126,126,126)" stroke-width="0.51"/><path d="M708.5,324.9 L709.2,326.9 L711.6,327.9 L712.1,327.6 L712.9,324.6 L712.2,324.2Z" fill="rgb(57,57,57)" stroke="rgb(145,145,145)" stroke-width="0.37"/><path d="M713.1,327.9 L716.1,328.5 L716.9,328.2 L716.7,323.3 L714.0,324.6Z" fill="rgb(48,48,48)" stroke="rgb(198,198,198)" stroke-width="0.40"/><path d="M717.4,323.1 L721.3,325.5 L720.9,328.5 L720.9,328.5 L717.6,328.2 L717.4,323.1Z" fill="rgb(31,31,31)" stroke="rgb(174,174,174)" stroke-width="0.61"/><path d="M702.7,329.4 L702.9,328.8 L706.8,328.5 L705.8,331.6 L703.1,331.0 L702.8,330.6Z" fill="rgb(43,43,43)" stroke="rgb(196,196,196)" stroke-width="0.61"/><path d="M706.4,331.8 L707.6,328.2 L708.5,327.5 L711.6,328.8 L711.4,330.0 L707.8,333.4Z" fill="rgb(61,61,61)" stroke="rgb(177,177,177)" stroke-width="0.45"/><path d="M698.8,333.2 L699.2,335.5 L701.9,336.3 L702.1,336.1 L702.4,332.0 L702.2,331.7Z" fill="rgb(37,37,37)" stroke="rgb(147,147,147)" stroke-width="0.58"/>
<path d="M650,308 Q662,300 672,304" fill="none" stroke="#cccccc" stroke-width="0.9" stroke-linecap="round"/>
<path d="M676,326 Q690,322 700,330" fill="none" stroke="#bfbfbf" stroke-width="0.8" stroke-linecap="round"/>
<path d="M722,305 Q736,302 750,306" fill="none" stroke="#c8c8c8" stroke-width="0.9" stroke-linecap="round"/>
<path d="M712,320 Q730,318 746,322" fill="none" stroke="#c0c0c0" stroke-width="0.9" stroke-linecap="round"/>
<path d="M694,338 Q708,334 722,338" fill="none" stroke="#b8b8b8" stroke-width="0.8" stroke-linecap="round"/>
<path d="M740,296 L749,287" fill="none" stroke="#222" stroke-width="1.2" stroke-linecap="round"/>
<path d="M741,297 L750,288" fill="none" stroke="#d0d0d0" stroke-width="0.6" stroke-linecap="round"/>
<path d="M744,342 Q745,350 744,360 M730,359 Q740,355 752,352 M744,350 L752,346" fill="none" stroke="#d8d8d8" stroke-width="0.9" stroke-linecap="round"/>
<path d="M702,286 Q712,292 718,302" fill="none" stroke="#c0c0c0" stroke-width="0.8" stroke-linecap="round"/>
</g>
<rect x="646.70" y="284.30" width="105.30" height="78.70" fill="#000" filter="url(#grain)"/>
</g>
<line x1="645.80" y1="284.30" x2="645.80" y2="363.00" stroke="#fff" stroke-width="1.6" />
<text x="12.80" y="499.60" font-size="21" font-weight="bold" >D</text>
<line x1="65.30" y1="502.40" x2="65.30" y2="665.60" stroke="#000" stroke-width="2" />
<line x1="62.30" y1="664.60" x2="309.00" y2="664.60" stroke="#000" stroke-width="2" />
<line x1="60.30" y1="664.60" x2="65.30" y2="664.60" stroke="#000" stroke-width="1.6" />
<text x="57.30" y="668.00" font-size="9.6" font-weight="bold" text-anchor="end" >0</text>
<line x1="60.30" y1="597.30" x2="65.30" y2="597.30" stroke="#000" stroke-width="1.6" />
<text x="57.30" y="600.70" font-size="9.6" font-weight="bold" text-anchor="end" textLength="12.00" lengthAdjust="spacing" >50</text>
<line x1="60.30" y1="530.00" x2="65.30" y2="530.00" stroke="#000" stroke-width="1.6" />
<text x="57.30" y="533.40" font-size="9.6" font-weight="bold" text-anchor="end" textLength="19.00" lengthAdjust="spacing" >100</text>
<line x1="65.30" y1="664.60" x2="65.30" y2="669.60" stroke="#000" stroke-width="1.4" />
<line x1="92.39" y1="664.60" x2="92.39" y2="667.60" stroke="#000" stroke-width="1.1" />
<line x1="108.24" y1="664.60" x2="108.24" y2="667.60" stroke="#000" stroke-width="1.1" />
<line x1="119.49" y1="664.60" x2="119.49" y2="667.60" stroke="#000" stroke-width="1.1" />
<line x1="128.21" y1="664.60" x2="128.21" y2="667.60" stroke="#000" stroke-width="1.1" />
<line x1="135.33" y1="664.60" x2="135.33" y2="667.60" stroke="#000" stroke-width="1.1" />
<line x1="141.36" y1="664.60" x2="141.36" y2="667.60" stroke="#000" stroke-width="1.1" />
<line x1="146.58" y1="664.60" x2="146.58" y2="667.60" stroke="#000" stroke-width="1.1" />
<line x1="151.18" y1="664.60" x2="151.18" y2="667.60" stroke="#000" stroke-width="1.1" />
<line x1="155.30" y1="664.60" x2="155.30" y2="669.60" stroke="#000" stroke-width="1.4" />
<line x1="182.39" y1="664.60" x2="182.39" y2="667.60" stroke="#000" stroke-width="1.1" />
<line x1="198.24" y1="664.60" x2="198.24" y2="667.60" stroke="#000" stroke-width="1.1" />
<line x1="209.49" y1="664.60" x2="209.49" y2="667.60" stroke="#000" stroke-width="1.1" />
<line x1="218.21" y1="664.60" x2="218.21" y2="667.60" stroke="#000" stroke-width="1.1" />
<line x1="225.33" y1="664.60" x2="225.33" y2="667.60" stroke="#000" stroke-width="1.1" />
<line x1="231.36" y1="664.60" x2="231.36" y2="667.60" stroke="#000" stroke-width="1.1" />
<line x1="236.58" y1="664.60" x2="236.58" y2="667.60" stroke="#000" stroke-width="1.1" />
<line x1="241.18" y1="664.60" x2="241.18" y2="667.60" stroke="#000" stroke-width="1.1" />
<line x1="245.30" y1="664.60" x2="245.30" y2="669.60" stroke="#000" stroke-width="1.4" />
<line x1="272.39" y1="664.60" x2="272.39" y2="667.60" stroke="#000" stroke-width="1.1" />
<line x1="288.24" y1="664.60" x2="288.24" y2="667.60" stroke="#000" stroke-width="1.1" />
<line x1="299.49" y1="664.60" x2="299.49" y2="667.60" stroke="#000" stroke-width="1.1" />
<line x1="308.21" y1="664.60" x2="308.21" y2="667.60" stroke="#000" stroke-width="1.1" />
<text x="65.30" y="682.90" font-size="9.8" font-weight="bold" text-anchor="middle" >0.1</text>
<text x="155.30" y="682.90" font-size="9.8" font-weight="bold" text-anchor="middle" >1</text>
<text x="245.30" y="682.90" font-size="9.8" font-weight="bold" text-anchor="middle" >10</text>
<text x="32.00" y="583.60" font-size="12.5" font-weight="bold" text-anchor="middle" textLength="123.40" lengthAdjust="spacing" transform="rotate(-90 32.00 583.60)" >Percent Survival</text>
<text x="141.40" y="701.80" font-size="10.8" font-weight="bold" textLength="88.60" lengthAdjust="spacing" >Concentration</text>
<text x="123.60" y="500.60" font-size="12.5" font-weight="bold" textLength="67.80" lengthAdjust="spacing" >CB-5083</text>
<polyline points="65.3,532.0 65.8,532.0 66.2,532.0 66.7,532.0 67.1,532.0 67.5,532.0 68.0,532.0 68.5,532.0 68.9,532.0 69.3,532.0 69.8,532.0 70.2,532.0 70.7,532.0 71.2,532.0 71.6,532.0 72.0,532.0 72.5,532.0 73.0,532.0 73.4,532.0 73.8,532.0 74.3,532.0 74.8,532.0 75.2,532.0 75.6,532.0 76.1,532.0 76.5,532.0 77.0,532.0 77.4,532.0 77.9,532.0 78.3,532.0 78.8,532.0 79.2,532.0 79.7,532.0 80.2,532.0 80.6,532.0 81.0,532.0 81.5,532.0 82.0,532.0 82.4,532.0 82.8,532.0 83.3,532.0 83.8,532.0 84.2,532.0 84.7,532.0 85.1,532.0 85.5,532.0 86.0,532.0 86.4,532.0 86.9,532.0 87.4,532.0 87.8,532.0 88.2,532.0 88.7,532.0 89.2,532.0 89.6,532.0 90.0,532.1 90.5,532.1 90.9,532.1 91.4,532.1 91.8,532.1 92.3,532.1 92.8,532.1 93.2,532.1 93.7,532.1 94.1,532.1 94.5,532.1 95.0,532.1 95.5,532.1 95.9,532.1 96.3,532.1 96.8,532.1 97.2,532.1 97.7,532.2 98.1,532.2 98.6,532.2 99.0,532.2 99.5,532.2 99.9,532.2 100.4,532.2 100.8,532.3 101.3,532.3 101.8,532.3 102.2,532.3 102.7,532.4 103.1,532.4 103.5,532.4 104.0,532.4 104.4,532.5 104.9,532.5 105.3,532.6 105.8,532.6 106.2,532.7 106.7,532.7 107.1,532.8 107.6,532.9 108.0,532.9 108.5,533.0 108.9,533.1 109.4,533.2 109.8,533.3 110.3,533.4 110.8,533.5 111.2,533.7 111.7,533.8 112.1,534.0 112.5,534.1 113.0,534.3 113.5,534.5 113.9,534.7 114.3,535.0 114.8,535.2 115.2,535.5 115.7,535.8 116.1,536.1 116.6,536.4 117.0,536.8 117.5,537.2 117.9,537.7 118.4,538.1 118.8,538.6 119.3,539.2 119.8,539.8 120.2,540.4 120.7,541.1 121.1,541.8 121.5,542.6 122.0,543.5 122.4,544.4 122.9,545.3 123.3,546.4 123.8,547.5 124.2,548.6 124.7,549.9 125.2,551.2 125.6,552.6 126.1,554.1 126.5,555.6 127.0,557.3 127.4,559.0 127.8,560.8 128.3,562.7 128.8,564.6 129.2,566.7 129.6,568.8 130.1,571.0 130.6,573.2 131.0,575.5 131.4,577.9 131.9,580.3 132.3,582.7 132.8,585.2 133.2,587.7 133.7,590.2 134.1,592.7 134.6,595.3 135.1,597.8 135.5,600.2 135.9,602.7 136.4,605.1 136.8,607.5 137.3,609.8 137.8,612.0 138.2,614.2 138.6,616.3 139.1,618.4 139.6,620.3 140.0,622.2 140.4,624.0 140.9,625.8 141.3,627.4 141.8,629.0 142.2,630.5 142.7,631.9 143.1,633.2 143.6,634.4 144.1,635.6 144.5,636.7 144.9,637.8 145.4,638.7 145.8,639.6 146.3,640.5 146.8,641.3 147.2,642.0 147.7,642.7 148.1,643.3 148.6,643.9 149.0,644.5 149.4,645.0 149.9,645.5 150.3,645.9 150.8,646.3 151.2,646.7 151.7,647.0 152.1,647.4 152.6,647.7 153.1,647.9 153.5,648.2 153.9,648.4 154.4,648.6 154.8,648.8 155.3,649.0 155.7,649.2 156.2,649.3 156.6,649.5 157.1,649.6 157.5,649.7 158.0,649.9 158.4,650.0 158.9,650.1 159.3,650.1 159.8,650.2 160.2,650.3 160.7,650.4 161.1,650.4 161.6,650.5 162.1,650.5 162.5,650.6 162.9,650.6 163.4,650.7 163.8,650.7 164.3,650.7 164.8,650.8 165.2,650.8 165.6,650.8 166.1,650.9 166.6,650.9 167.0,650.9 167.4,650.9 167.9,650.9 168.3,651.0 168.8,651.0 169.2,651.0 169.7,651.0 170.2,651.0 170.6,651.0 171.1,651.0 171.5,651.0 171.9,651.0 172.4,651.1 172.9,651.1 173.3,651.1 173.8,651.1 174.2,651.1 174.7,651.1 175.1,651.1 175.6,651.1 176.0,651.1 176.4,651.1 176.9,651.1 177.4,651.1 177.8,651.1 178.2,651.1 178.7,651.1 179.1,651.1 179.6,651.1 180.0,651.1 180.5,651.1 180.9,651.1 181.4,651.1 181.8,651.1 182.3,651.1 182.8,651.1 183.2,651.1 183.6,651.1 184.1,651.1 184.6,651.1 185.0,651.1 185.4,651.1 185.9,651.1 186.3,651.1 186.8,651.1 187.2,651.1 187.7,651.1 188.1,651.1 188.6,651.1 189.1,651.1 189.5,651.1 189.9,651.1 190.4,651.1 190.8,651.1 191.3,651.1 191.8,651.1 192.2,651.1 192.7,651.1 193.1,651.1 193.6,651.1 194.0,651.1 194.4,651.1 194.9,651.1 195.4,651.1 195.8,651.1 196.2,651.1 196.7,651.1 197.1,651.1 197.6,651.1 198.1,651.1 198.5,651.1 198.9,651.1 199.4,651.1 199.9,651.1 200.3,651.1 200.8,651.1 201.2,651.1 201.6,651.1 202.1,651.1 202.6,651.1 203.0,651.1 203.4,651.1 203.9,651.1 204.3,651.1 204.8,651.1 205.2,651.1 205.7,651.1 206.1,651.1 206.6,651.1 207.1,651.1 207.5,651.1 207.9,651.1 208.4,651.1 208.9,651.1 209.3,651.1 209.8,651.1 210.2,651.1 210.6,651.1 211.1,651.1 211.6,651.1 212.0,651.1 212.4,651.1 212.9,651.1 213.4,651.1 213.8,651.1 214.2,651.1 214.7,651.1 215.1,651.1 215.6,651.1 216.1,651.1 216.5,651.1 216.9,651.1 217.4,651.1 217.9,651.1 218.3,651.1 218.8,651.1 219.2,651.1 219.6,651.1 220.1,651.1 220.6,651.1 221.0,651.1 221.4,651.1 221.9,651.1 222.4,651.1 222.8,651.1 223.2,651.1 223.7,651.1 224.1,651.1 224.6,651.1 225.1,651.1 225.5,651.1 225.9,651.1 226.4,651.1 226.8,651.1 227.3,651.1 227.8,651.1 228.2,651.1 228.6,651.1 229.1,651.1 229.6,651.1 230.0,651.1 230.4,651.1 230.9,651.1 231.4,651.1 231.8,651.1 232.2,651.1 232.7,651.1 233.1,651.1 233.6,651.1 234.1,651.1 234.5,651.1 234.9,651.1 235.4,651.1 235.9,651.1 236.3,651.1 236.8,651.1 237.2,651.1 237.6,651.1 238.1,651.1 238.6,651.1 239.0,651.1 239.4,651.1 239.9,651.1 240.4,651.1 240.8,651.1 241.2,651.1 241.7,651.1 242.1,651.1 242.6,651.1 243.1,651.1 243.5,651.1 243.9,651.1 244.4,651.1 244.9,651.1 245.3,651.1 245.8,651.1 246.2,651.1 246.7,651.1 247.1,651.1 247.6,651.1 248.0,651.1 248.4,651.1 248.9,651.1 249.3,651.1 249.8,651.1 250.2,651.1 250.7,651.1 251.1,651.1 251.6,651.1 252.1,651.1 252.5,651.1 252.9,651.1 253.4,651.1 253.9,651.1 254.3,651.1 254.8,651.1 255.2,651.1 255.7,651.1 256.1,651.1 256.6,651.1 257.0,651.1 257.4,651.1 257.9,651.1 258.4,651.1 258.8,651.1 259.2,651.1 259.7,651.1 260.1,651.1 260.6,651.1 261.0,651.1 261.5,651.1 261.9,651.1 262.4,651.1 262.8,651.1 263.3,651.1 263.8,651.1 264.2,651.1 264.6,651.1 265.1,651.1 265.6,651.1 266.0,651.1 266.4,651.1 266.9,651.1 267.4,651.1 267.8,651.1 268.2,651.1 268.7,651.1 269.2,651.1 269.6,651.1 270.1,651.1 270.5,651.1 270.9,651.1 271.4,651.1 271.8,651.1 272.3,651.1 272.8,651.1 273.2,651.1 273.6,651.1 274.1,651.1 274.6,651.1 275.0,651.1 275.4,651.1 275.9,651.1 276.4,651.1 276.8,651.1 277.2,651.1 277.7,651.1 278.2,651.1 278.6,651.1 279.1,651.1 279.5,651.1 279.9,651.1 280.4,651.1 280.9,651.1 281.3,651.1 281.8,651.1 282.2,651.1 282.6,651.1 283.1,651.1 283.5,651.1 284.0,651.1 284.4,651.1 284.9,651.1 285.3,651.1 285.8,651.1 286.2,651.1 286.7,651.1 287.1,651.1 287.6,651.1 288.1,651.1" fill="none" stroke="#0000ff" stroke-width="2"/>
<polyline points="65.3,524.6 65.8,524.6 66.2,524.6 66.7,524.6 67.1,524.6 67.5,524.6 68.0,524.6 68.5,524.6 68.9,524.6 69.3,524.6 69.8,524.6 70.2,524.6 70.7,524.6 71.2,524.6 71.6,524.6 72.0,524.6 72.5,524.6 73.0,524.6 73.4,524.6 73.8,524.6 74.3,524.6 74.8,524.6 75.2,524.6 75.6,524.6 76.1,524.6 76.5,524.6 77.0,524.6 77.4,524.6 77.9,524.6 78.3,524.6 78.8,524.6 79.2,524.6 79.7,524.6 80.2,524.6 80.6,524.6 81.0,524.6 81.5,524.6 82.0,524.6 82.4,524.6 82.8,524.6 83.3,524.6 83.8,524.6 84.2,524.6 84.7,524.6 85.1,524.6 85.5,524.6 86.0,524.6 86.4,524.6 86.9,524.6 87.4,524.6 87.8,524.6 88.2,524.6 88.7,524.6 89.2,524.6 89.6,524.6 90.0,524.6 90.5,524.6 90.9,524.6 91.4,524.6 91.8,524.6 92.3,524.6 92.8,524.6 93.2,524.6 93.7,524.6 94.1,524.6 94.5,524.6 95.0,524.6 95.5,524.6 95.9,524.6 96.3,524.6 96.8,524.6 97.2,524.6 97.7,524.6 98.1,524.6 98.6,524.6 99.0,524.6 99.5,524.6 99.9,524.6 100.4,524.6 100.8,524.6 101.3,524.6 101.8,524.6 102.2,524.6 102.7,524.6 103.1,524.6 103.5,524.6 104.0,524.6 104.4,524.6 104.9,524.6 105.3,524.6 105.8,524.6 106.2,524.6 106.7,524.6 107.1,524.6 107.6,524.6 108.0,524.6 108.5,524.6 108.9,524.6 109.4,524.6 109.8,524.6 110.3,524.6 110.8,524.6 111.2,524.6 111.7,524.6 112.1,524.6 112.5,524.6 113.0,524.6 113.5,524.6 113.9,524.6 114.3,524.6 114.8,524.6 115.2,524.6 115.7,524.6 116.1,524.6 116.6,524.6 117.0,524.6 117.5,524.6 117.9,524.6 118.4,524.6 118.8,524.6 119.3,524.6 119.8,524.6 120.2,524.6 120.7,524.6 121.1,524.6 121.5,524.6 122.0,524.6 122.4,524.6 122.9,524.6 123.3,524.6 123.8,524.6 124.2,524.6 124.7,524.6 125.2,524.6 125.6,524.6 126.1,524.6 126.5,524.6 127.0,524.6 127.4,524.6 127.8,524.6 128.3,524.6 128.8,524.6 129.2,524.6 129.6,524.6 130.1,524.6 130.6,524.6 131.0,524.6 131.4,524.6 131.9,524.6 132.3,524.6 132.8,524.6 133.2,524.6 133.7,524.6 134.1,524.6 134.6,524.6 135.1,524.6 135.5,524.6 135.9,524.6 136.4,524.6 136.8,524.6 137.3,524.6 137.8,524.6 138.2,524.6 138.6,524.6 139.1,524.6 139.6,524.6 140.0,524.6 140.4,524.6 140.9,524.6 141.3,524.6 141.8,524.6 142.2,524.6 142.7,524.6 143.1,524.6 143.6,524.6 144.1,524.6 144.5,524.6 144.9,524.6 145.4,524.6 145.8,524.6 146.3,524.6 146.8,524.6 147.2,524.6 147.7,524.6 148.1,524.6 148.6,524.6 149.0,524.6 149.4,524.6 149.9,524.6 150.3,524.6 150.8,524.6 151.2,524.6 151.7,524.6 152.1,524.6 152.6,524.6 153.1,524.6 153.5,524.6 153.9,524.6 154.4,524.6 154.8,524.6 155.3,524.6 155.7,524.6 156.2,524.6 156.6,524.6 157.1,524.6 157.5,524.6 158.0,524.6 158.4,524.6 158.9,524.6 159.3,524.6 159.8,524.6 160.2,524.6 160.7,524.6 161.1,524.6 161.6,524.6 162.1,524.6 162.5,524.6 162.9,524.6 163.4,524.6 163.8,524.6 164.3,524.6 164.8,524.6 165.2,524.6 165.6,524.6 166.1,524.6 166.6,524.6 167.0,524.6 167.4,524.6 167.9,524.6 168.3,524.6 168.8,524.6 169.2,524.6 169.7,524.6 170.2,524.6 170.6,524.6 171.1,524.6 171.5,524.6 171.9,524.6 172.4,524.6 172.9,524.6 173.3,524.6 173.8,524.6 174.2,524.6 174.7,524.6 175.1,524.6 175.6,524.6 176.0,524.6 176.4,524.6 176.9,524.6 177.4,524.6 177.8,524.6 178.2,524.6 178.7,524.6 179.1,524.6 179.6,524.6 180.0,524.6 180.5,524.6 180.9,524.6 181.4,524.6 181.8,524.6 182.3,524.6 182.8,524.6 183.2,524.6 183.6,524.6 184.1,524.6 184.6,524.6 185.0,524.6 185.4,524.6 185.9,524.6 186.3,524.6 186.8,524.6 187.2,524.6 187.7,524.6 188.1,524.6 188.6,524.6 189.1,524.6 189.5,524.6 189.9,524.6 190.4,524.6 190.8,524.6 191.3,524.6 191.8,524.6 192.2,524.6 192.7,524.6 193.1,524.6 193.6,524.6 194.0,524.6 194.4,524.6 194.9,524.6 195.4,524.6 195.8,524.6 196.2,524.6 196.7,524.6 197.1,524.6 197.6,524.6 198.1,524.6 198.5,524.6 198.9,524.6 199.4,524.6 199.9,524.6 200.3,524.6 200.8,524.6 201.2,524.6 201.6,524.6 202.1,524.6 202.6,524.6 203.0,524.6 203.4,524.6 203.9,524.6 204.3,524.6 204.8,524.6 205.2,524.6 205.7,524.6 206.1,524.6 206.6,524.6 207.1,524.6 207.5,524.6 207.9,524.6 208.4,524.6 208.9,524.6 209.3,524.6 209.8,524.6 210.2,524.6 210.6,524.6 211.1,524.6 211.6,524.6 212.0,524.6 212.4,524.6 212.9,524.6 213.4,524.7 213.8,524.7 214.2,524.7 214.7,524.7 215.1,524.7 215.6,524.7 216.1,524.7 216.5,524.7 216.9,524.7 217.4,524.7 217.9,524.7 218.3,524.7 218.8,524.7 219.2,524.7 219.6,524.7 220.1,524.7 220.6,524.7 221.0,524.7 221.4,524.7 221.9,524.7 222.4,524.7 222.8,524.7 223.2,524.8 223.7,524.8 224.1,524.8 224.6,524.8 225.1,524.8 225.5,524.8 225.9,524.8 226.4,524.8 226.8,524.8 227.3,524.8 227.8,524.9 228.2,524.9 228.6,524.9 229.1,524.9 229.6,524.9 230.0,525.0 230.4,525.0 230.9,525.0 231.4,525.0 231.8,525.0 232.2,525.1 232.7,525.1 233.1,525.1 233.6,525.2 234.1,525.2 234.5,525.2 234.9,525.3 235.4,525.3 235.9,525.4 236.3,525.4 236.8,525.4 237.2,525.5 237.6,525.6 238.1,525.6 238.6,525.7 239.0,525.7 239.4,525.8 239.9,525.9 240.4,526.0 240.8,526.0 241.2,526.1 241.7,526.2 242.1,526.3 242.6,526.4 243.1,526.5 243.5,526.7 243.9,526.8 244.4,526.9 244.9,527.1 245.3,527.2 245.8,527.4 246.2,527.5 246.7,527.7 247.1,527.9 247.6,528.1 248.0,528.3 248.4,528.5 248.9,528.8 249.3,529.0 249.8,529.3 250.2,529.6 250.7,529.9 251.1,530.2 251.6,530.5 252.1,530.9 252.5,531.3 252.9,531.6 253.4,532.1 253.9,532.5 254.3,533.0 254.8,533.4 255.2,534.0 255.7,534.5 256.1,535.1 256.6,535.7 257.0,536.3 257.4,536.9 257.9,537.6 258.4,538.4 258.8,539.1 259.2,539.9 259.7,540.7 260.1,541.6 260.6,542.5 261.0,543.5 261.5,544.5 261.9,545.5 262.4,546.6 262.8,547.7 263.3,548.9 263.8,550.1 264.2,551.4 264.6,552.7 265.1,554.0 265.6,555.4 266.0,556.8 266.4,558.3 266.9,559.8 267.4,561.4 267.8,563.0 268.2,564.6 268.7,566.3 269.2,568.0 269.6,569.8 270.1,571.6 270.5,573.4 270.9,575.2 271.4,577.1 271.8,578.9 272.3,580.8 272.8,582.7 273.2,584.6 273.6,586.5 274.1,588.5 274.6,590.4 275.0,592.3 275.4,594.2 275.9,596.1 276.4,598.0 276.8,599.8 277.2,601.7 277.7,603.5 278.2,605.3 278.6,607.0 279.1,608.8 279.5,610.5 279.9,612.1 280.4,613.7 280.9,615.3 281.3,616.8 281.8,618.3 282.2,619.8 282.6,621.2 283.1,622.6 283.5,623.9 284.0,625.2 284.4,626.4 284.9,627.6 285.3,628.7 285.8,629.8 286.2,630.9 286.7,631.9 287.1,632.9 287.6,633.8 288.1,634.7" fill="none" stroke="#ff0000" stroke-width="2"/>
<line x1="65.30" y1="527.31" x2="65.30" y2="538.08" stroke="#0000ff" stroke-width="1.6" />
<line x1="62.10" y1="527.31" x2="68.50" y2="527.31" stroke="#0000ff" stroke-width="1.5" />
<line x1="62.10" y1="538.08" x2="68.50" y2="538.08" stroke="#0000ff" stroke-width="1.5" />
<circle cx="65.3" cy="532.7" r="3.9" fill="#0000ff"/>
<circle cx="128.2" cy="562.3" r="3.9" fill="#0000ff"/>
<line x1="144.06" y1="620.86" x2="144.06" y2="650.47" stroke="#0000ff" stroke-width="1.6" />
<line x1="140.86" y1="620.86" x2="147.26" y2="620.86" stroke="#0000ff" stroke-width="1.5" />
<line x1="140.86" y1="650.47" x2="147.26" y2="650.47" stroke="#0000ff" stroke-width="1.5" />
<circle cx="144.1" cy="635.7" r="3.9" fill="#0000ff"/>
<line x1="155.30" y1="646.03" x2="155.30" y2="654.10" stroke="#0000ff" stroke-width="1.6" />
<line x1="152.10" y1="646.03" x2="158.50" y2="646.03" stroke="#0000ff" stroke-width="1.5" />
<line x1="152.10" y1="654.10" x2="158.50" y2="654.10" stroke="#0000ff" stroke-width="1.5" />
<circle cx="155.3" cy="650.1" r="3.9" fill="#0000ff"/>
<line x1="191.11" y1="645.08" x2="191.11" y2="657.20" stroke="#0000ff" stroke-width="1.6" />
<line x1="187.91" y1="645.08" x2="194.31" y2="645.08" stroke="#0000ff" stroke-width="1.5" />
<line x1="187.91" y1="657.20" x2="194.31" y2="657.20" stroke="#0000ff" stroke-width="1.5" />
<circle cx="191.1" cy="651.1" r="3.9" fill="#0000ff"/>
<line x1="218.21" y1="641.04" x2="218.21" y2="654.50" stroke="#0000ff" stroke-width="1.6" />
<line x1="215.01" y1="641.04" x2="221.41" y2="641.04" stroke="#0000ff" stroke-width="1.5" />
<line x1="215.01" y1="654.50" x2="221.41" y2="654.50" stroke="#0000ff" stroke-width="1.5" />
<circle cx="218.2" cy="647.8" r="3.9" fill="#0000ff"/>
<line x1="245.30" y1="646.43" x2="245.30" y2="654.50" stroke="#0000ff" stroke-width="1.6" />
<line x1="242.10" y1="646.43" x2="248.50" y2="646.43" stroke="#0000ff" stroke-width="1.5" />
<line x1="242.10" y1="654.50" x2="248.50" y2="654.50" stroke="#0000ff" stroke-width="1.5" />
<circle cx="245.3" cy="650.5" r="3.9" fill="#0000ff"/>
<line x1="272.39" y1="649.12" x2="272.39" y2="661.24" stroke="#0000ff" stroke-width="1.6" />
<line x1="269.19" y1="649.12" x2="275.59" y2="649.12" stroke="#0000ff" stroke-width="1.5" />
<line x1="269.19" y1="661.24" x2="275.59" y2="661.24" stroke="#0000ff" stroke-width="1.5" />
<circle cx="272.4" cy="655.2" r="3.9" fill="#0000ff"/>
<line x1="288.24" y1="647.10" x2="288.24" y2="657.87" stroke="#0000ff" stroke-width="1.6" />
<line x1="285.04" y1="647.10" x2="291.44" y2="647.10" stroke="#0000ff" stroke-width="1.5" />
<line x1="285.04" y1="657.87" x2="291.44" y2="657.87" stroke="#0000ff" stroke-width="1.5" />
<circle cx="288.2" cy="652.5" r="3.9" fill="#0000ff"/>
<line x1="65.30" y1="521.92" x2="65.30" y2="527.31" stroke="#ff0000" stroke-width="1.6" />
<line x1="62.10" y1="521.92" x2="68.50" y2="521.92" stroke="#ff0000" stroke-width="1.5" />
<line x1="62.10" y1="527.31" x2="68.50" y2="527.31" stroke="#ff0000" stroke-width="1.5" />
<rect x="61.90" y="521.22" width="6.80" height="6.80" fill="#ff0000" />
<line x1="128.21" y1="517.21" x2="128.21" y2="529.33" stroke="#ff0000" stroke-width="1.6" />
<line x1="125.01" y1="517.21" x2="131.41" y2="517.21" stroke="#ff0000" stroke-width="1.5" />
<line x1="125.01" y1="529.33" x2="131.41" y2="529.33" stroke="#ff0000" stroke-width="1.5" />
<rect x="124.81" y="519.87" width="6.80" height="6.80" fill="#ff0000" />
<line x1="144.06" y1="518.56" x2="144.06" y2="530.67" stroke="#ff0000" stroke-width="1.6" />
<line x1="140.86" y1="518.56" x2="147.26" y2="518.56" stroke="#ff0000" stroke-width="1.5" />
<line x1="140.86" y1="530.67" x2="147.26" y2="530.67" stroke="#ff0000" stroke-width="1.5" />
<rect x="140.66" y="521.22" width="6.80" height="6.80" fill="#ff0000" />
<line x1="155.30" y1="516.94" x2="155.30" y2="530.94" stroke="#ff0000" stroke-width="1.6" />
<line x1="152.10" y1="516.94" x2="158.50" y2="516.94" stroke="#ff0000" stroke-width="1.5" />
<line x1="152.10" y1="530.94" x2="158.50" y2="530.94" stroke="#ff0000" stroke-width="1.5" />
<rect x="151.90" y="520.54" width="6.80" height="6.80" fill="#ff0000" />
<line x1="191.11" y1="517.62" x2="191.11" y2="531.62" stroke="#ff0000" stroke-width="1.6" />
<line x1="187.91" y1="517.62" x2="194.31" y2="517.62" stroke="#ff0000" stroke-width="1.5" />
<line x1="187.91" y1="531.62" x2="194.31" y2="531.62" stroke="#ff0000" stroke-width="1.5" />
<rect x="187.71" y="521.22" width="6.80" height="6.80" fill="#ff0000" />
<line x1="218.21" y1="516.27" x2="218.21" y2="535.65" stroke="#ff0000" stroke-width="1.6" />
<line x1="215.01" y1="516.27" x2="221.41" y2="516.27" stroke="#ff0000" stroke-width="1.5" />
<line x1="215.01" y1="535.65" x2="221.41" y2="535.65" stroke="#ff0000" stroke-width="1.5" />
<rect x="214.81" y="522.56" width="6.80" height="6.80" fill="#ff0000" />
<line x1="245.30" y1="519.50" x2="245.30" y2="535.11" stroke="#ff0000" stroke-width="1.6" />
<line x1="242.10" y1="519.50" x2="248.50" y2="519.50" stroke="#ff0000" stroke-width="1.5" />
<line x1="242.10" y1="535.11" x2="248.50" y2="535.11" stroke="#ff0000" stroke-width="1.5" />
<rect x="241.90" y="523.91" width="6.80" height="6.80" fill="#ff0000" />
<line x1="272.39" y1="576.44" x2="272.39" y2="585.86" stroke="#ff0000" stroke-width="1.6" />
<line x1="269.19" y1="576.44" x2="275.59" y2="576.44" stroke="#ff0000" stroke-width="1.5" />
<line x1="269.19" y1="585.86" x2="275.59" y2="585.86" stroke="#ff0000" stroke-width="1.5" />
<rect x="268.99" y="577.75" width="6.80" height="6.80" fill="#ff0000" />
<line x1="288.24" y1="633.64" x2="288.24" y2="636.33" stroke="#ff0000" stroke-width="1.6" />
<line x1="285.04" y1="633.64" x2="291.44" y2="633.64" stroke="#ff0000" stroke-width="1.5" />
<line x1="285.04" y1="636.33" x2="291.44" y2="636.33" stroke="#ff0000" stroke-width="1.5" />
<rect x="284.84" y="631.59" width="6.80" height="6.80" fill="#ff0000" />
<line x1="149.20" y1="582.70" x2="166.50" y2="582.70" stroke="#0000ff" stroke-width="1.8" />
<circle cx="157.8" cy="582.7" r="3.4" fill="#0000ff"/>
<text x="176.70" y="587.00" font-size="9.8" fill="#222" textLength="70.30" lengthAdjust="spacing" >HCT116-par</text>
<line x1="149.20" y1="604.50" x2="166.50" y2="604.50" stroke="#ff0000" stroke-width="1.8" />
<rect x="154.65" y="601.30" width="6.40" height="6.40" fill="#ff0000" />
<text x="176.70" y="608.80" font-size="9.8" fill="#222" textLength="69.60" lengthAdjust="spacing" >HCT116-res</text>
<text x="17.80" y="744.60" font-size="21" font-weight="bold" >F</text>
<line x1="67.00" y1="752.50" x2="67.00" y2="915.00" stroke="#000" stroke-width="2" />
<line x1="64.00" y1="914.00" x2="310.00" y2="914.00" stroke="#000" stroke-width="2" />
<line x1="62.00" y1="914.00" x2="67.00" y2="914.00" stroke="#000" stroke-width="1.6" />
<text x="59.00" y="917.40" font-size="9.6" font-weight="bold" text-anchor="end" >0</text>
<line x1="62.00" y1="846.65" x2="67.00" y2="846.65" stroke="#000" stroke-width="1.6" />
<text x="59.00" y="850.05" font-size="9.6" font-weight="bold" text-anchor="end" textLength="12.00" lengthAdjust="spacing" >50</text>
<line x1="62.00" y1="779.30" x2="67.00" y2="779.30" stroke="#000" stroke-width="1.6" />
<text x="59.00" y="782.70" font-size="9.6" font-weight="bold" text-anchor="end" textLength="19.00" lengthAdjust="spacing" >100</text>
<line x1="67.00" y1="914.00" x2="67.00" y2="919.00" stroke="#000" stroke-width="1.4" />
<line x1="93.94" y1="914.00" x2="93.94" y2="917.00" stroke="#000" stroke-width="1.1" />
<line x1="109.70" y1="914.00" x2="109.70" y2="917.00" stroke="#000" stroke-width="1.1" />
<line x1="120.88" y1="914.00" x2="120.88" y2="917.00" stroke="#000" stroke-width="1.1" />
<line x1="129.56" y1="914.00" x2="129.56" y2="917.00" stroke="#000" stroke-width="1.1" />
<line x1="136.64" y1="914.00" x2="136.64" y2="917.00" stroke="#000" stroke-width="1.1" />
<line x1="142.64" y1="914.00" x2="142.64" y2="917.00" stroke="#000" stroke-width="1.1" />
<line x1="147.83" y1="914.00" x2="147.83" y2="917.00" stroke="#000" stroke-width="1.1" />
<line x1="152.40" y1="914.00" x2="152.40" y2="917.00" stroke="#000" stroke-width="1.1" />
<line x1="156.50" y1="914.00" x2="156.50" y2="919.00" stroke="#000" stroke-width="1.4" />
<line x1="183.44" y1="914.00" x2="183.44" y2="917.00" stroke="#000" stroke-width="1.1" />
<line x1="199.20" y1="914.00" x2="199.20" y2="917.00" stroke="#000" stroke-width="1.1" />
<line x1="210.38" y1="914.00" x2="210.38" y2="917.00" stroke="#000" stroke-width="1.1" />
<line x1="219.06" y1="914.00" x2="219.06" y2="917.00" stroke="#000" stroke-width="1.1" />
<line x1="226.14" y1="914.00" x2="226.14" y2="917.00" stroke="#000" stroke-width="1.1" />
<line x1="232.14" y1="914.00" x2="232.14" y2="917.00" stroke="#000" stroke-width="1.1" />
<line x1="237.33" y1="914.00" x2="237.33" y2="917.00" stroke="#000" stroke-width="1.1" />
<line x1="241.90" y1="914.00" x2="241.90" y2="917.00" stroke="#000" stroke-width="1.1" />
<line x1="246.00" y1="914.00" x2="246.00" y2="919.00" stroke="#000" stroke-width="1.4" />
<line x1="272.94" y1="914.00" x2="272.94" y2="917.00" stroke="#000" stroke-width="1.1" />
<line x1="288.70" y1="914.00" x2="288.70" y2="917.00" stroke="#000" stroke-width="1.1" />
<line x1="299.88" y1="914.00" x2="299.88" y2="917.00" stroke="#000" stroke-width="1.1" />
<line x1="308.56" y1="914.00" x2="308.56" y2="917.00" stroke="#000" stroke-width="1.1" />
<text x="67.00" y="932.30" font-size="9.8" font-weight="bold" text-anchor="middle" >0.1</text>
<text x="156.50" y="932.30" font-size="9.8" font-weight="bold" text-anchor="middle" >1</text>
<text x="246.00" y="932.30" font-size="9.8" font-weight="bold" text-anchor="middle" >10</text>
<text x="33.80" y="833.00" font-size="12.5" font-weight="bold" text-anchor="middle" textLength="123.00" lengthAdjust="spacing" transform="rotate(-90 33.80 833.00)" >Percent Survival</text>
<text x="116.70" y="955.00" font-size="10.8" font-weight="bold" textLength="141.60" lengthAdjust="spacing" >Concentration [μM]</text>
<text x="134.70" y="759.40" font-size="12.5" font-weight="bold" textLength="70.80" lengthAdjust="spacing" >NMS-873</text>
<polyline points="66.4,783.5 67.4,783.4 68.4,783.3 69.4,783.3 70.4,783.2 71.4,783.2 72.4,783.1 73.4,783.1 74.4,783.1 75.4,783.1 76.4,783.1 77.4,783.1 78.4,783.1 79.4,783.1 80.4,783.1 81.4,783.1 82.4,783.2 83.4,783.2 84.4,783.2 85.4,783.3 86.4,783.4 87.4,783.4 88.4,783.5 89.4,783.6 90.4,783.6 91.4,783.7 92.4,783.8 93.4,783.9 94.4,784.0 95.4,784.1 96.4,784.2 97.4,784.3 98.4,784.5 99.4,784.6 100.4,784.7 101.4,784.8 102.4,785.0 103.4,785.1 104.4,785.2 105.4,785.4 106.4,785.5 107.4,785.7 108.4,785.8 109.4,786.0 110.4,786.1 111.4,786.3 112.4,786.4 113.4,786.6 114.4,786.8 115.4,786.9 116.4,787.1 117.4,787.2 118.4,787.4 119.4,787.6 120.4,787.7 121.4,787.9 122.4,788.1 123.4,788.2 124.4,788.4 125.4,788.6 126.4,788.7 127.4,788.9 128.4,789.1 129.4,789.2 130.4,789.4 131.4,789.6 132.4,789.7 133.4,789.9 134.4,790.1 135.4,790.2 136.4,790.4 137.4,790.6 138.4,790.8 139.4,791.0 140.4,791.2 141.4,791.4 142.4,791.6 143.4,791.8 144.4,792.0 145.4,792.3 146.4,792.5 147.4,792.8 148.4,793.1 149.4,793.4 150.4,793.7 151.4,794.1 152.4,794.4 153.4,794.8 154.4,795.2 155.4,795.6 156.4,796.1 157.4,796.5 158.4,797.0 159.4,797.5 160.4,798.1 161.4,798.6 162.4,799.2 163.4,799.8 164.4,800.5 165.4,801.2 166.4,801.9 167.4,802.6 168.4,803.4 169.4,804.2 170.4,805.1 171.4,806.0 172.4,806.9 173.4,807.8 174.4,808.8 175.4,809.9 176.4,810.9 177.4,812.0 178.4,813.2 179.4,814.4 180.4,815.6 181.4,816.9 182.4,818.2 183.4,819.6 184.4,821.0 185.4,822.4 186.4,823.9 187.4,825.5 188.4,827.1 189.4,828.7 190.4,830.4 191.4,832.1 192.4,833.9 193.4,835.8 194.4,837.7 195.4,839.6 196.4,841.6 197.4,843.7 198.4,845.9 199.4,848.1 200.4,850.4 201.4,852.8 202.4,855.2 203.4,857.8 204.4,860.3 205.4,862.9 206.4,865.5 207.4,868.1 208.4,870.6 209.4,873.1 210.4,875.6 211.4,877.9 212.4,880.2 213.4,882.4 214.4,884.4 215.4,886.3 216.4,888.0 217.4,889.7 218.4,891.2 219.4,892.5 220.4,893.8 221.4,895.0 222.4,896.0 223.4,896.9 224.4,897.7 225.4,898.4 226.4,899.0 227.4,899.6 228.4,900.0 229.4,900.3 230.4,900.6 231.4,900.8 232.4,900.8 233.4,900.8 234.4,900.8 235.4,900.8 236.4,900.8 237.4,900.8 238.4,900.8 239.4,900.7 240.4,900.6 241.4,900.5 242.4,900.4 243.4,900.3 244.4,900.2 245.4,900.2 246.4,900.2 247.4,900.3 248.4,900.4 249.4,900.5 250.4,900.7 251.4,900.8 252.4,900.8 253.4,900.8 254.4,900.8 255.4,900.8 256.4,900.8 257.4,900.8 258.4,900.8 259.4,900.8 260.4,900.8 261.4,900.8 262.4,900.8 263.4,900.8 264.4,900.8 265.4,900.8 266.4,900.8 267.4,900.8 268.4,900.8 269.4,900.8 270.4,900.8 271.4,900.8 272.4,900.8 273.4,900.8 274.4,900.8 275.4,900.8 276.4,900.8 277.4,900.8 278.4,900.8 279.4,900.8 280.4,900.8 281.4,900.8 282.4,900.8" fill="none" stroke="#0000ff" stroke-width="2"/>
<polyline points="66.4,791.8 67.4,791.8 68.4,791.8 69.4,791.8 70.4,791.8 71.4,791.8 72.4,791.9 73.4,791.9 74.4,791.9 75.4,792.0 76.4,792.0 77.4,792.1 78.4,792.1 79.4,792.2 80.4,792.3 81.4,792.3 82.4,792.4 83.4,792.5 84.4,792.6 85.4,792.7 86.4,792.8 87.4,792.9 88.4,793.0 89.4,793.2 90.4,793.3 91.4,793.4 92.4,793.6 93.4,793.7 94.4,793.8 95.4,794.0 96.4,794.1 97.4,794.3 98.4,794.5 99.4,794.6 100.4,794.8 101.4,795.0 102.4,795.2 103.4,795.3 104.4,795.5 105.4,795.7 106.4,795.9 107.4,796.1 108.4,796.3 109.4,796.5 110.4,796.7 111.4,797.0 112.4,797.2 113.4,797.4 114.4,797.6 115.4,797.8 116.4,798.1 117.4,798.3 118.4,798.6 119.4,798.8 120.4,799.0 121.4,799.3 122.4,799.5 123.4,799.8 124.4,800.0 125.4,800.3 126.4,800.6 127.4,800.8 128.4,801.1 129.4,801.4 130.4,801.6 131.4,801.9 132.4,802.2 133.4,802.5 134.4,802.8 135.4,803.0 136.4,803.3 137.4,803.6 138.4,804.0 139.4,804.3 140.4,804.6 141.4,804.9 142.4,805.2 143.4,805.6 144.4,805.9 145.4,806.3 146.4,806.7 147.4,807.1 148.4,807.5 149.4,807.9 150.4,808.3 151.4,808.7 152.4,809.2 153.4,809.6 154.4,810.1 155.4,810.6 156.4,811.1 157.4,811.6 158.4,812.1 159.4,812.7 160.4,813.2 161.4,813.8 162.4,814.4 163.4,815.1 164.4,815.7 165.4,816.4 166.4,817.0 167.4,817.7 168.4,818.5 169.4,819.2 170.4,820.0 171.4,820.8 172.4,821.6 173.4,822.4 174.4,823.3 175.4,824.2 176.4,825.1 177.4,826.0 178.4,827.0 179.4,828.0 180.4,829.0 181.4,830.1 182.4,831.1 183.4,832.2 184.4,833.4 185.4,834.5 186.4,835.7 187.4,836.9 188.4,838.2 189.4,839.5 190.4,840.8 191.4,842.2 192.4,843.5 193.4,845.0 194.4,846.4 195.4,847.9 196.4,849.4 197.4,850.9 198.4,852.5 199.4,854.0 200.4,855.6 201.4,857.2 202.4,858.8 203.4,860.4 204.4,862.0 205.4,863.7 206.4,865.3 207.4,866.9 208.4,868.6 209.4,870.2 210.4,871.8 211.4,873.4 212.4,875.0 213.4,876.5 214.4,878.1 215.4,879.6 216.4,881.1 217.4,882.6 218.4,884.0 219.4,885.4 220.4,886.7 221.4,888.0 222.4,889.3 223.4,890.5 224.4,891.6 225.4,892.8 226.4,893.8 227.4,894.8 228.4,895.8 229.4,896.7 230.4,897.6 231.4,898.5 232.4,899.3 233.4,900.0 234.4,900.7 235.4,901.4 236.4,902.0 237.4,902.6 238.4,903.1 239.4,903.6 240.4,904.1 241.4,904.5 242.4,904.9 243.4,905.3 244.4,905.6 245.4,905.8 246.4,906.1 247.4,906.3 248.4,906.5 249.4,906.7 250.4,906.8 251.4,906.9 252.4,907.0 253.4,907.1 254.4,907.2 255.4,907.2 256.4,907.3 257.4,907.3 258.4,907.3 259.4,907.3 260.4,907.3 261.4,907.3 262.4,907.2 263.4,907.2 264.4,907.2 265.4,907.1 266.4,907.1 267.4,907.1 268.4,907.1 269.4,907.1 270.4,907.1 271.4,907.0 272.4,907.1 273.4,907.1 274.4,907.1 275.4,907.1 276.4,907.2 277.4,907.3 278.4,907.3 279.4,907.4 280.4,907.6 281.4,907.7 282.4,907.8" fill="none" stroke="#ff0000" stroke-width="2"/>
<line x1="67.00" y1="773.51" x2="67.00" y2="781.59" stroke="#0000ff" stroke-width="1.6" />
<line x1="63.80" y1="773.51" x2="70.20" y2="773.51" stroke="#0000ff" stroke-width="1.5" />
<line x1="63.80" y1="781.59" x2="70.20" y2="781.59" stroke="#0000ff" stroke-width="1.5" />
<circle cx="67.0" cy="777.5" r="3.9" fill="#0000ff"/>
<line x1="102.62" y1="781.05" x2="102.62" y2="792.37" stroke="#0000ff" stroke-width="1.6" />
<line x1="99.42" y1="781.05" x2="105.82" y2="781.05" stroke="#0000ff" stroke-width="1.5" />
<line x1="99.42" y1="792.37" x2="105.82" y2="792.37" stroke="#0000ff" stroke-width="1.5" />
<circle cx="102.6" cy="786.7" r="3.9" fill="#0000ff"/>
<circle cx="129.6" cy="794.7" r="3.9" fill="#0000ff"/>
<line x1="156.50" y1="794.39" x2="156.50" y2="802.47" stroke="#0000ff" stroke-width="1.6" />
<line x1="153.30" y1="794.39" x2="159.70" y2="794.39" stroke="#0000ff" stroke-width="1.5" />
<line x1="153.30" y1="802.47" x2="159.70" y2="802.47" stroke="#0000ff" stroke-width="1.5" />
<circle cx="156.5" cy="798.4" r="3.9" fill="#0000ff"/>
<line x1="192.12" y1="830.22" x2="192.12" y2="835.60" stroke="#0000ff" stroke-width="1.6" />
<line x1="188.92" y1="830.22" x2="195.32" y2="830.22" stroke="#0000ff" stroke-width="1.5" />
<line x1="188.92" y1="835.60" x2="195.32" y2="835.60" stroke="#0000ff" stroke-width="1.5" />
<circle cx="192.1" cy="832.9" r="3.9" fill="#0000ff"/>
<circle cx="219.1" cy="895.4" r="3.9" fill="#0000ff"/>
<circle cx="246.0" cy="902.7" r="3.9" fill="#0000ff"/>
<circle cx="261.8" cy="899.2" r="3.9" fill="#0000ff"/>
<line x1="281.62" y1="892.85" x2="281.62" y2="902.28" stroke="#0000ff" stroke-width="1.6" />
<line x1="278.42" y1="892.85" x2="284.82" y2="892.85" stroke="#0000ff" stroke-width="1.5" />
<line x1="278.42" y1="902.28" x2="284.82" y2="902.28" stroke="#0000ff" stroke-width="1.5" />
<circle cx="281.6" cy="897.6" r="3.9" fill="#0000ff"/>
<rect x="63.60" y="786.68" width="6.80" height="6.80" fill="#ff0000" />
<line x1="102.62" y1="793.31" x2="102.62" y2="803.01" stroke="#ff0000" stroke-width="1.6" />
<line x1="99.42" y1="793.31" x2="105.82" y2="793.31" stroke="#ff0000" stroke-width="1.5" />
<line x1="99.42" y1="803.01" x2="105.82" y2="803.01" stroke="#ff0000" stroke-width="1.5" />
<rect x="99.22" y="794.76" width="6.80" height="6.80" fill="#ff0000" />
<rect x="126.16" y="806.48" width="6.80" height="6.80" fill="#ff0000" />
<line x1="156.50" y1="813.65" x2="156.50" y2="832.51" stroke="#ff0000" stroke-width="1.6" />
<line x1="153.30" y1="813.65" x2="159.70" y2="813.65" stroke="#ff0000" stroke-width="1.5" />
<line x1="153.30" y1="832.51" x2="159.70" y2="832.51" stroke="#ff0000" stroke-width="1.5" />
<rect x="153.10" y="819.68" width="6.80" height="6.80" fill="#ff0000" />
<line x1="192.12" y1="822.67" x2="192.12" y2="832.91" stroke="#ff0000" stroke-width="1.6" />
<line x1="188.92" y1="822.67" x2="195.32" y2="822.67" stroke="#ff0000" stroke-width="1.5" />
<line x1="188.92" y1="832.91" x2="195.32" y2="832.91" stroke="#ff0000" stroke-width="1.5" />
<rect x="188.72" y="824.39" width="6.80" height="6.80" fill="#ff0000" />
<rect x="215.66" y="886.89" width="6.80" height="6.80" fill="#ff0000" />
<rect x="242.60" y="904.40" width="6.80" height="6.80" fill="#ff0000" />
<rect x="258.36" y="903.60" width="6.80" height="6.80" fill="#ff0000" />
<rect x="278.22" y="902.25" width="6.80" height="6.80" fill="#ff0000" />
<line x1="75.00" y1="879.20" x2="92.60" y2="879.20" stroke="#0000ff" stroke-width="1.8" />
<circle cx="83.8" cy="879.2" r="3.4" fill="#0000ff"/>
<text x="102.60" y="883.50" font-size="9.8" fill="#222" textLength="71.40" lengthAdjust="spacing" >HCT116-par</text>
<line x1="75.00" y1="901.00" x2="92.60" y2="901.00" stroke="#ff0000" stroke-width="1.8" />
<rect x="80.60" y="897.80" width="6.40" height="6.40" fill="#ff0000" />
<text x="102.60" y="905.30" font-size="9.8" fill="#222" textLength="70.69" lengthAdjust="spacing" >HCT116-res</text>
<text x="367.80" y="499.90" font-size="21" font-weight="bold" >E</text>
<line x1="462.50" y1="491.80" x2="462.50" y2="680.60" stroke="#000" stroke-width="2" />
<line x1="461.50" y1="679.60" x2="583.50" y2="679.60" stroke="#000" stroke-width="2" />
<line x1="457.50" y1="679.60" x2="462.50" y2="679.60" stroke="#000" stroke-width="1.5" />
<text x="456.00" y="682.90" font-size="9" font-weight="bold" text-anchor="end" letter-spacing="0.6">0</text>
<line x1="460.00" y1="673.34" x2="462.50" y2="673.34" stroke="#000" stroke-width="1.1" />
<line x1="460.00" y1="667.08" x2="462.50" y2="667.08" stroke="#000" stroke-width="1.1" />
<line x1="460.00" y1="660.82" x2="462.50" y2="660.82" stroke="#000" stroke-width="1.1" />
<line x1="460.00" y1="654.56" x2="462.50" y2="654.56" stroke="#000" stroke-width="1.1" />
<line x1="460.00" y1="648.30" x2="462.50" y2="648.30" stroke="#000" stroke-width="1.1" />
<line x1="460.00" y1="642.04" x2="462.50" y2="642.04" stroke="#000" stroke-width="1.1" />
<line x1="460.00" y1="635.78" x2="462.50" y2="635.78" stroke="#000" stroke-width="1.1" />
<line x1="460.00" y1="629.52" x2="462.50" y2="629.52" stroke="#000" stroke-width="1.1" />
<line x1="460.00" y1="623.26" x2="462.50" y2="623.26" stroke="#000" stroke-width="1.1" />
<line x1="457.50" y1="617.00" x2="462.50" y2="617.00" stroke="#000" stroke-width="1.5" />
<text x="456.00" y="620.30" font-size="9" font-weight="bold" text-anchor="end" letter-spacing="0.6">10</text>
<line x1="460.00" y1="610.74" x2="462.50" y2="610.74" stroke="#000" stroke-width="1.1" />
<line x1="460.00" y1="604.48" x2="462.50" y2="604.48" stroke="#000" stroke-width="1.1" />
<line x1="460.00" y1="598.22" x2="462.50" y2="598.22" stroke="#000" stroke-width="1.1" />
<line x1="460.00" y1="591.96" x2="462.50" y2="591.96" stroke="#000" stroke-width="1.1" />
<line x1="460.00" y1="585.70" x2="462.50" y2="585.70" stroke="#000" stroke-width="1.1" />
<line x1="460.00" y1="579.44" x2="462.50" y2="579.44" stroke="#000" stroke-width="1.1" />
<line x1="460.00" y1="573.18" x2="462.50" y2="573.18" stroke="#000" stroke-width="1.1" />
<line x1="460.00" y1="566.92" x2="462.50" y2="566.92" stroke="#000" stroke-width="1.1" />
<line x1="460.00" y1="560.66" x2="462.50" y2="560.66" stroke="#000" stroke-width="1.1" />
<line x1="457.50" y1="554.40" x2="462.50" y2="554.40" stroke="#000" stroke-width="1.5" />
<text x="456.00" y="557.70" font-size="9" font-weight="bold" text-anchor="end" letter-spacing="0.6">20</text>
<line x1="460.00" y1="548.14" x2="462.50" y2="548.14" stroke="#000" stroke-width="1.1" />
<line x1="460.00" y1="541.88" x2="462.50" y2="541.88" stroke="#000" stroke-width="1.1" />
<line x1="460.00" y1="535.62" x2="462.50" y2="535.62" stroke="#000" stroke-width="1.1" />
<line x1="460.00" y1="529.36" x2="462.50" y2="529.36" stroke="#000" stroke-width="1.1" />
<line x1="460.00" y1="523.10" x2="462.50" y2="523.10" stroke="#000" stroke-width="1.1" />
<line x1="460.00" y1="516.84" x2="462.50" y2="516.84" stroke="#000" stroke-width="1.1" />
<line x1="460.00" y1="510.58" x2="462.50" y2="510.58" stroke="#000" stroke-width="1.1" />
<line x1="460.00" y1="504.32" x2="462.50" y2="504.32" stroke="#000" stroke-width="1.1" />
<line x1="460.00" y1="498.06" x2="462.50" y2="498.06" stroke="#000" stroke-width="1.1" />
<line x1="457.50" y1="491.80" x2="462.50" y2="491.80" stroke="#000" stroke-width="1.5" />
<text x="456.00" y="495.10" font-size="9" font-weight="bold" text-anchor="end" letter-spacing="0.6">30</text>
<line x1="497.30" y1="679.60" x2="497.30" y2="684.60" stroke="#000" stroke-width="1.5" />
<line x1="549.10" y1="679.60" x2="549.10" y2="684.60" stroke="#000" stroke-width="1.5" />
<text x="470.80" y="497.30" font-size="13.7" font-weight="bold" textLength="80.20" lengthAdjust="spacing" >CB-5083</text>
<rect x="480.70" y="676.47" width="33.60" height="3.13" fill="#0000ff" />
<line x1="497.50" y1="674.59" x2="497.50" y2="676.47" stroke="#0000ff" stroke-width="1.5" />
<line x1="490.00" y1="674.59" x2="505.00" y2="674.59" stroke="#0000ff" stroke-width="1.5" />
<rect x="532.00" y="559.41" width="34.00" height="120.19" fill="#ff0000" />
<line x1="549.10" y1="527.48" x2="549.10" y2="559.41" stroke="#ff0000" stroke-width="2" />
<line x1="540.80" y1="527.48" x2="557.80" y2="527.48" stroke="#ff0000" stroke-width="2" />
<rect x="581.50" y="523.30" width="16.70" height="8.00" fill="#0000ff" />
<text x="606.50" y="530.50" font-size="8.5" font-weight="bold" textLength="68.50" lengthAdjust="spacing" >HCT116-par</text>
<rect x="581.50" y="543.50" width="16.70" height="8.00" fill="#ff0000" />
<text x="606.50" y="550.70" font-size="8.5" font-weight="bold" textLength="67.47" lengthAdjust="spacing" >HCT116-res</text>
<text transform="translate(435.5,586) rotate(-90)" font-size="12.3" font-weight="bold" text-anchor="middle" letter-spacing="1.7">GI<tspan font-size="9" dy="3.3">50</tspan><tspan dy="-3.3"> [μM]</tspan></text>
<text x="367.10" y="741.80" font-size="21" font-weight="bold" >G</text>
<line x1="437.20" y1="736.61" x2="437.20" y2="924.60" stroke="#000" stroke-width="2" />
<line x1="436.20" y1="923.60" x2="551.90" y2="923.60" stroke="#000" stroke-width="2" />
<line x1="433.20" y1="923.60" x2="437.20" y2="923.60" stroke="#000" stroke-width="1.5" />
<text x="431.50" y="926.60" font-size="8" font-weight="bold" text-anchor="end" >0</text>
<line x1="433.20" y1="861.27" x2="437.20" y2="861.27" stroke="#000" stroke-width="1.5" />
<text x="431.50" y="864.27" font-size="8" font-weight="bold" text-anchor="end" >1</text>
<line x1="433.20" y1="798.94" x2="437.20" y2="798.94" stroke="#000" stroke-width="1.5" />
<text x="431.50" y="801.94" font-size="8" font-weight="bold" text-anchor="end" >2</text>
<line x1="433.20" y1="736.61" x2="437.20" y2="736.61" stroke="#000" stroke-width="1.5" />
<text x="431.50" y="739.61" font-size="8" font-weight="bold" text-anchor="end" >3</text>
<line x1="469.60" y1="923.60" x2="469.60" y2="928.60" stroke="#000" stroke-width="1.5" />
<line x1="518.70" y1="923.60" x2="518.70" y2="928.60" stroke="#000" stroke-width="1.5" />
<text x="449.00" y="740.60" font-size="13.5" font-weight="bold" textLength="83.00" lengthAdjust="spacing" >NMS-873</text>
<rect x="453.00" y="774.01" width="32.90" height="149.59" fill="#0000ff" />
<line x1="469.60" y1="767.15" x2="469.60" y2="774.01" stroke="#0000ff" stroke-width="2" />
<line x1="462.00" y1="767.15" x2="477.20" y2="767.15" stroke="#0000ff" stroke-width="2" />
<rect x="502.50" y="766.53" width="32.80" height="157.07" fill="#ff0000" />
<line x1="518.70" y1="758.43" x2="518.70" y2="766.53" stroke="#ff0000" stroke-width="2" />
<line x1="511.00" y1="758.43" x2="526.40" y2="758.43" stroke="#ff0000" stroke-width="2" />
<rect x="550.00" y="755.50" width="15.70" height="8.00" fill="#0000ff" />
<text x="573.60" y="762.70" font-size="8.5" font-weight="bold" textLength="65.30" lengthAdjust="spacing" >HCT116-par</text>
<rect x="550.00" y="774.50" width="15.70" height="8.00" fill="#ff0000" />
<text x="573.60" y="781.70" font-size="8.5" font-weight="bold" textLength="64.32" lengthAdjust="spacing" >HCT116-res</text>
<text transform="translate(415.5,830.5) rotate(-90)" font-size="11" font-weight="bold" text-anchor="middle" letter-spacing="1.5">GI<tspan font-size="8" dy="3">50</tspan><tspan dy="-3"> [μM]</tspan></text>
<text x="-1.40" y="999.70" font-size="21" font-weight="bold" >H</text>
<g>
<rect x="34.50" y="980.50" width="149.00" height="71.00" fill="#fff" stroke="#444" stroke-width="1" />
<clipPath id="c500"><rect x="34.5" y="980.5" width="149.0" height="71.0"/></clipPath>
<g clip-path="url(#c500)">
<text x="36.00" y="986.30" font-size="5.8" fill="#111" textLength="146.50" lengthAdjust="spacingAndGlyphs" >HCT116_CB0_VCP_Ex13-Ex13R Fragment base #1</text>
<text x="40.30" y="994.50" font-size="7.6" fill="#222" text-anchor="middle" stroke="#222" stroke-width="0.15">A</text>
<text x="58.20" y="994.50" font-size="7.6" fill="#222" text-anchor="middle" stroke="#222" stroke-width="0.15">C</text>
<text x="76.50" y="994.50" font-size="7.6" fill="#222" text-anchor="middle" stroke="#222" stroke-width="0.15">T</text>
<text x="93.10" y="994.50" font-size="7.6" fill="#222" text-anchor="middle" stroke="#222" stroke-width="0.15">T</text>
<text x="110.50" y="994.50" font-size="7.6" fill="#222" text-anchor="middle" stroke="#222" stroke-width="0.15">T</text>
<text x="125.00" y="994.50" font-size="7.6" fill="#222" text-anchor="middle" stroke="#222" stroke-width="0.15">G</text>
<text x="142.10" y="994.50" font-size="7.6" fill="#222" text-anchor="middle" stroke="#222" stroke-width="0.15">T</text>
<text x="158.20" y="994.50" font-size="7.6" fill="#222" text-anchor="middle" stroke="#222" stroke-width="0.15">T</text>
<text x="173.50" y="994.50" font-size="7.6" fill="#222" text-anchor="middle" stroke="#222" stroke-width="0.15">G</text>
<line x1="34.50" y1="995.50" x2="183.50" y2="995.50" stroke="#555" stroke-width="1" />
<text x="40.30" y="1002.80" font-size="9.2" font-weight="bold" fill="#b83a3a" text-anchor="middle" font-family="Liberation Mono, monospace" stroke="#b83a3a" stroke-width="0.45" transform="translate(40.30 1002.80) scale(0.72 1) translate(-40.30 -1002.80)">T</text>
<text x="58.20" y="1002.80" font-size="9.2" font-weight="bold" fill="#222222" text-anchor="middle" font-family="Liberation Mono, monospace" stroke="#222222" stroke-width="0.45" transform="translate(58.20 1002.80) scale(0.72 1) translate(-58.20 -1002.80)">J</text>
<text x="76.50" y="1002.80" font-size="9.2" font-weight="bold" fill="#3f9a4f" text-anchor="middle" font-family="Liberation Mono, monospace" stroke="#3f9a4f" stroke-width="0.45" transform="translate(76.50 1002.80) scale(0.72 1) translate(-76.50 -1002.80)">A</text>
<text x="93.10" y="1002.80" font-size="9.2" font-weight="bold" fill="#3f9a4f" text-anchor="middle" font-family="Liberation Mono, monospace" stroke="#3f9a4f" stroke-width="0.45" transform="translate(93.10 1002.80) scale(0.72 1) translate(-93.10 -1002.80)">A</text>
<text x="110.50" y="1002.80" font-size="9.2" font-weight="bold" fill="#3f9a4f" text-anchor="middle" font-family="Liberation Mono, monospace" stroke="#3f9a4f" stroke-width="0.45" transform="translate(110.50 1002.80) scale(0.72 1) translate(-110.50 -1002.80)">A</text>
<text x="125.00" y="1002.80" font-size="9.2" font-weight="bold" fill="#2b2ba0" text-anchor="middle" font-family="Liberation Mono, monospace" stroke="#2b2ba0" stroke-width="0.45" transform="translate(125.00 1002.80) scale(0.72 1) translate(-125.00 -1002.80)">J</text>
<text x="142.10" y="1002.80" font-size="9.2" font-weight="bold" fill="#3f9a4f" text-anchor="middle" font-family="Liberation Mono, monospace" stroke="#3f9a4f" stroke-width="0.45" transform="translate(142.10 1002.80) scale(0.72 1) translate(-142.10 -1002.80)">A</text>
<text x="158.20" y="1002.80" font-size="9.2" font-weight="bold" fill="#3f9a4f" text-anchor="middle" font-family="Liberation Mono, monospace" stroke="#3f9a4f" stroke-width="0.45" transform="translate(158.20 1002.80) scale(0.72 1) translate(-158.20 -1002.80)">A</text>
<text x="173.50" y="1002.80" font-size="9.2" font-weight="bold" fill="#2b2ba0" text-anchor="middle" font-family="Liberation Mono, monospace" stroke="#2b2ba0" stroke-width="0.45" transform="translate(173.50 1002.80) scale(0.72 1) translate(-173.50 -1002.80)">J</text>
<polyline points="34.5,1043.0 35.0,1041.3 35.5,1039.5 36.0,1037.6 36.5,1035.7 37.0,1034.0 37.5,1032.4 38.0,1031.1 38.5,1030.0 39.0,1029.4 39.5,1029.2 40.0,1029.4 40.5,1030.0 41.0,1031.1 41.5,1032.4 42.0,1034.0 42.5,1035.7 43.0,1037.6 43.5,1039.5 44.0,1041.3 44.5,1043.0 45.0,1044.6 45.5,1045.9 46.0,1047.1 46.5,1048.1 47.0,1049.0 47.5,1049.6 48.0,1050.1 48.5,1050.5 49.0,1050.8 49.5,1051.0 50.0,1051.2 50.5,1051.3 51.0,1051.4 51.5,1051.4 52.0,1051.4 52.5,1051.5 53.0,1051.5 53.5,1051.5 54.0,1051.5 54.5,1051.5 55.0,1051.5 55.5,1051.5 56.0,1051.5 56.5,1051.5 57.0,1051.5 57.5,1051.5 58.0,1051.5 58.5,1051.5 59.0,1051.5 59.5,1051.5 60.0,1051.5 60.5,1051.5 61.0,1051.5 61.5,1051.5 62.0,1051.5 62.5,1051.5 63.0,1051.5 63.5,1051.5 64.0,1051.5 64.5,1051.5 65.0,1051.5 65.5,1051.5 66.0,1051.5 66.5,1051.5 67.0,1051.5 67.5,1051.5 68.0,1051.5 68.5,1051.5 69.0,1051.5 69.5,1051.5 70.0,1051.5 70.5,1051.5 71.0,1051.5 71.5,1051.5 72.0,1051.5 72.5,1051.5 73.0,1051.5 73.5,1051.5 74.0,1051.5 74.5,1051.5 75.0,1051.5 75.5,1051.5 76.0,1051.5 76.5,1051.5 77.0,1051.5 77.5,1051.5 78.0,1051.5 78.5,1051.5 79.0,1051.5 79.5,1051.5 80.0,1051.5 80.5,1051.5 81.0,1051.5 81.5,1051.5 82.0,1051.5 82.5,1051.5 83.0,1051.5 83.5,1051.5 84.0,1051.5 84.5,1051.5 85.0,1051.5 85.5,1051.5 86.0,1051.5 86.5,1051.5 87.0,1051.5 87.5,1051.5 88.0,1051.5 88.5,1051.5 89.0,1051.5 89.5,1051.5 90.0,1051.5 90.5,1051.5 91.0,1051.5 91.5,1051.5 92.0,1051.5 92.5,1051.5 93.0,1051.5 93.5,1051.5 94.0,1051.5 94.5,1051.5 95.0,1051.5 95.5,1051.5 96.0,1051.5 96.5,1051.5 97.0,1051.5 97.5,1051.5 98.0,1051.5 98.5,1051.5 99.0,1051.5 99.5,1051.5 100.0,1051.5 100.5,1051.5 101.0,1051.5 101.5,1051.5 102.0,1051.5 102.5,1051.5 103.0,1051.5 103.5,1051.5 104.0,1051.5 104.5,1051.5 105.0,1051.5 105.5,1051.5 106.0,1051.5 106.5,1051.5 107.0,1051.5 107.5,1051.5 108.0,1051.5 108.5,1051.5 109.0,1051.5 109.5,1051.5 110.0,1051.5 110.5,1051.5 111.0,1051.5 111.5,1051.5 112.0,1051.5 112.5,1051.5 113.0,1051.5 113.5,1051.5 114.0,1051.5 114.5,1051.5 115.0,1051.5 115.5,1051.5 116.0,1051.5 116.5,1051.5 117.0,1051.5 117.5,1051.5 118.0,1051.5 118.5,1051.5 119.0,1051.5 119.5,1051.5 120.0,1051.5 120.5,1051.5 121.0,1051.5 121.5,1051.5 122.0,1051.5 122.5,1051.5 123.0,1051.5 123.5,1051.5 124.0,1051.5 124.5,1051.5 125.0,1051.5 125.5,1051.5 126.0,1051.5 126.5,1051.5 127.0,1051.5 127.5,1051.5 128.0,1051.5 128.5,1051.5 129.0,1051.5 129.5,1051.5 130.0,1051.5 130.5,1051.5 131.0,1051.5 131.5,1051.5 132.0,1051.5 132.5,1051.5 133.0,1051.5 133.5,1051.5 134.0,1051.5 134.5,1051.5 135.0,1051.5 135.5,1051.5 136.0,1051.5 136.5,1051.5 137.0,1051.5 137.5,1051.5 138.0,1051.5 138.5,1051.5 139.0,1051.5 139.5,1051.5 140.0,1051.5 140.5,1051.5 141.0,1051.5 141.5,1051.5 142.0,1051.5 142.5,1051.5 143.0,1051.5 143.5,1051.5 144.0,1051.5 144.5,1051.5 145.0,1051.5 145.5,1051.5 146.0,1051.5 146.5,1051.5 147.0,1051.5 147.5,1051.5 148.0,1051.5 148.5,1051.5 149.0,1051.5 149.5,1051.5 150.0,1051.5 150.5,1051.5 151.0,1051.5 151.5,1051.5 152.0,1051.5 152.5,1051.5 153.0,1051.5 153.5,1051.5 154.0,1051.5 154.5,1051.5 155.0,1051.5 155.5,1051.5 156.0,1051.5 156.5,1051.5 157.0,1051.5 157.5,1051.5 158.0,1051.5 158.5,1051.5 159.0,1051.5 159.5,1051.5 160.0,1051.5 160.5,1051.5 161.0,1051.5 161.5,1051.5 162.0,1051.5 162.5,1051.5 163.0,1051.5 163.5,1051.5 164.0,1051.5 164.5,1051.5 165.0,1051.5 165.5,1051.5 166.0,1051.5 166.5,1051.5 167.0,1051.5 167.5,1051.5 168.0,1051.5 168.5,1051.5 169.0,1051.5 169.5,1051.5 170.0,1051.5 170.5,1051.5 171.0,1051.5 171.5,1051.5 172.0,1051.5 172.5,1051.5 173.0,1051.5 173.5,1051.5 174.0,1051.5 174.5,1051.5 175.0,1051.5 175.5,1051.5 176.0,1051.5 176.5,1051.5 177.0,1051.5 177.5,1051.5 178.0,1051.5 178.5,1051.5 179.0,1051.5 179.5,1051.5 180.0,1051.5 180.5,1051.5 181.0,1051.5 181.5,1051.5 182.0,1051.5 182.5,1051.5 183.0,1051.5 183.5,1051.5" fill="none" stroke="#62a070" stroke-width="0.85"/>
<polyline points="34.5,1051.5 35.0,1051.5 35.5,1051.5 36.0,1051.5 36.5,1051.5 37.0,1051.5 37.5,1051.5 38.0,1051.5 38.5,1051.5 39.0,1051.5 39.5,1051.5 40.0,1051.5 40.5,1051.5 41.0,1051.5 41.5,1051.5 42.0,1051.5 42.5,1051.5 43.0,1051.5 43.5,1051.5 44.0,1051.5 44.5,1051.5 45.0,1051.5 45.5,1051.5 46.0,1051.4 46.5,1051.4 47.0,1051.3 47.5,1051.2 48.0,1051.1 48.5,1050.9 49.0,1050.6 49.5,1050.2 50.0,1049.7 50.5,1049.1 51.0,1048.2 51.5,1047.2 52.0,1046.0 52.5,1044.6 53.0,1043.0 53.5,1041.2 54.0,1039.3 54.5,1037.3 55.0,1035.3 55.5,1033.3 56.0,1031.5 56.5,1029.9 57.0,1028.7 57.5,1027.9 58.0,1027.4 58.5,1027.5 59.0,1028.0 59.5,1028.9 60.0,1030.2 60.5,1031.8 61.0,1033.7 61.5,1035.7 62.0,1037.7 62.5,1039.7 63.0,1041.6 63.5,1043.3 64.0,1044.9 64.5,1046.3 65.0,1047.5 65.5,1048.4 66.0,1049.2 66.5,1049.8 67.0,1050.3 67.5,1050.6 68.0,1050.9 68.5,1051.1 69.0,1051.2 69.5,1051.3 70.0,1051.4 70.5,1051.4 71.0,1051.5 71.5,1051.5 72.0,1051.5 72.5,1051.5 73.0,1051.5 73.5,1051.5 74.0,1051.5 74.5,1051.5 75.0,1051.5 75.5,1051.5 76.0,1051.5 76.5,1051.5 77.0,1051.5 77.5,1051.5 78.0,1051.5 78.5,1051.5 79.0,1051.5 79.5,1051.5 80.0,1051.5 80.5,1051.5 81.0,1051.5 81.5,1051.5 82.0,1051.5 82.5,1051.5 83.0,1051.5 83.5,1051.5 84.0,1051.5 84.5,1051.5 85.0,1051.5 85.5,1051.5 86.0,1051.5 86.5,1051.5 87.0,1051.5 87.5,1051.5 88.0,1051.5 88.5,1051.5 89.0,1051.5 89.5,1051.5 90.0,1051.5 90.5,1051.5 91.0,1051.5 91.5,1051.5 92.0,1051.5 92.5,1051.5 93.0,1051.5 93.5,1051.5 94.0,1051.5 94.5,1051.5 95.0,1051.5 95.5,1051.5 96.0,1051.5 96.5,1051.5 97.0,1051.5 97.5,1051.5 98.0,1051.5 98.5,1051.5 99.0,1051.5 99.5,1051.5 100.0,1051.5 100.5,1051.5 101.0,1051.5 101.5,1051.5 102.0,1051.5 102.5,1051.5 103.0,1051.5 103.5,1051.5 104.0,1051.5 104.5,1051.5 105.0,1051.5 105.5,1051.5 106.0,1051.5 106.5,1051.5 107.0,1051.5 107.5,1051.5 108.0,1051.5 108.5,1051.5 109.0,1051.5 109.5,1051.5 110.0,1051.5 110.5,1051.5 111.0,1051.5 111.5,1051.5 112.0,1051.5 112.5,1051.5 113.0,1051.5 113.5,1051.5 114.0,1051.5 114.5,1051.5 115.0,1051.5 115.5,1051.5 116.0,1051.5 116.5,1051.5 117.0,1051.5 117.5,1051.5 118.0,1051.5 118.5,1051.5 119.0,1051.5 119.5,1051.5 120.0,1051.5 120.5,1051.5 121.0,1051.5 121.5,1051.5 122.0,1051.5 122.5,1051.5 123.0,1051.5 123.5,1051.5 124.0,1051.5 124.5,1051.5 125.0,1051.5 125.5,1051.5 126.0,1051.5 126.5,1051.5 127.0,1051.5 127.5,1051.5 128.0,1051.5 128.5,1051.5 129.0,1051.5 129.5,1051.5 130.0,1051.5 130.5,1051.5 131.0,1051.5 131.5,1051.5 132.0,1051.5 132.5,1051.5 133.0,1051.5 133.5,1051.5 134.0,1051.5 134.5,1051.5 135.0,1051.5 135.5,1051.5 136.0,1051.5 136.5,1051.5 137.0,1051.5 137.5,1051.5 138.0,1051.5 138.5,1051.5 139.0,1051.5 139.5,1051.5 140.0,1051.5 140.5,1051.5 141.0,1051.5 141.5,1051.5 142.0,1051.5 142.5,1051.5 143.0,1051.5 143.5,1051.5 144.0,1051.5 144.5,1051.5 145.0,1051.5 145.5,1051.5 146.0,1051.5 146.5,1051.5 147.0,1051.5 147.5,1051.5 148.0,1051.5 148.5,1051.5 149.0,1051.5 149.5,1051.5 150.0,1051.5 150.5,1051.5 151.0,1051.5 151.5,1051.5 152.0,1051.5 152.5,1051.5 153.0,1051.5 153.5,1051.5 154.0,1051.5 154.5,1051.5 155.0,1051.5 155.5,1051.5 156.0,1051.5 156.5,1051.5 157.0,1051.5 157.5,1051.5 158.0,1051.5 158.5,1051.5 159.0,1051.5 159.5,1051.5 160.0,1051.5 160.5,1051.5 161.0,1051.5 161.5,1051.5 162.0,1051.5 162.5,1051.5 163.0,1051.5 163.5,1051.5 164.0,1051.5 164.5,1051.5 165.0,1051.5 165.5,1051.5 166.0,1051.5 166.5,1051.5 167.0,1051.5 167.5,1051.5 168.0,1051.5 168.5,1051.5 169.0,1051.5 169.5,1051.5 170.0,1051.5 170.5,1051.5 171.0,1051.5 171.5,1051.5 172.0,1051.5 172.5,1051.5 173.0,1051.5 173.5,1051.5 174.0,1051.5 174.5,1051.5 175.0,1051.5 175.5,1051.5 176.0,1051.5 176.5,1051.5 177.0,1051.5 177.5,1051.5 178.0,1051.5 178.5,1051.5 179.0,1051.5 179.5,1051.5 180.0,1051.5 180.5,1051.5 181.0,1051.5 181.5,1051.5 182.0,1051.5 182.5,1051.5 183.0,1051.5 183.5,1051.5" fill="none" stroke="#3a3a3a" stroke-width="0.85"/>
<polyline points="34.5,1051.5 35.0,1051.5 35.5,1051.5 36.0,1051.5 36.5,1051.5 37.0,1051.5 37.5,1051.5 38.0,1051.5 38.5,1051.5 39.0,1051.5 39.5,1051.5 40.0,1051.5 40.5,1051.5 41.0,1051.5 41.5,1051.5 42.0,1051.5 42.5,1051.5 43.0,1051.5 43.5,1051.5 44.0,1051.5 44.5,1051.5 45.0,1051.5 45.5,1051.5 46.0,1051.5 46.5,1051.5 47.0,1051.5 47.5,1051.5 48.0,1051.5 48.5,1051.5 49.0,1051.5 49.5,1051.5 50.0,1051.5 50.5,1051.5 51.0,1051.5 51.5,1051.5 52.0,1051.5 52.5,1051.5 53.0,1051.5 53.5,1051.5 54.0,1051.5 54.5,1051.5 55.0,1051.5 55.5,1051.5 56.0,1051.5 56.5,1051.5 57.0,1051.5 57.5,1051.5 58.0,1051.5 58.5,1051.5 59.0,1051.5 59.5,1051.5 60.0,1051.5 60.5,1051.5 61.0,1051.5 61.5,1051.5 62.0,1051.5 62.5,1051.5 63.0,1051.4 63.5,1051.4 64.0,1051.3 64.5,1051.3 65.0,1051.1 65.5,1051.0 66.0,1050.7 66.5,1050.4 67.0,1049.9 67.5,1049.3 68.0,1048.6 68.5,1047.6 69.0,1046.5 69.5,1045.1 70.0,1043.6 70.5,1041.8 71.0,1039.8 71.5,1037.7 72.0,1035.6 72.5,1033.5 73.0,1031.5 73.5,1029.6 74.0,1028.1 74.5,1027.0 75.0,1026.2 75.5,1026.0 76.0,1026.2 76.5,1027.0 77.0,1028.1 77.5,1029.6 78.0,1031.5 78.5,1033.5 79.0,1035.6 79.5,1037.7 80.0,1039.8 80.5,1041.7 81.0,1043.5 81.5,1045.0 82.0,1046.3 82.5,1047.4 83.0,1048.2 83.5,1048.7 84.0,1049.0 84.5,1049.1 85.0,1049.0 85.5,1048.6 86.0,1048.0 86.5,1047.1 87.0,1046.1 87.5,1044.8 88.0,1043.3 88.5,1041.7 89.0,1039.9 89.5,1038.1 90.0,1036.2 90.5,1034.5 91.0,1032.9 91.5,1031.5 92.0,1030.4 92.5,1029.7 93.0,1029.4 93.5,1029.5 94.0,1030.1 94.5,1031.0 95.0,1032.3 95.5,1033.8 96.0,1035.5 96.5,1037.3 97.0,1039.2 97.5,1041.0 98.0,1042.7 98.5,1044.2 99.0,1045.5 99.5,1046.6 100.0,1047.5 100.5,1048.1 101.0,1048.5 101.5,1048.6 102.0,1048.5 102.5,1048.2 103.0,1047.6 103.5,1046.8 104.0,1045.8 104.5,1044.7 105.0,1043.3 105.5,1041.8 106.0,1040.3 106.5,1038.7 107.0,1037.1 107.5,1035.7 108.0,1034.5 108.5,1033.5 109.0,1032.9 109.5,1032.5 110.0,1032.6 110.5,1033.0 111.0,1033.7 111.5,1034.7 112.0,1036.0 112.5,1037.5 113.0,1039.0 113.5,1040.6 114.0,1042.2 114.5,1043.7 115.0,1045.1 115.5,1046.3 116.0,1047.4 116.5,1048.3 117.0,1049.1 117.5,1049.7 118.0,1050.2 118.5,1050.5 119.0,1050.8 119.5,1051.0 120.0,1051.2 120.5,1051.3 121.0,1051.4 121.5,1051.4 122.0,1051.4 122.5,1051.5 123.0,1051.5 123.5,1051.5 124.0,1051.5 124.5,1051.5 125.0,1051.5 125.5,1051.5 126.0,1051.5 126.5,1051.5 127.0,1051.5 127.5,1051.5 128.0,1051.5 128.5,1051.5 129.0,1051.4 129.5,1051.4 130.0,1051.3 130.5,1051.2 131.0,1051.1 131.5,1050.9 132.0,1050.6 132.5,1050.2 133.0,1049.8 133.5,1049.2 134.0,1048.4 134.5,1047.5 135.0,1046.4 135.5,1045.2 136.0,1043.8 136.5,1042.2 137.0,1040.6 137.5,1038.8 138.0,1037.2 138.5,1035.5 139.0,1034.1 139.5,1032.9 140.0,1032.0 140.5,1031.4 141.0,1031.2 141.5,1031.4 142.0,1032.0 142.5,1032.9 143.0,1034.1 143.5,1035.5 144.0,1037.1 144.5,1038.8 145.0,1040.5 145.5,1042.2 146.0,1043.7 146.5,1045.1 147.0,1046.3 147.5,1047.3 148.0,1048.1 148.5,1048.6 149.0,1049.0 149.5,1049.1 150.0,1049.1 150.5,1048.8 151.0,1048.3 151.5,1047.5 152.0,1046.6 152.5,1045.4 153.0,1044.1 153.5,1042.6 154.0,1040.9 154.5,1039.2 155.0,1037.5 155.5,1035.8 156.0,1034.2 156.5,1032.9 157.0,1031.8 157.5,1031.1 158.0,1030.7 158.5,1030.8 159.0,1031.2 159.5,1032.0 160.0,1033.1 160.5,1034.5 161.0,1036.1 161.5,1037.8 162.0,1039.6 162.5,1041.3 163.0,1042.9 163.5,1044.5 164.0,1045.8 164.5,1047.0 165.0,1048.0 165.5,1048.8 166.0,1049.5 166.5,1050.0 167.0,1050.5 167.5,1050.8 168.0,1051.0 168.5,1051.2 169.0,1051.3 169.5,1051.3 170.0,1051.4 170.5,1051.4 171.0,1051.5 171.5,1051.5 172.0,1051.5 172.5,1051.5 173.0,1051.5 173.5,1051.5 174.0,1051.5 174.5,1051.5 175.0,1051.5 175.5,1051.5 176.0,1051.5 176.5,1051.5 177.0,1051.5 177.5,1051.5 178.0,1051.5 178.5,1051.5 179.0,1051.5 179.5,1051.5 180.0,1051.5 180.5,1051.5 181.0,1051.5 181.5,1051.5 182.0,1051.5 182.5,1051.5 183.0,1051.5 183.5,1051.5" fill="none" stroke="#b06060" stroke-width="0.85"/>
<polyline points="34.5,1051.5 35.0,1051.5 35.5,1051.5 36.0,1051.5 36.5,1051.5 37.0,1051.5 37.5,1051.5 38.0,1051.5 38.5,1051.5 39.0,1051.5 39.5,1051.5 40.0,1051.5 40.5,1051.5 41.0,1051.5 41.5,1051.5 42.0,1051.5 42.5,1051.5 43.0,1051.5 43.5,1051.5 44.0,1051.5 44.5,1051.5 45.0,1051.5 45.5,1051.5 46.0,1051.5 46.5,1051.5 47.0,1051.5 47.5,1051.5 48.0,1051.5 48.5,1051.5 49.0,1051.5 49.5,1051.5 50.0,1051.5 50.5,1051.5 51.0,1051.5 51.5,1051.5 52.0,1051.5 52.5,1051.5 53.0,1051.5 53.5,1051.5 54.0,1051.5 54.5,1051.5 55.0,1051.5 55.5,1051.5 56.0,1051.5 56.5,1051.5 57.0,1051.5 57.5,1051.5 58.0,1051.5 58.5,1051.5 59.0,1051.5 59.5,1051.5 60.0,1051.5 60.5,1051.5 61.0,1051.5 61.5,1051.5 62.0,1051.5 62.5,1051.5 63.0,1051.5 63.5,1051.5 64.0,1051.5 64.5,1051.5 65.0,1051.5 65.5,1051.5 66.0,1051.5 66.5,1051.5 67.0,1051.5 67.5,1051.5 68.0,1051.5 68.5,1051.5 69.0,1051.5 69.5,1051.5 70.0,1051.5 70.5,1051.5 71.0,1051.5 71.5,1051.5 72.0,1051.5 72.5,1051.5 73.0,1051.5 73.5,1051.5 74.0,1051.5 74.5,1051.5 75.0,1051.5 75.5,1051.5 76.0,1051.5 76.5,1051.5 77.0,1051.5 77.5,1051.5 78.0,1051.5 78.5,1051.5 79.0,1051.5 79.5,1051.5 80.0,1051.5 80.5,1051.5 81.0,1051.5 81.5,1051.5 82.0,1051.5 82.5,1051.5 83.0,1051.5 83.5,1051.5 84.0,1051.5 84.5,1051.5 85.0,1051.5 85.5,1051.5 86.0,1051.5 86.5,1051.5 87.0,1051.5 87.5,1051.5 88.0,1051.5 88.5,1051.5 89.0,1051.5 89.5,1051.5 90.0,1051.5 90.5,1051.5 91.0,1051.5 91.5,1051.5 92.0,1051.5 92.5,1051.5 93.0,1051.5 93.5,1051.5 94.0,1051.5 94.5,1051.5 95.0,1051.5 95.5,1051.5 96.0,1051.5 96.5,1051.5 97.0,1051.5 97.5,1051.5 98.0,1051.5 98.5,1051.5 99.0,1051.5 99.5,1051.5 100.0,1051.5 100.5,1051.5 101.0,1051.5 101.5,1051.5 102.0,1051.5 102.5,1051.5 103.0,1051.5 103.5,1051.5 104.0,1051.5 104.5,1051.5 105.0,1051.5 105.5,1051.5 106.0,1051.5 106.5,1051.5 107.0,1051.5 107.5,1051.5 108.0,1051.5 108.5,1051.5 109.0,1051.5 109.5,1051.5 110.0,1051.5 110.5,1051.5 111.0,1051.5 111.5,1051.5 112.0,1051.4 112.5,1051.4 113.0,1051.3 113.5,1051.2 114.0,1051.1 114.5,1050.9 115.0,1050.6 115.5,1050.2 116.0,1049.7 116.5,1049.1 117.0,1048.2 117.5,1047.2 118.0,1046.0 118.5,1044.6 119.0,1043.0 119.5,1041.2 120.0,1039.3 120.5,1037.3 121.0,1035.3 121.5,1033.3 122.0,1031.5 122.5,1029.9 123.0,1028.7 123.5,1027.9 124.0,1027.4 124.5,1027.5 125.0,1028.0 125.5,1028.9 126.0,1030.2 126.5,1031.8 127.0,1033.7 127.5,1035.7 128.0,1037.7 128.5,1039.7 129.0,1041.6 129.5,1043.3 130.0,1044.9 130.5,1046.3 131.0,1047.5 131.5,1048.4 132.0,1049.2 132.5,1049.8 133.0,1050.3 133.5,1050.6 134.0,1050.9 134.5,1051.1 135.0,1051.2 135.5,1051.3 136.0,1051.4 136.5,1051.4 137.0,1051.5 137.5,1051.5 138.0,1051.5 138.5,1051.5 139.0,1051.5 139.5,1051.5 140.0,1051.5 140.5,1051.5 141.0,1051.5 141.5,1051.5 142.0,1051.5 142.5,1051.5 143.0,1051.5 143.5,1051.5 144.0,1051.5 144.5,1051.5 145.0,1051.5 145.5,1051.5 146.0,1051.5 146.5,1051.5 147.0,1051.5 147.5,1051.5 148.0,1051.5 148.5,1051.5 149.0,1051.5 149.5,1051.5 150.0,1051.5 150.5,1051.5 151.0,1051.5 151.5,1051.5 152.0,1051.5 152.5,1051.5 153.0,1051.5 153.5,1051.5 154.0,1051.5 154.5,1051.5 155.0,1051.5 155.5,1051.5 156.0,1051.5 156.5,1051.5 157.0,1051.5 157.5,1051.5 158.0,1051.5 158.5,1051.4 159.0,1051.4 159.5,1051.4 160.0,1051.3 160.5,1051.2 161.0,1051.0 161.5,1050.8 162.0,1050.4 162.5,1050.0 163.0,1049.4 163.5,1048.6 164.0,1047.6 164.5,1046.4 165.0,1044.8 165.5,1043.1 166.0,1041.0 166.5,1038.7 167.0,1036.2 167.5,1033.5 168.0,1030.8 168.5,1028.1 169.0,1025.6 169.5,1023.4 170.0,1021.6 170.5,1020.2 171.0,1019.4 171.5,1019.2 172.0,1019.6 172.5,1020.7 173.0,1022.2 173.5,1024.3 174.0,1026.6 174.5,1029.2 175.0,1031.9 175.5,1034.6 176.0,1037.2 176.5,1039.7 177.0,1041.9 177.5,1043.8 178.0,1045.5 178.5,1046.9 179.0,1048.0 179.5,1048.9 180.0,1049.6 180.5,1050.2 181.0,1050.6 181.5,1050.9 182.0,1051.1 182.5,1051.2 183.0,1051.3 183.5,1051.4" fill="none" stroke="#3a3a3a" stroke-width="0.85"/>
</g></g>
<g>
<rect x="34.50" y="1054.50" width="149.00" height="71.00" fill="#fff" stroke="#444" stroke-width="1" />
<clipPath id="c529"><rect x="34.5" y="1054.5" width="149.0" height="71.0"/></clipPath>
<g clip-path="url(#c529)">
<text x="36.00" y="1060.30" font-size="5.8" fill="#111" textLength="146.50" lengthAdjust="spacingAndGlyphs" >HCT116_CB9_VCP_Ex13-Ex13R Fragment base #1</text>
<text x="37.80" y="1068.50" font-size="7.6" fill="#222" text-anchor="middle" stroke="#222" stroke-width="0.15">A</text>
<text x="56.60" y="1068.50" font-size="7.6" fill="#222" text-anchor="middle" stroke="#222" stroke-width="0.15">C</text>
<text x="74.00" y="1068.50" font-size="7.6" fill="#222" text-anchor="middle" stroke="#222" stroke-width="0.15">T</text>
<text x="89.80" y="1068.50" font-size="7.6" fill="#222" text-anchor="middle" stroke="#222" stroke-width="0.15">T</text>
<text x="110.20" y="1068.50" font-size="7.6" fill="#222" text-anchor="middle" stroke="#222" stroke-width="0.15">T</text>
<text x="124.50" y="1068.50" font-size="7.6" fill="#222" text-anchor="middle" stroke="#222" stroke-width="0.15">G</text>
<text x="142.90" y="1068.50" font-size="7.6" fill="#222" text-anchor="middle" stroke="#222" stroke-width="0.15">T</text>
<text x="158.70" y="1068.50" font-size="7.6" fill="#222" text-anchor="middle" stroke="#222" stroke-width="0.15">T</text>
<text x="173.00" y="1068.50" font-size="7.6" fill="#222" text-anchor="middle" stroke="#222" stroke-width="0.15">G</text>
<line x1="34.50" y1="1069.50" x2="183.50" y2="1069.50" stroke="#555" stroke-width="1" />
<text x="37.80" y="1076.80" font-size="9.2" font-weight="bold" fill="#b83a3a" text-anchor="middle" font-family="Liberation Mono, monospace" stroke="#b83a3a" stroke-width="0.45" transform="translate(37.80 1076.80) scale(0.72 1) translate(-37.80 -1076.80)">T</text>
<text x="56.60" y="1076.80" font-size="9.2" font-weight="bold" fill="#222222" text-anchor="middle" font-family="Liberation Mono, monospace" stroke="#222222" stroke-width="0.45" transform="translate(56.60 1076.80) scale(0.72 1) translate(-56.60 -1076.80)">J</text>
<text x="74.00" y="1076.80" font-size="9.2" font-weight="bold" fill="#3f9a4f" text-anchor="middle" font-family="Liberation Mono, monospace" stroke="#3f9a4f" stroke-width="0.45" transform="translate(74.00 1076.80) scale(0.72 1) translate(-74.00 -1076.80)">A</text>
<text x="89.80" y="1076.80" font-size="9.2" font-weight="bold" fill="#3f9a4f" text-anchor="middle" font-family="Liberation Mono, monospace" stroke="#3f9a4f" stroke-width="0.45" transform="translate(89.80 1076.80) scale(0.72 1) translate(-89.80 -1076.80)">A</text>
<text x="110.20" y="1076.80" font-size="9.2" font-weight="bold" fill="#3f9a4f" text-anchor="middle" font-family="Liberation Mono, monospace" stroke="#3f9a4f" stroke-width="0.45" transform="translate(110.20 1076.80) scale(0.72 1) translate(-110.20 -1076.80)">A</text>
<text x="124.50" y="1076.80" font-size="9.2" font-weight="bold" fill="#2b2ba0" text-anchor="middle" font-family="Liberation Mono, monospace" stroke="#2b2ba0" stroke-width="0.45" transform="translate(124.50 1076.80) scale(0.72 1) translate(-124.50 -1076.80)">J</text>
<text x="142.90" y="1076.80" font-size="9.2" font-weight="bold" fill="#3f9a4f" text-anchor="middle" font-family="Liberation Mono, monospace" stroke="#3f9a4f" stroke-width="0.45" transform="translate(142.90 1076.80) scale(0.72 1) translate(-142.90 -1076.80)">A</text>
<text x="158.70" y="1076.80" font-size="9.2" font-weight="bold" fill="#3f9a4f" text-anchor="middle" font-family="Liberation Mono, monospace" stroke="#3f9a4f" stroke-width="0.45" transform="translate(158.70 1076.80) scale(0.72 1) translate(-158.70 -1076.80)">A</text>
<text x="173.00" y="1076.80" font-size="9.2" font-weight="bold" fill="#2b2ba0" text-anchor="middle" font-family="Liberation Mono, monospace" stroke="#2b2ba0" stroke-width="0.45" transform="translate(173.00 1076.80) scale(0.72 1) translate(-173.00 -1076.80)">J</text>
<polyline points="34.5,1102.8 35.0,1101.1 35.5,1099.8 36.0,1099.0 36.5,1098.6 37.0,1098.8 37.5,1099.4 38.0,1100.6 38.5,1102.1 39.0,1104.0 39.5,1106.1 40.0,1108.3 40.5,1110.5 41.0,1112.8 41.5,1114.8 42.0,1116.8 42.5,1118.5 43.0,1120.0 43.5,1121.2 44.0,1122.2 44.5,1123.1 45.0,1123.7 45.5,1124.2 46.0,1124.6 46.5,1124.9 47.0,1125.1 47.5,1125.2 48.0,1125.3 48.5,1125.4 49.0,1125.4 49.5,1125.5 50.0,1125.5 50.5,1125.5 51.0,1125.5 51.5,1125.5 52.0,1125.5 52.5,1125.5 53.0,1125.5 53.5,1125.5 54.0,1125.5 54.5,1125.5 55.0,1125.5 55.5,1125.5 56.0,1125.5 56.5,1125.5 57.0,1125.5 57.5,1125.5 58.0,1125.5 58.5,1125.5 59.0,1125.5 59.5,1125.5 60.0,1125.5 60.5,1125.5 61.0,1125.5 61.5,1125.5 62.0,1125.5 62.5,1125.5 63.0,1125.5 63.5,1125.5 64.0,1125.5 64.5,1125.5 65.0,1125.5 65.5,1125.5 66.0,1125.5 66.5,1125.5 67.0,1125.5 67.5,1125.5 68.0,1125.5 68.5,1125.5 69.0,1125.5 69.5,1125.5 70.0,1125.5 70.5,1125.5 71.0,1125.5 71.5,1125.5 72.0,1125.5 72.5,1125.4 73.0,1125.4 73.5,1125.4 74.0,1125.3 74.5,1125.3 75.0,1125.2 75.5,1125.1 76.0,1125.0 76.5,1124.9 77.0,1124.8 77.5,1124.6 78.0,1124.4 78.5,1124.2 79.0,1124.0 79.5,1123.8 80.0,1123.5 80.5,1123.3 81.0,1123.1 81.5,1122.9 82.0,1122.8 82.5,1122.6 83.0,1122.5 83.5,1122.5 84.0,1122.5 84.5,1122.6 85.0,1122.7 85.5,1122.8 86.0,1123.0 86.5,1123.2 87.0,1123.4 87.5,1123.6 88.0,1123.8 88.5,1124.0 89.0,1124.2 89.5,1124.4 90.0,1124.6 90.5,1124.7 91.0,1124.9 91.5,1124.9 92.0,1125.0 92.5,1124.9 93.0,1124.9 93.5,1124.7 94.0,1124.5 94.5,1124.3 95.0,1123.9 95.5,1123.5 96.0,1123.0 96.5,1122.5 97.0,1122.0 97.5,1121.5 98.0,1121.1 98.5,1120.7 99.0,1120.4 99.5,1120.3 100.0,1120.3 100.5,1120.5 101.0,1120.8 101.5,1121.2 102.0,1121.6 102.5,1122.1 103.0,1122.7 103.5,1123.2 104.0,1123.6 104.5,1124.1 105.0,1124.4 105.5,1124.7 106.0,1124.9 106.5,1125.1 107.0,1125.2 107.5,1125.3 108.0,1125.4 108.5,1125.4 109.0,1125.5 109.5,1125.5 110.0,1125.5 110.5,1125.5 111.0,1125.5 111.5,1125.5 112.0,1125.5 112.5,1125.5 113.0,1125.5 113.5,1125.5 114.0,1125.5 114.5,1125.5 115.0,1125.5 115.5,1125.5 116.0,1125.5 116.5,1125.5 117.0,1125.5 117.5,1125.5 118.0,1125.5 118.5,1125.5 119.0,1125.5 119.5,1125.5 120.0,1125.5 120.5,1125.5 121.0,1125.5 121.5,1125.5 122.0,1125.5 122.5,1125.5 123.0,1125.5 123.5,1125.5 124.0,1125.5 124.5,1125.5 125.0,1125.5 125.5,1125.5 126.0,1125.5 126.5,1125.5 127.0,1125.5 127.5,1125.5 128.0,1125.5 128.5,1125.5 129.0,1125.5 129.5,1125.5 130.0,1125.5 130.5,1125.5 131.0,1125.5 131.5,1125.5 132.0,1125.5 132.5,1125.5 133.0,1125.5 133.5,1125.5 134.0,1125.5 134.5,1125.5 135.0,1125.5 135.5,1125.5 136.0,1125.5 136.5,1125.5 137.0,1125.5 137.5,1125.5 138.0,1125.5 138.5,1125.5 139.0,1125.5 139.5,1125.5 140.0,1125.5 140.5,1125.5 141.0,1125.5 141.5,1125.5 142.0,1125.5 142.5,1125.5 143.0,1125.5 143.5,1125.5 144.0,1125.5 144.5,1125.5 145.0,1125.5 145.5,1125.5 146.0,1125.5 146.5,1125.5 147.0,1125.5 147.5,1125.5 148.0,1125.5 148.5,1125.5 149.0,1125.5 149.5,1125.5 150.0,1125.5 150.5,1125.5 151.0,1125.5 151.5,1125.5 152.0,1125.5 152.5,1125.5 153.0,1125.5 153.5,1125.5 154.0,1125.5 154.5,1125.5 155.0,1125.5 155.5,1125.5 156.0,1125.5 156.5,1125.5 157.0,1125.5 157.5,1125.5 158.0,1125.5 158.5,1125.5 159.0,1125.5 159.5,1125.5 160.0,1125.5 160.5,1125.5 161.0,1125.5 161.5,1125.5 162.0,1125.5 162.5,1125.5 163.0,1125.5 163.5,1125.5 164.0,1125.5 164.5,1125.5 165.0,1125.5 165.5,1125.5 166.0,1125.5 166.5,1125.5 167.0,1125.5 167.5,1125.5 168.0,1125.5 168.5,1125.5 169.0,1125.5 169.5,1125.5 170.0,1125.5 170.5,1125.5 171.0,1125.5 171.5,1125.5 172.0,1125.5 172.5,1125.5 173.0,1125.5 173.5,1125.5 174.0,1125.5 174.5,1125.5 175.0,1125.5 175.5,1125.5 176.0,1125.5 176.5,1125.5 177.0,1125.5 177.5,1125.5 178.0,1125.5 178.5,1125.5 179.0,1125.5 179.5,1125.5 180.0,1125.5 180.5,1125.5 181.0,1125.5 181.5,1125.5 182.0,1125.5 182.5,1125.5 183.0,1125.5 183.5,1125.5" fill="none" stroke="#62a070" stroke-width="0.85"/>
<polyline points="34.5,1125.5 35.0,1125.5 35.5,1125.5 36.0,1125.5 36.5,1125.5 37.0,1125.5 37.5,1125.5 38.0,1125.5 38.5,1125.5 39.0,1125.5 39.5,1125.5 40.0,1125.5 40.5,1125.5 41.0,1125.5 41.5,1125.5 42.0,1125.5 42.5,1125.5 43.0,1125.4 43.5,1125.4 44.0,1125.3 44.5,1125.2 45.0,1125.1 45.5,1124.9 46.0,1124.7 46.5,1124.3 47.0,1123.9 47.5,1123.2 48.0,1122.5 48.5,1121.5 49.0,1120.4 49.5,1119.0 50.0,1117.4 50.5,1115.6 51.0,1113.7 51.5,1111.6 52.0,1109.5 52.5,1107.4 53.0,1105.5 53.5,1103.8 54.0,1102.3 54.5,1101.3 55.0,1100.7 55.5,1100.5 56.0,1100.8 56.5,1101.6 57.0,1102.9 57.5,1104.4 58.0,1106.2 58.5,1108.2 59.0,1110.3 59.5,1112.4 60.0,1114.4 60.5,1116.3 61.0,1118.0 61.5,1119.6 62.0,1120.8 62.5,1121.9 63.0,1122.8 63.5,1123.5 64.0,1124.1 64.5,1124.5 65.0,1124.8 65.5,1125.0 66.0,1125.2 66.5,1125.3 67.0,1125.4 67.5,1125.4 68.0,1125.4 68.5,1125.5 69.0,1125.5 69.5,1125.5 70.0,1125.5 70.5,1125.5 71.0,1125.5 71.5,1125.5 72.0,1125.5 72.5,1125.5 73.0,1125.5 73.5,1125.5 74.0,1125.5 74.5,1125.5 75.0,1125.5 75.5,1125.5 76.0,1125.5 76.5,1125.5 77.0,1125.5 77.5,1125.5 78.0,1125.5 78.5,1125.5 79.0,1125.5 79.5,1125.5 80.0,1125.5 80.5,1125.5 81.0,1125.5 81.5,1125.5 82.0,1125.5 82.5,1125.5 83.0,1125.5 83.5,1125.5 84.0,1125.5 84.5,1125.5 85.0,1125.5 85.5,1125.5 86.0,1125.5 86.5,1125.5 87.0,1125.5 87.5,1125.5 88.0,1125.5 88.5,1125.5 89.0,1125.5 89.5,1125.5 90.0,1125.5 90.5,1125.5 91.0,1125.5 91.5,1125.5 92.0,1125.5 92.5,1125.5 93.0,1125.5 93.5,1125.5 94.0,1125.5 94.5,1125.5 95.0,1125.5 95.5,1125.5 96.0,1125.4 96.5,1125.4 97.0,1125.3 97.5,1125.2 98.0,1125.1 98.5,1125.0 99.0,1124.7 99.5,1124.5 100.0,1124.1 100.5,1123.7 101.0,1123.2 101.5,1122.6 102.0,1121.9 102.5,1121.1 103.0,1120.3 103.5,1119.4 104.0,1118.5 104.5,1117.6 105.0,1116.8 105.5,1116.1 106.0,1115.5 106.5,1115.1 107.0,1114.8 107.5,1114.8 108.0,1115.0 108.5,1115.4 109.0,1115.9 109.5,1116.6 110.0,1117.4 110.5,1118.3 111.0,1119.2 111.5,1120.1 112.0,1120.9 112.5,1121.7 113.0,1122.4 113.5,1123.1 114.0,1123.6 114.5,1124.1 115.0,1124.4 115.5,1124.7 116.0,1124.9 116.5,1125.1 117.0,1125.2 117.5,1125.3 118.0,1125.4 118.5,1125.4 119.0,1125.4 119.5,1125.5 120.0,1125.5 120.5,1125.5 121.0,1125.5 121.5,1125.5 122.0,1125.5 122.5,1125.5 123.0,1125.5 123.5,1125.5 124.0,1125.5 124.5,1125.5 125.0,1125.5 125.5,1125.5 126.0,1125.5 126.5,1125.5 127.0,1125.5 127.5,1125.5 128.0,1125.5 128.5,1125.5 129.0,1125.5 129.5,1125.5 130.0,1125.5 130.5,1125.5 131.0,1125.5 131.5,1125.5 132.0,1125.5 132.5,1125.5 133.0,1125.5 133.5,1125.5 134.0,1125.5 134.5,1125.5 135.0,1125.5 135.5,1125.5 136.0,1125.5 136.5,1125.5 137.0,1125.5 137.5,1125.5 138.0,1125.5 138.5,1125.5 139.0,1125.5 139.5,1125.5 140.0,1125.5 140.5,1125.5 141.0,1125.5 141.5,1125.5 142.0,1125.5 142.5,1125.5 143.0,1125.5 143.5,1125.5 144.0,1125.5 144.5,1125.5 145.0,1125.5 145.5,1125.5 146.0,1125.5 146.5,1125.5 147.0,1125.5 147.5,1125.5 148.0,1125.5 148.5,1125.5 149.0,1125.5 149.5,1125.5 150.0,1125.5 150.5,1125.5 151.0,1125.5 151.5,1125.5 152.0,1125.5 152.5,1125.5 153.0,1125.5 153.5,1125.5 154.0,1125.5 154.5,1125.5 155.0,1125.5 155.5,1125.5 156.0,1125.5 156.5,1125.5 157.0,1125.5 157.5,1125.5 158.0,1125.5 158.5,1125.5 159.0,1125.5 159.5,1125.5 160.0,1125.5 160.5,1125.5 161.0,1125.5 161.5,1125.5 162.0,1125.5 162.5,1125.5 163.0,1125.5 163.5,1125.5 164.0,1125.5 164.5,1125.5 165.0,1125.5 165.5,1125.5 166.0,1125.5 166.5,1125.5 167.0,1125.5 167.5,1125.5 168.0,1125.5 168.5,1125.5 169.0,1125.5 169.5,1125.5 170.0,1125.5 170.5,1125.5 171.0,1125.5 171.5,1125.5 172.0,1125.5 172.5,1125.5 173.0,1125.5 173.5,1125.5 174.0,1125.5 174.5,1125.5 175.0,1125.5 175.5,1125.5 176.0,1125.5 176.5,1125.5 177.0,1125.5 177.5,1125.5 178.0,1125.5 178.5,1125.5 179.0,1125.5 179.5,1125.5 180.0,1125.5 180.5,1125.5 181.0,1125.5 181.5,1125.5 182.0,1125.5 182.5,1125.5 183.0,1125.5 183.5,1125.5" fill="none" stroke="#404088" stroke-width="0.85"/>
<polyline points="34.5,1125.5 35.0,1125.5 35.5,1125.5 36.0,1125.5 36.5,1125.5 37.0,1125.5 37.5,1125.5 38.0,1125.5 38.5,1125.5 39.0,1125.5 39.5,1125.5 40.0,1125.5 40.5,1125.5 41.0,1125.5 41.5,1125.5 42.0,1125.5 42.5,1125.5 43.0,1125.5 43.5,1125.5 44.0,1125.5 44.5,1125.5 45.0,1125.5 45.5,1125.5 46.0,1125.5 46.5,1125.5 47.0,1125.5 47.5,1125.5 48.0,1125.5 48.5,1125.5 49.0,1125.5 49.5,1125.5 50.0,1125.5 50.5,1125.5 51.0,1125.5 51.5,1125.5 52.0,1125.5 52.5,1125.5 53.0,1125.5 53.5,1125.5 54.0,1125.5 54.5,1125.5 55.0,1125.5 55.5,1125.5 56.0,1125.5 56.5,1125.5 57.0,1125.5 57.5,1125.5 58.0,1125.5 58.5,1125.5 59.0,1125.5 59.5,1125.5 60.0,1125.4 60.5,1125.4 61.0,1125.4 61.5,1125.3 62.0,1125.2 62.5,1125.0 63.0,1124.8 63.5,1124.4 64.0,1124.0 64.5,1123.4 65.0,1122.6 65.5,1121.7 66.0,1120.5 66.5,1119.1 67.0,1117.5 67.5,1115.6 68.0,1113.5 68.5,1111.3 69.0,1108.9 69.5,1106.6 70.0,1104.3 70.5,1102.2 71.0,1100.4 71.5,1098.9 72.0,1097.9 72.5,1097.4 73.0,1097.5 73.5,1098.1 74.0,1099.2 74.5,1100.7 75.0,1102.6 75.5,1104.7 76.0,1107.0 76.5,1109.3 77.0,1111.6 77.5,1113.8 78.0,1115.8 78.5,1117.5 79.0,1118.9 79.5,1120.0 80.0,1120.7 80.5,1121.2 81.0,1121.3 81.5,1121.0 82.0,1120.3 82.5,1119.3 83.0,1118.0 83.5,1116.3 84.0,1114.3 84.5,1112.0 85.0,1109.5 85.5,1106.8 86.0,1104.1 86.5,1101.5 87.0,1099.0 87.5,1096.8 88.0,1095.0 88.5,1093.8 89.0,1093.1 89.5,1093.0 90.0,1093.6 90.5,1094.8 91.0,1096.4 91.5,1098.5 92.0,1101.0 92.5,1103.6 93.0,1106.3 93.5,1109.0 94.0,1111.6 94.5,1114.0 95.0,1116.2 95.5,1118.1 96.0,1119.7 96.5,1121.0 97.0,1122.0 97.5,1122.8 98.0,1123.4 98.5,1123.8 99.0,1124.0 99.5,1124.0 100.0,1123.9 100.5,1123.7 101.0,1123.3 101.5,1122.9 102.0,1122.3 102.5,1121.7 103.0,1121.0 103.5,1120.3 104.0,1119.6 104.5,1118.9 105.0,1118.3 105.5,1117.8 106.0,1117.4 106.5,1117.1 107.0,1117.0 107.5,1117.1 108.0,1117.3 108.5,1117.6 109.0,1118.1 109.5,1118.7 110.0,1119.4 110.5,1120.1 111.0,1120.8 111.5,1121.5 112.0,1122.1 112.5,1122.7 113.0,1123.3 113.5,1123.7 114.0,1124.1 114.5,1124.5 115.0,1124.7 115.5,1124.9 116.0,1125.1 116.5,1125.2 117.0,1125.3 117.5,1125.4 118.0,1125.4 118.5,1125.4 119.0,1125.5 119.5,1125.5 120.0,1125.5 120.5,1125.5 121.0,1125.5 121.5,1125.5 122.0,1125.5 122.5,1125.5 123.0,1125.5 123.5,1125.5 124.0,1125.5 124.5,1125.5 125.0,1125.5 125.5,1125.5 126.0,1125.5 126.5,1125.5 127.0,1125.5 127.5,1125.5 128.0,1125.5 128.5,1125.4 129.0,1125.4 129.5,1125.3 130.0,1125.3 130.5,1125.1 131.0,1124.9 131.5,1124.7 132.0,1124.3 132.5,1123.9 133.0,1123.3 133.5,1122.5 134.0,1121.5 134.5,1120.3 135.0,1118.9 135.5,1117.3 136.0,1115.5 136.5,1113.5 137.0,1111.3 137.5,1109.1 138.0,1106.9 138.5,1104.8 139.0,1103.0 139.5,1101.4 140.0,1100.2 140.5,1099.5 141.0,1099.2 141.5,1099.5 142.0,1100.2 142.5,1101.4 143.0,1103.0 143.5,1104.8 144.0,1106.9 144.5,1109.1 145.0,1111.3 145.5,1113.4 146.0,1115.4 146.5,1117.2 147.0,1118.7 147.5,1120.0 148.0,1121.0 148.5,1121.8 149.0,1122.2 149.5,1122.4 150.0,1122.2 150.5,1121.8 151.0,1121.1 151.5,1120.2 152.0,1118.9 152.5,1117.3 153.0,1115.5 153.5,1113.5 154.0,1111.2 154.5,1108.9 155.0,1106.6 155.5,1104.3 156.0,1102.2 156.5,1100.4 157.0,1098.9 157.5,1097.9 158.0,1097.4 158.5,1097.5 159.0,1098.1 159.5,1099.2 160.0,1100.7 160.5,1102.6 161.0,1104.7 161.5,1107.0 162.0,1109.4 162.5,1111.7 163.0,1113.9 163.5,1116.0 164.0,1117.8 164.5,1119.4 165.0,1120.8 165.5,1121.9 166.0,1122.8 166.5,1123.5 167.0,1124.1 167.5,1124.5 168.0,1124.8 168.5,1125.0 169.0,1125.2 169.5,1125.3 170.0,1125.4 170.5,1125.4 171.0,1125.4 171.5,1125.5 172.0,1125.5 172.5,1125.5 173.0,1125.5 173.5,1125.5 174.0,1125.5 174.5,1125.5 175.0,1125.5 175.5,1125.5 176.0,1125.5 176.5,1125.5 177.0,1125.5 177.5,1125.5 178.0,1125.5 178.5,1125.5 179.0,1125.5 179.5,1125.5 180.0,1125.5 180.5,1125.5 181.0,1125.5 181.5,1125.5 182.0,1125.5 182.5,1125.5 183.0,1125.5 183.5,1125.5" fill="none" stroke="#b06060" stroke-width="0.85"/>
<polyline points="34.5,1125.5 35.0,1125.5 35.5,1125.5 36.0,1125.5 36.5,1125.5 37.0,1125.5 37.5,1125.5 38.0,1125.5 38.5,1125.5 39.0,1125.5 39.5,1125.5 40.0,1125.5 40.5,1125.5 41.0,1125.5 41.5,1125.5 42.0,1125.5 42.5,1125.5 43.0,1125.5 43.5,1125.5 44.0,1125.5 44.5,1125.5 45.0,1125.5 45.5,1125.5 46.0,1125.5 46.5,1125.5 47.0,1125.5 47.5,1125.5 48.0,1125.5 48.5,1125.5 49.0,1125.5 49.5,1125.5 50.0,1125.5 50.5,1125.5 51.0,1125.5 51.5,1125.5 52.0,1125.5 52.5,1125.5 53.0,1125.5 53.5,1125.5 54.0,1125.5 54.5,1125.5 55.0,1125.5 55.5,1125.5 56.0,1125.5 56.5,1125.5 57.0,1125.5 57.5,1125.5 58.0,1125.5 58.5,1125.5 59.0,1125.5 59.5,1125.5 60.0,1125.5 60.5,1125.5 61.0,1125.5 61.5,1125.5 62.0,1125.5 62.5,1125.5 63.0,1125.5 63.5,1125.5 64.0,1125.5 64.5,1125.5 65.0,1125.5 65.5,1125.5 66.0,1125.5 66.5,1125.5 67.0,1125.5 67.5,1125.5 68.0,1125.5 68.5,1125.5 69.0,1125.5 69.5,1125.5 70.0,1125.5 70.5,1125.5 71.0,1125.5 71.5,1125.5 72.0,1125.5 72.5,1125.5 73.0,1125.5 73.5,1125.5 74.0,1125.5 74.5,1125.5 75.0,1125.5 75.5,1125.5 76.0,1125.5 76.5,1125.5 77.0,1125.5 77.5,1125.5 78.0,1125.5 78.5,1125.5 79.0,1125.5 79.5,1125.5 80.0,1125.5 80.5,1125.5 81.0,1125.5 81.5,1125.5 82.0,1125.5 82.5,1125.5 83.0,1125.5 83.5,1125.5 84.0,1125.5 84.5,1125.5 85.0,1125.5 85.5,1125.5 86.0,1125.5 86.5,1125.5 87.0,1125.5 87.5,1125.5 88.0,1125.5 88.5,1125.5 89.0,1125.5 89.5,1125.5 90.0,1125.5 90.5,1125.5 91.0,1125.5 91.5,1125.5 92.0,1125.5 92.5,1125.4 93.0,1125.4 93.5,1125.4 94.0,1125.3 94.5,1125.2 95.0,1125.1 95.5,1125.0 96.0,1124.9 96.5,1124.7 97.0,1124.5 97.5,1124.3 98.0,1124.0 98.5,1123.8 99.0,1123.4 99.5,1123.1 100.0,1122.8 100.5,1122.4 101.0,1122.1 101.5,1121.8 102.0,1121.5 102.5,1121.3 103.0,1121.1 103.5,1121.0 104.0,1121.0 104.5,1121.0 105.0,1121.1 105.5,1121.3 106.0,1121.5 106.5,1121.8 107.0,1122.1 107.5,1122.4 108.0,1122.8 108.5,1123.1 109.0,1123.4 109.5,1123.7 110.0,1124.0 110.5,1124.3 111.0,1124.5 111.5,1124.7 112.0,1124.8 112.5,1124.9 113.0,1124.9 113.5,1124.9 114.0,1124.7 114.5,1124.5 115.0,1124.2 115.5,1123.7 116.0,1123.1 116.5,1122.3 117.0,1121.3 117.5,1120.0 118.0,1118.4 118.5,1116.6 119.0,1114.5 119.5,1112.2 120.0,1109.7 120.5,1107.1 121.0,1104.5 121.5,1101.9 122.0,1099.6 122.5,1097.6 123.0,1096.0 123.5,1094.9 124.0,1094.3 124.5,1094.4 125.0,1095.1 125.5,1096.3 126.0,1098.0 126.5,1100.1 127.0,1102.4 127.5,1105.0 128.0,1107.6 128.5,1110.2 129.0,1112.7 129.5,1114.9 130.0,1117.0 130.5,1118.8 131.0,1120.3 131.5,1121.5 132.0,1122.5 132.5,1123.3 133.0,1123.9 133.5,1124.4 134.0,1124.7 134.5,1125.0 135.0,1125.2 135.5,1125.3 136.0,1125.4 136.5,1125.4 137.0,1125.4 137.5,1125.5 138.0,1125.5 138.5,1125.5 139.0,1125.5 139.5,1125.5 140.0,1125.5 140.5,1125.5 141.0,1125.5 141.5,1125.5 142.0,1125.5 142.5,1125.5 143.0,1125.5 143.5,1125.5 144.0,1125.5 144.5,1125.5 145.0,1125.5 145.5,1125.5 146.0,1125.5 146.5,1125.5 147.0,1125.5 147.5,1125.5 148.0,1125.5 148.5,1125.5 149.0,1125.5 149.5,1125.5 150.0,1125.5 150.5,1125.5 151.0,1125.5 151.5,1125.5 152.0,1125.5 152.5,1125.5 153.0,1125.5 153.5,1125.5 154.0,1125.5 154.5,1125.5 155.0,1125.5 155.5,1125.5 156.0,1125.5 156.5,1125.5 157.0,1125.5 157.5,1125.5 158.0,1125.5 158.5,1125.4 159.0,1125.4 159.5,1125.3 160.0,1125.2 160.5,1125.1 161.0,1124.9 161.5,1124.6 162.0,1124.2 162.5,1123.6 163.0,1122.9 163.5,1121.9 164.0,1120.7 164.5,1119.1 165.0,1117.2 165.5,1115.0 166.0,1112.5 166.5,1109.6 167.0,1106.5 167.5,1103.2 168.0,1099.8 168.5,1096.5 169.0,1093.4 169.5,1090.6 170.0,1088.3 170.5,1086.6 171.0,1085.6 171.5,1085.4 172.0,1086.0 172.5,1087.2 173.0,1089.2 173.5,1091.7 174.0,1094.6 174.5,1097.8 175.0,1101.2 175.5,1104.5 176.0,1107.8 176.5,1110.8 177.0,1113.5 177.5,1116.0 178.0,1118.0 178.5,1119.8 179.0,1121.2 179.5,1122.3 180.0,1123.2 180.5,1123.9 181.0,1124.4 181.5,1124.7 182.0,1125.0 182.5,1125.2 183.0,1125.3 183.5,1125.4" fill="none" stroke="#3a3a3a" stroke-width="0.85"/>
<polygon points="101.8,1096.6 112.4,1096.6 107.1,1109.4" fill="#000"/>
</g></g>
<g>
<rect x="193.50" y="980.50" width="147.00" height="71.00" fill="#fff" stroke="#444" stroke-width="1" />
<clipPath id="c559"><rect x="193.5" y="980.5" width="147.0" height="71.0"/></clipPath>
<g clip-path="url(#c559)">
<text x="195.00" y="986.30" font-size="5.8" fill="#111" textLength="144.50" lengthAdjust="spacingAndGlyphs" >HCT116_CB0_Ex14-VCP_Ex14_F Fragment base #</text>
<text x="203.50" y="993.50" font-size="7.6" fill="#222" text-anchor="middle" stroke="#222" stroke-width="0.15">A</text>
<text x="220.30" y="993.50" font-size="7.6" fill="#222" text-anchor="middle" stroke="#222" stroke-width="0.15">A</text>
<text x="235.60" y="993.50" font-size="7.6" fill="#222" text-anchor="middle" stroke="#222" stroke-width="0.15">A</text>
<text x="252.00" y="993.50" font-size="7.6" fill="#222" text-anchor="middle" stroke="#222" stroke-width="0.15">A</text>
<text x="268.00" y="993.50" font-size="7.6" fill="#222" text-anchor="middle" stroke="#222" stroke-width="0.15">T</text>
<text x="284.60" y="993.50" font-size="7.6" fill="#222" text-anchor="middle" stroke="#222" stroke-width="0.15">G</text>
<text x="301.20" y="993.50" font-size="7.6" fill="#222" text-anchor="middle" stroke="#222" stroke-width="0.15">G</text>
<text x="317.80" y="993.50" font-size="7.6" fill="#222" text-anchor="middle" stroke="#222" stroke-width="0.15">G</text>
<text x="333.80" y="993.50" font-size="7.6" fill="#222" text-anchor="middle" stroke="#222" stroke-width="0.15">G</text>
<line x1="193.50" y1="994.50" x2="340.50" y2="994.50" stroke="#555" stroke-width="1" />
<text x="203.50" y="1001.80" font-size="9.2" font-weight="bold" fill="#3f9a4f" text-anchor="middle" font-family="Liberation Mono, monospace" stroke="#3f9a4f" stroke-width="0.45" transform="translate(203.50 1001.80) scale(0.72 1) translate(-203.50 -1001.80)">A</text>
<text x="220.30" y="1001.80" font-size="9.2" font-weight="bold" fill="#3f9a4f" text-anchor="middle" font-family="Liberation Mono, monospace" stroke="#3f9a4f" stroke-width="0.45" transform="translate(220.30 1001.80) scale(0.72 1) translate(-220.30 -1001.80)">A</text>
<text x="235.60" y="1001.80" font-size="9.2" font-weight="bold" fill="#3f9a4f" text-anchor="middle" font-family="Liberation Mono, monospace" stroke="#3f9a4f" stroke-width="0.45" transform="translate(235.60 1001.80) scale(0.72 1) translate(-235.60 -1001.80)">A</text>
<text x="252.00" y="1001.80" font-size="9.2" font-weight="bold" fill="#3f9a4f" text-anchor="middle" font-family="Liberation Mono, monospace" stroke="#3f9a4f" stroke-width="0.45" transform="translate(252.00 1001.80) scale(0.72 1) translate(-252.00 -1001.80)">A</text>
<text x="268.00" y="1001.80" font-size="9.2" font-weight="bold" fill="#b83a3a" text-anchor="middle" font-family="Liberation Mono, monospace" stroke="#b83a3a" stroke-width="0.45" transform="translate(268.00 1001.80) scale(0.72 1) translate(-268.00 -1001.80)">T</text>
<text x="284.60" y="1001.80" font-size="9.2" font-weight="bold" fill="#222222" text-anchor="middle" font-family="Liberation Mono, monospace" stroke="#222222" stroke-width="0.45" transform="translate(284.60 1001.80) scale(0.72 1) translate(-284.60 -1001.80)">G</text>
<text x="301.20" y="1001.80" font-size="9.2" font-weight="bold" fill="#222222" text-anchor="middle" font-family="Liberation Mono, monospace" stroke="#222222" stroke-width="0.45" transform="translate(301.20 1001.80) scale(0.72 1) translate(-301.20 -1001.80)">G</text>
<text x="317.80" y="1001.80" font-size="9.2" font-weight="bold" fill="#222222" text-anchor="middle" font-family="Liberation Mono, monospace" stroke="#222222" stroke-width="0.45" transform="translate(317.80 1001.80) scale(0.72 1) translate(-317.80 -1001.80)">G</text>
<text x="333.80" y="1001.80" font-size="9.2" font-weight="bold" fill="#222222" text-anchor="middle" font-family="Liberation Mono, monospace" stroke="#222222" stroke-width="0.45" transform="translate(333.80 1001.80) scale(0.72 1) translate(-333.80 -1001.80)">G</text>
<polyline points="193.5,1051.2 194.0,1051.1 194.5,1050.9 195.0,1050.7 195.5,1050.4 196.0,1049.9 196.5,1049.4 197.0,1048.7 197.5,1047.8 198.0,1046.7 198.5,1045.5 199.0,1044.1 199.5,1042.5 200.0,1040.9 200.5,1039.1 201.0,1037.4 201.5,1035.6 202.0,1034.1 202.5,1032.7 203.0,1031.6 203.5,1030.9 204.0,1030.5 204.5,1030.6 205.0,1031.0 205.5,1031.8 206.0,1033.0 206.5,1034.4 207.0,1036.0 207.5,1037.7 208.0,1039.4 208.5,1041.1 209.0,1042.7 209.5,1044.1 210.0,1045.4 210.5,1046.4 211.0,1047.1 211.5,1047.6 212.0,1047.8 212.5,1047.7 213.0,1047.4 213.5,1046.7 214.0,1045.8 214.5,1044.6 215.0,1043.1 215.5,1041.4 216.0,1039.6 216.5,1037.6 217.0,1035.6 217.5,1033.7 218.0,1031.8 218.5,1030.2 219.0,1028.9 219.5,1028.0 220.0,1027.5 220.5,1027.4 221.0,1027.8 221.5,1028.7 222.0,1029.9 222.5,1031.5 223.0,1033.3 223.5,1035.2 224.0,1037.2 224.5,1039.2 225.0,1041.0 225.5,1042.7 226.0,1044.2 226.5,1045.4 227.0,1046.4 227.5,1047.0 228.0,1047.4 228.5,1047.4 229.0,1047.2 229.5,1046.7 230.0,1045.9 230.5,1044.8 231.0,1043.5 231.5,1042.0 232.0,1040.4 232.5,1038.7 233.0,1037.0 233.5,1035.3 234.0,1033.8 234.5,1032.5 235.0,1031.5 235.5,1030.8 236.0,1030.5 236.5,1030.6 237.0,1031.1 237.5,1032.0 238.0,1033.2 238.5,1034.7 239.0,1036.3 239.5,1038.0 240.0,1039.7 240.5,1041.4 241.0,1043.0 241.5,1044.4 242.0,1045.6 242.5,1046.5 243.0,1047.2 243.5,1047.6 244.0,1047.8 244.5,1047.6 245.0,1047.2 245.5,1046.5 246.0,1045.4 246.5,1044.2 247.0,1042.6 247.5,1040.9 248.0,1039.0 248.5,1036.9 249.0,1034.9 249.5,1032.9 250.0,1031.1 250.5,1029.5 251.0,1028.2 251.5,1027.4 252.0,1026.9 252.5,1027.0 253.0,1027.5 253.5,1028.5 254.0,1029.8 254.5,1031.4 255.0,1033.3 255.5,1035.3 256.0,1037.4 256.5,1039.4 257.0,1041.4 257.5,1043.2 258.0,1044.8 258.5,1046.2 259.0,1047.4 259.5,1048.4 260.0,1049.1 260.5,1049.8 261.0,1050.3 261.5,1050.6 262.0,1050.9 262.5,1051.1 263.0,1051.2 263.5,1051.3 264.0,1051.4 264.5,1051.4 265.0,1051.5 265.5,1051.5 266.0,1051.5 266.5,1051.5 267.0,1051.5 267.5,1051.5 268.0,1051.5 268.5,1051.5 269.0,1051.5 269.5,1051.5 270.0,1051.5 270.5,1051.5 271.0,1051.5 271.5,1051.5 272.0,1051.5 272.5,1051.5 273.0,1051.5 273.5,1051.5 274.0,1051.5 274.5,1051.5 275.0,1051.5 275.5,1051.5 276.0,1051.5 276.5,1051.5 277.0,1051.5 277.5,1051.5 278.0,1051.5 278.5,1051.5 279.0,1051.5 279.5,1051.5 280.0,1051.5 280.5,1051.5 281.0,1051.5 281.5,1051.5 282.0,1051.5 282.5,1051.5 283.0,1051.5 283.5,1051.5 284.0,1051.5 284.5,1051.5 285.0,1051.5 285.5,1051.5 286.0,1051.5 286.5,1051.5 287.0,1051.5 287.5,1051.5 288.0,1051.5 288.5,1051.5 289.0,1051.5 289.5,1051.5 290.0,1051.5 290.5,1051.5 291.0,1051.5 291.5,1051.5 292.0,1051.5 292.5,1051.5 293.0,1051.5 293.5,1051.5 294.0,1051.5 294.5,1051.5 295.0,1051.5 295.5,1051.5 296.0,1051.5 296.5,1051.5 297.0,1051.5 297.5,1051.5 298.0,1051.5 298.5,1051.5 299.0,1051.5 299.5,1051.5 300.0,1051.5 300.5,1051.5 301.0,1051.5 301.5,1051.5 302.0,1051.5 302.5,1051.5 303.0,1051.5 303.5,1051.5 304.0,1051.5 304.5,1051.5 305.0,1051.5 305.5,1051.5 306.0,1051.5 306.5,1051.5 307.0,1051.5 307.5,1051.5 308.0,1051.5 308.5,1051.5 309.0,1051.5 309.5,1051.5 310.0,1051.5 310.5,1051.5 311.0,1051.5 311.5,1051.5 312.0,1051.5 312.5,1051.5 313.0,1051.5 313.5,1051.5 314.0,1051.5 314.5,1051.5 315.0,1051.5 315.5,1051.5 316.0,1051.5 316.5,1051.5 317.0,1051.5 317.5,1051.5 318.0,1051.5 318.5,1051.5 319.0,1051.5 319.5,1051.5 320.0,1051.5 320.5,1051.5 321.0,1051.5 321.5,1051.5 322.0,1051.5 322.5,1051.5 323.0,1051.5 323.5,1051.5 324.0,1051.5 324.5,1051.5 325.0,1051.5 325.5,1051.5 326.0,1051.5 326.5,1051.5 327.0,1051.5 327.5,1051.5 328.0,1051.5 328.5,1051.5 329.0,1051.5 329.5,1051.5 330.0,1051.5 330.5,1051.5 331.0,1051.5 331.5,1051.5 332.0,1051.5 332.5,1051.5 333.0,1051.5 333.5,1051.5 334.0,1051.5 334.5,1051.5 335.0,1051.5 335.5,1051.5 336.0,1051.5 336.5,1051.5 337.0,1051.5 337.5,1051.5 338.0,1051.5 338.5,1051.5 339.0,1051.5 339.5,1051.5 340.0,1051.5 340.5,1051.5" fill="none" stroke="#62a070" stroke-width="0.85"/>
<polyline points="193.5,1051.5 194.0,1051.5 194.5,1051.5 195.0,1051.5 195.5,1051.5 196.0,1051.5 196.5,1051.5 197.0,1051.5 197.5,1051.5 198.0,1051.5 198.5,1051.5 199.0,1051.5 199.5,1051.5 200.0,1051.5 200.5,1051.5 201.0,1051.5 201.5,1051.5 202.0,1051.5 202.5,1051.5 203.0,1051.5 203.5,1051.5 204.0,1051.5 204.5,1051.5 205.0,1051.5 205.5,1051.5 206.0,1051.5 206.5,1051.5 207.0,1051.5 207.5,1051.5 208.0,1051.5 208.5,1051.5 209.0,1051.5 209.5,1051.5 210.0,1051.5 210.5,1051.5 211.0,1051.5 211.5,1051.5 212.0,1051.5 212.5,1051.5 213.0,1051.5 213.5,1051.5 214.0,1051.5 214.5,1051.5 215.0,1051.5 215.5,1051.5 216.0,1051.5 216.5,1051.5 217.0,1051.5 217.5,1051.5 218.0,1051.5 218.5,1051.5 219.0,1051.5 219.5,1051.5 220.0,1051.5 220.5,1051.5 221.0,1051.5 221.5,1051.5 222.0,1051.5 222.5,1051.5 223.0,1051.5 223.5,1051.5 224.0,1051.5 224.5,1051.5 225.0,1051.5 225.5,1051.5 226.0,1051.5 226.5,1051.5 227.0,1051.5 227.5,1051.5 228.0,1051.5 228.5,1051.5 229.0,1051.5 229.5,1051.5 230.0,1051.5 230.5,1051.5 231.0,1051.5 231.5,1051.5 232.0,1051.5 232.5,1051.5 233.0,1051.5 233.5,1051.5 234.0,1051.5 234.5,1051.5 235.0,1051.5 235.5,1051.5 236.0,1051.5 236.5,1051.5 237.0,1051.5 237.5,1051.5 238.0,1051.5 238.5,1051.5 239.0,1051.5 239.5,1051.5 240.0,1051.5 240.5,1051.5 241.0,1051.5 241.5,1051.5 242.0,1051.5 242.5,1051.5 243.0,1051.5 243.5,1051.5 244.0,1051.5 244.5,1051.5 245.0,1051.5 245.5,1051.5 246.0,1051.5 246.5,1051.5 247.0,1051.5 247.5,1051.5 248.0,1051.5 248.5,1051.5 249.0,1051.5 249.5,1051.5 250.0,1051.5 250.5,1051.5 251.0,1051.5 251.5,1051.5 252.0,1051.5 252.5,1051.5 253.0,1051.5 253.5,1051.5 254.0,1051.5 254.5,1051.5 255.0,1051.4 255.5,1051.4 256.0,1051.3 256.5,1051.2 257.0,1051.1 257.5,1051.0 258.0,1050.8 258.5,1050.5 259.0,1050.1 259.5,1049.6 260.0,1049.0 260.5,1048.3 261.0,1047.5 261.5,1046.6 262.0,1045.6 262.5,1044.5 263.0,1043.3 263.5,1042.1 264.0,1041.0 264.5,1040.0 265.0,1039.1 265.5,1038.4 266.0,1037.9 266.5,1037.6 267.0,1037.6 267.5,1037.9 268.0,1038.5 268.5,1039.2 269.0,1040.2 269.5,1041.2 270.0,1042.4 270.5,1043.5 271.0,1044.7 271.5,1045.8 272.0,1046.8 272.5,1047.6 273.0,1048.4 273.5,1049.0 274.0,1049.4 274.5,1049.8 275.0,1049.9 275.5,1049.9 276.0,1049.8 276.5,1049.5 277.0,1049.0 277.5,1048.3 278.0,1047.5 278.5,1046.4 279.0,1045.2 279.5,1043.8 280.0,1042.2 280.5,1040.5 281.0,1038.8 281.5,1037.0 282.0,1035.3 282.5,1033.8 283.0,1032.5 283.5,1031.5 284.0,1030.8 284.5,1030.5 285.0,1030.6 285.5,1031.1 286.0,1032.0 286.5,1033.2 287.0,1034.7 287.5,1036.3 288.0,1038.0 288.5,1039.8 289.0,1041.5 289.5,1043.1 290.0,1044.5 290.5,1045.8 291.0,1046.8 291.5,1047.6 292.0,1048.2 292.5,1048.6 293.0,1048.7 293.5,1048.5 294.0,1048.2 294.5,1047.6 295.0,1046.8 295.5,1045.7 296.0,1044.5 296.5,1043.1 297.0,1041.6 297.5,1040.0 298.0,1038.3 298.5,1036.8 299.0,1035.3 299.5,1034.1 300.0,1033.1 300.5,1032.4 301.0,1032.0 301.5,1032.1 302.0,1032.5 302.5,1033.2 303.0,1034.3 303.5,1035.6 304.0,1037.1 304.5,1038.7 305.0,1040.3 305.5,1041.9 306.0,1043.4 306.5,1044.8 307.0,1046.0 307.5,1047.0 308.0,1047.8 308.5,1048.4 309.0,1048.8 309.5,1049.0 310.0,1049.0 310.5,1048.8 311.0,1048.3 311.5,1047.7 312.0,1046.9 312.5,1046.0 313.0,1044.9 313.5,1043.7 314.0,1042.4 314.5,1041.0 315.0,1039.7 315.5,1038.5 316.0,1037.5 316.5,1036.6 317.0,1036.0 317.5,1035.7 318.0,1035.6 318.5,1035.9 319.0,1036.5 319.5,1037.3 320.0,1038.3 320.5,1039.5 321.0,1040.8 321.5,1042.1 322.0,1043.4 322.5,1044.6 323.0,1045.8 323.5,1046.8 324.0,1047.6 324.5,1048.3 325.0,1048.8 325.5,1049.1 326.0,1049.2 326.5,1049.1 327.0,1048.9 327.5,1048.4 328.0,1047.8 328.5,1047.0 329.0,1046.0 329.5,1044.9 330.0,1043.7 330.5,1042.4 331.0,1041.0 331.5,1039.7 332.0,1038.5 332.5,1037.5 333.0,1036.6 333.5,1036.0 334.0,1035.7 334.5,1035.6 335.0,1035.9 335.5,1036.5 336.0,1037.3 336.5,1038.3 337.0,1039.5 337.5,1040.8 338.0,1042.1 338.5,1043.4 339.0,1044.7 339.5,1045.9 340.0,1047.0 340.5,1047.9" fill="none" stroke="#3a3a3a" stroke-width="0.85"/>
<polyline points="193.5,1051.5 194.0,1051.5 194.5,1051.5 195.0,1051.5 195.5,1051.5 196.0,1051.5 196.5,1051.5 197.0,1051.5 197.5,1051.5 198.0,1051.5 198.5,1051.5 199.0,1051.5 199.5,1051.5 200.0,1051.5 200.5,1051.5 201.0,1051.5 201.5,1051.5 202.0,1051.5 202.5,1051.5 203.0,1051.5 203.5,1051.5 204.0,1051.5 204.5,1051.5 205.0,1051.5 205.5,1051.5 206.0,1051.5 206.5,1051.5 207.0,1051.5 207.5,1051.5 208.0,1051.5 208.5,1051.5 209.0,1051.5 209.5,1051.5 210.0,1051.5 210.5,1051.5 211.0,1051.5 211.5,1051.5 212.0,1051.5 212.5,1051.5 213.0,1051.5 213.5,1051.5 214.0,1051.5 214.5,1051.5 215.0,1051.5 215.5,1051.5 216.0,1051.5 216.5,1051.5 217.0,1051.5 217.5,1051.5 218.0,1051.5 218.5,1051.5 219.0,1051.5 219.5,1051.5 220.0,1051.5 220.5,1051.5 221.0,1051.5 221.5,1051.5 222.0,1051.5 222.5,1051.5 223.0,1051.5 223.5,1051.5 224.0,1051.5 224.5,1051.5 225.0,1051.5 225.5,1051.5 226.0,1051.5 226.5,1051.5 227.0,1051.5 227.5,1051.5 228.0,1051.5 228.5,1051.5 229.0,1051.5 229.5,1051.5 230.0,1051.5 230.5,1051.5 231.0,1051.5 231.5,1051.5 232.0,1051.5 232.5,1051.5 233.0,1051.5 233.5,1051.5 234.0,1051.5 234.5,1051.5 235.0,1051.5 235.5,1051.5 236.0,1051.5 236.5,1051.5 237.0,1051.5 237.5,1051.5 238.0,1051.5 238.5,1051.5 239.0,1051.5 239.5,1051.5 240.0,1051.5 240.5,1051.5 241.0,1051.5 241.5,1051.5 242.0,1051.5 242.5,1051.5 243.0,1051.5 243.5,1051.5 244.0,1051.5 244.5,1051.5 245.0,1051.5 245.5,1051.5 246.0,1051.5 246.5,1051.5 247.0,1051.5 247.5,1051.5 248.0,1051.5 248.5,1051.5 249.0,1051.5 249.5,1051.5 250.0,1051.5 250.5,1051.5 251.0,1051.5 251.5,1051.5 252.0,1051.5 252.5,1051.5 253.0,1051.5 253.5,1051.5 254.0,1051.5 254.5,1051.5 255.0,1051.4 255.5,1051.4 256.0,1051.4 256.5,1051.3 257.0,1051.2 257.5,1051.0 258.0,1050.8 258.5,1050.6 259.0,1050.3 259.5,1049.9 260.0,1049.4 260.5,1048.8 261.0,1048.0 261.5,1047.2 262.0,1046.3 262.5,1045.4 263.0,1044.4 263.5,1043.3 264.0,1042.4 264.5,1041.5 265.0,1040.7 265.5,1040.1 266.0,1039.6 266.5,1039.4 267.0,1039.4 267.5,1039.7 268.0,1040.2 268.5,1040.8 269.0,1041.6 269.5,1042.6 270.0,1043.5 270.5,1044.6 271.0,1045.6 271.5,1046.5 272.0,1047.4 272.5,1048.1 273.0,1048.8 273.5,1049.4 274.0,1049.8 274.5,1050.1 275.0,1050.3 275.5,1050.4 276.0,1050.3 276.5,1050.2 277.0,1049.9 277.5,1049.5 278.0,1049.0 278.5,1048.3 279.0,1047.6 279.5,1046.7 280.0,1045.7 280.5,1044.6 281.0,1043.5 281.5,1042.5 282.0,1041.4 282.5,1040.4 283.0,1039.6 283.5,1039.0 284.0,1038.6 284.5,1038.4 285.0,1038.5 285.5,1038.8 286.0,1039.4 286.5,1040.1 287.0,1041.0 287.5,1042.0 288.0,1043.1 288.5,1044.2 289.0,1045.3 289.5,1046.3 290.0,1047.2 290.5,1048.0 291.0,1048.6 291.5,1049.1 292.0,1049.5 292.5,1049.8 293.0,1049.9 293.5,1049.9 294.0,1049.7 294.5,1049.4 295.0,1049.0 295.5,1048.5 296.0,1047.9 296.5,1047.1 297.0,1046.4 297.5,1045.5 298.0,1044.7 298.5,1043.9 299.0,1043.1 299.5,1042.5 300.0,1041.9 300.5,1041.6 301.0,1041.4 301.5,1041.4 302.0,1041.6 302.5,1042.0 303.0,1042.6 303.5,1043.3 304.0,1044.0 304.5,1044.9 305.0,1045.7 305.5,1046.5 306.0,1047.3 306.5,1048.0 307.0,1048.6 307.5,1049.2 308.0,1049.6 308.5,1049.9 309.0,1050.1 309.5,1050.2 310.0,1050.1 310.5,1050.0 311.0,1049.8 311.5,1049.4 312.0,1049.0 312.5,1048.4 313.0,1047.8 313.5,1047.2 314.0,1046.4 314.5,1045.7 315.0,1045.0 315.5,1044.3 316.0,1043.7 316.5,1043.3 317.0,1042.9 317.5,1042.7 318.0,1042.7 318.5,1042.9 319.0,1043.2 319.5,1043.6 320.0,1044.2 320.5,1044.9 321.0,1045.6 321.5,1046.3 322.0,1047.0 322.5,1047.7 323.0,1048.3 323.5,1048.9 324.0,1049.3 324.5,1049.7 325.0,1049.9 325.5,1050.1 326.0,1050.1 326.5,1050.1 327.0,1049.9 327.5,1049.6 328.0,1049.2 328.5,1048.6 329.0,1048.0 329.5,1047.3 330.0,1046.5 330.5,1045.7 331.0,1044.9 331.5,1044.0 332.0,1043.3 332.5,1042.6 333.0,1042.0 333.5,1041.6 334.0,1041.4 334.5,1041.4 335.0,1041.6 335.5,1041.9 336.0,1042.5 336.5,1043.1 337.0,1043.9 337.5,1044.7 338.0,1045.5 338.5,1046.4 339.0,1047.2 339.5,1047.9 340.0,1048.6 340.5,1049.2" fill="none" stroke="#b06060" stroke-width="0.85"/>
<polygon points="261.2,1019.0 272.2,1019.0 266.7,1032.0" fill="#000"/>
</g></g>
<g>
<rect x="193.50" y="1055.50" width="147.00" height="70.00" fill="#fff" stroke="#444" stroke-width="1" />
<clipPath id="c588"><rect x="193.5" y="1055.5" width="147.0" height="70.0"/></clipPath>
<g clip-path="url(#c588)">
<text x="195.00" y="1061.30" font-size="5.8" fill="#111" textLength="144.50" lengthAdjust="spacingAndGlyphs" >HCT116_CB9_Ex14-VCP_Ex14_F Fragment base #</text>
<text x="203.50" y="1068.50" font-size="7.6" fill="#222" text-anchor="middle" stroke="#222" stroke-width="0.15">A</text>
<text x="220.30" y="1068.50" font-size="7.6" fill="#222" text-anchor="middle" stroke="#222" stroke-width="0.15">A</text>
<text x="235.60" y="1068.50" font-size="7.6" fill="#222" text-anchor="middle" stroke="#222" stroke-width="0.15">A</text>
<text x="252.00" y="1068.50" font-size="7.6" fill="#222" text-anchor="middle" stroke="#222" stroke-width="0.15">A</text>
<text x="268.00" y="1068.50" font-size="7.6" fill="#222" text-anchor="middle" stroke="#222" stroke-width="0.15">T</text>
<text x="284.60" y="1068.50" font-size="7.6" fill="#222" text-anchor="middle" stroke="#222" stroke-width="0.15">G</text>
<text x="301.20" y="1068.50" font-size="7.6" fill="#222" text-anchor="middle" stroke="#222" stroke-width="0.15">G</text>
<text x="317.80" y="1068.50" font-size="7.6" fill="#222" text-anchor="middle" stroke="#222" stroke-width="0.15">G</text>
<text x="333.80" y="1068.50" font-size="7.6" fill="#222" text-anchor="middle" stroke="#222" stroke-width="0.15">G</text>
<line x1="193.50" y1="1069.50" x2="340.50" y2="1069.50" stroke="#555" stroke-width="1" />
<text x="203.50" y="1076.80" font-size="9.2" font-weight="bold" fill="#3f9a4f" text-anchor="middle" font-family="Liberation Mono, monospace" stroke="#3f9a4f" stroke-width="0.45" transform="translate(203.50 1076.80) scale(0.72 1) translate(-203.50 -1076.80)">A</text>
<text x="220.30" y="1076.80" font-size="9.2" font-weight="bold" fill="#3f9a4f" text-anchor="middle" font-family="Liberation Mono, monospace" stroke="#3f9a4f" stroke-width="0.45" transform="translate(220.30 1076.80) scale(0.72 1) translate(-220.30 -1076.80)">A</text>
<text x="235.60" y="1076.80" font-size="9.2" font-weight="bold" fill="#3f9a4f" text-anchor="middle" font-family="Liberation Mono, monospace" stroke="#3f9a4f" stroke-width="0.45" transform="translate(235.60 1076.80) scale(0.72 1) translate(-235.60 -1076.80)">A</text>
<text x="252.00" y="1076.80" font-size="9.2" font-weight="bold" fill="#3f9a4f" text-anchor="middle" font-family="Liberation Mono, monospace" stroke="#3f9a4f" stroke-width="0.45" transform="translate(252.00 1076.80) scale(0.72 1) translate(-252.00 -1076.80)">A</text>
<text x="268.00" y="1076.80" font-size="9.2" font-weight="bold" fill="#b83a3a" text-anchor="middle" font-family="Liberation Mono, monospace" stroke="#b83a3a" stroke-width="0.45" transform="translate(268.00 1076.80) scale(0.72 1) translate(-268.00 -1076.80)">T</text>
<text x="284.60" y="1076.80" font-size="9.2" font-weight="bold" fill="#222222" text-anchor="middle" font-family="Liberation Mono, monospace" stroke="#222222" stroke-width="0.45" transform="translate(284.60 1076.80) scale(0.72 1) translate(-284.60 -1076.80)">G</text>
<text x="301.20" y="1076.80" font-size="9.2" font-weight="bold" fill="#222222" text-anchor="middle" font-family="Liberation Mono, monospace" stroke="#222222" stroke-width="0.45" transform="translate(301.20 1076.80) scale(0.72 1) translate(-301.20 -1076.80)">G</text>
<text x="317.80" y="1076.80" font-size="9.2" font-weight="bold" fill="#222222" text-anchor="middle" font-family="Liberation Mono, monospace" stroke="#222222" stroke-width="0.45" transform="translate(317.80 1076.80) scale(0.72 1) translate(-317.80 -1076.80)">G</text>
<text x="333.80" y="1076.80" font-size="9.2" font-weight="bold" fill="#222222" text-anchor="middle" font-family="Liberation Mono, monospace" stroke="#222222" stroke-width="0.45" transform="translate(333.80 1076.80) scale(0.72 1) translate(-333.80 -1076.80)">G</text>
<polyline points="193.5,1125.3 194.0,1125.1 194.5,1125.0 195.0,1124.7 195.5,1124.4 196.0,1124.0 196.5,1123.4 197.0,1122.8 197.5,1121.9 198.0,1120.9 198.5,1119.7 199.0,1118.3 199.5,1116.8 200.0,1115.2 200.5,1113.5 201.0,1111.8 201.5,1110.2 202.0,1108.7 202.5,1107.3 203.0,1106.3 203.5,1105.6 204.0,1105.2 204.5,1105.3 205.0,1105.7 205.5,1106.5 206.0,1107.6 206.5,1108.9 207.0,1110.5 207.5,1112.1 208.0,1113.8 208.5,1115.4 209.0,1117.0 209.5,1118.4 210.0,1119.6 210.5,1120.5 211.0,1121.3 211.5,1121.8 212.0,1122.0 212.5,1121.9 213.0,1121.6 213.5,1120.9 214.0,1120.1 214.5,1118.9 215.0,1117.6 215.5,1116.0 216.0,1114.2 216.5,1112.4 217.0,1110.5 217.5,1108.6 218.0,1106.9 218.5,1105.4 219.0,1104.1 219.5,1103.3 220.0,1102.8 220.5,1102.7 221.0,1103.1 221.5,1103.9 222.0,1105.1 222.5,1106.6 223.0,1108.3 223.5,1110.1 224.0,1112.0 224.5,1113.8 225.0,1115.6 225.5,1117.2 226.0,1118.6 226.5,1119.7 227.0,1120.6 227.5,1121.2 228.0,1121.5 228.5,1121.5 229.0,1121.3 229.5,1120.7 230.0,1119.9 230.5,1118.8 231.0,1117.5 231.5,1116.0 232.0,1114.4 232.5,1112.6 233.0,1110.9 233.5,1109.2 234.0,1107.7 234.5,1106.4 235.0,1105.4 235.5,1104.7 236.0,1104.4 236.5,1104.5 237.0,1105.0 237.5,1105.9 238.0,1107.1 238.5,1108.6 239.0,1110.2 239.5,1111.9 240.0,1113.7 240.5,1115.4 241.0,1117.0 241.5,1118.4 242.0,1119.6 242.5,1120.5 243.0,1121.2 243.5,1121.6 244.0,1121.8 244.5,1121.7 245.0,1121.2 245.5,1120.5 246.0,1119.5 246.5,1118.3 247.0,1116.8 247.5,1115.1 248.0,1113.2 248.5,1111.2 249.0,1109.2 249.5,1107.3 250.0,1105.5 250.5,1103.9 251.0,1102.7 251.5,1101.8 252.0,1101.4 252.5,1101.5 253.0,1102.0 253.5,1102.9 254.0,1104.2 254.5,1105.8 255.0,1107.7 255.5,1109.7 256.0,1111.7 256.5,1113.7 257.0,1115.6 257.5,1117.3 258.0,1118.9 258.5,1120.3 259.0,1121.5 259.5,1122.4 260.0,1123.2 260.5,1123.8 261.0,1124.3 261.5,1124.6 262.0,1124.9 262.5,1125.1 263.0,1125.2 263.5,1125.3 264.0,1125.4 264.5,1125.4 265.0,1125.5 265.5,1125.5 266.0,1125.5 266.5,1125.5 267.0,1125.5 267.5,1125.5 268.0,1125.5 268.5,1125.5 269.0,1125.5 269.5,1125.5 270.0,1125.5 270.5,1125.5 271.0,1125.5 271.5,1125.5 272.0,1125.5 272.5,1125.5 273.0,1125.5 273.5,1125.5 274.0,1125.5 274.5,1125.5 275.0,1125.5 275.5,1125.5 276.0,1125.5 276.5,1125.5 277.0,1125.5 277.5,1125.5 278.0,1125.5 278.5,1125.5 279.0,1125.5 279.5,1125.5 280.0,1125.5 280.5,1125.5 281.0,1125.5 281.5,1125.5 282.0,1125.5 282.5,1125.5 283.0,1125.5 283.5,1125.5 284.0,1125.5 284.5,1125.5 285.0,1125.5 285.5,1125.5 286.0,1125.5 286.5,1125.5 287.0,1125.5 287.5,1125.5 288.0,1125.5 288.5,1125.5 289.0,1125.5 289.5,1125.5 290.0,1125.5 290.5,1125.5 291.0,1125.5 291.5,1125.5 292.0,1125.5 292.5,1125.5 293.0,1125.5 293.5,1125.5 294.0,1125.5 294.5,1125.5 295.0,1125.5 295.5,1125.5 296.0,1125.5 296.5,1125.5 297.0,1125.5 297.5,1125.5 298.0,1125.5 298.5,1125.5 299.0,1125.5 299.5,1125.5 300.0,1125.5 300.5,1125.5 301.0,1125.5 301.5,1125.5 302.0,1125.5 302.5,1125.5 303.0,1125.5 303.5,1125.5 304.0,1125.5 304.5,1125.5 305.0,1125.5 305.5,1125.5 306.0,1125.5 306.5,1125.5 307.0,1125.5 307.5,1125.5 308.0,1125.5 308.5,1125.5 309.0,1125.5 309.5,1125.5 310.0,1125.5 310.5,1125.5 311.0,1125.5 311.5,1125.5 312.0,1125.5 312.5,1125.5 313.0,1125.5 313.5,1125.5 314.0,1125.5 314.5,1125.5 315.0,1125.5 315.5,1125.5 316.0,1125.5 316.5,1125.5 317.0,1125.5 317.5,1125.5 318.0,1125.5 318.5,1125.5 319.0,1125.5 319.5,1125.5 320.0,1125.5 320.5,1125.5 321.0,1125.5 321.5,1125.5 322.0,1125.5 322.5,1125.5 323.0,1125.5 323.5,1125.5 324.0,1125.5 324.5,1125.5 325.0,1125.5 325.5,1125.5 326.0,1125.5 326.5,1125.5 327.0,1125.5 327.5,1125.5 328.0,1125.5 328.5,1125.5 329.0,1125.5 329.5,1125.5 330.0,1125.5 330.5,1125.5 331.0,1125.5 331.5,1125.5 332.0,1125.5 332.5,1125.5 333.0,1125.5 333.5,1125.5 334.0,1125.5 334.5,1125.5 335.0,1125.5 335.5,1125.5 336.0,1125.5 336.5,1125.5 337.0,1125.5 337.5,1125.5 338.0,1125.5 338.5,1125.5 339.0,1125.5 339.5,1125.5 340.0,1125.5 340.5,1125.5" fill="none" stroke="#62a070" stroke-width="0.85"/>
<polyline points="193.5,1125.5 194.0,1125.5 194.5,1125.5 195.0,1125.5 195.5,1125.5 196.0,1125.5 196.5,1125.5 197.0,1125.5 197.5,1125.5 198.0,1125.5 198.5,1125.5 199.0,1125.5 199.5,1125.5 200.0,1125.5 200.5,1125.5 201.0,1125.5 201.5,1125.5 202.0,1125.5 202.5,1125.5 203.0,1125.5 203.5,1125.5 204.0,1125.5 204.5,1125.5 205.0,1125.5 205.5,1125.5 206.0,1125.5 206.5,1125.5 207.0,1125.5 207.5,1125.5 208.0,1125.5 208.5,1125.5 209.0,1125.5 209.5,1125.5 210.0,1125.5 210.5,1125.5 211.0,1125.5 211.5,1125.5 212.0,1125.5 212.5,1125.5 213.0,1125.5 213.5,1125.5 214.0,1125.5 214.5,1125.5 215.0,1125.5 215.5,1125.5 216.0,1125.5 216.5,1125.5 217.0,1125.5 217.5,1125.5 218.0,1125.5 218.5,1125.5 219.0,1125.5 219.5,1125.5 220.0,1125.5 220.5,1125.5 221.0,1125.5 221.5,1125.5 222.0,1125.5 222.5,1125.5 223.0,1125.5 223.5,1125.5 224.0,1125.5 224.5,1125.5 225.0,1125.5 225.5,1125.5 226.0,1125.5 226.5,1125.5 227.0,1125.5 227.5,1125.5 228.0,1125.5 228.5,1125.5 229.0,1125.5 229.5,1125.5 230.0,1125.5 230.5,1125.5 231.0,1125.5 231.5,1125.5 232.0,1125.5 232.5,1125.5 233.0,1125.5 233.5,1125.5 234.0,1125.5 234.5,1125.5 235.0,1125.5 235.5,1125.5 236.0,1125.5 236.5,1125.5 237.0,1125.5 237.5,1125.5 238.0,1125.5 238.5,1125.5 239.0,1125.5 239.5,1125.5 240.0,1125.5 240.5,1125.5 241.0,1125.5 241.5,1125.5 242.0,1125.5 242.5,1125.5 243.0,1125.5 243.5,1125.5 244.0,1125.5 244.5,1125.5 245.0,1125.5 245.5,1125.5 246.0,1125.5 246.5,1125.5 247.0,1125.5 247.5,1125.5 248.0,1125.5 248.5,1125.5 249.0,1125.5 249.5,1125.5 250.0,1125.5 250.5,1125.5 251.0,1125.5 251.5,1125.5 252.0,1125.5 252.5,1125.5 253.0,1125.5 253.5,1125.5 254.0,1125.5 254.5,1125.5 255.0,1125.4 255.5,1125.4 256.0,1125.3 256.5,1125.2 257.0,1125.1 257.5,1125.0 258.0,1124.8 258.5,1124.5 259.0,1124.1 259.5,1123.6 260.0,1123.0 260.5,1122.3 261.0,1121.5 261.5,1120.6 262.0,1119.6 262.5,1118.5 263.0,1117.3 263.5,1116.1 264.0,1115.0 264.5,1114.0 265.0,1113.1 265.5,1112.4 266.0,1111.9 266.5,1111.6 267.0,1111.6 267.5,1111.9 268.0,1112.5 268.5,1113.2 269.0,1114.2 269.5,1115.2 270.0,1116.4 270.5,1117.5 271.0,1118.7 271.5,1119.8 272.0,1120.8 272.5,1121.6 273.0,1122.4 273.5,1123.0 274.0,1123.5 274.5,1123.8 275.0,1123.9 275.5,1124.0 276.0,1123.8 276.5,1123.5 277.0,1123.1 277.5,1122.4 278.0,1121.6 278.5,1120.6 279.0,1119.4 279.5,1118.0 280.0,1116.5 280.5,1114.9 281.0,1113.2 281.5,1111.5 282.0,1109.9 282.5,1108.4 283.0,1107.1 283.5,1106.1 284.0,1105.5 284.5,1105.2 285.0,1105.3 285.5,1105.8 286.0,1106.7 286.5,1107.8 287.0,1109.2 287.5,1110.8 288.0,1112.5 288.5,1114.2 289.0,1115.8 289.5,1117.4 290.0,1118.8 290.5,1120.0 291.0,1121.0 291.5,1121.8 292.0,1122.3 292.5,1122.6 293.0,1122.7 293.5,1122.6 294.0,1122.3 294.5,1121.7 295.0,1120.9 295.5,1119.9 296.0,1118.7 296.5,1117.3 297.0,1115.8 297.5,1114.3 298.0,1112.7 298.5,1111.1 299.0,1109.7 299.5,1108.5 300.0,1107.5 300.5,1106.9 301.0,1106.5 301.5,1106.6 302.0,1107.0 302.5,1107.7 303.0,1108.7 303.5,1110.0 304.0,1111.5 304.5,1113.0 305.0,1114.6 305.5,1116.2 306.0,1117.6 306.5,1119.0 307.0,1120.2 307.5,1121.2 308.0,1122.0 308.5,1122.6 309.0,1123.0 309.5,1123.2 310.0,1123.3 310.5,1123.1 311.0,1122.8 311.5,1122.3 312.0,1121.7 312.5,1120.9 313.0,1120.0 313.5,1119.0 314.0,1117.9 314.5,1116.8 315.0,1115.7 315.5,1114.7 316.0,1113.8 316.5,1113.1 317.0,1112.6 317.5,1112.3 318.0,1112.3 318.5,1112.5 319.0,1113.0 319.5,1113.7 320.0,1114.5 320.5,1115.5 321.0,1116.6 321.5,1117.7 322.0,1118.8 322.5,1119.8 323.0,1120.7 323.5,1121.6 324.0,1122.2 324.5,1122.8 325.0,1123.2 325.5,1123.4 326.0,1123.4 326.5,1123.3 327.0,1123.0 327.5,1122.5 328.0,1121.9 328.5,1121.1 329.0,1120.1 329.5,1119.0 330.0,1117.8 330.5,1116.5 331.0,1115.2 331.5,1113.9 332.0,1112.7 332.5,1111.6 333.0,1110.8 333.5,1110.2 334.0,1109.9 334.5,1109.8 335.0,1110.1 335.5,1110.6 336.0,1111.5 336.5,1112.5 337.0,1113.6 337.5,1114.9 338.0,1116.2 338.5,1117.6 339.0,1118.8 339.5,1120.0 340.0,1121.0 340.5,1121.9" fill="none" stroke="#3a3a3a" stroke-width="0.85"/>
<polyline points="193.5,1125.5 194.0,1125.5 194.5,1125.5 195.0,1125.5 195.5,1125.5 196.0,1125.5 196.5,1125.5 197.0,1125.5 197.5,1125.5 198.0,1125.5 198.5,1125.5 199.0,1125.5 199.5,1125.5 200.0,1125.5 200.5,1125.5 201.0,1125.5 201.5,1125.5 202.0,1125.5 202.5,1125.5 203.0,1125.5 203.5,1125.5 204.0,1125.5 204.5,1125.5 205.0,1125.5 205.5,1125.5 206.0,1125.5 206.5,1125.5 207.0,1125.5 207.5,1125.5 208.0,1125.5 208.5,1125.5 209.0,1125.5 209.5,1125.5 210.0,1125.5 210.5,1125.5 211.0,1125.5 211.5,1125.5 212.0,1125.5 212.5,1125.5 213.0,1125.5 213.5,1125.5 214.0,1125.5 214.5,1125.5 215.0,1125.5 215.5,1125.5 216.0,1125.5 216.5,1125.5 217.0,1125.5 217.5,1125.5 218.0,1125.5 218.5,1125.5 219.0,1125.5 219.5,1125.5 220.0,1125.5 220.5,1125.5 221.0,1125.5 221.5,1125.5 222.0,1125.5 222.5,1125.5 223.0,1125.5 223.5,1125.5 224.0,1125.5 224.5,1125.5 225.0,1125.5 225.5,1125.5 226.0,1125.5 226.5,1125.5 227.0,1125.5 227.5,1125.5 228.0,1125.5 228.5,1125.5 229.0,1125.5 229.5,1125.5 230.0,1125.5 230.5,1125.5 231.0,1125.5 231.5,1125.5 232.0,1125.5 232.5,1125.5 233.0,1125.5 233.5,1125.5 234.0,1125.5 234.5,1125.5 235.0,1125.5 235.5,1125.5 236.0,1125.5 236.5,1125.5 237.0,1125.5 237.5,1125.5 238.0,1125.5 238.5,1125.5 239.0,1125.5 239.5,1125.5 240.0,1125.5 240.5,1125.5 241.0,1125.5 241.5,1125.5 242.0,1125.5 242.5,1125.5 243.0,1125.5 243.5,1125.5 244.0,1125.5 244.5,1125.5 245.0,1125.5 245.5,1125.5 246.0,1125.5 246.5,1125.5 247.0,1125.5 247.5,1125.5 248.0,1125.5 248.5,1125.5 249.0,1125.5 249.5,1125.5 250.0,1125.5 250.5,1125.5 251.0,1125.5 251.5,1125.5 252.0,1125.5 252.5,1125.5 253.0,1125.5 253.5,1125.5 254.0,1125.5 254.5,1125.5 255.0,1125.4 255.5,1125.4 256.0,1125.4 256.5,1125.3 257.0,1125.2 257.5,1125.0 258.0,1124.8 258.5,1124.6 259.0,1124.3 259.5,1123.9 260.0,1123.4 260.5,1122.8 261.0,1122.0 261.5,1121.2 262.0,1120.3 262.5,1119.4 263.0,1118.4 263.5,1117.3 264.0,1116.4 264.5,1115.5 265.0,1114.7 265.5,1114.1 266.0,1113.6 266.5,1113.4 267.0,1113.4 267.5,1113.7 268.0,1114.2 268.5,1114.8 269.0,1115.6 269.5,1116.6 270.0,1117.5 270.5,1118.6 271.0,1119.6 271.5,1120.5 272.0,1121.4 272.5,1122.2 273.0,1122.8 273.5,1123.4 274.0,1123.8 274.5,1124.1 275.0,1124.3 275.5,1124.4 276.0,1124.3 276.5,1124.2 277.0,1123.9 277.5,1123.6 278.0,1123.1 278.5,1122.4 279.0,1121.7 279.5,1120.9 280.0,1119.9 280.5,1118.9 281.0,1117.9 281.5,1116.8 282.0,1115.8 282.5,1114.9 283.0,1114.1 283.5,1113.5 284.0,1113.1 284.5,1112.9 285.0,1113.0 285.5,1113.3 286.0,1113.8 286.5,1114.5 287.0,1115.4 287.5,1116.4 288.0,1117.4 288.5,1118.5 289.0,1119.5 289.5,1120.5 290.0,1121.3 290.5,1122.1 291.0,1122.7 291.5,1123.2 292.0,1123.6 292.5,1123.8 293.0,1123.9 293.5,1123.8 294.0,1123.7 294.5,1123.4 295.0,1122.9 295.5,1122.4 296.0,1121.7 296.5,1121.0 297.0,1120.2 297.5,1119.3 298.0,1118.4 298.5,1117.6 299.0,1116.8 299.5,1116.1 300.0,1115.6 300.5,1115.2 301.0,1115.0 301.5,1115.0 302.0,1115.3 302.5,1115.7 303.0,1116.2 303.5,1116.9 304.0,1117.7 304.5,1118.6 305.0,1119.5 305.5,1120.3 306.0,1121.1 306.5,1121.9 307.0,1122.5 307.5,1123.1 308.0,1123.5 308.5,1123.8 309.0,1124.1 309.5,1124.1 310.0,1124.1 310.5,1124.0 311.0,1123.8 311.5,1123.4 312.0,1123.0 312.5,1122.4 313.0,1121.8 313.5,1121.2 314.0,1120.4 314.5,1119.7 315.0,1119.0 315.5,1118.3 316.0,1117.7 316.5,1117.3 317.0,1116.9 317.5,1116.7 318.0,1116.7 318.5,1116.9 319.0,1117.2 319.5,1117.6 320.0,1118.2 320.5,1118.9 321.0,1119.6 321.5,1120.3 322.0,1121.0 322.5,1121.7 323.0,1122.3 323.5,1122.9 324.0,1123.3 324.5,1123.7 325.0,1123.9 325.5,1124.1 326.0,1124.1 326.5,1124.1 327.0,1123.9 327.5,1123.6 328.0,1123.2 328.5,1122.6 329.0,1122.0 329.5,1121.3 330.0,1120.5 330.5,1119.7 331.0,1118.9 331.5,1118.0 332.0,1117.3 332.5,1116.6 333.0,1116.0 333.5,1115.6 334.0,1115.4 334.5,1115.4 335.0,1115.6 335.5,1115.9 336.0,1116.5 336.5,1117.1 337.0,1117.9 337.5,1118.7 338.0,1119.5 338.5,1120.4 339.0,1121.2 339.5,1121.9 340.0,1122.6 340.5,1123.2" fill="none" stroke="#b06060" stroke-width="0.85"/>
<polygon points="261.2,1089.9 272.2,1089.9 266.7,1103.2" fill="#000"/>
</g></g>
<text x="19.70" y="1059.40" font-size="11.8" font-weight="bold" text-anchor="middle" textLength="33.30" lengthAdjust="spacingAndGlyphs" transform="rotate(-90 19.70 1059.40)" >gDNA</text>
<text x="355.30" y="1016.00" font-size="11.8" font-weight="bold" text-anchor="middle" textLength="65.80" lengthAdjust="spacingAndGlyphs" transform="rotate(-90 355.30 1016.00)" >HCT116-par</text>
<text x="355.30" y="1090.30" font-size="11.8" font-weight="bold" text-anchor="middle" textLength="65.10" lengthAdjust="spacingAndGlyphs" transform="rotate(-90 355.30 1090.30)" >HCT116-res</text>
<text x="74.00" y="1141.80" font-size="13" font-weight="bold" font-style="italic" textLength="45.40" lengthAdjust="spacingAndGlyphs" >Exon 13</text>
<text x="232.30" y="1142.00" font-size="13" font-weight="bold" font-style="italic" textLength="44.70" lengthAdjust="spacingAndGlyphs" >Exon 14</text>
<g>
<rect x="422.50" y="980.50" width="148.00" height="68.00" fill="#fff" stroke="#444" stroke-width="1" />
<clipPath id="c622"><rect x="422.5" y="980.5" width="148.0" height="68.0"/></clipPath>
<g clip-path="url(#c622)">
<text x="424.00" y="986.30" font-size="5.8" fill="#111" textLength="145.50" lengthAdjust="spacingAndGlyphs" >HCT116_par_Ex6_15-cDNA_6_15_F Fragment base #628</text>
<text x="435.10" y="993.50" font-size="7.6" fill="#222" text-anchor="middle" stroke="#222" stroke-width="0.15">A</text>
<text x="449.70" y="993.50" font-size="7.6" fill="#222" text-anchor="middle" stroke="#222" stroke-width="0.15">C</text>
<text x="465.40" y="993.50" font-size="7.6" fill="#222" text-anchor="middle" stroke="#222" stroke-width="0.15">T</text>
<text x="481.90" y="993.50" font-size="7.6" fill="#222" text-anchor="middle" stroke="#222" stroke-width="0.15">T</text>
<text x="497.40" y="993.50" font-size="7.6" fill="#222" text-anchor="middle" stroke="#222" stroke-width="0.15">T</text>
<text x="513.40" y="993.50" font-size="7.6" fill="#222" text-anchor="middle" stroke="#222" stroke-width="0.15">G</text>
<text x="529.70" y="993.50" font-size="7.6" fill="#222" text-anchor="middle" stroke="#222" stroke-width="0.15">T</text>
<text x="544.90" y="993.50" font-size="7.6" fill="#222" text-anchor="middle" stroke="#222" stroke-width="0.15">T</text>
<text x="561.20" y="993.50" font-size="7.6" fill="#222" text-anchor="middle" stroke="#222" stroke-width="0.15">G</text>
<line x1="422.50" y1="994.50" x2="570.50" y2="994.50" stroke="#555" stroke-width="1" />
<text x="435.10" y="1001.80" font-size="9.2" font-weight="bold" fill="#3f9a4f" text-anchor="middle" font-family="Liberation Mono, monospace" stroke="#3f9a4f" stroke-width="0.45" transform="translate(435.10 1001.80) scale(0.72 1) translate(-435.10 -1001.80)">A</text>
<text x="449.70" y="1001.80" font-size="9.2" font-weight="bold" fill="#2b2ba0" text-anchor="middle" font-family="Liberation Mono, monospace" stroke="#2b2ba0" stroke-width="0.45" transform="translate(449.70 1001.80) scale(0.72 1) translate(-449.70 -1001.80)">C</text>
<text x="465.40" y="1001.80" font-size="9.2" font-weight="bold" fill="#b83a3a" text-anchor="middle" font-family="Liberation Mono, monospace" stroke="#b83a3a" stroke-width="0.45" transform="translate(465.40 1001.80) scale(0.72 1) translate(-465.40 -1001.80)">T</text>
<text x="481.90" y="1001.80" font-size="9.2" font-weight="bold" fill="#b83a3a" text-anchor="middle" font-family="Liberation Mono, monospace" stroke="#b83a3a" stroke-width="0.45" transform="translate(481.90 1001.80) scale(0.72 1) translate(-481.90 -1001.80)">T</text>
<text x="497.40" y="1001.80" font-size="9.2" font-weight="bold" fill="#b83a3a" text-anchor="middle" font-family="Liberation Mono, monospace" stroke="#b83a3a" stroke-width="0.45" transform="translate(497.40 1001.80) scale(0.72 1) translate(-497.40 -1001.80)">T</text>
<text x="513.40" y="1001.80" font-size="9.2" font-weight="bold" fill="#222222" text-anchor="middle" font-family="Liberation Mono, monospace" stroke="#222222" stroke-width="0.45" transform="translate(513.40 1001.80) scale(0.72 1) translate(-513.40 -1001.80)">G</text>
<text x="529.70" y="1001.80" font-size="9.2" font-weight="bold" fill="#b83a3a" text-anchor="middle" font-family="Liberation Mono, monospace" stroke="#b83a3a" stroke-width="0.45" transform="translate(529.70 1001.80) scale(0.72 1) translate(-529.70 -1001.80)">T</text>
<text x="544.90" y="1001.80" font-size="9.2" font-weight="bold" fill="#b83a3a" text-anchor="middle" font-family="Liberation Mono, monospace" stroke="#b83a3a" stroke-width="0.45" transform="translate(544.90 1001.80) scale(0.72 1) translate(-544.90 -1001.80)">T</text>
<text x="561.20" y="1001.80" font-size="9.2" font-weight="bold" fill="#222222" text-anchor="middle" font-family="Liberation Mono, monospace" stroke="#222222" stroke-width="0.45" transform="translate(561.20 1001.80) scale(0.72 1) translate(-561.20 -1001.80)">G</text>
<polyline points="422.5,1034.9 423.0,1034.1 423.5,1033.5 424.0,1033.0 424.5,1032.7 425.0,1032.5 425.5,1032.5 426.0,1032.5 426.5,1032.7 427.0,1032.8 427.5,1033.0 428.0,1033.2 428.5,1033.3 429.0,1033.3 429.5,1033.3 430.0,1033.2 430.5,1033.0 431.0,1032.8 431.5,1032.5 432.0,1032.1 432.5,1031.8 433.0,1031.4 433.5,1031.0 434.0,1030.6 434.5,1030.3 435.0,1030.1 435.5,1029.9 436.0,1029.8 436.5,1029.8 437.0,1029.9 437.5,1030.1 438.0,1030.4 438.5,1030.9 439.0,1031.5 439.5,1032.1 440.0,1032.9 440.5,1033.8 441.0,1034.8 441.5,1035.9 442.0,1037.0 442.5,1038.1 443.0,1039.2 443.5,1040.3 444.0,1041.4 444.5,1042.4 445.0,1043.3 445.5,1044.2 446.0,1044.9 446.5,1045.6 447.0,1046.2 447.5,1046.7 448.0,1047.1 448.5,1047.4 449.0,1047.7 449.5,1047.9 450.0,1048.0 450.5,1048.2 451.0,1048.3 451.5,1048.3 452.0,1048.4 452.5,1048.4 453.0,1048.4 453.5,1048.5 454.0,1048.5 454.5,1048.5 455.0,1048.5 455.5,1048.5 456.0,1048.5 456.5,1048.5 457.0,1048.5 457.5,1048.5 458.0,1048.5 458.5,1048.5 459.0,1048.5 459.5,1048.5 460.0,1048.5 460.5,1048.5 461.0,1048.5 461.5,1048.5 462.0,1048.5 462.5,1048.5 463.0,1048.5 463.5,1048.5 464.0,1048.5 464.5,1048.5 465.0,1048.5 465.5,1048.5 466.0,1048.5 466.5,1048.5 467.0,1048.5 467.5,1048.5 468.0,1048.5 468.5,1048.5 469.0,1048.5 469.5,1048.5 470.0,1048.5 470.5,1048.5 471.0,1048.5 471.5,1048.5 472.0,1048.5 472.5,1048.5 473.0,1048.5 473.5,1048.5 474.0,1048.5 474.5,1048.5 475.0,1048.5 475.5,1048.5 476.0,1048.5 476.5,1048.5 477.0,1048.5 477.5,1048.5 478.0,1048.5 478.5,1048.5 479.0,1048.5 479.5,1048.5 480.0,1048.5 480.5,1048.5 481.0,1048.5 481.5,1048.5 482.0,1048.5 482.5,1048.5 483.0,1048.5 483.5,1048.5 484.0,1048.5 484.5,1048.5 485.0,1048.5 485.5,1048.5 486.0,1048.5 486.5,1048.5 487.0,1048.5 487.5,1048.5 488.0,1048.5 488.5,1048.5 489.0,1048.5 489.5,1048.5 490.0,1048.5 490.5,1048.5 491.0,1048.5 491.5,1048.5 492.0,1048.5 492.5,1048.5 493.0,1048.5 493.5,1048.5 494.0,1048.5 494.5,1048.5 495.0,1048.5 495.5,1048.5 496.0,1048.5 496.5,1048.5 497.0,1048.5 497.5,1048.5 498.0,1048.5 498.5,1048.5 499.0,1048.5 499.5,1048.5 500.0,1048.5 500.5,1048.5 501.0,1048.5 501.5,1048.5 502.0,1048.5 502.5,1048.5 503.0,1048.5 503.5,1048.5 504.0,1048.5 504.5,1048.5 505.0,1048.5 505.5,1048.5 506.0,1048.5 506.5,1048.5 507.0,1048.5 507.5,1048.5 508.0,1048.5 508.5,1048.5 509.0,1048.5 509.5,1048.5 510.0,1048.5 510.5,1048.5 511.0,1048.5 511.5,1048.5 512.0,1048.5 512.5,1048.5 513.0,1048.5 513.5,1048.5 514.0,1048.5 514.5,1048.5 515.0,1048.5 515.5,1048.5 516.0,1048.5 516.5,1048.5 517.0,1048.5 517.5,1048.5 518.0,1048.5 518.5,1048.5 519.0,1048.5 519.5,1048.5 520.0,1048.5 520.5,1048.5 521.0,1048.5 521.5,1048.5 522.0,1048.5 522.5,1048.5 523.0,1048.5 523.5,1048.5 524.0,1048.5 524.5,1048.5 525.0,1048.5 525.5,1048.5 526.0,1048.5 526.5,1048.5 527.0,1048.5 527.5,1048.5 528.0,1048.5 528.5,1048.5 529.0,1048.5 529.5,1048.5 530.0,1048.5 530.5,1048.5 531.0,1048.5 531.5,1048.5 532.0,1048.5 532.5,1048.5 533.0,1048.5 533.5,1048.5 534.0,1048.5 534.5,1048.5 535.0,1048.5 535.5,1048.5 536.0,1048.5 536.5,1048.5 537.0,1048.5 537.5,1048.5 538.0,1048.5 538.5,1048.5 539.0,1048.5 539.5,1048.5 540.0,1048.5 540.5,1048.5 541.0,1048.5 541.5,1048.5 542.0,1048.5 542.5,1048.5 543.0,1048.5 543.5,1048.5 544.0,1048.5 544.5,1048.5 545.0,1048.5 545.5,1048.5 546.0,1048.5 546.5,1048.5 547.0,1048.5 547.5,1048.5 548.0,1048.5 548.5,1048.5 549.0,1048.5 549.5,1048.5 550.0,1048.5 550.5,1048.5 551.0,1048.5 551.5,1048.5 552.0,1048.5 552.5,1048.5 553.0,1048.5 553.5,1048.5 554.0,1048.5 554.5,1048.5 555.0,1048.5 555.5,1048.5 556.0,1048.5 556.5,1048.5 557.0,1048.5 557.5,1048.5 558.0,1048.5 558.5,1048.5 559.0,1048.5 559.5,1048.5 560.0,1048.5 560.5,1048.5 561.0,1048.5 561.5,1048.5 562.0,1048.5 562.5,1048.5 563.0,1048.5 563.5,1048.5 564.0,1048.5 564.5,1048.5 565.0,1048.5 565.5,1048.5 566.0,1048.5 566.5,1048.5 567.0,1048.5 567.5,1048.5 568.0,1048.5 568.5,1048.5 569.0,1048.5 569.5,1048.5 570.0,1048.5 570.5,1048.5" fill="none" stroke="#62a070" stroke-width="0.85"/>
<polyline points="422.5,1048.5 423.0,1048.5 423.5,1048.5 424.0,1048.5 424.5,1048.5 425.0,1048.5 425.5,1048.5 426.0,1048.5 426.5,1048.5 427.0,1048.5 427.5,1048.5 428.0,1048.5 428.5,1048.5 429.0,1048.5 429.5,1048.5 430.0,1048.5 430.5,1048.5 431.0,1048.5 431.5,1048.5 432.0,1048.5 432.5,1048.5 433.0,1048.5 433.5,1048.5 434.0,1048.5 434.5,1048.5 435.0,1048.5 435.5,1048.4 436.0,1048.4 436.5,1048.4 437.0,1048.3 437.5,1048.2 438.0,1048.1 438.5,1048.0 439.0,1047.9 439.5,1047.6 440.0,1047.4 440.5,1047.1 441.0,1046.7 441.5,1046.2 442.0,1045.6 442.5,1045.0 443.0,1044.3 443.5,1043.4 444.0,1042.6 444.5,1041.6 445.0,1040.6 445.5,1039.6 446.0,1038.6 446.5,1037.7 447.0,1036.8 447.5,1036.0 448.0,1035.3 448.5,1034.7 449.0,1034.4 449.5,1034.2 450.0,1034.2 450.5,1034.4 451.0,1034.8 451.5,1035.4 452.0,1036.1 452.5,1036.9 453.0,1037.8 453.5,1038.8 454.0,1039.8 454.5,1040.8 455.0,1041.8 455.5,1042.7 456.0,1043.6 456.5,1044.4 457.0,1045.1 457.5,1045.7 458.0,1046.3 458.5,1046.7 459.0,1047.1 459.5,1047.4 460.0,1047.7 460.5,1047.9 461.0,1048.0 461.5,1048.2 462.0,1048.3 462.5,1048.3 463.0,1048.4 463.5,1048.4 464.0,1048.4 464.5,1048.5 465.0,1048.5 465.5,1048.5 466.0,1048.5 466.5,1048.5 467.0,1048.5 467.5,1048.5 468.0,1048.5 468.5,1048.5 469.0,1048.5 469.5,1048.5 470.0,1048.5 470.5,1048.5 471.0,1048.5 471.5,1048.5 472.0,1048.5 472.5,1048.5 473.0,1048.5 473.5,1048.5 474.0,1048.5 474.5,1048.5 475.0,1048.5 475.5,1048.5 476.0,1048.5 476.5,1048.5 477.0,1048.5 477.5,1048.5 478.0,1048.5 478.5,1048.5 479.0,1048.5 479.5,1048.5 480.0,1048.5 480.5,1048.5 481.0,1048.5 481.5,1048.5 482.0,1048.5 482.5,1048.5 483.0,1048.5 483.5,1048.5 484.0,1048.5 484.5,1048.5 485.0,1048.5 485.5,1048.5 486.0,1048.5 486.5,1048.5 487.0,1048.5 487.5,1048.5 488.0,1048.5 488.5,1048.5 489.0,1048.5 489.5,1048.5 490.0,1048.5 490.5,1048.5 491.0,1048.5 491.5,1048.5 492.0,1048.5 492.5,1048.5 493.0,1048.5 493.5,1048.5 494.0,1048.5 494.5,1048.5 495.0,1048.5 495.5,1048.5 496.0,1048.5 496.5,1048.5 497.0,1048.5 497.5,1048.5 498.0,1048.5 498.5,1048.5 499.0,1048.5 499.5,1048.5 500.0,1048.5 500.5,1048.5 501.0,1048.5 501.5,1048.5 502.0,1048.5 502.5,1048.5 503.0,1048.5 503.5,1048.5 504.0,1048.5 504.5,1048.5 505.0,1048.5 505.5,1048.5 506.0,1048.5 506.5,1048.5 507.0,1048.5 507.5,1048.5 508.0,1048.5 508.5,1048.5 509.0,1048.5 509.5,1048.5 510.0,1048.5 510.5,1048.5 511.0,1048.5 511.5,1048.5 512.0,1048.5 512.5,1048.5 513.0,1048.5 513.5,1048.5 514.0,1048.5 514.5,1048.5 515.0,1048.5 515.5,1048.5 516.0,1048.5 516.5,1048.5 517.0,1048.5 517.5,1048.5 518.0,1048.5 518.5,1048.5 519.0,1048.5 519.5,1048.5 520.0,1048.5 520.5,1048.5 521.0,1048.5 521.5,1048.5 522.0,1048.5 522.5,1048.5 523.0,1048.5 523.5,1048.5 524.0,1048.5 524.5,1048.5 525.0,1048.5 525.5,1048.5 526.0,1048.5 526.5,1048.5 527.0,1048.5 527.5,1048.5 528.0,1048.5 528.5,1048.5 529.0,1048.5 529.5,1048.5 530.0,1048.5 530.5,1048.5 531.0,1048.5 531.5,1048.5 532.0,1048.5 532.5,1048.5 533.0,1048.5 533.5,1048.5 534.0,1048.5 534.5,1048.5 535.0,1048.5 535.5,1048.5 536.0,1048.5 536.5,1048.5 537.0,1048.5 537.5,1048.5 538.0,1048.5 538.5,1048.5 539.0,1048.5 539.5,1048.5 540.0,1048.5 540.5,1048.5 541.0,1048.5 541.5,1048.5 542.0,1048.5 542.5,1048.5 543.0,1048.5 543.5,1048.5 544.0,1048.5 544.5,1048.5 545.0,1048.5 545.5,1048.5 546.0,1048.5 546.5,1048.5 547.0,1048.5 547.5,1048.5 548.0,1048.5 548.5,1048.5 549.0,1048.5 549.5,1048.5 550.0,1048.5 550.5,1048.5 551.0,1048.5 551.5,1048.5 552.0,1048.5 552.5,1048.5 553.0,1048.5 553.5,1048.5 554.0,1048.5 554.5,1048.5 555.0,1048.5 555.5,1048.5 556.0,1048.5 556.5,1048.5 557.0,1048.5 557.5,1048.5 558.0,1048.5 558.5,1048.5 559.0,1048.5 559.5,1048.5 560.0,1048.5 560.5,1048.5 561.0,1048.5 561.5,1048.5 562.0,1048.5 562.5,1048.5 563.0,1048.5 563.5,1048.5 564.0,1048.5 564.5,1048.5 565.0,1048.5 565.5,1048.5 566.0,1048.5 566.5,1048.5 567.0,1048.5 567.5,1048.5 568.0,1048.5 568.5,1048.5 569.0,1048.5 569.5,1048.5 570.0,1048.5 570.5,1048.5" fill="none" stroke="#404088" stroke-width="0.85"/>
<polyline points="422.5,1048.5 423.0,1048.5 423.5,1048.5 424.0,1048.5 424.5,1048.5 425.0,1048.5 425.5,1048.5 426.0,1048.5 426.5,1048.5 427.0,1048.5 427.5,1048.5 428.0,1048.5 428.5,1048.5 429.0,1048.5 429.5,1048.5 430.0,1048.5 430.5,1048.5 431.0,1048.5 431.5,1048.5 432.0,1048.5 432.5,1048.5 433.0,1048.5 433.5,1048.5 434.0,1048.5 434.5,1048.5 435.0,1048.5 435.5,1048.5 436.0,1048.5 436.5,1048.5 437.0,1048.5 437.5,1048.5 438.0,1048.5 438.5,1048.5 439.0,1048.5 439.5,1048.5 440.0,1048.5 440.5,1048.5 441.0,1048.5 441.5,1048.5 442.0,1048.5 442.5,1048.5 443.0,1048.5 443.5,1048.5 444.0,1048.5 444.5,1048.5 445.0,1048.5 445.5,1048.5 446.0,1048.5 446.5,1048.5 447.0,1048.5 447.5,1048.5 448.0,1048.5 448.5,1048.4 449.0,1048.4 449.5,1048.4 450.0,1048.3 450.5,1048.3 451.0,1048.2 451.5,1048.1 452.0,1048.0 452.5,1047.8 453.0,1047.6 453.5,1047.4 454.0,1047.1 454.5,1046.7 455.0,1046.3 455.5,1045.8 456.0,1045.2 456.5,1044.5 457.0,1043.7 457.5,1042.9 458.0,1042.0 458.5,1041.0 459.0,1039.9 459.5,1038.8 460.0,1037.6 460.5,1036.4 461.0,1035.2 461.5,1034.1 462.0,1033.0 462.5,1032.0 463.0,1031.1 463.5,1030.3 464.0,1029.7 464.5,1029.2 465.0,1028.9 465.5,1028.8 466.0,1028.9 466.5,1029.1 467.0,1029.5 467.5,1030.0 468.0,1030.7 468.5,1031.4 469.0,1032.2 469.5,1033.0 470.0,1033.8 470.5,1034.5 471.0,1035.2 471.5,1035.8 472.0,1036.3 472.5,1036.7 473.0,1036.9 473.5,1037.0 474.0,1037.0 474.5,1036.9 475.0,1036.6 475.5,1036.3 476.0,1035.9 476.5,1035.5 477.0,1035.1 477.5,1034.7 478.0,1034.3 478.5,1034.0 479.0,1033.8 479.5,1033.7 480.0,1033.7 480.5,1033.8 481.0,1034.0 481.5,1034.4 482.0,1034.8 482.5,1035.4 483.0,1036.0 483.5,1036.7 484.0,1037.4 484.5,1038.0 485.0,1038.7 485.5,1039.3 486.0,1039.9 486.5,1040.3 487.0,1040.7 487.5,1040.9 488.0,1041.0 488.5,1041.0 489.0,1040.8 489.5,1040.4 490.0,1040.0 490.5,1039.4 491.0,1038.7 491.5,1037.9 492.0,1037.1 492.5,1036.2 493.0,1035.3 493.5,1034.4 494.0,1033.6 494.5,1032.8 495.0,1032.2 495.5,1031.7 496.0,1031.3 496.5,1031.0 497.0,1031.0 497.5,1031.1 498.0,1031.3 498.5,1031.8 499.0,1032.3 499.5,1033.0 500.0,1033.9 500.5,1034.8 501.0,1035.8 501.5,1036.8 502.0,1037.9 502.5,1038.9 503.0,1040.0 503.5,1041.0 504.0,1041.9 504.5,1042.8 505.0,1043.6 505.5,1044.4 506.0,1045.0 506.5,1045.6 507.0,1046.1 507.5,1046.6 508.0,1046.9 508.5,1047.3 509.0,1047.5 509.5,1047.7 510.0,1047.9 510.5,1048.0 511.0,1048.2 511.5,1048.2 512.0,1048.3 512.5,1048.4 513.0,1048.4 513.5,1048.4 514.0,1048.4 514.5,1048.4 515.0,1048.4 515.5,1048.4 516.0,1048.4 516.5,1048.4 517.0,1048.3 517.5,1048.3 518.0,1048.2 518.5,1048.1 519.0,1048.0 519.5,1047.8 520.0,1047.6 520.5,1047.3 521.0,1047.0 521.5,1046.6 522.0,1046.2 522.5,1045.7 523.0,1045.1 523.5,1044.4 524.0,1043.7 524.5,1043.0 525.0,1042.2 525.5,1041.4 526.0,1040.6 526.5,1039.8 527.0,1039.1 527.5,1038.4 528.0,1037.9 528.5,1037.4 529.0,1037.1 529.5,1037.0 530.0,1037.0 530.5,1037.1 531.0,1037.4 531.5,1037.8 532.0,1038.3 532.5,1038.9 533.0,1039.5 533.5,1040.1 534.0,1040.7 534.5,1041.3 535.0,1041.8 535.5,1042.2 536.0,1042.5 536.5,1042.6 537.0,1042.6 537.5,1042.4 538.0,1042.1 538.5,1041.6 539.0,1041.0 539.5,1040.3 540.0,1039.5 540.5,1038.6 541.0,1037.7 541.5,1036.8 542.0,1035.9 542.5,1035.1 543.0,1034.4 543.5,1033.8 544.0,1033.3 544.5,1033.1 545.0,1033.0 545.5,1033.1 546.0,1033.4 546.5,1033.8 547.0,1034.5 547.5,1035.2 548.0,1036.1 548.5,1037.0 549.0,1038.1 549.5,1039.1 550.0,1040.1 550.5,1041.2 551.0,1042.1 551.5,1043.0 552.0,1043.9 552.5,1044.6 553.0,1045.3 553.5,1045.9 554.0,1046.4 554.5,1046.8 555.0,1047.2 555.5,1047.5 556.0,1047.7 556.5,1047.9 557.0,1048.1 557.5,1048.2 558.0,1048.3 558.5,1048.3 559.0,1048.4 559.5,1048.4 560.0,1048.4 560.5,1048.5 561.0,1048.5 561.5,1048.5 562.0,1048.5 562.5,1048.5 563.0,1048.5 563.5,1048.5 564.0,1048.5 564.5,1048.5 565.0,1048.5 565.5,1048.5 566.0,1048.5 566.5,1048.5 567.0,1048.5 567.5,1048.5 568.0,1048.5 568.5,1048.5 569.0,1048.5 569.5,1048.5 570.0,1048.5 570.5,1048.5" fill="none" stroke="#b06060" stroke-width="0.85"/>
<polyline points="422.5,1048.5 423.0,1048.5 423.5,1048.5 424.0,1048.5 424.5,1048.5 425.0,1048.5 425.5,1048.5 426.0,1048.5 426.5,1048.5 427.0,1048.5 427.5,1048.5 428.0,1048.5 428.5,1048.5 429.0,1048.5 429.5,1048.5 430.0,1048.5 430.5,1048.5 431.0,1048.5 431.5,1048.5 432.0,1048.5 432.5,1048.5 433.0,1048.5 433.5,1048.5 434.0,1048.5 434.5,1048.5 435.0,1048.5 435.5,1048.5 436.0,1048.5 436.5,1048.5 437.0,1048.5 437.5,1048.5 438.0,1048.5 438.5,1048.5 439.0,1048.5 439.5,1048.5 440.0,1048.5 440.5,1048.5 441.0,1048.5 441.5,1048.5 442.0,1048.5 442.5,1048.5 443.0,1048.5 443.5,1048.5 444.0,1048.5 444.5,1048.5 445.0,1048.5 445.5,1048.5 446.0,1048.5 446.5,1048.5 447.0,1048.5 447.5,1048.5 448.0,1048.5 448.5,1048.5 449.0,1048.5 449.5,1048.5 450.0,1048.5 450.5,1048.5 451.0,1048.5 451.5,1048.5 452.0,1048.5 452.5,1048.5 453.0,1048.5 453.5,1048.5 454.0,1048.5 454.5,1048.5 455.0,1048.5 455.5,1048.5 456.0,1048.5 456.5,1048.5 457.0,1048.5 457.5,1048.5 458.0,1048.5 458.5,1048.5 459.0,1048.5 459.5,1048.5 460.0,1048.5 460.5,1048.5 461.0,1048.5 461.5,1048.5 462.0,1048.5 462.5,1048.5 463.0,1048.5 463.5,1048.5 464.0,1048.5 464.5,1048.5 465.0,1048.5 465.5,1048.5 466.0,1048.5 466.5,1048.5 467.0,1048.5 467.5,1048.5 468.0,1048.5 468.5,1048.5 469.0,1048.5 469.5,1048.5 470.0,1048.5 470.5,1048.5 471.0,1048.5 471.5,1048.5 472.0,1048.5 472.5,1048.5 473.0,1048.5 473.5,1048.5 474.0,1048.5 474.5,1048.5 475.0,1048.5 475.5,1048.5 476.0,1048.5 476.5,1048.5 477.0,1048.5 477.5,1048.5 478.0,1048.5 478.5,1048.5 479.0,1048.5 479.5,1048.5 480.0,1048.5 480.5,1048.5 481.0,1048.5 481.5,1048.5 482.0,1048.5 482.5,1048.5 483.0,1048.5 483.5,1048.5 484.0,1048.5 484.5,1048.5 485.0,1048.5 485.5,1048.5 486.0,1048.5 486.5,1048.5 487.0,1048.5 487.5,1048.5 488.0,1048.5 488.5,1048.5 489.0,1048.5 489.5,1048.5 490.0,1048.5 490.5,1048.5 491.0,1048.5 491.5,1048.5 492.0,1048.5 492.5,1048.5 493.0,1048.5 493.5,1048.5 494.0,1048.5 494.5,1048.5 495.0,1048.5 495.5,1048.5 496.0,1048.5 496.5,1048.5 497.0,1048.5 497.5,1048.5 498.0,1048.4 498.5,1048.4 499.0,1048.4 499.5,1048.3 500.0,1048.3 500.5,1048.2 501.0,1048.0 501.5,1047.9 502.0,1047.6 502.5,1047.4 503.0,1047.0 503.5,1046.6 504.0,1046.0 504.5,1045.4 505.0,1044.7 505.5,1043.8 506.0,1042.8 506.5,1041.7 507.0,1040.6 507.5,1039.3 508.0,1038.0 508.5,1036.6 509.0,1035.3 509.5,1034.0 510.0,1032.8 510.5,1031.7 511.0,1030.8 511.5,1030.1 512.0,1029.7 512.5,1029.4 513.0,1029.4 513.5,1029.7 514.0,1030.3 514.5,1031.0 515.0,1031.9 515.5,1033.0 516.0,1034.3 516.5,1035.6 517.0,1036.9 517.5,1038.3 518.0,1039.6 518.5,1040.8 519.0,1042.0 519.5,1043.0 520.0,1044.0 520.5,1044.8 521.0,1045.5 521.5,1046.1 522.0,1046.7 522.5,1047.1 523.0,1047.4 523.5,1047.7 524.0,1047.9 524.5,1048.1 525.0,1048.2 525.5,1048.3 526.0,1048.3 526.5,1048.4 527.0,1048.4 527.5,1048.4 528.0,1048.5 528.5,1048.5 529.0,1048.5 529.5,1048.5 530.0,1048.5 530.5,1048.5 531.0,1048.5 531.5,1048.5 532.0,1048.5 532.5,1048.5 533.0,1048.5 533.5,1048.5 534.0,1048.5 534.5,1048.5 535.0,1048.5 535.5,1048.5 536.0,1048.5 536.5,1048.5 537.0,1048.5 537.5,1048.5 538.0,1048.5 538.5,1048.5 539.0,1048.5 539.5,1048.5 540.0,1048.5 540.5,1048.5 541.0,1048.5 541.5,1048.5 542.0,1048.5 542.5,1048.5 543.0,1048.5 543.5,1048.5 544.0,1048.5 544.5,1048.4 545.0,1048.4 545.5,1048.4 546.0,1048.3 546.5,1048.3 547.0,1048.2 547.5,1048.1 548.0,1048.0 548.5,1047.8 549.0,1047.6 549.5,1047.3 550.0,1047.0 550.5,1046.6 551.0,1046.1 551.5,1045.5 552.0,1044.9 552.5,1044.1 553.0,1043.2 553.5,1042.2 554.0,1041.1 554.5,1039.9 555.0,1038.6 555.5,1037.2 556.0,1035.8 556.5,1034.4 557.0,1033.0 557.5,1031.6 558.0,1030.2 558.5,1029.0 559.0,1028.0 559.5,1027.1 560.0,1026.4 560.5,1025.9 561.0,1025.7 561.5,1025.7 562.0,1026.0 562.5,1026.5 563.0,1027.2 563.5,1028.2 564.0,1029.3 564.5,1030.5 565.0,1031.8 565.5,1033.2 566.0,1034.7 566.5,1036.1 567.0,1037.5 567.5,1038.9 568.0,1040.1 568.5,1041.3 569.0,1042.4 569.5,1043.4 570.0,1044.3 570.5,1045.0" fill="none" stroke="#3a3a3a" stroke-width="0.85"/>
</g></g>
<g>
<rect x="422.50" y="1051.50" width="148.00" height="68.00" fill="#fff" stroke="#444" stroke-width="1" />
<clipPath id="c651"><rect x="422.5" y="1051.5" width="148.0" height="68.0"/></clipPath>
<g clip-path="url(#c651)">
<text x="424.00" y="1057.30" font-size="5.8" fill="#111" textLength="145.50" lengthAdjust="spacingAndGlyphs" >HCT116_cDNA_CB9_Ex6_15-Ex6_15_F Fragment base #6</text>
<text x="435.10" y="1064.50" font-size="7.6" fill="#222" text-anchor="middle" stroke="#222" stroke-width="0.15">A</text>
<text x="449.20" y="1064.50" font-size="7.6" fill="#222" text-anchor="middle" stroke="#222" stroke-width="0.15">C</text>
<text x="463.50" y="1064.50" font-size="7.6" fill="#222" text-anchor="middle" stroke="#222" stroke-width="0.15">T</text>
<text x="480.00" y="1064.50" font-size="7.6" fill="#222" text-anchor="middle" stroke="#222" stroke-width="0.15">T</text>
<text x="497.00" y="1064.50" font-size="7.6" fill="#222" text-anchor="middle" stroke="#222" stroke-width="0.15">C</text>
<text x="512.70" y="1064.50" font-size="7.6" fill="#222" text-anchor="middle" stroke="#222" stroke-width="0.15">G</text>
<text x="529.70" y="1064.50" font-size="7.6" fill="#222" text-anchor="middle" stroke="#222" stroke-width="0.15">T</text>
<text x="545.00" y="1064.50" font-size="7.6" fill="#222" text-anchor="middle" stroke="#222" stroke-width="0.15">T</text>
<text x="560.00" y="1064.50" font-size="7.6" fill="#222" text-anchor="middle" stroke="#222" stroke-width="0.15">G</text>
<line x1="422.50" y1="1065.50" x2="570.50" y2="1065.50" stroke="#555" stroke-width="1" />
<text x="435.10" y="1072.80" font-size="9.2" font-weight="bold" fill="#3f9a4f" text-anchor="middle" font-family="Liberation Mono, monospace" stroke="#3f9a4f" stroke-width="0.45" transform="translate(435.10 1072.80) scale(0.72 1) translate(-435.10 -1072.80)">A</text>
<text x="449.20" y="1072.80" font-size="9.2" font-weight="bold" fill="#2b2ba0" text-anchor="middle" font-family="Liberation Mono, monospace" stroke="#2b2ba0" stroke-width="0.45" transform="translate(449.20 1072.80) scale(0.72 1) translate(-449.20 -1072.80)">C</text>
<text x="463.50" y="1072.80" font-size="9.2" font-weight="bold" fill="#b83a3a" text-anchor="middle" font-family="Liberation Mono, monospace" stroke="#b83a3a" stroke-width="0.45" transform="translate(463.50 1072.80) scale(0.72 1) translate(-463.50 -1072.80)">T</text>
<text x="480.00" y="1072.80" font-size="9.2" font-weight="bold" fill="#b83a3a" text-anchor="middle" font-family="Liberation Mono, monospace" stroke="#b83a3a" stroke-width="0.45" transform="translate(480.00 1072.80) scale(0.72 1) translate(-480.00 -1072.80)">T</text>
<text x="497.00" y="1072.80" font-size="9.2" font-weight="bold" fill="#2b2ba0" text-anchor="middle" font-family="Liberation Mono, monospace" stroke="#2b2ba0" stroke-width="0.45" transform="translate(497.00 1072.80) scale(0.72 1) translate(-497.00 -1072.80)">C</text>
<text x="512.70" y="1072.80" font-size="9.2" font-weight="bold" fill="#222222" text-anchor="middle" font-family="Liberation Mono, monospace" stroke="#222222" stroke-width="0.45" transform="translate(512.70 1072.80) scale(0.72 1) translate(-512.70 -1072.80)">G</text>
<text x="529.70" y="1072.80" font-size="9.2" font-weight="bold" fill="#b83a3a" text-anchor="middle" font-family="Liberation Mono, monospace" stroke="#b83a3a" stroke-width="0.45" transform="translate(529.70 1072.80) scale(0.72 1) translate(-529.70 -1072.80)">T</text>
<text x="545.00" y="1072.80" font-size="9.2" font-weight="bold" fill="#b83a3a" text-anchor="middle" font-family="Liberation Mono, monospace" stroke="#b83a3a" stroke-width="0.45" transform="translate(545.00 1072.80) scale(0.72 1) translate(-545.00 -1072.80)">T</text>
<text x="560.00" y="1072.80" font-size="9.2" font-weight="bold" fill="#222222" text-anchor="middle" font-family="Liberation Mono, monospace" stroke="#222222" stroke-width="0.45" transform="translate(560.00 1072.80) scale(0.72 1) translate(-560.00 -1072.80)">G</text>
<polyline points="422.5,1103.9 423.0,1103.0 423.5,1102.3 424.0,1101.8 424.5,1101.5 425.0,1101.3 425.5,1101.2 426.0,1101.3 426.5,1101.5 427.0,1101.7 427.5,1101.9 428.0,1102.1 428.5,1102.3 429.0,1102.4 429.5,1102.4 430.0,1102.3 430.5,1102.1 431.0,1101.9 431.5,1101.5 432.0,1101.2 432.5,1100.8 433.0,1100.3 433.5,1099.9 434.0,1099.5 434.5,1099.2 435.0,1098.9 435.5,1098.7 436.0,1098.6 436.5,1098.6 437.0,1098.7 437.5,1099.0 438.0,1099.3 438.5,1099.8 439.0,1100.5 439.5,1101.2 440.0,1102.1 440.5,1103.1 441.0,1104.2 441.5,1105.4 442.0,1106.6 442.5,1107.9 443.0,1109.1 443.5,1110.4 444.0,1111.5 444.5,1112.7 445.0,1113.7 445.5,1114.7 446.0,1115.5 446.5,1116.3 447.0,1116.9 447.5,1117.4 448.0,1117.9 448.5,1118.3 449.0,1118.6 449.5,1118.8 450.0,1119.0 450.5,1119.1 451.0,1119.2 451.5,1119.3 452.0,1119.4 452.5,1119.4 453.0,1119.4 453.5,1119.5 454.0,1119.5 454.5,1119.5 455.0,1119.5 455.5,1119.5 456.0,1119.5 456.5,1119.5 457.0,1119.5 457.5,1119.5 458.0,1119.5 458.5,1119.5 459.0,1119.5 459.5,1119.5 460.0,1119.5 460.5,1119.5 461.0,1119.5 461.5,1119.5 462.0,1119.5 462.5,1119.5 463.0,1119.5 463.5,1119.5 464.0,1119.5 464.5,1119.5 465.0,1119.5 465.5,1119.5 466.0,1119.5 466.5,1119.5 467.0,1119.5 467.5,1119.5 468.0,1119.5 468.5,1119.5 469.0,1119.5 469.5,1119.5 470.0,1119.5 470.5,1119.5 471.0,1119.5 471.5,1119.5 472.0,1119.5 472.5,1119.5 473.0,1119.5 473.5,1119.5 474.0,1119.5 474.5,1119.5 475.0,1119.5 475.5,1119.5 476.0,1119.5 476.5,1119.5 477.0,1119.5 477.5,1119.5 478.0,1119.5 478.5,1119.5 479.0,1119.5 479.5,1119.5 480.0,1119.5 480.5,1119.5 481.0,1119.5 481.5,1119.5 482.0,1119.5 482.5,1119.5 483.0,1119.5 483.5,1119.5 484.0,1119.5 484.5,1119.5 485.0,1119.5 485.5,1119.5 486.0,1119.5 486.5,1119.5 487.0,1119.5 487.5,1119.5 488.0,1119.5 488.5,1119.5 489.0,1119.5 489.5,1119.5 490.0,1119.5 490.5,1119.5 491.0,1119.5 491.5,1119.5 492.0,1119.5 492.5,1119.5 493.0,1119.5 493.5,1119.5 494.0,1119.5 494.5,1119.5 495.0,1119.5 495.5,1119.5 496.0,1119.5 496.5,1119.5 497.0,1119.5 497.5,1119.5 498.0,1119.5 498.5,1119.5 499.0,1119.5 499.5,1119.5 500.0,1119.5 500.5,1119.5 501.0,1119.5 501.5,1119.5 502.0,1119.5 502.5,1119.5 503.0,1119.5 503.5,1119.5 504.0,1119.5 504.5,1119.5 505.0,1119.5 505.5,1119.5 506.0,1119.5 506.5,1119.5 507.0,1119.5 507.5,1119.5 508.0,1119.5 508.5,1119.5 509.0,1119.5 509.5,1119.5 510.0,1119.5 510.5,1119.5 511.0,1119.5 511.5,1119.5 512.0,1119.5 512.5,1119.5 513.0,1119.5 513.5,1119.5 514.0,1119.5 514.5,1119.5 515.0,1119.5 515.5,1119.5 516.0,1119.5 516.5,1119.5 517.0,1119.5 517.5,1119.5 518.0,1119.5 518.5,1119.5 519.0,1119.5 519.5,1119.5 520.0,1119.5 520.5,1119.5 521.0,1119.5 521.5,1119.5 522.0,1119.5 522.5,1119.5 523.0,1119.5 523.5,1119.5 524.0,1119.5 524.5,1119.5 525.0,1119.5 525.5,1119.5 526.0,1119.5 526.5,1119.5 527.0,1119.5 527.5,1119.5 528.0,1119.5 528.5,1119.5 529.0,1119.5 529.5,1119.5 530.0,1119.5 530.5,1119.5 531.0,1119.5 531.5,1119.5 532.0,1119.5 532.5,1119.5 533.0,1119.5 533.5,1119.5 534.0,1119.5 534.5,1119.5 535.0,1119.5 535.5,1119.5 536.0,1119.5 536.5,1119.5 537.0,1119.5 537.5,1119.5 538.0,1119.5 538.5,1119.5 539.0,1119.5 539.5,1119.5 540.0,1119.5 540.5,1119.5 541.0,1119.5 541.5,1119.5 542.0,1119.5 542.5,1119.5 543.0,1119.5 543.5,1119.5 544.0,1119.5 544.5,1119.5 545.0,1119.5 545.5,1119.5 546.0,1119.5 546.5,1119.5 547.0,1119.5 547.5,1119.5 548.0,1119.5 548.5,1119.5 549.0,1119.5 549.5,1119.5 550.0,1119.5 550.5,1119.5 551.0,1119.5 551.5,1119.5 552.0,1119.5 552.5,1119.5 553.0,1119.5 553.5,1119.5 554.0,1119.5 554.5,1119.5 555.0,1119.5 555.5,1119.5 556.0,1119.5 556.5,1119.5 557.0,1119.5 557.5,1119.5 558.0,1119.5 558.5,1119.5 559.0,1119.5 559.5,1119.5 560.0,1119.5 560.5,1119.5 561.0,1119.5 561.5,1119.5 562.0,1119.5 562.5,1119.5 563.0,1119.5 563.5,1119.5 564.0,1119.5 564.5,1119.5 565.0,1119.5 565.5,1119.5 566.0,1119.5 566.5,1119.5 567.0,1119.5 567.5,1119.5 568.0,1119.5 568.5,1119.5 569.0,1119.5 569.5,1119.5 570.0,1119.5 570.5,1119.5" fill="none" stroke="#62a070" stroke-width="0.85"/>
<polyline points="422.5,1119.5 423.0,1119.5 423.5,1119.5 424.0,1119.5 424.5,1119.5 425.0,1119.5 425.5,1119.5 426.0,1119.5 426.5,1119.5 427.0,1119.5 427.5,1119.5 428.0,1119.5 428.5,1119.5 429.0,1119.5 429.5,1119.5 430.0,1119.5 430.5,1119.5 431.0,1119.5 431.5,1119.5 432.0,1119.5 432.5,1119.5 433.0,1119.5 433.5,1119.5 434.0,1119.4 434.5,1119.4 435.0,1119.4 435.5,1119.3 436.0,1119.3 436.5,1119.2 437.0,1119.0 437.5,1118.9 438.0,1118.7 438.5,1118.4 439.0,1118.0 439.5,1117.6 440.0,1117.1 440.5,1116.5 441.0,1115.9 441.5,1115.1 442.0,1114.2 442.5,1113.2 443.0,1112.1 443.5,1111.0 444.0,1109.8 444.5,1108.7 445.0,1107.5 445.5,1106.4 446.0,1105.4 446.5,1104.5 447.0,1103.8 447.5,1103.2 448.0,1102.9 448.5,1102.8 449.0,1102.9 449.5,1103.2 450.0,1103.8 450.5,1104.5 451.0,1105.4 451.5,1106.4 452.0,1107.5 452.5,1108.7 453.0,1109.8 453.5,1111.0 454.0,1112.1 454.5,1113.2 455.0,1114.2 455.5,1115.1 456.0,1115.9 456.5,1116.5 457.0,1117.1 457.5,1117.6 458.0,1118.0 458.5,1118.4 459.0,1118.7 459.5,1118.9 460.0,1119.0 460.5,1119.2 461.0,1119.3 461.5,1119.3 462.0,1119.4 462.5,1119.4 463.0,1119.4 463.5,1119.5 464.0,1119.5 464.5,1119.5 465.0,1119.5 465.5,1119.5 466.0,1119.5 466.5,1119.5 467.0,1119.5 467.5,1119.5 468.0,1119.5 468.5,1119.5 469.0,1119.5 469.5,1119.5 470.0,1119.5 470.5,1119.5 471.0,1119.5 471.5,1119.5 472.0,1119.5 472.5,1119.5 473.0,1119.5 473.5,1119.5 474.0,1119.5 474.5,1119.5 475.0,1119.5 475.5,1119.5 476.0,1119.5 476.5,1119.5 477.0,1119.5 477.5,1119.5 478.0,1119.5 478.5,1119.5 479.0,1119.5 479.5,1119.5 480.0,1119.5 480.5,1119.5 481.0,1119.5 481.5,1119.5 482.0,1119.4 482.5,1119.4 483.0,1119.4 483.5,1119.3 484.0,1119.3 484.5,1119.2 485.0,1119.0 485.5,1118.9 486.0,1118.7 486.5,1118.4 487.0,1118.1 487.5,1117.8 488.0,1117.3 488.5,1116.8 489.0,1116.2 489.5,1115.5 490.0,1114.7 490.5,1113.8 491.0,1112.8 491.5,1111.8 492.0,1110.8 492.5,1109.7 493.0,1108.6 493.5,1107.5 494.0,1106.5 494.5,1105.6 495.0,1104.8 495.5,1104.2 496.0,1103.7 496.5,1103.4 497.0,1103.3 497.5,1103.4 498.0,1103.7 498.5,1104.2 499.0,1104.8 499.5,1105.6 500.0,1106.5 500.5,1107.5 501.0,1108.6 501.5,1109.7 502.0,1110.8 502.5,1111.8 503.0,1112.8 503.5,1113.8 504.0,1114.7 504.5,1115.5 505.0,1116.2 505.5,1116.8 506.0,1117.3 506.5,1117.8 507.0,1118.1 507.5,1118.4 508.0,1118.7 508.5,1118.9 509.0,1119.0 509.5,1119.2 510.0,1119.3 510.5,1119.3 511.0,1119.4 511.5,1119.4 512.0,1119.4 512.5,1119.5 513.0,1119.5 513.5,1119.5 514.0,1119.5 514.5,1119.5 515.0,1119.5 515.5,1119.5 516.0,1119.5 516.5,1119.5 517.0,1119.5 517.5,1119.5 518.0,1119.5 518.5,1119.5 519.0,1119.5 519.5,1119.5 520.0,1119.5 520.5,1119.5 521.0,1119.5 521.5,1119.5 522.0,1119.5 522.5,1119.5 523.0,1119.5 523.5,1119.5 524.0,1119.5 524.5,1119.5 525.0,1119.5 525.5,1119.5 526.0,1119.5 526.5,1119.5 527.0,1119.5 527.5,1119.5 528.0,1119.5 528.5,1119.5 529.0,1119.5 529.5,1119.5 530.0,1119.5 530.5,1119.5 531.0,1119.5 531.5,1119.5 532.0,1119.5 532.5,1119.5 533.0,1119.5 533.5,1119.5 534.0,1119.5 534.5,1119.5 535.0,1119.5 535.5,1119.5 536.0,1119.5 536.5,1119.5 537.0,1119.5 537.5,1119.5 538.0,1119.5 538.5,1119.5 539.0,1119.5 539.5,1119.5 540.0,1119.5 540.5,1119.5 541.0,1119.5 541.5,1119.5 542.0,1119.5 542.5,1119.5 543.0,1119.5 543.5,1119.5 544.0,1119.5 544.5,1119.5 545.0,1119.5 545.5,1119.5 546.0,1119.5 546.5,1119.5 547.0,1119.5 547.5,1119.5 548.0,1119.5 548.5,1119.5 549.0,1119.5 549.5,1119.5 550.0,1119.5 550.5,1119.5 551.0,1119.5 551.5,1119.5 552.0,1119.5 552.5,1119.5 553.0,1119.5 553.5,1119.5 554.0,1119.5 554.5,1119.5 555.0,1119.5 555.5,1119.5 556.0,1119.5 556.5,1119.5 557.0,1119.5 557.5,1119.5 558.0,1119.5 558.5,1119.5 559.0,1119.5 559.5,1119.5 560.0,1119.5 560.5,1119.5 561.0,1119.5 561.5,1119.5 562.0,1119.5 562.5,1119.5 563.0,1119.5 563.5,1119.5 564.0,1119.5 564.5,1119.5 565.0,1119.5 565.5,1119.5 566.0,1119.5 566.5,1119.5 567.0,1119.5 567.5,1119.5 568.0,1119.5 568.5,1119.5 569.0,1119.5 569.5,1119.5 570.0,1119.5 570.5,1119.5" fill="none" stroke="#404088" stroke-width="0.85"/>
<polyline points="422.5,1119.5 423.0,1119.5 423.5,1119.5 424.0,1119.5 424.5,1119.5 425.0,1119.5 425.5,1119.5 426.0,1119.5 426.5,1119.5 427.0,1119.5 427.5,1119.5 428.0,1119.5 428.5,1119.5 429.0,1119.5 429.5,1119.5 430.0,1119.5 430.5,1119.5 431.0,1119.5 431.5,1119.5 432.0,1119.5 432.5,1119.5 433.0,1119.5 433.5,1119.5 434.0,1119.5 434.5,1119.5 435.0,1119.5 435.5,1119.5 436.0,1119.5 436.5,1119.5 437.0,1119.5 437.5,1119.5 438.0,1119.5 438.5,1119.5 439.0,1119.5 439.5,1119.5 440.0,1119.5 440.5,1119.5 441.0,1119.5 441.5,1119.5 442.0,1119.5 442.5,1119.5 443.0,1119.5 443.5,1119.5 444.0,1119.5 444.5,1119.5 445.0,1119.5 445.5,1119.5 446.0,1119.5 446.5,1119.5 447.0,1119.5 447.5,1119.5 448.0,1119.5 448.5,1119.4 449.0,1119.4 449.5,1119.4 450.0,1119.3 450.5,1119.3 451.0,1119.2 451.5,1119.1 452.0,1119.0 452.5,1118.8 453.0,1118.6 453.5,1118.4 454.0,1118.1 454.5,1117.7 455.0,1117.3 455.5,1116.8 456.0,1116.2 456.5,1115.5 457.0,1114.8 457.5,1114.0 458.0,1113.0 458.5,1112.1 459.0,1111.0 459.5,1109.9 460.0,1108.7 460.5,1107.6 461.0,1106.4 461.5,1105.3 462.0,1104.2 462.5,1103.2 463.0,1102.3 463.5,1101.5 464.0,1100.9 464.5,1100.4 465.0,1100.2 465.5,1100.1 466.0,1100.2 466.5,1100.4 467.0,1100.9 467.5,1101.4 468.0,1102.1 468.5,1102.9 469.0,1103.8 469.5,1104.6 470.0,1105.5 470.5,1106.4 471.0,1107.1 471.5,1107.8 472.0,1108.4 472.5,1108.8 473.0,1109.1 473.5,1109.3 474.0,1109.3 474.5,1109.1 475.0,1108.8 475.5,1108.4 476.0,1107.9 476.5,1107.3 477.0,1106.6 477.5,1105.9 478.0,1105.2 478.5,1104.6 479.0,1104.0 479.5,1103.6 480.0,1103.2 480.5,1103.0 481.0,1102.9 481.5,1102.9 482.0,1103.1 482.5,1103.5 483.0,1104.0 483.5,1104.6 484.0,1105.4 484.5,1106.2 485.0,1107.1 485.5,1108.1 486.0,1109.1 486.5,1110.1 487.0,1111.1 487.5,1112.0 488.0,1113.0 488.5,1113.8 489.0,1114.6 489.5,1115.3 490.0,1116.0 490.5,1116.6 491.0,1117.1 491.5,1117.5 492.0,1117.9 492.5,1118.2 493.0,1118.5 493.5,1118.7 494.0,1118.9 494.5,1119.0 495.0,1119.1 495.5,1119.2 496.0,1119.3 496.5,1119.3 497.0,1119.4 497.5,1119.4 498.0,1119.4 498.5,1119.5 499.0,1119.5 499.5,1119.5 500.0,1119.5 500.5,1119.5 501.0,1119.5 501.5,1119.5 502.0,1119.5 502.5,1119.5 503.0,1119.5 503.5,1119.5 504.0,1119.5 504.5,1119.5 505.0,1119.5 505.5,1119.5 506.0,1119.5 506.5,1119.5 507.0,1119.5 507.5,1119.5 508.0,1119.5 508.5,1119.5 509.0,1119.5 509.5,1119.5 510.0,1119.5 510.5,1119.5 511.0,1119.5 511.5,1119.5 512.0,1119.5 512.5,1119.5 513.0,1119.5 513.5,1119.5 514.0,1119.5 514.5,1119.5 515.0,1119.5 515.5,1119.5 516.0,1119.5 516.5,1119.4 517.0,1119.4 517.5,1119.4 518.0,1119.3 518.5,1119.2 519.0,1119.2 519.5,1119.0 520.0,1118.9 520.5,1118.7 521.0,1118.5 521.5,1118.2 522.0,1117.9 522.5,1117.5 523.0,1117.0 523.5,1116.5 524.0,1116.0 524.5,1115.3 525.0,1114.6 525.5,1113.9 526.0,1113.1 526.5,1112.4 527.0,1111.6 527.5,1110.8 528.0,1110.1 528.5,1109.5 529.0,1108.9 529.5,1108.5 530.0,1108.2 530.5,1107.9 531.0,1107.9 531.5,1107.9 532.0,1108.1 532.5,1108.3 533.0,1108.7 533.5,1109.1 534.0,1109.5 534.5,1110.0 535.0,1110.4 535.5,1110.8 536.0,1111.1 536.5,1111.3 537.0,1111.3 537.5,1111.2 538.0,1111.0 538.5,1110.6 539.0,1110.0 539.5,1109.4 540.0,1108.6 540.5,1107.7 541.0,1106.8 541.5,1105.9 542.0,1104.9 542.5,1104.1 543.0,1103.3 543.5,1102.7 544.0,1102.3 544.5,1102.0 545.0,1101.9 545.5,1102.0 546.0,1102.4 546.5,1102.9 547.0,1103.6 547.5,1104.5 548.0,1105.5 548.5,1106.6 549.0,1107.7 549.5,1108.9 550.0,1110.1 550.5,1111.2 551.0,1112.3 551.5,1113.3 552.0,1114.3 552.5,1115.1 553.0,1115.9 553.5,1116.6 554.0,1117.1 554.5,1117.6 555.0,1118.0 555.5,1118.3 556.0,1118.6 556.5,1118.8 557.0,1119.0 557.5,1119.1 558.0,1119.2 558.5,1119.3 559.0,1119.4 559.5,1119.4 560.0,1119.4 560.5,1119.5 561.0,1119.5 561.5,1119.5 562.0,1119.5 562.5,1119.5 563.0,1119.5 563.5,1119.5 564.0,1119.5 564.5,1119.5 565.0,1119.5 565.5,1119.5 566.0,1119.5 566.5,1119.5 567.0,1119.5 567.5,1119.5 568.0,1119.5 568.5,1119.5 569.0,1119.5 569.5,1119.5 570.0,1119.5 570.5,1119.5" fill="none" stroke="#b06060" stroke-width="0.85"/>
<polyline points="422.5,1119.5 423.0,1119.5 423.5,1119.5 424.0,1119.5 424.5,1119.5 425.0,1119.5 425.5,1119.5 426.0,1119.5 426.5,1119.5 427.0,1119.5 427.5,1119.5 428.0,1119.5 428.5,1119.5 429.0,1119.5 429.5,1119.5 430.0,1119.5 430.5,1119.5 431.0,1119.5 431.5,1119.5 432.0,1119.5 432.5,1119.5 433.0,1119.5 433.5,1119.5 434.0,1119.5 434.5,1119.5 435.0,1119.5 435.5,1119.5 436.0,1119.5 436.5,1119.5 437.0,1119.5 437.5,1119.5 438.0,1119.5 438.5,1119.5 439.0,1119.5 439.5,1119.5 440.0,1119.5 440.5,1119.5 441.0,1119.5 441.5,1119.5 442.0,1119.5 442.5,1119.5 443.0,1119.5 443.5,1119.5 444.0,1119.5 444.5,1119.5 445.0,1119.5 445.5,1119.5 446.0,1119.5 446.5,1119.5 447.0,1119.5 447.5,1119.5 448.0,1119.5 448.5,1119.5 449.0,1119.5 449.5,1119.5 450.0,1119.5 450.5,1119.5 451.0,1119.5 451.5,1119.5 452.0,1119.5 452.5,1119.5 453.0,1119.5 453.5,1119.5 454.0,1119.5 454.5,1119.5 455.0,1119.5 455.5,1119.5 456.0,1119.5 456.5,1119.5 457.0,1119.5 457.5,1119.5 458.0,1119.5 458.5,1119.5 459.0,1119.5 459.5,1119.5 460.0,1119.5 460.5,1119.5 461.0,1119.5 461.5,1119.5 462.0,1119.5 462.5,1119.5 463.0,1119.5 463.5,1119.5 464.0,1119.5 464.5,1119.5 465.0,1119.5 465.5,1119.5 466.0,1119.5 466.5,1119.5 467.0,1119.5 467.5,1119.5 468.0,1119.5 468.5,1119.5 469.0,1119.5 469.5,1119.5 470.0,1119.5 470.5,1119.5 471.0,1119.5 471.5,1119.5 472.0,1119.5 472.5,1119.5 473.0,1119.5 473.5,1119.5 474.0,1119.5 474.5,1119.5 475.0,1119.5 475.5,1119.5 476.0,1119.5 476.5,1119.5 477.0,1119.5 477.5,1119.5 478.0,1119.5 478.5,1119.5 479.0,1119.5 479.5,1119.5 480.0,1119.5 480.5,1119.5 481.0,1119.5 481.5,1119.5 482.0,1119.5 482.5,1119.5 483.0,1119.5 483.5,1119.5 484.0,1119.5 484.5,1119.5 485.0,1119.5 485.5,1119.5 486.0,1119.5 486.5,1119.5 487.0,1119.5 487.5,1119.5 488.0,1119.5 488.5,1119.5 489.0,1119.5 489.5,1119.5 490.0,1119.5 490.5,1119.5 491.0,1119.5 491.5,1119.5 492.0,1119.5 492.5,1119.5 493.0,1119.5 493.5,1119.5 494.0,1119.5 494.5,1119.5 495.0,1119.5 495.5,1119.5 496.0,1119.5 496.5,1119.5 497.0,1119.5 497.5,1119.5 498.0,1119.5 498.5,1119.5 499.0,1119.4 499.5,1119.4 500.0,1119.4 500.5,1119.3 501.0,1119.3 501.5,1119.2 502.0,1119.1 502.5,1119.0 503.0,1118.8 503.5,1118.6 504.0,1118.4 504.5,1118.1 505.0,1117.7 505.5,1117.3 506.0,1116.9 506.5,1116.4 507.0,1115.8 507.5,1115.2 508.0,1114.6 508.5,1114.0 509.0,1113.4 509.5,1112.8 510.0,1112.2 510.5,1111.7 511.0,1111.3 511.5,1110.9 512.0,1110.7 512.5,1110.6 513.0,1110.6 513.5,1110.8 514.0,1111.0 514.5,1111.3 515.0,1111.8 515.5,1112.3 516.0,1112.9 516.5,1113.5 517.0,1114.1 517.5,1114.7 518.0,1115.3 518.5,1115.9 519.0,1116.5 519.5,1117.0 520.0,1117.4 520.5,1117.8 521.0,1118.1 521.5,1118.4 522.0,1118.6 522.5,1118.8 523.0,1119.0 523.5,1119.1 524.0,1119.2 524.5,1119.3 525.0,1119.4 525.5,1119.4 526.0,1119.4 526.5,1119.4 527.0,1119.5 527.5,1119.5 528.0,1119.5 528.5,1119.5 529.0,1119.5 529.5,1119.5 530.0,1119.5 530.5,1119.5 531.0,1119.5 531.5,1119.5 532.0,1119.5 532.5,1119.5 533.0,1119.5 533.5,1119.5 534.0,1119.5 534.5,1119.5 535.0,1119.5 535.5,1119.5 536.0,1119.5 536.5,1119.5 537.0,1119.5 537.5,1119.5 538.0,1119.5 538.5,1119.5 539.0,1119.5 539.5,1119.5 540.0,1119.5 540.5,1119.5 541.0,1119.5 541.5,1119.5 542.0,1119.5 542.5,1119.5 543.0,1119.5 543.5,1119.5 544.0,1119.5 544.5,1119.4 545.0,1119.4 545.5,1119.4 546.0,1119.3 546.5,1119.3 547.0,1119.2 547.5,1119.1 548.0,1119.0 548.5,1118.8 549.0,1118.6 549.5,1118.3 550.0,1118.0 550.5,1117.6 551.0,1117.1 551.5,1116.5 552.0,1115.8 552.5,1115.0 553.0,1114.2 553.5,1113.1 554.0,1112.0 554.5,1110.8 555.0,1109.5 555.5,1108.1 556.0,1106.7 556.5,1105.3 557.0,1103.8 557.5,1102.4 558.0,1101.1 558.5,1099.9 559.0,1098.8 559.5,1097.9 560.0,1097.2 560.5,1096.7 561.0,1096.5 561.5,1096.5 562.0,1096.8 562.5,1097.3 563.0,1098.1 563.5,1099.0 564.0,1100.1 564.5,1101.3 565.0,1102.7 565.5,1104.1 566.0,1105.5 566.5,1107.0 567.0,1108.4 567.5,1109.8 568.0,1111.1 568.5,1112.3 569.0,1113.4 569.5,1114.3 570.0,1115.2 570.5,1116.0" fill="none" stroke="#3a3a3a" stroke-width="0.85"/>
<polygon points="490.5,1083.9 502.5,1083.9 496.5,1098.5" fill="#000"/>
</g></g>
<g>
<rect x="582.50" y="979.50" width="147.00" height="68.00" fill="#fff" stroke="#444" stroke-width="1" />
<clipPath id="c681"><rect x="582.5" y="979.5" width="147.0" height="68.0"/></clipPath>
<g clip-path="url(#c681)">
<text x="584.00" y="985.30" font-size="5.8" fill="#111" textLength="144.50" lengthAdjust="spacingAndGlyphs" >HCT116_par_VCP_cDNA-VCP_cDNA_R1 Fragment base #</text>
<text x="595.60" y="992.50" font-size="7.6" fill="#222" text-anchor="middle" stroke="#222" stroke-width="0.15">A</text>
<text x="611.20" y="992.50" font-size="7.6" fill="#222" text-anchor="middle" stroke="#222" stroke-width="0.15">A</text>
<text x="626.30" y="992.50" font-size="7.6" fill="#222" text-anchor="middle" stroke="#222" stroke-width="0.15">A</text>
<text x="641.90" y="992.50" font-size="7.6" fill="#222" text-anchor="middle" stroke="#222" stroke-width="0.15">A</text>
<text x="657.30" y="992.50" font-size="7.6" fill="#222" text-anchor="middle" stroke="#222" stroke-width="0.15">T</text>
<text x="670.60" y="992.50" font-size="7.6" fill="#222" text-anchor="middle" stroke="#222" stroke-width="0.15">G</text>
<text x="684.10" y="992.50" font-size="7.6" fill="#222" text-anchor="middle" stroke="#222" stroke-width="0.15">T</text>
<text x="699.20" y="992.50" font-size="7.6" fill="#222" text-anchor="middle" stroke="#222" stroke-width="0.15">G</text>
<text x="712.70" y="992.50" font-size="7.6" fill="#222" text-anchor="middle" stroke="#222" stroke-width="0.15">T</text>
<text x="727.00" y="992.50" font-size="7.6" fill="#222" text-anchor="middle" stroke="#222" stroke-width="0.15">T</text>
<line x1="582.50" y1="993.50" x2="729.50" y2="993.50" stroke="#555" stroke-width="1" />
<text x="595.60" y="1000.80" font-size="9.2" font-weight="bold" fill="#b83a3a" text-anchor="middle" font-family="Liberation Mono, monospace" stroke="#b83a3a" stroke-width="0.45" transform="translate(595.60 1000.80) scale(0.72 1) translate(-595.60 -1000.80)">T</text>
<text x="611.20" y="1000.80" font-size="9.2" font-weight="bold" fill="#b83a3a" text-anchor="middle" font-family="Liberation Mono, monospace" stroke="#b83a3a" stroke-width="0.45" transform="translate(611.20 1000.80) scale(0.72 1) translate(-611.20 -1000.80)">T</text>
<text x="626.30" y="1000.80" font-size="9.2" font-weight="bold" fill="#b83a3a" text-anchor="middle" font-family="Liberation Mono, monospace" stroke="#b83a3a" stroke-width="0.45" transform="translate(626.30 1000.80) scale(0.72 1) translate(-626.30 -1000.80)">T</text>
<text x="641.90" y="1000.80" font-size="9.2" font-weight="bold" fill="#b83a3a" text-anchor="middle" font-family="Liberation Mono, monospace" stroke="#b83a3a" stroke-width="0.45" transform="translate(641.90 1000.80) scale(0.72 1) translate(-641.90 -1000.80)">T</text>
<text x="657.30" y="1000.80" font-size="9.2" font-weight="bold" fill="#3f9a4f" text-anchor="middle" font-family="Liberation Mono, monospace" stroke="#3f9a4f" stroke-width="0.45" transform="translate(657.30 1000.80) scale(0.72 1) translate(-657.30 -1000.80)">A</text>
<text x="670.60" y="1000.80" font-size="9.2" font-weight="bold" fill="#2b2ba0" text-anchor="middle" font-family="Liberation Mono, monospace" stroke="#2b2ba0" stroke-width="0.45" transform="translate(670.60 1000.80) scale(0.72 1) translate(-670.60 -1000.80)">J</text>
<text x="684.10" y="1000.80" font-size="9.2" font-weight="bold" fill="#3f9a4f" text-anchor="middle" font-family="Liberation Mono, monospace" stroke="#3f9a4f" stroke-width="0.45" transform="translate(684.10 1000.80) scale(0.72 1) translate(-684.10 -1000.80)">A</text>
<text x="699.20" y="1000.80" font-size="9.2" font-weight="bold" fill="#2b2ba0" text-anchor="middle" font-family="Liberation Mono, monospace" stroke="#2b2ba0" stroke-width="0.45" transform="translate(699.20 1000.80) scale(0.72 1) translate(-699.20 -1000.80)">J</text>
<text x="712.70" y="1000.80" font-size="9.2" font-weight="bold" fill="#3f9a4f" text-anchor="middle" font-family="Liberation Mono, monospace" stroke="#3f9a4f" stroke-width="0.45" transform="translate(712.70 1000.80) scale(0.72 1) translate(-712.70 -1000.80)">A</text>
<text x="727.00" y="1000.80" font-size="9.2" font-weight="bold" fill="#3f9a4f" text-anchor="middle" font-family="Liberation Mono, monospace" stroke="#3f9a4f" stroke-width="0.45" transform="translate(727.00 1000.80) scale(0.72 1) translate(-727.00 -1000.80)">A</text>
<polyline points="582.5,1029.3 583.0,1028.5 583.5,1028.0 584.0,1027.7 584.5,1027.8 585.0,1028.1 585.5,1028.6 586.0,1029.2 586.5,1029.9 587.0,1030.6 587.5,1031.3 588.0,1031.8 588.5,1032.2 589.0,1032.5 589.5,1032.5 590.0,1032.5 590.5,1032.2 591.0,1031.9 591.5,1031.5 592.0,1031.0 592.5,1030.5 593.0,1030.1 593.5,1029.7 594.0,1029.4 594.5,1029.2 595.0,1029.1 595.5,1029.1 596.0,1029.2 596.5,1029.4 597.0,1029.8 597.5,1030.2 598.0,1030.6 598.5,1031.1 599.0,1031.7 599.5,1032.2 600.0,1032.7 600.5,1033.1 601.0,1033.5 601.5,1033.8 602.0,1034.0 602.5,1034.1 603.0,1034.1 603.5,1034.0 604.0,1033.8 604.5,1033.5 605.0,1033.1 605.5,1032.7 606.0,1032.2 606.5,1031.6 607.0,1031.1 607.5,1030.6 608.0,1030.1 608.5,1029.7 609.0,1029.3 609.5,1029.1 610.0,1028.9 610.5,1028.9 611.0,1028.9 611.5,1029.1 612.0,1029.4 612.5,1029.7 613.0,1030.2 613.5,1030.7 614.0,1031.2 614.5,1031.8 615.0,1032.3 615.5,1032.9 616.0,1033.3 616.5,1033.8 617.0,1034.1 617.5,1034.3 618.0,1034.5 618.5,1034.5 619.0,1034.4 619.5,1034.2 620.0,1033.9 620.5,1033.5 621.0,1033.1 621.5,1032.6 622.0,1032.0 622.5,1031.5 623.0,1030.9 623.5,1030.4 624.0,1029.9 624.5,1029.6 625.0,1029.3 625.5,1029.1 626.0,1029.0 626.5,1029.0 627.0,1029.1 627.5,1029.4 628.0,1029.7 628.5,1030.1 629.0,1030.6 629.5,1031.1 630.0,1031.6 630.5,1032.1 631.0,1032.6 631.5,1033.0 632.0,1033.4 632.5,1033.6 633.0,1033.7 633.5,1033.7 634.0,1033.5 634.5,1033.2 635.0,1032.8 635.5,1032.2 636.0,1031.5 636.5,1030.8 637.0,1030.0 637.5,1029.1 638.0,1028.3 638.5,1027.4 639.0,1026.7 639.5,1026.0 640.0,1025.4 640.5,1025.0 641.0,1024.7 641.5,1024.5 642.0,1024.5 642.5,1024.7 643.0,1024.9 643.5,1025.3 644.0,1025.8 644.5,1026.5 645.0,1027.2 645.5,1027.9 646.0,1028.7 646.5,1029.6 647.0,1030.5 647.5,1031.5 648.0,1032.4 648.5,1033.4 649.0,1034.4 649.5,1035.4 650.0,1036.5 650.5,1037.5 651.0,1038.5 651.5,1039.5 652.0,1040.4 652.5,1041.3 653.0,1042.2 653.5,1043.0 654.0,1043.7 654.5,1044.3 655.0,1044.9 655.5,1045.4 656.0,1045.8 656.5,1046.2 657.0,1046.5 657.5,1046.7 658.0,1046.9 658.5,1047.1 659.0,1047.2 659.5,1047.3 660.0,1047.3 660.5,1047.4 661.0,1047.4 661.5,1047.4 662.0,1047.5 662.5,1047.5 663.0,1047.5 663.5,1047.5 664.0,1047.5 664.5,1047.5 665.0,1047.5 665.5,1047.5 666.0,1047.5 666.5,1047.5 667.0,1047.5 667.5,1047.5 668.0,1047.5 668.5,1047.5 669.0,1047.5 669.5,1047.5 670.0,1047.5 670.5,1047.5 671.0,1047.5 671.5,1047.5 672.0,1047.5 672.5,1047.5 673.0,1047.5 673.5,1047.5 674.0,1047.5 674.5,1047.5 675.0,1047.5 675.5,1047.5 676.0,1047.5 676.5,1047.5 677.0,1047.5 677.5,1047.5 678.0,1047.5 678.5,1047.5 679.0,1047.5 679.5,1047.5 680.0,1047.5 680.5,1047.5 681.0,1047.5 681.5,1047.5 682.0,1047.5 682.5,1047.5 683.0,1047.5 683.5,1047.5 684.0,1047.5 684.5,1047.5 685.0,1047.5 685.5,1047.5 686.0,1047.5 686.5,1047.5 687.0,1047.5 687.5,1047.5 688.0,1047.5 688.5,1047.5 689.0,1047.5 689.5,1047.5 690.0,1047.5 690.5,1047.5 691.0,1047.5 691.5,1047.5 692.0,1047.5 692.5,1047.5 693.0,1047.5 693.5,1047.5 694.0,1047.5 694.5,1047.5 695.0,1047.5 695.5,1047.5 696.0,1047.5 696.5,1047.5 697.0,1047.5 697.5,1047.5 698.0,1047.5 698.5,1047.5 699.0,1047.5 699.5,1047.5 700.0,1047.5 700.5,1047.5 701.0,1047.5 701.5,1047.5 702.0,1047.5 702.5,1047.5 703.0,1047.5 703.5,1047.5 704.0,1047.5 704.5,1047.5 705.0,1047.5 705.5,1047.5 706.0,1047.5 706.5,1047.5 707.0,1047.5 707.5,1047.5 708.0,1047.5 708.5,1047.5 709.0,1047.5 709.5,1047.5 710.0,1047.5 710.5,1047.5 711.0,1047.5 711.5,1047.5 712.0,1047.5 712.5,1047.5 713.0,1047.5 713.5,1047.5 714.0,1047.5 714.5,1047.5 715.0,1047.5 715.5,1047.5 716.0,1047.5 716.5,1047.5 717.0,1047.5 717.5,1047.5 718.0,1047.5 718.5,1047.5 719.0,1047.5 719.5,1047.5 720.0,1047.5 720.5,1047.5 721.0,1047.5 721.5,1047.5 722.0,1047.5 722.5,1047.5 723.0,1047.5 723.5,1047.5 724.0,1047.5 724.5,1047.5 725.0,1047.5 725.5,1047.5 726.0,1047.5 726.5,1047.5 727.0,1047.5 727.5,1047.5 728.0,1047.5 728.5,1047.5 729.0,1047.5 729.5,1047.5" fill="none" stroke="#62a070" stroke-width="0.85"/>
<polyline points="582.5,1047.5 583.0,1047.5 583.5,1047.5 584.0,1047.5 584.5,1047.5 585.0,1047.5 585.5,1047.5 586.0,1047.5 586.5,1047.5 587.0,1047.5 587.5,1047.5 588.0,1047.5 588.5,1047.5 589.0,1047.4 589.5,1047.4 590.0,1047.4 590.5,1047.4 591.0,1047.4 591.5,1047.3 592.0,1047.3 592.5,1047.2 593.0,1047.2 593.5,1047.1 594.0,1047.1 594.5,1047.0 595.0,1046.9 595.5,1046.8 596.0,1046.7 596.5,1046.6 597.0,1046.5 597.5,1046.4 598.0,1046.3 598.5,1046.1 599.0,1046.0 599.5,1045.9 600.0,1045.7 600.5,1045.6 601.0,1045.5 601.5,1045.3 602.0,1045.2 602.5,1045.1 603.0,1045.0 603.5,1044.9 604.0,1044.9 604.5,1044.8 605.0,1044.8 605.5,1044.8 606.0,1044.8 606.5,1044.8 607.0,1044.9 607.5,1044.9 608.0,1045.0 608.5,1045.1 609.0,1045.2 609.5,1045.3 610.0,1045.5 610.5,1045.6 611.0,1045.7 611.5,1045.9 612.0,1046.0 612.5,1046.1 613.0,1046.3 613.5,1046.4 614.0,1046.5 614.5,1046.6 615.0,1046.7 615.5,1046.8 616.0,1046.9 616.5,1047.0 617.0,1047.1 617.5,1047.1 618.0,1047.2 618.5,1047.2 619.0,1047.3 619.5,1047.3 620.0,1047.4 620.5,1047.4 621.0,1047.4 621.5,1047.4 622.0,1047.4 622.5,1047.5 623.0,1047.5 623.5,1047.5 624.0,1047.5 624.5,1047.5 625.0,1047.5 625.5,1047.5 626.0,1047.5 626.5,1047.5 627.0,1047.5 627.5,1047.5 628.0,1047.5 628.5,1047.5 629.0,1047.5 629.5,1047.5 630.0,1047.5 630.5,1047.5 631.0,1047.5 631.5,1047.5 632.0,1047.5 632.5,1047.5 633.0,1047.5 633.5,1047.5 634.0,1047.5 634.5,1047.5 635.0,1047.5 635.5,1047.5 636.0,1047.5 636.5,1047.5 637.0,1047.5 637.5,1047.5 638.0,1047.5 638.5,1047.5 639.0,1047.5 639.5,1047.5 640.0,1047.5 640.5,1047.5 641.0,1047.5 641.5,1047.5 642.0,1047.5 642.5,1047.4 643.0,1047.4 643.5,1047.4 644.0,1047.3 644.5,1047.2 645.0,1047.1 645.5,1047.0 646.0,1046.8 646.5,1046.6 647.0,1046.4 647.5,1046.0 648.0,1045.6 648.5,1045.1 649.0,1044.6 649.5,1043.9 650.0,1043.2 650.5,1042.4 651.0,1041.5 651.5,1040.6 652.0,1039.7 652.5,1038.7 653.0,1037.7 653.5,1036.8 654.0,1035.9 654.5,1035.2 655.0,1034.5 655.5,1034.0 656.0,1033.7 656.5,1033.6 657.0,1033.7 657.5,1033.9 658.0,1034.3 658.5,1034.9 659.0,1035.6 659.5,1036.4 660.0,1037.3 660.5,1038.3 661.0,1039.3 661.5,1040.2 662.0,1041.2 662.5,1042.1 663.0,1042.9 663.5,1043.7 664.0,1044.3 664.5,1044.9 665.0,1045.4 665.5,1045.9 666.0,1046.2 666.5,1046.5 667.0,1046.7 667.5,1046.9 668.0,1047.1 668.5,1047.2 669.0,1047.3 669.5,1047.3 670.0,1047.3 670.5,1047.3 671.0,1047.3 671.5,1047.3 672.0,1047.2 672.5,1047.1 673.0,1047.0 673.5,1046.8 674.0,1046.6 674.5,1046.3 675.0,1045.9 675.5,1045.5 676.0,1045.0 676.5,1044.4 677.0,1043.7 677.5,1042.9 678.0,1042.1 678.5,1041.1 679.0,1040.1 679.5,1039.1 680.0,1038.0 680.5,1037.0 681.0,1036.0 681.5,1035.1 682.0,1034.3 682.5,1033.6 683.0,1033.1 683.5,1032.7 684.0,1032.6 684.5,1032.7 685.0,1032.9 685.5,1033.4 686.0,1034.0 686.5,1034.7 687.0,1035.6 687.5,1036.6 688.0,1037.6 688.5,1038.7 689.0,1039.7 689.5,1040.7 690.0,1041.7 690.5,1042.6 691.0,1043.4 691.5,1044.1 692.0,1044.7 692.5,1045.2 693.0,1045.7 693.5,1046.0 694.0,1046.3 694.5,1046.5 695.0,1046.6 695.5,1046.6 696.0,1046.6 696.5,1046.5 697.0,1046.4 697.5,1046.2 698.0,1046.0 698.5,1045.6 699.0,1045.2 699.5,1044.8 700.0,1044.2 700.5,1043.6 701.0,1042.9 701.5,1042.1 702.0,1041.3 702.5,1040.4 703.0,1039.4 703.5,1038.4 704.0,1037.4 704.5,1036.4 705.0,1035.3 705.5,1034.3 706.0,1033.3 706.5,1032.4 707.0,1031.6 707.5,1030.8 708.0,1030.2 708.5,1029.6 709.0,1029.1 709.5,1028.7 710.0,1028.3 710.5,1028.1 711.0,1027.8 711.5,1027.6 712.0,1027.4 712.5,1027.2 713.0,1026.9 713.5,1026.6 714.0,1026.3 714.5,1026.0 715.0,1025.6 715.5,1025.2 716.0,1024.8 716.5,1024.3 717.0,1023.9 717.5,1023.5 718.0,1023.1 718.5,1022.8 719.0,1022.4 719.5,1022.1 720.0,1021.8 720.5,1021.5 721.0,1021.3 721.5,1020.9 722.0,1020.6 722.5,1020.3 723.0,1019.9 723.5,1019.5 724.0,1019.1 724.5,1018.6 725.0,1018.3 725.5,1017.9 726.0,1017.7 726.5,1017.6 727.0,1017.6 727.5,1017.8 728.0,1018.1 728.5,1018.6 729.0,1019.4 729.5,1020.3" fill="none" stroke="#b06060" stroke-width="0.85"/>
<polyline points="582.5,1047.5 583.0,1047.5 583.5,1047.5 584.0,1047.5 584.5,1047.5 585.0,1047.5 585.5,1047.5 586.0,1047.5 586.5,1047.5 587.0,1047.5 587.5,1047.5 588.0,1047.5 588.5,1047.5 589.0,1047.5 589.5,1047.5 590.0,1047.5 590.5,1047.5 591.0,1047.5 591.5,1047.5 592.0,1047.5 592.5,1047.5 593.0,1047.5 593.5,1047.5 594.0,1047.5 594.5,1047.5 595.0,1047.5 595.5,1047.5 596.0,1047.5 596.5,1047.5 597.0,1047.5 597.5,1047.5 598.0,1047.5 598.5,1047.5 599.0,1047.5 599.5,1047.5 600.0,1047.5 600.5,1047.5 601.0,1047.5 601.5,1047.5 602.0,1047.5 602.5,1047.5 603.0,1047.5 603.5,1047.5 604.0,1047.5 604.5,1047.5 605.0,1047.5 605.5,1047.5 606.0,1047.5 606.5,1047.5 607.0,1047.5 607.5,1047.5 608.0,1047.5 608.5,1047.5 609.0,1047.5 609.5,1047.5 610.0,1047.5 610.5,1047.5 611.0,1047.5 611.5,1047.5 612.0,1047.5 612.5,1047.5 613.0,1047.5 613.5,1047.5 614.0,1047.5 614.5,1047.5 615.0,1047.5 615.5,1047.5 616.0,1047.5 616.5,1047.5 617.0,1047.5 617.5,1047.5 618.0,1047.5 618.5,1047.5 619.0,1047.5 619.5,1047.5 620.0,1047.5 620.5,1047.5 621.0,1047.5 621.5,1047.5 622.0,1047.5 622.5,1047.5 623.0,1047.5 623.5,1047.5 624.0,1047.5 624.5,1047.5 625.0,1047.5 625.5,1047.5 626.0,1047.5 626.5,1047.5 627.0,1047.5 627.5,1047.5 628.0,1047.5 628.5,1047.5 629.0,1047.5 629.5,1047.5 630.0,1047.5 630.5,1047.5 631.0,1047.5 631.5,1047.5 632.0,1047.5 632.5,1047.5 633.0,1047.5 633.5,1047.5 634.0,1047.5 634.5,1047.5 635.0,1047.5 635.5,1047.5 636.0,1047.5 636.5,1047.5 637.0,1047.5 637.5,1047.5 638.0,1047.5 638.5,1047.5 639.0,1047.5 639.5,1047.5 640.0,1047.5 640.5,1047.5 641.0,1047.5 641.5,1047.5 642.0,1047.5 642.5,1047.5 643.0,1047.5 643.5,1047.5 644.0,1047.5 644.5,1047.5 645.0,1047.5 645.5,1047.5 646.0,1047.5 646.5,1047.5 647.0,1047.5 647.5,1047.5 648.0,1047.5 648.5,1047.5 649.0,1047.5 649.5,1047.5 650.0,1047.5 650.5,1047.5 651.0,1047.5 651.5,1047.5 652.0,1047.5 652.5,1047.5 653.0,1047.5 653.5,1047.5 654.0,1047.5 654.5,1047.5 655.0,1047.5 655.5,1047.4 656.0,1047.4 656.5,1047.4 657.0,1047.3 657.5,1047.3 658.0,1047.2 658.5,1047.0 659.0,1046.9 659.5,1046.7 660.0,1046.4 660.5,1046.1 661.0,1045.7 661.5,1045.2 662.0,1044.6 662.5,1043.9 663.0,1043.2 663.5,1042.3 664.0,1041.3 664.5,1040.2 665.0,1039.0 665.5,1037.8 666.0,1036.5 666.5,1035.1 667.0,1033.8 667.5,1032.6 668.0,1031.4 668.5,1030.4 669.0,1029.5 669.5,1028.8 670.0,1028.3 670.5,1028.0 671.0,1028.0 671.5,1028.2 672.0,1028.7 672.5,1029.3 673.0,1030.2 673.5,1031.2 674.0,1032.4 674.5,1033.6 675.0,1034.9 675.5,1036.2 676.0,1037.5 676.5,1038.8 677.0,1040.0 677.5,1041.1 678.0,1042.1 678.5,1043.0 679.0,1043.8 679.5,1044.5 680.0,1045.1 680.5,1045.6 681.0,1046.0 681.5,1046.3 682.0,1046.6 682.5,1046.8 683.0,1047.0 683.5,1047.1 684.0,1047.1 684.5,1047.2 685.0,1047.2 685.5,1047.2 686.0,1047.1 686.5,1047.0 687.0,1046.8 687.5,1046.6 688.0,1046.3 688.5,1046.0 689.0,1045.6 689.5,1045.1 690.0,1044.5 690.5,1043.8 691.0,1042.9 691.5,1042.0 692.0,1040.9 692.5,1039.7 693.0,1038.4 693.5,1037.1 694.0,1035.7 694.5,1034.2 695.0,1032.8 695.5,1031.4 696.0,1030.1 696.5,1028.9 697.0,1027.9 697.5,1027.1 698.0,1026.5 698.5,1026.2 699.0,1026.1 699.5,1026.3 700.0,1026.7 700.5,1027.4 701.0,1028.3 701.5,1029.4 702.0,1030.6 702.5,1032.0 703.0,1033.4 703.5,1034.8 704.0,1036.2 704.5,1037.6 705.0,1039.0 705.5,1040.2 706.0,1041.3 706.5,1042.4 707.0,1043.3 707.5,1044.1 708.0,1044.7 708.5,1045.3 709.0,1045.8 709.5,1046.2 710.0,1046.5 710.5,1046.7 711.0,1046.9 711.5,1047.1 712.0,1047.2 712.5,1047.3 713.0,1047.3 713.5,1047.4 714.0,1047.4 714.5,1047.4 715.0,1047.5 715.5,1047.5 716.0,1047.5 716.5,1047.5 717.0,1047.5 717.5,1047.5 718.0,1047.5 718.5,1047.5 719.0,1047.5 719.5,1047.5 720.0,1047.5 720.5,1047.5 721.0,1047.5 721.5,1047.5 722.0,1047.5 722.5,1047.5 723.0,1047.5 723.5,1047.5 724.0,1047.5 724.5,1047.5 725.0,1047.5 725.5,1047.5 726.0,1047.5 726.5,1047.5 727.0,1047.5 727.5,1047.5 728.0,1047.5 728.5,1047.5 729.0,1047.5 729.5,1047.5" fill="none" stroke="#3a3a3a" stroke-width="0.85"/>
</g></g>
<g>
<rect x="582.50" y="1050.50" width="147.00" height="69.00" fill="#fff" stroke="#444" stroke-width="1" />
<clipPath id="c711"><rect x="582.5" y="1050.5" width="147.0" height="69.0"/></clipPath>
<g clip-path="url(#c711)">
<text x="584.00" y="1056.30" font-size="5.8" fill="#111" textLength="144.50" lengthAdjust="spacingAndGlyphs" >HCT116_cDNA_CB9_Ex6_15-Ex6_15_R Fragment base #</text>
<text x="594.30" y="1064.50" font-size="7.6" fill="#222" text-anchor="middle" stroke="#222" stroke-width="0.15">A</text>
<text x="610.70" y="1064.50" font-size="7.6" fill="#222" text-anchor="middle" stroke="#222" stroke-width="0.15">A</text>
<text x="625.80" y="1064.50" font-size="7.6" fill="#222" text-anchor="middle" stroke="#222" stroke-width="0.15">A</text>
<text x="641.70" y="1064.50" font-size="7.6" fill="#222" text-anchor="middle" stroke="#222" stroke-width="0.15">A</text>
<text x="657.30" y="1064.50" font-size="7.6" fill="#222" text-anchor="middle" stroke="#222" stroke-width="0.15">T</text>
<text x="670.60" y="1064.50" font-size="7.6" fill="#222" text-anchor="middle" stroke="#222" stroke-width="0.15">G</text>
<text x="683.60" y="1064.50" font-size="7.6" fill="#222" text-anchor="middle" stroke="#222" stroke-width="0.15">T</text>
<text x="698.40" y="1064.50" font-size="7.6" fill="#222" text-anchor="middle" stroke="#222" stroke-width="0.15">G</text>
<text x="712.70" y="1064.50" font-size="7.6" fill="#222" text-anchor="middle" stroke="#222" stroke-width="0.15">T</text>
<text x="726.50" y="1064.50" font-size="7.6" fill="#222" text-anchor="middle" stroke="#222" stroke-width="0.15">T</text>
<line x1="582.50" y1="1065.50" x2="729.50" y2="1065.50" stroke="#555" stroke-width="1" />
<text x="594.30" y="1072.80" font-size="9.2" font-weight="bold" fill="#b83a3a" text-anchor="middle" font-family="Liberation Mono, monospace" stroke="#b83a3a" stroke-width="0.45" transform="translate(594.30 1072.80) scale(0.72 1) translate(-594.30 -1072.80)">T</text>
<text x="610.70" y="1072.80" font-size="9.2" font-weight="bold" fill="#b83a3a" text-anchor="middle" font-family="Liberation Mono, monospace" stroke="#b83a3a" stroke-width="0.45" transform="translate(610.70 1072.80) scale(0.72 1) translate(-610.70 -1072.80)">T</text>
<text x="625.80" y="1072.80" font-size="9.2" font-weight="bold" fill="#b83a3a" text-anchor="middle" font-family="Liberation Mono, monospace" stroke="#b83a3a" stroke-width="0.45" transform="translate(625.80 1072.80) scale(0.72 1) translate(-625.80 -1072.80)">T</text>
<text x="641.70" y="1072.80" font-size="9.2" font-weight="bold" fill="#b83a3a" text-anchor="middle" font-family="Liberation Mono, monospace" stroke="#b83a3a" stroke-width="0.45" transform="translate(641.70 1072.80) scale(0.72 1) translate(-641.70 -1072.80)">T</text>
<text x="657.30" y="1072.80" font-size="9.2" font-weight="bold" fill="#3f9a4f" text-anchor="middle" font-family="Liberation Mono, monospace" stroke="#3f9a4f" stroke-width="0.45" transform="translate(657.30 1072.80) scale(0.72 1) translate(-657.30 -1072.80)">A</text>
<text x="670.60" y="1072.80" font-size="9.2" font-weight="bold" fill="#2b2ba0" text-anchor="middle" font-family="Liberation Mono, monospace" stroke="#2b2ba0" stroke-width="0.45" transform="translate(670.60 1072.80) scale(0.72 1) translate(-670.60 -1072.80)">J</text>
<text x="683.60" y="1072.80" font-size="9.2" font-weight="bold" fill="#3f9a4f" text-anchor="middle" font-family="Liberation Mono, monospace" stroke="#3f9a4f" stroke-width="0.45" transform="translate(683.60 1072.80) scale(0.72 1) translate(-683.60 -1072.80)">A</text>
<text x="698.40" y="1072.80" font-size="9.2" font-weight="bold" fill="#2b2ba0" text-anchor="middle" font-family="Liberation Mono, monospace" stroke="#2b2ba0" stroke-width="0.45" transform="translate(698.40 1072.80) scale(0.72 1) translate(-698.40 -1072.80)">J</text>
<text x="712.70" y="1072.80" font-size="9.2" font-weight="bold" fill="#3f9a4f" text-anchor="middle" font-family="Liberation Mono, monospace" stroke="#3f9a4f" stroke-width="0.45" transform="translate(712.70 1072.80) scale(0.72 1) translate(-712.70 -1072.80)">A</text>
<text x="726.50" y="1072.80" font-size="9.2" font-weight="bold" fill="#3f9a4f" text-anchor="middle" font-family="Liberation Mono, monospace" stroke="#3f9a4f" stroke-width="0.45" transform="translate(726.50 1072.80) scale(0.72 1) translate(-726.50 -1072.80)">A</text>
<polyline points="582.5,1119.3 583.0,1119.2 583.5,1119.1 584.0,1118.8 584.5,1118.5 585.0,1118.0 585.5,1117.4 586.0,1116.6 586.5,1115.5 587.0,1114.2 587.5,1112.5 588.0,1110.5 588.5,1108.2 589.0,1105.7 589.5,1102.9 590.0,1100.0 590.5,1097.0 591.0,1094.2 591.5,1091.6 592.0,1089.4 592.5,1087.7 593.0,1086.7 593.5,1086.3 594.0,1086.7 594.5,1087.7 595.0,1089.4 595.5,1091.6 596.0,1094.2 596.5,1097.0 597.0,1099.9 597.5,1102.8 598.0,1105.6 598.5,1108.1 599.0,1110.3 599.5,1112.2 600.0,1113.7 600.5,1114.8 601.0,1115.5 601.5,1115.9 602.0,1115.9 602.5,1115.5 603.0,1114.8 603.5,1113.6 604.0,1112.1 604.5,1110.3 605.0,1108.1 605.5,1105.6 606.0,1102.9 606.5,1100.1 607.0,1097.3 607.5,1094.6 608.0,1092.2 608.5,1090.2 609.0,1088.7 609.5,1087.8 610.0,1087.6 610.5,1088.1 611.0,1089.2 611.5,1090.9 612.0,1093.1 612.5,1095.6 613.0,1098.4 613.5,1101.2 614.0,1103.9 614.5,1106.4 615.0,1108.6 615.5,1110.5 616.0,1112.0 616.5,1113.0 617.0,1113.5 617.5,1113.6 618.0,1113.2 618.5,1112.3 619.0,1110.9 619.5,1109.1 620.0,1107.0 620.5,1104.5 621.0,1101.7 621.5,1098.9 622.0,1096.0 622.5,1093.3 623.0,1090.9 623.5,1088.9 624.0,1087.5 624.5,1086.7 625.0,1086.7 625.5,1087.3 626.0,1088.6 626.5,1090.5 627.0,1092.8 627.5,1095.5 628.0,1098.4 628.5,1101.3 629.0,1104.1 629.5,1106.8 630.0,1109.2 630.5,1111.3 631.0,1113.0 631.5,1114.3 632.0,1115.3 632.5,1115.9 633.0,1116.2 633.5,1116.0 634.0,1115.5 634.5,1114.6 635.0,1113.3 635.5,1111.5 636.0,1109.4 636.5,1106.8 637.0,1103.8 637.5,1100.5 638.0,1097.0 638.5,1093.4 639.0,1089.8 639.5,1086.5 640.0,1083.6 640.5,1081.3 641.0,1079.7 641.5,1078.9 642.0,1079.0 642.5,1079.9 643.0,1081.7 643.5,1084.1 644.0,1087.1 644.5,1090.5 645.0,1094.1 645.5,1097.7 646.0,1101.2 646.5,1104.5 647.0,1107.4 647.5,1110.0 648.0,1112.2 648.5,1114.0 649.0,1115.4 649.5,1116.6 650.0,1117.4 650.5,1118.1 651.0,1118.5 651.5,1118.9 652.0,1119.1 652.5,1119.2 653.0,1119.3 653.5,1119.4 654.0,1119.4 654.5,1119.5 655.0,1119.5 655.5,1119.5 656.0,1119.5 656.5,1119.5 657.0,1119.5 657.5,1119.5 658.0,1119.5 658.5,1119.5 659.0,1119.5 659.5,1119.5 660.0,1119.5 660.5,1119.5 661.0,1119.5 661.5,1119.5 662.0,1119.5 662.5,1119.5 663.0,1119.5 663.5,1119.5 664.0,1119.5 664.5,1119.5 665.0,1119.5 665.5,1119.5 666.0,1119.5 666.5,1119.5 667.0,1119.5 667.5,1119.5 668.0,1119.5 668.5,1119.5 669.0,1119.5 669.5,1119.5 670.0,1119.5 670.5,1119.5 671.0,1119.5 671.5,1119.5 672.0,1119.5 672.5,1119.5 673.0,1119.5 673.5,1119.5 674.0,1119.5 674.5,1119.5 675.0,1119.5 675.5,1119.5 676.0,1119.5 676.5,1119.5 677.0,1119.5 677.5,1119.5 678.0,1119.5 678.5,1119.5 679.0,1119.5 679.5,1119.5 680.0,1119.5 680.5,1119.5 681.0,1119.5 681.5,1119.5 682.0,1119.5 682.5,1119.5 683.0,1119.5 683.5,1119.5 684.0,1119.5 684.5,1119.5 685.0,1119.5 685.5,1119.5 686.0,1119.5 686.5,1119.5 687.0,1119.5 687.5,1119.5 688.0,1119.5 688.5,1119.5 689.0,1119.5 689.5,1119.5 690.0,1119.5 690.5,1119.5 691.0,1119.5 691.5,1119.5 692.0,1119.5 692.5,1119.5 693.0,1119.5 693.5,1119.5 694.0,1119.5 694.5,1119.5 695.0,1119.5 695.5,1119.5 696.0,1119.5 696.5,1119.5 697.0,1119.5 697.5,1119.5 698.0,1119.5 698.5,1119.5 699.0,1119.5 699.5,1119.5 700.0,1119.5 700.5,1119.5 701.0,1119.5 701.5,1119.5 702.0,1119.5 702.5,1119.5 703.0,1119.5 703.5,1119.5 704.0,1119.5 704.5,1119.5 705.0,1119.5 705.5,1119.5 706.0,1119.5 706.5,1119.5 707.0,1119.5 707.5,1119.5 708.0,1119.5 708.5,1119.5 709.0,1119.5 709.5,1119.5 710.0,1119.5 710.5,1119.5 711.0,1119.5 711.5,1119.5 712.0,1119.5 712.5,1119.5 713.0,1119.5 713.5,1119.5 714.0,1119.5 714.5,1119.5 715.0,1119.5 715.5,1119.5 716.0,1119.5 716.5,1119.5 717.0,1119.5 717.5,1119.5 718.0,1119.5 718.5,1119.5 719.0,1119.5 719.5,1119.5 720.0,1119.5 720.5,1119.5 721.0,1119.5 721.5,1119.5 722.0,1119.5 722.5,1119.5 723.0,1119.5 723.5,1119.5 724.0,1119.5 724.5,1119.5 725.0,1119.5 725.5,1119.5 726.0,1119.5 726.5,1119.5 727.0,1119.5 727.5,1119.5 728.0,1119.5 728.5,1119.5 729.0,1119.5 729.5,1119.5" fill="none" stroke="#62a070" stroke-width="0.85"/>
<polyline points="582.5,1119.5 583.0,1119.5 583.5,1119.5 584.0,1119.5 584.5,1119.5 585.0,1119.5 585.5,1119.5 586.0,1119.5 586.5,1119.5 587.0,1119.5 587.5,1119.5 588.0,1119.5 588.5,1119.5 589.0,1119.5 589.5,1119.5 590.0,1119.5 590.5,1119.5 591.0,1119.5 591.5,1119.5 592.0,1119.5 592.5,1119.5 593.0,1119.5 593.5,1119.5 594.0,1119.5 594.5,1119.5 595.0,1119.5 595.5,1119.5 596.0,1119.5 596.5,1119.5 597.0,1119.5 597.5,1119.5 598.0,1119.5 598.5,1119.5 599.0,1119.5 599.5,1119.5 600.0,1119.5 600.5,1119.5 601.0,1119.5 601.5,1119.5 602.0,1119.5 602.5,1119.5 603.0,1119.5 603.5,1119.5 604.0,1119.5 604.5,1119.5 605.0,1119.5 605.5,1119.5 606.0,1119.5 606.5,1119.5 607.0,1119.5 607.5,1119.5 608.0,1119.5 608.5,1119.5 609.0,1119.5 609.5,1119.5 610.0,1119.5 610.5,1119.5 611.0,1119.5 611.5,1119.5 612.0,1119.5 612.5,1119.5 613.0,1119.5 613.5,1119.5 614.0,1119.5 614.5,1119.5 615.0,1119.5 615.5,1119.5 616.0,1119.5 616.5,1119.5 617.0,1119.5 617.5,1119.5 618.0,1119.5 618.5,1119.5 619.0,1119.5 619.5,1119.5 620.0,1119.5 620.5,1119.5 621.0,1119.5 621.5,1119.5 622.0,1119.5 622.5,1119.5 623.0,1119.5 623.5,1119.5 624.0,1119.5 624.5,1119.5 625.0,1119.5 625.5,1119.5 626.0,1119.5 626.5,1119.5 627.0,1119.5 627.5,1119.5 628.0,1119.5 628.5,1119.5 629.0,1119.5 629.5,1119.5 630.0,1119.5 630.5,1119.5 631.0,1119.5 631.5,1119.5 632.0,1119.5 632.5,1119.5 633.0,1119.5 633.5,1119.5 634.0,1119.5 634.5,1119.5 635.0,1119.5 635.5,1119.5 636.0,1119.5 636.5,1119.5 637.0,1119.5 637.5,1119.5 638.0,1119.5 638.5,1119.5 639.0,1119.5 639.5,1119.5 640.0,1119.5 640.5,1119.5 641.0,1119.5 641.5,1119.5 642.0,1119.5 642.5,1119.5 643.0,1119.5 643.5,1119.5 644.0,1119.5 644.5,1119.4 645.0,1119.4 645.5,1119.4 646.0,1119.3 646.5,1119.1 647.0,1119.0 647.5,1118.7 648.0,1118.4 648.5,1117.9 649.0,1117.3 649.5,1116.5 650.0,1115.6 650.5,1114.4 651.0,1113.1 651.5,1111.5 652.0,1109.8 652.5,1108.0 653.0,1106.2 653.5,1104.4 654.0,1102.7 654.5,1101.2 655.0,1100.0 655.5,1099.2 656.0,1098.8 656.5,1098.9 657.0,1099.4 657.5,1100.3 658.0,1101.5 658.5,1103.0 659.0,1104.8 659.5,1106.6 660.0,1108.4 660.5,1110.2 661.0,1111.9 661.5,1113.4 662.0,1114.7 662.5,1115.8 663.0,1116.7 663.5,1117.4 664.0,1118.0 664.5,1118.4 665.0,1118.8 665.5,1119.0 666.0,1119.2 666.5,1119.3 667.0,1119.4 667.5,1119.4 668.0,1119.4 668.5,1119.5 669.0,1119.5 669.5,1119.5 670.0,1119.5 670.5,1119.5 671.0,1119.5 671.5,1119.5 672.0,1119.5 672.5,1119.4 673.0,1119.4 673.5,1119.3 674.0,1119.2 674.5,1119.0 675.0,1118.8 675.5,1118.5 676.0,1118.0 676.5,1117.4 677.0,1116.7 677.5,1115.7 678.0,1114.5 678.5,1113.0 679.0,1111.4 679.5,1109.4 680.0,1107.4 680.5,1105.2 681.0,1102.9 681.5,1100.8 682.0,1098.8 682.5,1097.0 683.0,1095.7 683.5,1094.8 684.0,1094.4 684.5,1094.6 685.0,1095.3 685.5,1096.4 686.0,1098.0 686.5,1099.9 687.0,1102.1 687.5,1104.3 688.0,1106.5 688.5,1108.6 689.0,1110.6 689.5,1112.4 690.0,1113.9 690.5,1115.2 691.0,1116.3 691.5,1117.2 692.0,1117.8 692.5,1118.3 693.0,1118.7 693.5,1119.0 694.0,1119.1 694.5,1119.3 695.0,1119.4 695.5,1119.4 696.0,1119.4 696.5,1119.5 697.0,1119.5 697.5,1119.5 698.0,1119.5 698.5,1119.5 699.0,1119.5 699.5,1119.5 700.0,1119.5 700.5,1119.5 701.0,1119.4 701.5,1119.4 702.0,1119.3 702.5,1119.2 703.0,1119.0 703.5,1118.8 704.0,1118.5 704.5,1118.0 705.0,1117.4 705.5,1116.7 706.0,1115.7 706.5,1114.4 707.0,1113.0 707.5,1111.2 708.0,1109.2 708.5,1107.1 709.0,1104.7 709.5,1102.4 710.0,1100.0 710.5,1097.8 711.0,1095.9 711.5,1094.4 712.0,1093.3 712.5,1092.8 713.0,1092.8 713.5,1093.4 714.0,1094.5 714.5,1096.0 715.0,1097.8 715.5,1099.8 716.0,1101.8 716.5,1103.6 717.0,1105.2 717.5,1106.4 718.0,1107.2 718.5,1107.3 719.0,1106.8 719.5,1105.7 720.0,1104.0 720.5,1101.6 721.0,1098.8 721.5,1095.6 722.0,1092.2 722.5,1088.8 723.0,1085.6 723.5,1082.7 724.0,1080.4 724.5,1078.8 725.0,1078.0 725.5,1078.1 726.0,1079.1 726.5,1080.9 727.0,1083.4 727.5,1086.5 728.0,1089.9 728.5,1093.6 729.0,1097.3 729.5,1100.8" fill="none" stroke="#b06060" stroke-width="0.85"/>
<polyline points="582.5,1119.5 583.0,1119.5 583.5,1119.5 584.0,1119.5 584.5,1119.5 585.0,1119.5 585.5,1119.5 586.0,1119.5 586.5,1119.5 587.0,1119.5 587.5,1119.5 588.0,1119.5 588.5,1119.5 589.0,1119.5 589.5,1119.5 590.0,1119.5 590.5,1119.5 591.0,1119.5 591.5,1119.5 592.0,1119.5 592.5,1119.5 593.0,1119.5 593.5,1119.5 594.0,1119.5 594.5,1119.5 595.0,1119.5 595.5,1119.5 596.0,1119.5 596.5,1119.5 597.0,1119.5 597.5,1119.5 598.0,1119.5 598.5,1119.5 599.0,1119.5 599.5,1119.5 600.0,1119.5 600.5,1119.5 601.0,1119.5 601.5,1119.5 602.0,1119.5 602.5,1119.5 603.0,1119.5 603.5,1119.5 604.0,1119.5 604.5,1119.5 605.0,1119.5 605.5,1119.5 606.0,1119.5 606.5,1119.5 607.0,1119.5 607.5,1119.5 608.0,1119.5 608.5,1119.5 609.0,1119.5 609.5,1119.5 610.0,1119.5 610.5,1119.5 611.0,1119.5 611.5,1119.5 612.0,1119.5 612.5,1119.5 613.0,1119.5 613.5,1119.5 614.0,1119.5 614.5,1119.5 615.0,1119.5 615.5,1119.5 616.0,1119.5 616.5,1119.5 617.0,1119.5 617.5,1119.5 618.0,1119.5 618.5,1119.5 619.0,1119.5 619.5,1119.5 620.0,1119.5 620.5,1119.5 621.0,1119.5 621.5,1119.5 622.0,1119.5 622.5,1119.5 623.0,1119.5 623.5,1119.5 624.0,1119.5 624.5,1119.5 625.0,1119.5 625.5,1119.5 626.0,1119.5 626.5,1119.5 627.0,1119.5 627.5,1119.5 628.0,1119.5 628.5,1119.5 629.0,1119.5 629.5,1119.5 630.0,1119.5 630.5,1119.5 631.0,1119.5 631.5,1119.5 632.0,1119.5 632.5,1119.5 633.0,1119.5 633.5,1119.5 634.0,1119.5 634.5,1119.5 635.0,1119.5 635.5,1119.5 636.0,1119.5 636.5,1119.5 637.0,1119.5 637.5,1119.5 638.0,1119.5 638.5,1119.5 639.0,1119.5 639.5,1119.5 640.0,1119.5 640.5,1119.5 641.0,1119.5 641.5,1119.5 642.0,1119.5 642.5,1119.5 643.0,1119.5 643.5,1119.5 644.0,1119.5 644.5,1119.5 645.0,1119.5 645.5,1119.5 646.0,1119.5 646.5,1119.5 647.0,1119.5 647.5,1119.5 648.0,1119.5 648.5,1119.5 649.0,1119.5 649.5,1119.5 650.0,1119.5 650.5,1119.5 651.0,1119.5 651.5,1119.5 652.0,1119.5 652.5,1119.5 653.0,1119.5 653.5,1119.5 654.0,1119.5 654.5,1119.5 655.0,1119.5 655.5,1119.5 656.0,1119.5 656.5,1119.5 657.0,1119.5 657.5,1119.5 658.0,1119.5 658.5,1119.4 659.0,1119.4 659.5,1119.4 660.0,1119.3 660.5,1119.1 661.0,1119.0 661.5,1118.7 662.0,1118.3 662.5,1117.8 663.0,1117.1 663.5,1116.2 664.0,1115.0 664.5,1113.6 665.0,1112.0 665.5,1110.0 666.0,1107.8 666.5,1105.3 667.0,1102.8 667.5,1100.2 668.0,1097.6 668.5,1095.3 669.0,1093.3 669.5,1091.7 670.0,1090.7 670.5,1090.2 671.0,1090.4 671.5,1091.2 672.0,1092.6 672.5,1094.4 673.0,1096.7 673.5,1099.1 674.0,1101.7 674.5,1104.3 675.0,1106.8 675.5,1109.1 676.0,1111.2 676.5,1113.0 677.0,1114.5 677.5,1115.8 678.0,1116.8 678.5,1117.5 679.0,1118.1 679.5,1118.5 680.0,1118.9 680.5,1119.1 681.0,1119.2 681.5,1119.3 682.0,1119.4 682.5,1119.4 683.0,1119.5 683.5,1119.5 684.0,1119.5 684.5,1119.5 685.0,1119.5 685.5,1119.5 686.0,1119.5 686.5,1119.4 687.0,1119.4 687.5,1119.3 688.0,1119.2 688.5,1119.1 689.0,1118.9 689.5,1118.6 690.0,1118.2 690.5,1117.6 691.0,1116.9 691.5,1115.9 692.0,1114.7 692.5,1113.3 693.0,1111.6 693.5,1109.6 694.0,1107.4 694.5,1105.0 695.0,1102.5 695.5,1100.0 696.0,1097.7 696.5,1095.5 697.0,1093.8 697.5,1092.5 698.0,1091.7 698.5,1091.5 699.0,1091.9 699.5,1092.9 700.0,1094.4 700.5,1096.4 701.0,1098.6 701.5,1101.0 702.0,1103.5 702.5,1106.0 703.0,1108.3 703.5,1110.4 704.0,1112.3 704.5,1113.9 705.0,1115.2 705.5,1116.3 706.0,1117.2 706.5,1117.9 707.0,1118.4 707.5,1118.7 708.0,1119.0 708.5,1119.2 709.0,1119.3 709.5,1119.4 710.0,1119.4 710.5,1119.5 711.0,1119.5 711.5,1119.5 712.0,1119.5 712.5,1119.5 713.0,1119.5 713.5,1119.5 714.0,1119.5 714.5,1119.5 715.0,1119.5 715.5,1119.5 716.0,1119.5 716.5,1119.5 717.0,1119.5 717.5,1119.5 718.0,1119.5 718.5,1119.5 719.0,1119.5 719.5,1119.5 720.0,1119.5 720.5,1119.5 721.0,1119.5 721.5,1119.5 722.0,1119.5 722.5,1119.5 723.0,1119.5 723.5,1119.5 724.0,1119.5 724.5,1119.5 725.0,1119.5 725.5,1119.5 726.0,1119.5 726.5,1119.5 727.0,1119.5 727.5,1119.5 728.0,1119.5 728.5,1119.5 729.0,1119.5 729.5,1119.5" fill="none" stroke="#3a3a3a" stroke-width="0.85"/>
</g></g>
<text x="409.20" y="1053.90" font-size="12" font-weight="bold" text-anchor="middle" textLength="32.20" lengthAdjust="spacingAndGlyphs" transform="rotate(-90 409.20 1053.90)" >cDNA</text>
<text x="742.90" y="1013.00" font-size="11.8" font-weight="bold" text-anchor="middle" textLength="66.50" lengthAdjust="spacingAndGlyphs" transform="rotate(-90 742.90 1013.00)" >HCT116-par</text>
<text x="742.90" y="1085.50" font-size="11.8" font-weight="bold" text-anchor="middle" textLength="66.40" lengthAdjust="spacingAndGlyphs" transform="rotate(-90 742.90 1085.50)" >HCT116-res</text>
<text x="471.00" y="1134.20" font-size="13" font-weight="bold" font-style="italic" textLength="45.30" lengthAdjust="spacingAndGlyphs" >Exon 13</text>
<text x="629.40" y="1134.00" font-size="13" font-weight="bold" font-style="italic" textLength="45.60" lengthAdjust="spacingAndGlyphs" >Exon 14</text>
</svg></body></html>
